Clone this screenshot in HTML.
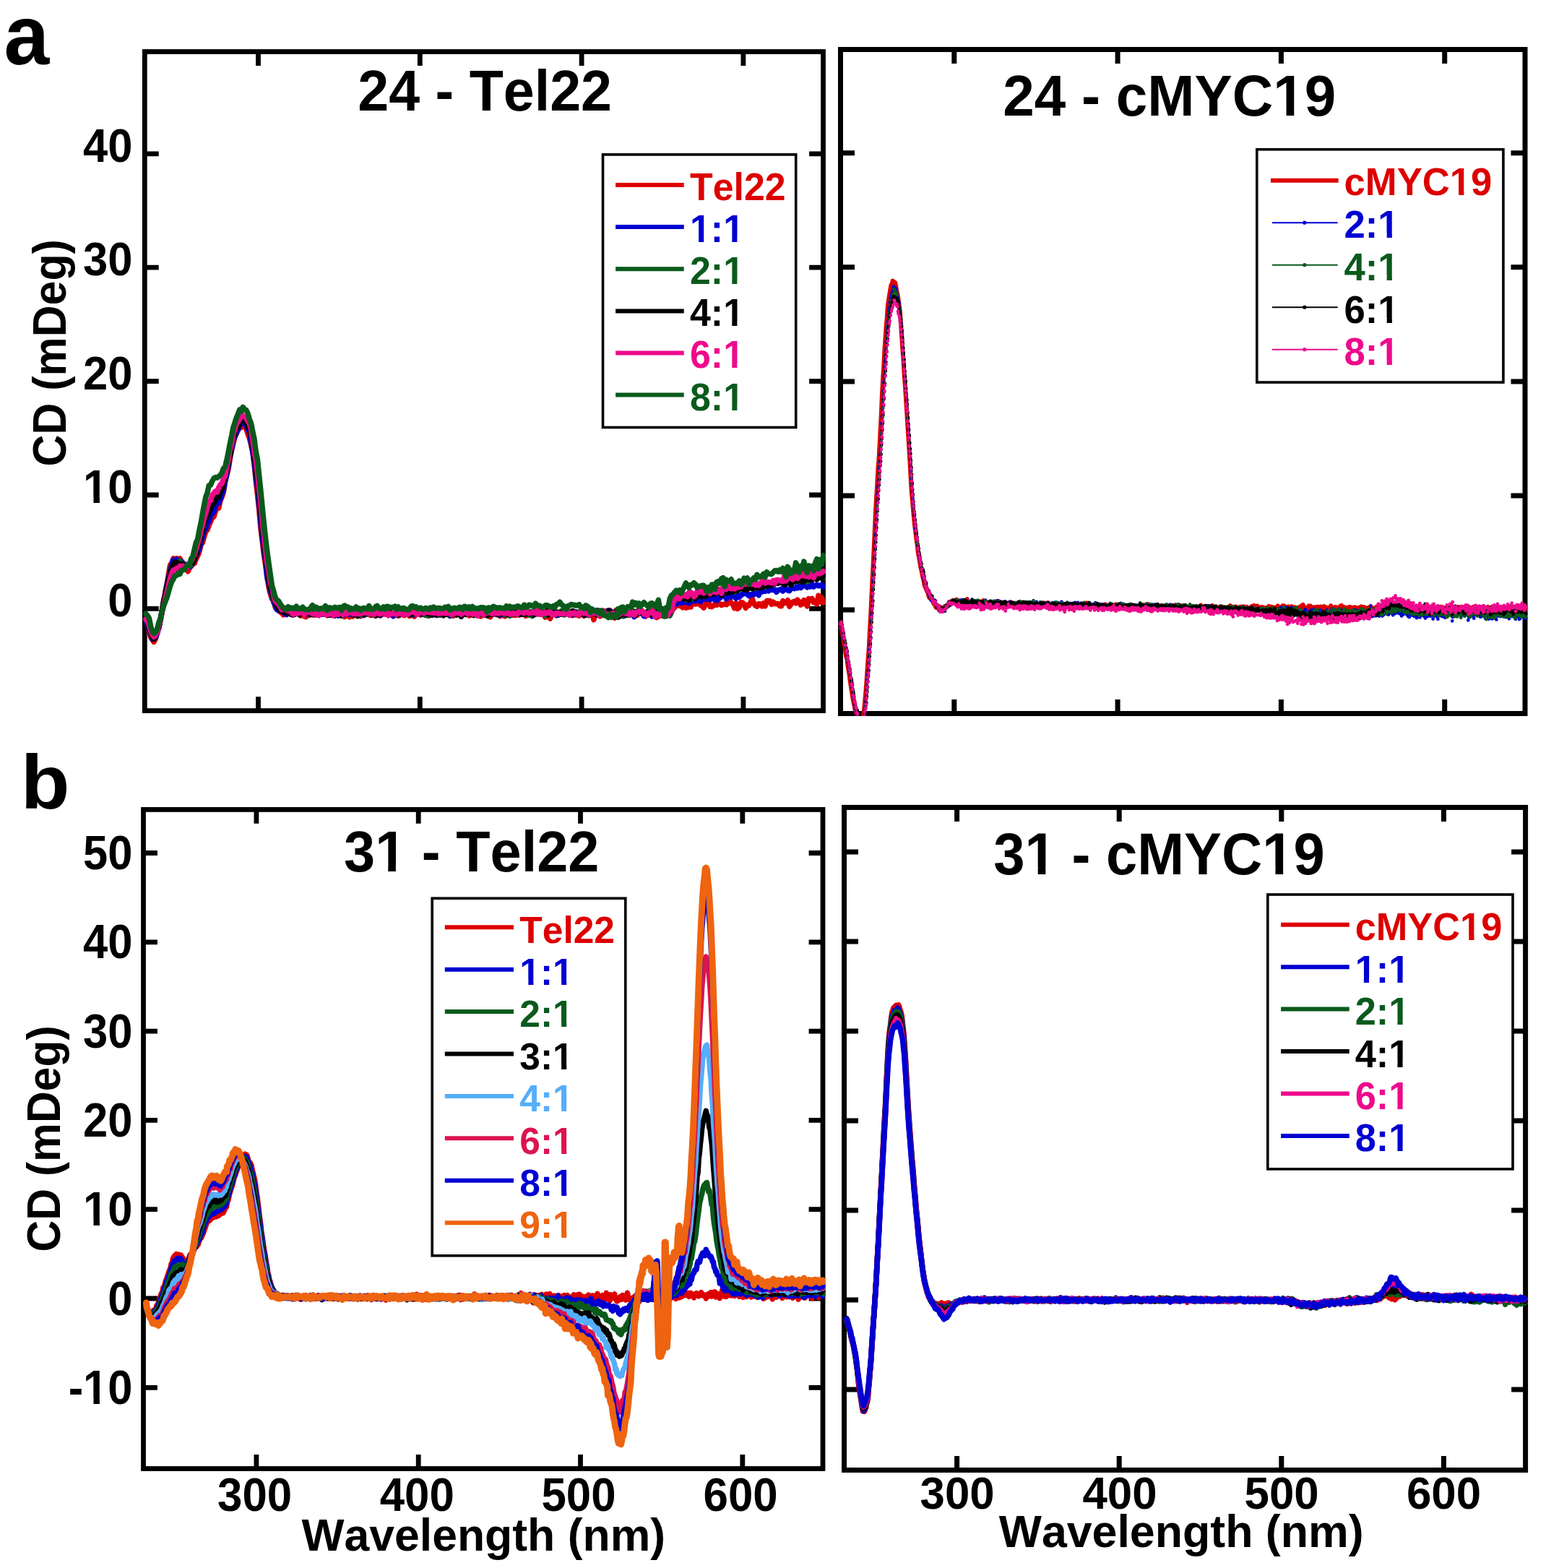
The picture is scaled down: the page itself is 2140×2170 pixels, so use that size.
<!DOCTYPE html><html><head><meta charset="utf-8"><title>CD spectra</title><style>html,body{margin:0;padding:0;background:#fff;overflow:hidden;}svg{display:block;}</style></head><body><svg width="2140" height="2170" viewBox="0 0 2140 2170">
<defs><clipPath id="cAL"><rect x="196.9" y="68.1" width="946.0" height="918.9"/></clipPath><clipPath id="cAR"><rect x="1160.0" y="65.0" width="954.5" height="926.0"/></clipPath><clipPath id="cBL"><rect x="195.1" y="1117.0" width="947.3" height="918.9"/></clipPath><clipPath id="cBR"><rect x="1165.0" y="1113.9" width="950.1" height="924.1"/></clipPath></defs>
<rect width="2140" height="2170" fill="#fff"/>
<rect x="200.3" y="71.5" width="939.2" height="912.1" fill="none" stroke="#000" stroke-width="6.8"/>
<path d="M357.5,71.5v19.4M357.5,983.6v-19.4M581.3,71.5v19.4M581.3,983.6v-19.4M805.1,71.5v19.4M805.1,983.6v-19.4M1028.9,71.5v19.4M1028.9,983.6v-19.4M200.3,842.4h19.4M1139.5,842.4h-19.4M200.3,685.0h19.4M1139.5,685.0h-19.4M200.3,527.6h19.4M1139.5,527.6h-19.4M200.3,370.2h19.4M1139.5,370.2h-19.4M200.3,212.8h19.4M1139.5,212.8h-19.4" stroke="#000" stroke-width="6.8" fill="none"/>
<rect x="1163.5" y="68.5" width="947.5" height="919.0" fill="none" stroke="#000" stroke-width="7.0"/>
<path d="M1320.8,68.5v19.5M1320.8,987.5v-19.5M1547.1,68.5v19.5M1547.1,987.5v-19.5M1773.4,68.5v19.5M1773.4,987.5v-19.5M1999.7,68.5v19.5M1999.7,987.5v-19.5M1163.5,844.1h19.5M2111.0,844.1h-19.5M1163.5,686.0h19.5M2111.0,686.0h-19.5M1163.5,527.9h19.5M2111.0,527.9h-19.5M1163.5,369.8h19.5M2111.0,369.8h-19.5M1163.5,211.7h19.5M2111.0,211.7h-19.5" stroke="#000" stroke-width="7.0" fill="none"/>
<rect x="198.5" y="1120.4" width="940.5" height="912.1" fill="none" stroke="#000" stroke-width="6.8"/>
<path d="M354.9,1120.4v19.4M354.9,2032.5v-19.4M579.2,1120.4v19.4M579.2,2032.5v-19.4M803.5,1120.4v19.4M803.5,2032.5v-19.4M1027.8,1120.4v19.4M1027.8,2032.5v-19.4M198.5,1920.3h19.4M1139.0,1920.3h-19.4M198.5,1797.0h19.4M1139.0,1797.0h-19.4M198.5,1673.7h19.4M1139.0,1673.7h-19.4M198.5,1550.4h19.4M1139.0,1550.4h-19.4M198.5,1427.1h19.4M1139.0,1427.1h-19.4M198.5,1303.8h19.4M1139.0,1303.8h-19.4M198.5,1180.5h19.4M1139.0,1180.5h-19.4" stroke="#000" stroke-width="6.8" fill="none"/>
<rect x="1168.5" y="1117.4" width="943.1" height="917.1" fill="none" stroke="#000" stroke-width="7.0"/>
<path d="M1324.6,1117.4v19.5M1324.6,2034.5v-19.5M1549.2,1117.4v19.5M1549.2,2034.5v-19.5M1773.8,1117.4v19.5M1773.8,2034.5v-19.5M1998.4,1117.4v19.5M1998.4,2034.5v-19.5M1168.5,1923.0h19.5M2111.6,1923.0h-19.5M1168.5,1799.0h19.5M2111.6,1799.0h-19.5M1168.5,1675.0h19.5M2111.6,1675.0h-19.5M1168.5,1551.0h19.5M2111.6,1551.0h-19.5M1168.5,1427.0h19.5M2111.6,1427.0h-19.5M1168.5,1303.0h19.5M2111.6,1303.0h-19.5M1168.5,1179.0h19.5M2111.6,1179.0h-19.5" stroke="#000" stroke-width="7.0" fill="none"/>
<g clip-path="url(#cAL)">
<polyline points="202.0,858.1 204.2,864.0 206.4,873.4 208.7,882.0 210.9,885.1 213.1,888.4 215.4,883.8 217.6,873.7 219.9,869.0 222.1,858.6 224.3,844.5 226.6,832.2 228.8,819.1 231.1,808.4 233.3,795.0 235.5,782.4 237.8,779.0 240.0,772.9 242.2,773.9 244.5,772.9 246.7,774.8 249.0,773.0 251.2,778.5 253.4,778.9 255.7,782.3 257.9,785.7 260.1,790.8 262.4,785.9 264.6,783.4 266.9,780.2 269.1,779.8 271.3,773.6 273.6,769.5 275.8,763.5 278.1,753.8 280.3,751.2 282.5,743.1 284.8,735.5 287.0,733.1 289.2,727.1 291.5,721.7 293.7,716.9 296.0,714.9 298.2,707.9 300.4,701.4 302.7,703.2 304.9,693.0 307.1,687.7 309.4,681.2 311.6,666.5 313.9,657.4 316.1,649.1 318.3,635.1 320.6,622.5 322.8,613.8 325.0,604.6 327.3,600.1 329.5,593.9 331.8,589.4 334.0,591.5 336.2,588.6 338.5,591.1 340.7,593.1 343.0,600.1 345.2,606.0 347.4,614.6 349.7,625.0 351.9,640.8 354.1,664.1 356.4,684.0 358.6,704.2 360.9,731.1 363.1,748.8 365.3,767.0 367.6,781.8 369.8,798.6 372.0,812.2 374.3,821.6 376.5,828.9 378.8,831.0 381.0,839.9 383.2,843.4 385.5,844.2 387.7,846.8 390.0,848.2 392.2,850.8 394.4,848.8 396.7,849.8 398.9,846.6 401.1,847.7 403.4,849.2 405.6,847.9 407.9,850.0 410.1,847.2 412.3,849.4 414.6,848.2 416.8,852.1 419.0,848.8 421.3,852.9 423.5,853.6 425.8,850.1 428.0,851.3 430.2,849.1 432.5,844.9 434.7,851.2 436.9,850.8 439.2,849.1 441.4,848.5 443.7,849.8 445.9,849.9 448.1,848.0 450.4,848.4 452.6,851.6 454.9,849.6 457.1,849.4 459.3,851.6 461.6,849.0 463.8,851.2 466.0,847.5 468.3,849.1 470.5,849.3 472.8,850.7 475.0,849.7 477.2,853.6 479.5,851.8 481.7,848.7 483.9,853.8 486.2,847.8 488.4,853.1 490.7,847.9 492.9,851.2 495.1,847.9 497.4,849.2 499.6,852.6 501.9,846.9 504.1,846.5 506.3,849.6 508.6,850.0 510.8,849.8 513.0,851.5 515.3,847.2 517.5,850.6 519.8,849.6 522.0,851.1 524.2,850.8 526.5,852.1 528.7,846.9 530.9,849.8 533.2,847.5 535.4,849.5 537.7,850.9 539.9,850.2 542.1,850.6 544.4,849.5 546.6,850.3 548.8,850.1 551.1,852.3 553.3,851.1 555.6,846.1 557.8,850.9 560.0,851.6 562.3,848.8 564.5,846.6 566.8,852.5 569.0,849.9 571.2,850.8 573.5,853.1 575.7,848.0 577.9,849.5 580.2,849.3 582.4,851.0 584.7,848.6 586.9,850.6 589.1,849.8 591.4,851.8 593.6,852.0 595.8,846.8 598.1,850.5 600.3,848.9 602.6,849.6 604.8,850.4 607.0,850.5 609.3,848.2 611.5,850.1 613.8,849.8 616.0,849.4 618.2,847.1 620.5,848.1 622.7,848.7 624.9,850.6 627.2,852.3 629.4,847.5 631.7,847.5 633.9,849.8 636.1,848.4 638.4,847.9 640.6,847.8 642.8,847.6 645.1,850.4 647.3,846.4 649.6,852.0 651.8,847.7 654.0,848.5 656.3,847.7 658.5,845.6 660.7,846.4 663.0,851.8 665.2,852.9 667.5,847.8 669.7,851.6 671.9,849.5 674.2,847.8 676.4,852.8 678.7,853.8 680.9,849.0 683.1,849.4 685.4,850.0 687.6,849.4 689.8,851.2 692.1,852.6 694.3,849.8 696.6,851.5 698.8,852.8 701.0,848.4 703.3,849.6 705.5,848.7 707.7,851.5 710.0,850.8 712.2,851.5 714.5,851.3 716.7,849.1 718.9,851.1 721.2,848.8 723.4,848.8 725.7,845.3 727.9,852.3 730.1,847.7 732.4,849.7 734.6,849.5 736.8,852.4 739.1,850.4 741.3,848.0 743.6,849.7 745.8,849.3 748.0,850.1 750.3,847.1 752.5,849.5 754.7,854.0 757.0,850.9 759.2,853.5 761.5,856.1 763.7,850.6 765.9,846.8 768.2,849.4 770.4,851.9 772.6,851.4 774.9,847.2 777.1,849.2 779.4,849.4 781.6,849.6 783.8,849.4 786.1,847.8 788.3,848.4 790.6,849.0 792.8,851.6 795.0,848.4 797.3,850.9 799.5,847.2 801.7,852.1 804.0,849.8 806.2,849.5 808.5,852.2 810.7,846.0 812.9,846.5 815.2,850.4 817.4,847.1 819.6,848.3 821.9,857.7 824.1,848.7 826.4,849.7 828.6,849.2 830.8,852.9 833.1,850.3 835.3,850.0 837.6,845.7 839.8,848.4 842.0,849.5 844.3,844.7 846.5,851.2 848.7,850.7 851.0,855.2 853.2,844.5 855.5,846.4 857.7,846.6 859.9,847.4 862.2,849.1 864.4,848.8 866.6,850.3 868.9,850.1 871.1,849.3 873.4,844.7 875.6,847.7 877.8,849.7 880.1,851.3 882.3,851.5 884.5,844.4 886.8,847.9 889.0,849.3 891.3,850.6 893.5,853.0 895.7,849.7 898.0,846.7 900.2,850.7 902.5,850.2 904.7,850.2 906.9,849.1 909.2,854.5 911.4,850.2 913.6,852.2 915.9,846.7 918.1,851.9 920.4,847.7 922.6,844.7 924.8,850.5 927.1,851.4 929.3,847.7 931.5,842.1 933.8,841.1 936.0,836.4 938.3,831.4 940.5,838.5 942.7,838.2 945.0,840.8 947.2,836.4 949.5,841.2 951.7,840.7 953.9,833.1 956.2,840.0 958.4,833.6 960.6,832.2 962.9,836.1 965.1,835.2 967.4,830.7 969.6,837.5 971.8,838.7 974.1,841.0 976.3,836.6 978.5,832.1 980.8,833.7 983.0,839.6 985.3,839.4 987.5,838.2 989.7,835.7 992.0,837.3 994.2,835.9 996.4,835.6 998.7,837.5 1000.9,836.7 1003.2,835.9 1005.4,836.8 1007.6,834.9 1009.9,830.6 1012.1,834.6 1014.4,836.2 1016.6,841.7 1018.8,835.1 1021.1,842.4 1023.3,840.7 1025.5,833.5 1027.8,833.9 1030.0,836.5 1032.3,841.4 1034.5,837.1 1036.7,838.0 1039.0,833.8 1041.2,828.6 1043.4,835.0 1045.7,838.1 1047.9,839.2 1050.2,835.6 1052.4,835.9 1054.6,838.9 1056.9,834.9 1059.1,838.8 1061.4,831.6 1063.6,831.6 1065.8,831.5 1068.1,836.3 1070.3,833.1 1072.5,835.1 1074.8,835.8 1077.0,835.5 1079.3,838.5 1081.5,838.8 1083.7,831.7 1086.0,834.7 1088.2,833.4 1090.4,830.8 1092.7,839.3 1094.9,836.3 1097.2,833.1 1099.4,832.4 1101.6,834.7 1103.9,830.2 1106.1,832.7 1108.3,837.1 1110.6,836.1 1112.8,830.6 1115.1,831.6 1117.3,838.9 1119.5,828.6 1121.8,830.9 1124.0,828.4 1126.3,833.8 1128.5,833.4 1130.7,836.0 1133.0,824.3 1135.2,832.8 1137.4,827.1 1139.7,834.1" fill="none" stroke="#dd0000" stroke-width="7.5" stroke-linejoin="round" stroke-linecap="round" />
<polyline points="202.0,856.9 204.2,865.3 206.4,871.1 208.7,876.7 210.9,884.5 213.1,883.3 215.4,882.1 217.6,877.0 219.9,868.0 222.1,857.7 224.3,845.9 226.6,834.8 228.8,822.6 231.1,809.9 233.3,800.1 235.5,790.1 237.8,780.9 240.0,775.1 242.2,776.6 244.5,774.1 246.7,775.5 249.0,777.0 251.2,776.8 253.4,781.7 255.7,781.0 257.9,786.6 260.1,784.5 262.4,784.1 264.6,783.0 266.9,777.7 269.1,774.8 271.3,769.0 273.6,764.3 275.8,759.5 278.1,751.3 280.3,743.8 282.5,735.1 284.8,731.6 287.0,724.3 289.2,721.7 291.5,713.1 293.7,711.2 296.0,708.0 298.2,701.2 300.4,695.8 302.7,696.2 304.9,690.7 307.1,684.1 309.4,677.2 311.6,666.1 313.9,657.0 316.1,644.9 318.3,631.3 320.6,622.0 322.8,609.9 325.0,604.5 327.3,598.8 329.5,595.0 331.8,586.0 334.0,587.0 336.2,585.1 338.5,586.6 340.7,589.1 343.0,593.5 345.2,597.6 347.4,611.4 349.7,624.6 351.9,639.5 354.1,657.6 356.4,674.6 358.6,697.0 360.9,721.3 363.1,742.9 365.3,760.8 367.6,776.0 369.8,798.8 372.0,805.9 374.3,818.7 376.5,823.7 378.8,833.4 381.0,837.5 383.2,843.3 385.5,844.9 387.7,842.9 390.0,845.0 392.2,847.8 394.4,848.8 396.7,850.6 398.9,848.4 401.1,847.9 403.4,848.8 405.6,848.8 407.9,850.4 410.1,848.8 412.3,848.8 414.6,846.7 416.8,845.8 419.0,848.9 421.3,849.9 423.5,848.8 425.8,849.7 428.0,849.9 430.2,848.8 432.5,850.4 434.7,847.8 436.9,848.9 439.2,848.3 441.4,849.0 443.7,849.9 445.9,850.2 448.1,849.1 450.4,849.6 452.6,848.4 454.9,848.8 457.1,850.9 459.3,848.7 461.6,850.9 463.8,849.8 466.0,849.3 468.3,852.1 470.5,848.7 472.8,848.6 475.0,849.1 477.2,849.5 479.5,849.4 481.7,850.4 483.9,849.2 486.2,849.7 488.4,848.7 490.7,850.7 492.9,848.5 495.1,848.6 497.4,849.1 499.6,849.5 501.9,848.0 504.1,851.5 506.3,848.1 508.6,848.5 510.8,848.4 513.0,848.2 515.3,849.9 517.5,849.3 519.8,847.9 522.0,848.2 524.2,848.5 526.5,851.3 528.7,848.0 530.9,847.0 533.2,847.3 535.4,848.5 537.7,851.3 539.9,847.4 542.1,849.1 544.4,852.9 546.6,848.3 548.8,851.2 551.1,850.9 553.3,849.9 555.6,846.9 557.8,849.5 560.0,848.5 562.3,846.1 564.5,846.4 566.8,849.1 569.0,849.3 571.2,850.9 573.5,850.0 575.7,848.2 577.9,848.3 580.2,848.7 582.4,847.3 584.7,850.1 586.9,849.0 589.1,847.7 591.4,848.0 593.6,847.2 595.8,848.3 598.1,849.4 600.3,848.3 602.6,850.5 604.8,851.5 607.0,848.0 609.3,849.0 611.5,848.4 613.8,851.6 616.0,849.5 618.2,849.8 620.5,850.3 622.7,852.4 624.9,849.4 627.2,847.5 629.4,848.3 631.7,849.8 633.9,848.9 636.1,847.7 638.4,853.2 640.6,849.1 642.8,848.0 645.1,847.8 647.3,846.2 649.6,847.1 651.8,848.4 654.0,848.4 656.3,847.7 658.5,849.7 660.7,849.0 663.0,847.5 665.2,845.8 667.5,849.1 669.7,849.0 671.9,848.6 674.2,846.8 676.4,848.9 678.7,846.6 680.9,850.4 683.1,849.2 685.4,849.2 687.6,847.7 689.8,847.2 692.1,851.3 694.3,850.3 696.6,848.4 698.8,849.9 701.0,851.3 703.3,847.3 705.5,848.1 707.7,848.1 710.0,849.6 712.2,847.3 714.5,849.3 716.7,847.2 718.9,850.3 721.2,850.2 723.4,848.6 725.7,850.0 727.9,847.8 730.1,848.5 732.4,850.3 734.6,848.8 736.8,849.4 739.1,847.5 741.3,849.9 743.6,849.6 745.8,847.0 748.0,845.4 750.3,845.7 752.5,848.8 754.7,848.5 757.0,846.5 759.2,849.1 761.5,850.4 763.7,848.7 765.9,848.2 768.2,850.2 770.4,851.5 772.6,851.2 774.9,847.8 777.1,850.1 779.4,849.1 781.6,848.6 783.8,847.9 786.1,849.4 788.3,848.1 790.6,850.3 792.8,849.5 795.0,850.5 797.3,847.1 799.5,848.9 801.7,850.1 804.0,849.4 806.2,849.2 808.5,847.8 810.7,851.4 812.9,850.5 815.2,849.5 817.4,843.7 819.6,846.9 821.9,849.1 824.1,847.4 826.4,844.7 828.6,849.4 830.8,849.6 833.1,846.4 835.3,847.9 837.6,847.5 839.8,849.9 842.0,845.0 844.3,845.4 846.5,847.7 848.7,847.5 851.0,853.0 853.2,847.6 855.5,849.3 857.7,848.0 859.9,847.5 862.2,849.6 864.4,852.4 866.6,848.1 868.9,850.4 871.1,849.6 873.4,850.1 875.6,849.6 877.8,853.6 880.1,846.4 882.3,848.4 884.5,846.6 886.8,844.8 889.0,848.8 891.3,852.6 893.5,850.7 895.7,851.4 898.0,849.9 900.2,848.7 902.5,853.0 904.7,848.2 906.9,852.0 909.2,848.3 911.4,849.1 913.6,849.5 915.9,849.0 918.1,850.0 920.4,850.1 922.6,852.3 924.8,849.0 927.1,845.1 929.3,842.2 931.5,837.9 933.8,833.6 936.0,836.1 938.3,831.5 940.5,834.2 942.7,834.0 945.0,834.1 947.2,833.0 949.5,833.8 951.7,832.8 953.9,834.6 956.2,832.8 958.4,827.1 960.6,831.6 962.9,831.7 965.1,829.8 967.4,829.1 969.6,832.6 971.8,830.4 974.1,827.8 976.3,828.9 978.5,828.9 980.8,825.6 983.0,829.9 985.3,828.1 987.5,829.0 989.7,824.6 992.0,831.3 994.2,828.4 996.4,827.8 998.7,825.1 1000.9,824.9 1003.2,823.0 1005.4,828.8 1007.6,823.8 1009.9,825.6 1012.1,826.1 1014.4,823.3 1016.6,826.0 1018.8,828.1 1021.1,824.3 1023.3,826.3 1025.5,824.3 1027.8,821.9 1030.0,821.7 1032.3,818.8 1034.5,822.2 1036.7,824.6 1039.0,822.7 1041.2,822.8 1043.4,823.1 1045.7,819.4 1047.9,821.3 1050.2,823.7 1052.4,818.0 1054.6,819.3 1056.9,818.1 1059.1,818.3 1061.4,816.9 1063.6,817.9 1065.8,815.1 1068.1,816.5 1070.3,816.2 1072.5,815.9 1074.8,819.4 1077.0,816.5 1079.3,816.4 1081.5,815.1 1083.7,818.1 1086.0,811.6 1088.2,814.5 1090.4,816.9 1092.7,817.6 1094.9,814.4 1097.2,813.7 1099.4,814.7 1101.6,812.7 1103.9,813.9 1106.1,811.2 1108.3,813.5 1110.6,811.8 1112.8,809.4 1115.1,805.9 1117.3,812.9 1119.5,811.5 1121.8,812.0 1124.0,808.4 1126.3,812.0 1128.5,810.4 1130.7,809.2 1133.0,810.8 1135.2,810.5 1137.4,809.2 1139.7,812.2" fill="none" stroke="#0000d2" stroke-width="7.5" stroke-linejoin="round" stroke-linecap="round" />
<polyline points="202.0,857.9 204.2,860.2 206.4,866.4 208.7,875.4 210.9,882.6 213.1,883.3 215.4,879.1 217.6,872.6 219.9,866.0 222.1,857.8 224.3,845.2 226.6,836.6 228.8,826.5 231.1,815.4 233.3,802.1 235.5,794.7 237.8,786.4 240.0,784.7 242.2,779.8 244.5,781.3 246.7,780.3 249.0,776.4 251.2,780.5 253.4,784.0 255.7,784.7 257.9,784.9 260.1,782.4 262.4,782.8 264.6,782.0 266.9,776.0 269.1,770.9 271.3,765.4 273.6,756.6 275.8,750.4 278.1,741.7 280.3,736.1 282.5,724.6 284.8,715.0 287.0,710.2 289.2,705.5 291.5,700.8 293.7,694.0 296.0,694.4 298.2,689.7 300.4,685.7 302.7,682.2 304.9,680.2 307.1,674.1 309.4,668.4 311.6,659.9 313.9,650.5 316.1,640.8 318.3,627.2 320.6,614.5 322.8,607.3 325.0,598.3 327.3,590.6 329.5,588.4 331.8,583.0 334.0,582.2 336.2,577.8 338.5,576.8 340.7,579.6 343.0,587.1 345.2,592.4 347.4,602.2 349.7,614.2 351.9,626.6 354.1,647.7 356.4,663.0 358.6,686.4 360.9,705.5 363.1,728.6 365.3,750.2 367.6,767.4 369.8,783.8 372.0,798.7 374.3,809.9 376.5,821.1 378.8,831.0 381.0,832.2 383.2,836.8 385.5,840.5 387.7,842.4 390.0,842.3 392.2,845.6 394.4,846.4 396.7,845.9 398.9,843.9 401.1,848.0 403.4,846.6 405.6,849.5 407.9,850.2 410.1,846.5 412.3,848.6 414.6,850.5 416.8,849.1 419.0,847.0 421.3,846.6 423.5,849.2 425.8,847.9 428.0,847.4 430.2,849.5 432.5,848.0 434.7,848.6 436.9,849.4 439.2,849.3 441.4,848.4 443.7,848.5 445.9,849.4 448.1,849.2 450.4,846.8 452.6,848.2 454.9,847.2 457.1,846.7 459.3,847.7 461.6,845.0 463.8,849.9 466.0,847.3 468.3,849.1 470.5,845.7 472.8,845.9 475.0,851.7 477.2,850.1 479.5,847.6 481.7,847.4 483.9,847.5 486.2,848.7 488.4,847.9 490.7,847.6 492.9,848.8 495.1,847.0 497.4,852.2 499.6,847.6 501.9,850.3 504.1,847.1 506.3,849.0 508.6,850.1 510.8,848.1 513.0,850.1 515.3,850.1 517.5,851.1 519.8,848.7 522.0,847.9 524.2,847.1 526.5,848.9 528.7,847.0 530.9,848.6 533.2,848.8 535.4,847.8 537.7,847.0 539.9,849.2 542.1,849.1 544.4,848.9 546.6,848.6 548.8,850.1 551.1,847.1 553.3,849.3 555.6,848.0 557.8,850.0 560.0,848.1 562.3,848.1 564.5,849.4 566.8,845.5 569.0,848.1 571.2,845.9 573.5,847.2 575.7,849.7 577.9,849.3 580.2,848.0 582.4,848.6 584.7,848.6 586.9,849.1 589.1,851.5 591.4,849.1 593.6,852.2 595.8,848.1 598.1,849.8 600.3,849.8 602.6,849.0 604.8,848.3 607.0,850.9 609.3,851.4 611.5,850.4 613.8,851.9 616.0,850.2 618.2,846.2 620.5,850.4 622.7,847.7 624.9,850.9 627.2,848.2 629.4,849.2 631.7,848.8 633.9,847.8 636.1,845.9 638.4,848.4 640.6,848.5 642.8,850.2 645.1,847.8 647.3,849.1 649.6,847.4 651.8,848.8 654.0,846.0 656.3,851.8 658.5,849.2 660.7,847.3 663.0,849.2 665.2,849.9 667.5,849.1 669.7,850.9 671.9,848.5 674.2,844.9 676.4,846.9 678.7,850.4 680.9,850.1 683.1,849.3 685.4,847.1 687.6,850.0 689.8,849.8 692.1,847.3 694.3,847.3 696.6,849.3 698.8,850.5 701.0,851.1 703.3,849.8 705.5,852.2 707.7,847.5 710.0,849.7 712.2,847.9 714.5,845.8 716.7,846.8 718.9,850.5 721.2,847.3 723.4,846.9 725.7,849.9 727.9,850.2 730.1,848.9 732.4,851.2 734.6,846.4 736.8,852.5 739.1,850.4 741.3,849.1 743.6,849.1 745.8,848.4 748.0,848.3 750.3,849.0 752.5,846.9 754.7,852.1 757.0,848.7 759.2,849.8 761.5,848.5 763.7,848.3 765.9,850.1 768.2,849.7 770.4,847.4 772.6,848.1 774.9,849.8 777.1,845.5 779.4,845.1 781.6,851.0 783.8,848.2 786.1,844.7 788.3,847.5 790.6,848.3 792.8,849.0 795.0,849.5 797.3,849.0 799.5,849.6 801.7,847.5 804.0,849.3 806.2,849.4 808.5,850.6 810.7,848.8 812.9,850.1 815.2,849.0 817.4,846.6 819.6,847.9 821.9,847.7 824.1,848.0 826.4,848.6 828.6,849.0 830.8,849.3 833.1,847.1 835.3,850.9 837.6,846.0 839.8,848.6 842.0,850.2 844.3,849.7 846.5,850.1 848.7,848.4 851.0,850.2 853.2,846.4 855.5,850.3 857.7,853.3 859.9,850.2 862.2,852.8 864.4,848.8 866.6,846.5 868.9,847.4 871.1,851.4 873.4,850.3 875.6,845.1 877.8,848.0 880.1,848.7 882.3,846.5 884.5,843.7 886.8,846.0 889.0,848.4 891.3,848.0 893.5,847.4 895.7,849.9 898.0,850.9 900.2,848.6 902.5,850.6 904.7,848.8 906.9,848.5 909.2,843.9 911.4,850.4 913.6,848.9 915.9,849.0 918.1,847.8 920.4,846.6 922.6,849.7 924.8,850.4 927.1,852.1 929.3,846.8 931.5,835.4 933.8,828.1 936.0,830.0 938.3,828.3 940.5,827.1 942.7,825.8 945.0,827.7 947.2,826.7 949.5,829.6 951.7,827.9 953.9,821.9 956.2,829.3 958.4,825.2 960.6,823.7 962.9,824.6 965.1,825.1 967.4,823.3 969.6,822.8 971.8,822.6 974.1,826.0 976.3,822.1 978.5,823.2 980.8,822.2 983.0,820.3 985.3,819.1 987.5,818.2 989.7,820.7 992.0,817.5 994.2,816.6 996.4,816.4 998.7,815.5 1000.9,818.3 1003.2,818.0 1005.4,815.7 1007.6,819.8 1009.9,816.2 1012.1,817.4 1014.4,816.7 1016.6,819.2 1018.8,817.1 1021.1,815.0 1023.3,812.8 1025.5,812.3 1027.8,814.1 1030.0,814.0 1032.3,815.0 1034.5,812.1 1036.7,813.1 1039.0,811.0 1041.2,808.3 1043.4,811.6 1045.7,814.3 1047.9,812.6 1050.2,813.5 1052.4,812.6 1054.6,807.2 1056.9,809.1 1059.1,812.3 1061.4,807.5 1063.6,805.9 1065.8,808.9 1068.1,809.2 1070.3,808.2 1072.5,806.6 1074.8,805.5 1077.0,804.0 1079.3,803.6 1081.5,803.3 1083.7,802.6 1086.0,803.7 1088.2,807.9 1090.4,804.7 1092.7,803.4 1094.9,804.5 1097.2,801.5 1099.4,803.8 1101.6,804.6 1103.9,799.4 1106.1,800.7 1108.3,801.2 1110.6,799.5 1112.8,798.8 1115.1,800.0 1117.3,805.4 1119.5,801.4 1121.8,800.6 1124.0,801.3 1126.3,798.6 1128.5,796.2 1130.7,799.3 1133.0,800.3 1135.2,793.5 1137.4,798.2 1139.7,799.4" fill="none" stroke="#0a5a1c" stroke-width="7.5" stroke-linejoin="round" stroke-linecap="round" />
<polyline points="202.0,855.6 204.2,859.5 206.4,868.5 208.7,874.5 210.9,881.2 213.1,884.5 215.4,880.5 217.6,872.7 219.9,867.1 222.1,856.0 224.3,846.2 226.6,830.9 228.8,825.1 231.1,811.0 233.3,803.3 235.5,793.8 237.8,785.6 240.0,781.0 242.2,777.9 244.5,778.6 246.7,779.9 249.0,780.2 251.2,780.2 253.4,781.9 255.7,782.2 257.9,784.7 260.1,782.8 262.4,780.0 264.6,779.5 266.9,778.5 269.1,773.5 271.3,768.7 273.6,757.3 275.8,753.6 278.1,742.7 280.3,735.4 282.5,725.4 284.8,719.1 287.0,714.1 289.2,708.8 291.5,703.5 293.7,699.1 296.0,696.2 298.2,691.9 300.4,686.1 302.7,688.1 304.9,681.0 307.1,677.7 309.4,669.2 311.6,660.1 313.9,651.4 316.1,638.7 318.3,630.7 320.6,615.1 322.8,607.7 325.0,598.0 327.3,592.4 329.5,591.9 331.8,585.6 334.0,581.4 336.2,578.3 338.5,581.2 340.7,583.7 343.0,590.4 345.2,592.7 347.4,601.0 349.7,615.8 351.9,631.2 354.1,650.1 356.4,665.5 358.6,684.5 360.9,709.0 363.1,729.3 365.3,750.5 367.6,771.5 369.8,784.7 372.0,802.3 374.3,812.2 376.5,820.9 378.8,827.0 381.0,833.6 383.2,837.9 385.5,842.4 387.7,845.1 390.0,844.3 392.2,846.4 394.4,847.8 396.7,848.0 398.9,846.9 401.1,849.2 403.4,850.6 405.6,851.1 407.9,848.2 410.1,847.9 412.3,845.4 414.6,850.9 416.8,849.6 419.0,847.1 421.3,848.9 423.5,849.1 425.8,845.9 428.0,849.1 430.2,850.4 432.5,850.6 434.7,848.0 436.9,848.1 439.2,850.7 441.4,850.1 443.7,847.8 445.9,847.7 448.1,849.6 450.4,847.6 452.6,847.7 454.9,851.4 457.1,849.1 459.3,848.0 461.6,849.5 463.8,852.0 466.0,849.1 468.3,847.5 470.5,846.2 472.8,852.1 475.0,844.5 477.2,850.4 479.5,847.1 481.7,846.7 483.9,847.1 486.2,848.4 488.4,850.5 490.7,847.7 492.9,849.8 495.1,852.6 497.4,844.2 499.6,847.6 501.9,845.8 504.1,850.1 506.3,846.4 508.6,846.2 510.8,846.2 513.0,848.7 515.3,850.6 517.5,849.0 519.8,852.2 522.0,851.4 524.2,848.6 526.5,850.3 528.7,849.0 530.9,848.9 533.2,845.7 535.4,846.7 537.7,848.8 539.9,846.8 542.1,849.9 544.4,849.3 546.6,847.3 548.8,850.7 551.1,849.2 553.3,850.8 555.6,848.5 557.8,846.2 560.0,849.9 562.3,848.4 564.5,850.1 566.8,850.5 569.0,850.7 571.2,846.4 573.5,845.0 575.7,848.0 577.9,849.9 580.2,847.6 582.4,849.3 584.7,847.5 586.9,848.3 589.1,848.3 591.4,847.8 593.6,849.6 595.8,849.4 598.1,851.4 600.3,849.4 602.6,851.0 604.8,849.0 607.0,850.2 609.3,848.6 611.5,848.0 613.8,851.0 616.0,850.0 618.2,850.2 620.5,847.6 622.7,846.0 624.9,847.4 627.2,849.3 629.4,846.4 631.7,851.1 633.9,846.4 636.1,849.8 638.4,853.1 640.6,844.6 642.8,846.3 645.1,850.4 647.3,848.5 649.6,849.1 651.8,848.6 654.0,851.1 656.3,849.8 658.5,848.0 660.7,848.4 663.0,846.8 665.2,848.6 667.5,845.0 669.7,849.9 671.9,848.3 674.2,851.8 676.4,850.7 678.7,846.6 680.9,850.2 683.1,847.9 685.4,848.8 687.6,850.4 689.8,849.3 692.1,849.5 694.3,849.5 696.6,847.5 698.8,847.7 701.0,849.6 703.3,850.2 705.5,848.3 707.7,848.9 710.0,847.1 712.2,844.6 714.5,847.4 716.7,848.8 718.9,849.0 721.2,850.1 723.4,850.2 725.7,850.3 727.9,849.4 730.1,849.4 732.4,847.6 734.6,849.4 736.8,849.0 739.1,850.7 741.3,846.1 743.6,847.9 745.8,845.9 748.0,847.5 750.3,846.4 752.5,849.1 754.7,847.6 757.0,844.5 759.2,850.7 761.5,846.9 763.7,846.1 765.9,848.1 768.2,847.5 770.4,846.7 772.6,849.8 774.9,848.1 777.1,850.1 779.4,849.8 781.6,849.7 783.8,849.0 786.1,848.5 788.3,848.0 790.6,851.0 792.8,845.5 795.0,846.9 797.3,847.6 799.5,849.3 801.7,848.9 804.0,847.9 806.2,848.1 808.5,851.4 810.7,847.5 812.9,844.0 815.2,851.7 817.4,846.6 819.6,848.0 821.9,849.0 824.1,845.9 826.4,851.2 828.6,848.4 830.8,845.7 833.1,849.1 835.3,849.6 837.6,848.5 839.8,849.7 842.0,845.5 844.3,850.6 846.5,846.9 848.7,851.4 851.0,847.3 853.2,849.0 855.5,854.2 857.7,848.7 859.9,851.0 862.2,849.7 864.4,845.5 866.6,851.1 868.9,851.0 871.1,845.7 873.4,848.5 875.6,845.5 877.8,848.1 880.1,850.6 882.3,848.9 884.5,846.1 886.8,846.8 889.0,848.7 891.3,848.6 893.5,849.0 895.7,850.0 898.0,844.7 900.2,848.7 902.5,851.1 904.7,849.7 906.9,847.2 909.2,847.4 911.4,849.0 913.6,850.1 915.9,848.7 918.1,852.3 920.4,851.5 922.6,847.1 924.8,849.7 927.1,847.9 929.3,842.4 931.5,835.7 933.8,829.0 936.0,824.2 938.3,827.0 940.5,828.8 942.7,826.2 945.0,826.5 947.2,828.8 949.5,826.5 951.7,826.7 953.9,830.2 956.2,826.1 958.4,826.0 960.6,826.0 962.9,828.2 965.1,825.1 967.4,824.1 969.6,823.5 971.8,825.8 974.1,821.7 976.3,825.3 978.5,822.9 980.8,819.3 983.0,823.2 985.3,822.5 987.5,818.8 989.7,821.5 992.0,821.0 994.2,819.6 996.4,817.5 998.7,824.0 1000.9,820.8 1003.2,820.9 1005.4,820.7 1007.6,819.9 1009.9,819.5 1012.1,816.8 1014.4,818.9 1016.6,816.5 1018.8,815.6 1021.1,817.6 1023.3,815.5 1025.5,812.0 1027.8,814.4 1030.0,816.1 1032.3,814.6 1034.5,816.0 1036.7,813.2 1039.0,811.6 1041.2,814.8 1043.4,813.2 1045.7,810.1 1047.9,813.1 1050.2,811.4 1052.4,813.6 1054.6,812.8 1056.9,811.8 1059.1,806.0 1061.4,810.9 1063.6,810.9 1065.8,810.6 1068.1,809.5 1070.3,807.4 1072.5,808.1 1074.8,803.9 1077.0,807.3 1079.3,804.5 1081.5,806.6 1083.7,805.6 1086.0,809.4 1088.2,806.4 1090.4,805.9 1092.7,806.0 1094.9,809.5 1097.2,803.0 1099.4,805.3 1101.6,805.0 1103.9,804.3 1106.1,803.9 1108.3,802.3 1110.6,805.4 1112.8,804.4 1115.1,801.5 1117.3,801.5 1119.5,802.3 1121.8,802.3 1124.0,802.5 1126.3,800.6 1128.5,797.7 1130.7,802.0 1133.0,796.4 1135.2,797.4 1137.4,799.8 1139.7,796.9" fill="none" stroke="#000000" stroke-width="7.5" stroke-linejoin="round" stroke-linecap="round" />
<polyline points="202.0,856.7 204.2,859.7 206.4,865.5 208.7,873.3 210.9,878.2 213.1,881.5 215.4,878.4 217.6,875.4 219.9,864.1 222.1,858.2 224.3,847.5 226.6,837.7 228.8,829.1 231.1,820.1 233.3,810.7 235.5,800.6 237.8,793.3 240.0,789.0 242.2,788.5 244.5,786.6 246.7,786.0 249.0,783.5 251.2,787.8 253.4,783.2 255.7,786.3 257.9,786.7 260.1,783.1 262.4,779.0 264.6,776.7 266.9,771.4 269.1,767.8 271.3,760.1 273.6,752.3 275.8,745.6 278.1,734.2 280.3,726.6 282.5,717.2 284.8,710.3 287.0,701.6 289.2,694.1 291.5,692.7 293.7,685.6 296.0,682.7 298.2,679.8 300.4,681.1 302.7,675.1 304.9,670.9 307.1,669.1 309.4,661.8 311.6,658.6 313.9,644.8 316.1,636.1 318.3,621.8 320.6,614.9 322.8,600.8 325.0,594.3 327.3,586.3 329.5,583.9 331.8,579.7 334.0,572.2 336.2,576.2 338.5,576.8 340.7,577.9 343.0,582.9 345.2,586.0 347.4,593.7 349.7,609.2 351.9,624.7 354.1,635.8 356.4,654.1 358.6,675.5 360.9,696.2 363.1,720.8 365.3,740.6 367.6,761.8 369.8,779.6 372.0,790.8 374.3,806.6 376.5,812.7 378.8,824.3 381.0,831.9 383.2,834.2 385.5,835.8 387.7,839.8 390.0,843.9 392.2,842.4 394.4,841.4 396.7,844.7 398.9,845.3 401.1,842.6 403.4,848.1 405.6,850.1 407.9,848.9 410.1,849.5 412.3,847.9 414.6,848.2 416.8,846.5 419.0,847.2 421.3,850.8 423.5,847.7 425.8,847.0 428.0,847.7 430.2,846.8 432.5,849.2 434.7,849.9 436.9,846.9 439.2,850.1 441.4,851.8 443.7,846.8 445.9,849.5 448.1,848.9 450.4,850.6 452.6,850.5 454.9,850.2 457.1,849.0 459.3,847.8 461.6,852.0 463.8,847.2 466.0,850.3 468.3,850.1 470.5,847.4 472.8,848.6 475.0,850.9 477.2,845.5 479.5,849.8 481.7,848.1 483.9,848.1 486.2,846.2 488.4,849.2 490.7,846.9 492.9,849.6 495.1,846.7 497.4,849.7 499.6,849.1 501.9,845.5 504.1,848.0 506.3,848.3 508.6,845.0 510.8,847.9 513.0,849.8 515.3,847.3 517.5,850.4 519.8,846.7 522.0,846.6 524.2,849.4 526.5,849.5 528.7,848.2 530.9,848.5 533.2,850.1 535.4,847.6 537.7,851.7 539.9,849.2 542.1,849.2 544.4,849.0 546.6,848.0 548.8,850.5 551.1,847.6 553.3,848.8 555.6,849.6 557.8,850.7 560.0,850.4 562.3,848.0 564.5,850.1 566.8,848.4 569.0,846.9 571.2,846.9 573.5,846.1 575.7,849.0 577.9,850.2 580.2,846.9 582.4,848.1 584.7,846.8 586.9,848.5 589.1,846.7 591.4,847.2 593.6,847.4 595.8,847.7 598.1,847.9 600.3,848.2 602.6,848.2 604.8,847.0 607.0,849.3 609.3,845.8 611.5,848.7 613.8,847.0 616.0,848.7 618.2,848.9 620.5,845.3 622.7,849.0 624.9,850.5 627.2,849.7 629.4,849.0 631.7,845.1 633.9,848.2 636.1,847.1 638.4,850.1 640.6,848.0 642.8,847.5 645.1,845.7 647.3,849.6 649.6,847.6 651.8,848.1 654.0,850.1 656.3,848.6 658.5,849.0 660.7,852.2 663.0,847.6 665.2,847.7 667.5,849.2 669.7,850.6 671.9,846.2 674.2,848.1 676.4,846.9 678.7,846.3 680.9,849.4 683.1,847.3 685.4,848.9 687.6,848.6 689.8,848.7 692.1,848.5 694.3,846.8 696.6,848.3 698.8,848.8 701.0,849.0 703.3,848.0 705.5,849.9 707.7,849.3 710.0,848.6 712.2,849.4 714.5,848.7 716.7,849.5 718.9,845.4 721.2,846.4 723.4,847.8 725.7,848.6 727.9,845.1 730.1,848.0 732.4,848.7 734.6,848.1 736.8,848.1 739.1,846.3 741.3,848.6 743.6,845.2 745.8,849.9 748.0,847.4 750.3,850.1 752.5,845.7 754.7,849.1 757.0,848.6 759.2,847.1 761.5,846.6 763.7,850.3 765.9,849.1 768.2,850.7 770.4,848.3 772.6,848.7 774.9,849.1 777.1,849.6 779.4,849.1 781.6,849.7 783.8,847.7 786.1,846.2 788.3,851.6 790.6,848.7 792.8,849.2 795.0,847.8 797.3,850.0 799.5,848.8 801.7,850.2 804.0,847.4 806.2,848.4 808.5,848.8 810.7,848.0 812.9,848.9 815.2,851.0 817.4,847.1 819.6,847.9 821.9,848.9 824.1,846.2 826.4,845.7 828.6,851.1 830.8,850.4 833.1,844.9 835.3,845.2 837.6,850.3 839.8,851.3 842.0,850.0 844.3,849.7 846.5,852.3 848.7,848.5 851.0,851.6 853.2,851.4 855.5,846.4 857.7,850.2 859.9,848.7 862.2,847.1 864.4,846.6 866.6,849.3 868.9,848.4 871.1,850.5 873.4,844.4 875.6,847.0 877.8,851.1 880.1,848.5 882.3,846.9 884.5,847.4 886.8,844.2 889.0,845.3 891.3,849.8 893.5,848.7 895.7,851.6 898.0,847.9 900.2,848.2 902.5,842.2 904.7,848.3 906.9,853.5 909.2,850.1 911.4,848.3 913.6,851.5 915.9,850.6 918.1,849.4 920.4,847.7 922.6,848.9 924.8,850.6 927.1,846.7 929.3,845.7 931.5,836.4 933.8,829.3 936.0,827.5 938.3,823.8 940.5,828.7 942.7,824.7 945.0,822.5 947.2,824.7 949.5,822.9 951.7,825.7 953.9,819.6 956.2,819.8 958.4,821.4 960.6,825.8 962.9,823.7 965.1,818.6 967.4,816.5 969.6,819.4 971.8,816.8 974.1,820.8 976.3,819.5 978.5,818.7 980.8,817.3 983.0,821.6 985.3,815.4 987.5,814.1 989.7,819.6 992.0,819.7 994.2,815.3 996.4,817.3 998.7,821.0 1000.9,813.1 1003.2,814.3 1005.4,815.4 1007.6,808.9 1009.9,813.2 1012.1,814.9 1014.4,812.6 1016.6,814.9 1018.8,813.9 1021.1,810.8 1023.3,812.6 1025.5,812.0 1027.8,806.7 1030.0,808.2 1032.3,808.0 1034.5,808.2 1036.7,808.0 1039.0,805.3 1041.2,808.4 1043.4,803.6 1045.7,809.9 1047.9,807.9 1050.2,810.2 1052.4,807.4 1054.6,805.0 1056.9,802.4 1059.1,807.0 1061.4,805.1 1063.6,805.6 1065.8,806.1 1068.1,806.8 1070.3,803.5 1072.5,807.3 1074.8,802.6 1077.0,802.5 1079.3,803.7 1081.5,804.2 1083.7,804.7 1086.0,796.6 1088.2,803.8 1090.4,796.6 1092.7,798.5 1094.9,800.4 1097.2,801.9 1099.4,796.4 1101.6,794.4 1103.9,800.3 1106.1,798.4 1108.3,794.9 1110.6,796.2 1112.8,791.9 1115.1,797.6 1117.3,794.6 1119.5,798.5 1121.8,790.2 1124.0,796.5 1126.3,799.6 1128.5,794.4 1130.7,794.0 1133.0,788.8 1135.2,793.8 1137.4,792.6 1139.7,790.8" fill="none" stroke="#ee0a8c" stroke-width="7.5" stroke-linejoin="round" stroke-linecap="round" />
<polyline points="202.0,849.3 204.2,851.9 206.4,855.6 208.7,866.8 210.9,873.9 213.1,876.8 215.4,875.0 217.6,870.6 219.9,860.9 222.1,857.2 224.3,845.3 226.6,838.3 228.8,832.7 231.1,826.8 233.3,819.0 235.5,811.1 237.8,805.0 240.0,801.4 242.2,796.7 244.5,796.3 246.7,793.1 249.0,794.4 251.2,789.3 253.4,788.7 255.7,788.1 257.9,783.7 260.1,781.2 262.4,782.4 264.6,773.1 266.9,770.4 269.1,760.5 271.3,751.1 273.6,746.3 275.8,734.4 278.1,723.9 280.3,711.1 282.5,699.2 284.8,687.9 287.0,682.2 289.2,671.9 291.5,671.3 293.7,666.0 296.0,662.0 298.2,660.6 300.4,661.3 302.7,659.4 304.9,657.5 307.1,654.6 309.4,648.2 311.6,646.3 313.9,636.4 316.1,626.4 318.3,614.2 320.6,603.5 322.8,591.8 325.0,585.1 327.3,577.9 329.5,572.9 331.8,566.8 334.0,569.1 336.2,563.4 338.5,566.4 340.7,567.4 343.0,571.9 345.2,579.6 347.4,585.3 349.7,596.7 351.9,607.0 354.1,624.2 356.4,635.8 358.6,657.2 360.9,679.1 363.1,701.6 365.3,723.8 367.6,744.8 369.8,763.2 372.0,779.5 374.3,795.6 376.5,810.5 378.8,818.3 381.0,826.8 383.2,830.3 385.5,831.5 387.7,835.6 390.0,838.6 392.2,841.8 394.4,842.4 396.7,843.4 398.9,839.8 401.1,842.2 403.4,841.0 405.6,842.2 407.9,841.2 410.1,839.2 412.3,842.5 414.6,842.0 416.8,842.8 419.0,840.2 421.3,843.2 423.5,843.4 425.8,843.8 428.0,843.8 430.2,840.9 432.5,837.6 434.7,843.2 436.9,840.1 439.2,841.2 441.4,843.3 443.7,842.0 445.9,842.0 448.1,842.7 450.4,838.6 452.6,844.6 454.9,841.0 457.1,841.1 459.3,842.5 461.6,841.4 463.8,840.2 466.0,841.4 468.3,841.0 470.5,840.5 472.8,844.8 475.0,839.3 477.2,838.0 479.5,840.1 481.7,840.0 483.9,843.8 486.2,841.8 488.4,842.9 490.7,842.5 492.9,840.1 495.1,842.9 497.4,841.8 499.6,844.6 501.9,841.9 504.1,841.5 506.3,842.7 508.6,842.7 510.8,838.6 513.0,843.5 515.3,843.3 517.5,842.9 519.8,839.7 522.0,838.3 524.2,841.1 526.5,842.7 528.7,842.3 530.9,839.9 533.2,843.0 535.4,839.3 537.7,839.4 539.9,841.5 542.1,840.6 544.4,840.4 546.6,839.2 548.8,843.3 551.1,839.8 553.3,842.2 555.6,842.8 557.8,841.5 560.0,842.0 562.3,843.2 564.5,844.1 566.8,843.1 569.0,839.3 571.2,838.5 573.5,840.6 575.7,839.7 577.9,842.4 580.2,841.7 582.4,841.2 584.7,843.3 586.9,843.2 589.1,841.5 591.4,842.1 593.6,843.3 595.8,841.0 598.1,842.0 600.3,840.0 602.6,841.6 604.8,842.0 607.0,841.4 609.3,841.8 611.5,842.6 613.8,842.2 616.0,840.3 618.2,840.5 620.5,839.5 622.7,844.2 624.9,842.1 627.2,842.1 629.4,841.2 631.7,842.1 633.9,842.2 636.1,840.2 638.4,841.1 640.6,843.2 642.8,839.2 645.1,839.8 647.3,842.2 649.6,840.0 651.8,842.4 654.0,839.5 656.3,841.6 658.5,842.5 660.7,841.8 663.0,842.4 665.2,840.8 667.5,840.8 669.7,841.0 671.9,841.9 674.2,846.8 676.4,840.9 678.7,844.0 680.9,840.6 683.1,839.2 685.4,840.5 687.6,841.5 689.8,841.1 692.1,841.0 694.3,841.7 696.6,841.7 698.8,842.2 701.0,838.8 703.3,840.6 705.5,839.0 707.7,840.9 710.0,840.3 712.2,840.6 714.5,839.5 716.7,838.8 718.9,839.7 721.2,841.0 723.4,841.1 725.7,837.1 727.9,840.1 730.1,840.0 732.4,837.1 734.6,837.6 736.8,838.3 739.1,839.7 741.3,835.2 743.6,838.2 745.8,837.9 748.0,838.9 750.3,840.8 752.5,840.5 754.7,837.7 757.0,837.6 759.2,838.5 761.5,839.9 763.7,840.3 765.9,838.5 768.2,840.2 770.4,836.4 772.6,836.0 774.9,833.3 777.1,836.3 779.4,838.6 781.6,839.1 783.8,843.1 786.1,838.7 788.3,838.1 790.6,836.4 792.8,837.1 795.0,837.3 797.3,838.1 799.5,837.6 801.7,836.6 804.0,840.8 806.2,840.1 808.5,842.0 810.7,837.9 812.9,839.1 815.2,840.8 817.4,847.5 819.6,842.9 821.9,845.3 824.1,844.9 826.4,846.8 828.6,844.9 830.8,849.4 833.1,845.3 835.3,848.8 837.6,852.0 839.8,852.5 842.0,854.6 844.3,850.2 846.5,854.2 848.7,850.8 851.0,851.7 853.2,854.0 855.5,842.7 857.7,849.0 859.9,840.7 862.2,840.1 864.4,846.7 866.6,842.5 868.9,839.6 871.1,839.9 873.4,840.8 875.6,833.2 877.8,837.0 880.1,834.6 882.3,837.8 884.5,834.9 886.8,839.1 889.0,836.2 891.3,833.8 893.5,835.9 895.7,837.9 898.0,840.4 900.2,835.4 902.5,834.7 904.7,837.1 906.9,839.4 909.2,835.7 911.4,830.3 913.6,843.5 915.9,842.4 918.1,842.4 920.4,853.1 922.6,840.9 924.8,841.8 927.1,828.8 929.3,824.1 931.5,822.8 933.8,819.6 936.0,817.2 938.3,819.3 940.5,816.6 942.7,821.2 945.0,816.3 947.2,812.0 949.5,806.9 951.7,811.6 953.9,813.1 956.2,809.2 958.4,809.6 960.6,806.8 962.9,808.8 965.1,813.2 967.4,811.3 969.6,811.2 971.8,810.3 974.1,810.3 976.3,813.8 978.5,818.7 980.8,812.7 983.0,817.7 985.3,809.1 987.5,809.0 989.7,815.3 992.0,805.7 994.2,804.6 996.4,807.3 998.7,800.8 1000.9,799.7 1003.2,811.5 1005.4,802.4 1007.6,804.4 1009.9,804.1 1012.1,801.8 1014.4,807.9 1016.6,807.1 1018.8,807.6 1021.1,807.0 1023.3,804.0 1025.5,809.0 1027.8,807.0 1030.0,800.2 1032.3,802.3 1034.5,800.1 1036.7,808.6 1039.0,803.8 1041.2,802.5 1043.4,799.7 1045.7,801.7 1047.9,795.3 1050.2,798.7 1052.4,798.0 1054.6,797.5 1056.9,794.3 1059.1,798.5 1061.4,791.7 1063.6,793.8 1065.8,794.5 1068.1,794.5 1070.3,792.1 1072.5,789.7 1074.8,789.5 1077.0,791.2 1079.3,788.7 1081.5,791.2 1083.7,786.3 1086.0,790.8 1088.2,798.4 1090.4,784.4 1092.7,788.8 1094.9,793.3 1097.2,789.0 1099.4,791.2 1101.6,778.9 1103.9,784.7 1106.1,792.3 1108.3,783.5 1110.6,786.7 1112.8,777.1 1115.1,788.2 1117.3,792.4 1119.5,782.8 1121.8,783.9 1124.0,783.6 1126.3,789.8 1128.5,779.2 1130.7,773.7 1133.0,787.3 1135.2,774.6 1137.4,780.9 1139.7,768.9" fill="none" stroke="#0a5a1c" stroke-width="7.5" stroke-linejoin="round" stroke-linecap="round" />
</g>
<g clip-path="url(#cAR)">
<polyline points="1163.3,862.5 1164.4,869.1 1165.6,873.4 1166.7,880.2 1167.8,887.8 1169.0,892.5 1170.1,900.6 1171.2,908.9 1172.3,910.9 1173.5,920.8 1174.6,928.2 1175.7,934.0 1176.9,943.6 1178.0,951.1 1179.1,958.0 1180.3,965.6 1181.4,971.7 1182.5,976.1 1183.7,982.8 1184.8,985.9 1185.9,989.6 1187.1,994.9 1188.2,995.3 1189.3,998.0 1190.5,996.6 1191.6,998.1 1192.7,999.0 1193.8,998.8 1195.0,990.3 1196.1,982.8 1197.2,970.6 1198.4,957.5 1199.5,943.0 1200.6,925.7 1201.8,910.1 1202.9,894.4 1204.0,872.4 1205.2,852.0 1206.3,828.4 1207.4,804.0 1208.6,782.2 1209.7,758.6 1210.8,734.9 1211.9,710.2 1213.1,688.8 1214.2,671.6 1215.3,651.2 1216.5,635.4 1217.6,616.1 1218.7,594.5 1219.9,571.8 1221.0,545.0 1222.1,524.8 1223.3,506.7 1224.4,484.7 1225.5,468.4 1226.7,451.1 1227.8,439.5 1228.9,422.7 1230.1,414.9 1231.2,407.9 1232.3,401.3 1233.4,394.8 1234.6,392.7 1235.7,388.6 1236.8,389.7 1238.0,390.2 1239.1,391.1 1240.2,396.0 1241.4,403.5 1242.5,407.4 1243.6,414.8 1244.8,423.1 1245.9,432.5 1247.0,447.9 1248.2,465.9 1249.3,482.9 1250.4,496.8 1251.6,517.3 1252.7,531.6 1253.8,548.0 1254.9,565.2 1256.1,585.1 1257.2,601.8 1258.3,619.6 1259.5,638.7 1260.6,660.6 1261.7,679.7 1262.9,692.2 1264.0,705.0 1265.1,717.4 1266.3,729.0 1267.4,737.4 1268.5,746.9 1269.7,754.5 1270.8,765.1 1271.9,770.5 1273.1,777.2 1274.2,784.4 1275.3,788.6 1276.4,794.3 1277.6,800.1 1278.7,803.9 1279.8,810.6 1281.0,812.8 1282.1,815.5 1283.2,818.5 1284.4,820.0 1285.5,825.2 1286.6,827.7 1287.8,827.5 1288.9,829.0 1290.0,828.6 1291.2,832.0 1292.3,835.4 1293.4,834.8 1294.5,838.5 1295.7,840.9 1296.8,837.2 1297.9,841.5 1299.1,842.2 1300.2,843.3 1301.3,842.4 1302.5,844.5 1303.6,843.1 1304.7,845.2 1305.9,844.7 1307.0,839.9 1308.1,838.7 1309.3,838.9 1310.4,838.3 1311.5,837.3 1312.7,837.1 1313.8,833.0 1314.9,833.1 1316.0,832.5 1317.2,832.1 1318.3,831.0 1319.4,831.6 1320.6,831.3 1321.7,833.8 1322.8,831.7 1324.0,829.6 1325.1,833.1 1326.2,832.7 1327.4,831.4 1328.5,831.4 1329.6,831.8 1330.8,834.7 1331.9,832.1 1333.0,834.2 1334.2,833.8 1335.3,832.1 1336.4,833.3 1337.5,831.9 1338.7,829.0 1339.8,832.0 1340.9,832.2 1342.1,834.2 1343.2,834.0 1344.3,834.5 1345.5,833.9 1346.6,834.7 1347.7,834.2 1348.9,833.6 1350.0,834.7 1351.1,835.3 1352.3,835.2 1353.4,833.0 1354.5,833.5 1355.7,832.3 1356.8,832.4 1357.9,834.2 1359.0,832.9 1360.2,835.6 1361.3,831.0 1362.4,832.4 1363.6,834.2 1364.7,835.5 1365.8,833.5 1367.0,836.4 1368.1,835.1 1369.2,833.2 1370.4,834.1 1371.5,834.9 1372.6,833.1 1373.8,835.6 1374.9,834.0 1376.0,835.0 1377.1,835.5 1378.3,833.9 1379.4,835.8 1380.5,832.1 1381.7,835.3 1382.8,832.1 1383.9,836.1 1385.1,833.9 1386.2,836.3 1387.3,836.5 1388.5,834.6 1389.6,834.0 1390.7,836.5 1391.9,833.4 1393.0,836.0 1394.1,834.8 1395.3,834.6 1396.4,834.3 1397.5,837.4 1398.6,833.1 1399.8,834.5 1400.9,835.8 1402.0,836.6 1403.2,837.4 1404.3,837.1 1405.4,834.7 1406.6,835.8 1407.7,836.9 1408.8,836.1 1410.0,833.5 1411.1,836.0 1412.2,836.3 1413.4,833.9 1414.5,835.1 1415.6,835.6 1416.8,836.5 1417.9,837.7 1419.0,837.3 1420.1,836.4 1421.3,836.1 1422.4,835.4 1423.5,835.2 1424.7,835.7 1425.8,835.7 1426.9,837.3 1428.1,838.8 1429.2,836.7 1430.3,837.3 1431.5,837.0 1432.6,836.5 1433.7,837.8 1434.9,837.6 1436.0,836.4 1437.1,836.1 1438.2,837.1 1439.4,835.7 1440.5,836.6 1441.6,837.7 1442.8,836.4 1443.9,834.1 1445.0,837.3 1446.2,835.0 1447.3,834.8 1448.4,834.7 1449.6,837.6 1450.7,834.1 1451.8,836.5 1453.0,837.0 1454.1,837.0 1455.2,836.0 1456.4,836.7 1457.5,837.0 1458.6,835.2 1459.7,837.7 1460.9,838.2 1462.0,835.9 1463.1,836.0 1464.3,835.6 1465.4,838.3 1466.5,835.6 1467.7,836.4 1468.8,834.8 1469.9,838.6 1471.1,836.8 1472.2,837.5 1473.3,839.2 1474.5,838.1 1475.6,835.8 1476.7,837.8 1477.9,838.2 1479.0,836.2 1480.1,836.0 1481.2,836.1 1482.4,838.3 1483.5,837.4 1484.6,836.1 1485.8,838.2 1486.9,838.4 1488.0,836.4 1489.2,835.5 1490.3,839.0 1491.4,840.8 1492.6,839.4 1493.7,838.9 1494.8,837.8 1496.0,836.8 1497.1,837.8 1498.2,838.6 1499.4,837.5 1500.5,838.9 1501.6,837.8 1502.7,838.6 1503.9,834.4 1505.0,836.8 1506.1,838.9 1507.3,839.1 1508.4,838.4 1509.5,840.0 1510.7,838.8 1511.8,838.9 1512.9,836.8 1514.1,838.5 1515.2,839.0 1516.3,839.7 1517.5,839.5 1518.6,838.1 1519.7,838.4 1520.8,836.7 1522.0,838.9 1523.1,836.8 1524.2,837.8 1525.4,838.2 1526.5,840.7 1527.6,839.9 1528.8,837.3 1529.9,836.5 1531.0,838.0 1532.2,837.3 1533.3,838.8 1534.4,838.8 1535.6,839.2 1536.7,837.2 1537.8,838.0 1539.0,838.7 1540.1,838.9 1541.2,837.8 1542.3,838.1 1543.5,839.6 1544.6,836.4 1545.7,838.2 1546.9,838.5 1548.0,836.7 1549.1,837.3 1550.3,838.7 1551.4,838.0 1552.5,840.0 1553.7,839.5 1554.8,841.6 1555.9,837.2 1557.1,841.1 1558.2,837.9 1559.3,839.8 1560.5,840.0 1561.6,839.1 1562.7,838.5 1563.8,838.1 1565.0,836.6 1566.1,838.4 1567.2,837.8 1568.4,839.7 1569.5,838.0 1570.6,838.8 1571.8,839.6 1572.9,839.1 1574.0,839.1 1575.2,838.8 1576.3,838.5 1577.4,839.7 1578.6,840.0 1579.7,838.2 1580.8,841.3 1582.0,839.9 1583.1,837.2 1584.2,842.6 1585.3,840.1 1586.5,838.3 1587.6,841.3 1588.7,836.0 1589.9,842.5 1591.0,837.5 1592.1,837.3 1593.3,838.1 1594.4,839.6 1595.5,838.9 1596.7,840.5 1597.8,838.4 1598.9,840.8 1600.1,839.8 1601.2,838.2 1602.3,840.9 1603.4,839.9 1604.6,839.3 1605.7,841.2 1606.8,838.0 1608.0,839.1 1609.1,841.5 1610.2,839.6 1611.4,840.6 1612.5,840.4 1613.6,839.5 1614.8,840.5 1615.9,838.4 1617.0,840.5 1618.2,838.4 1619.3,839.7 1620.4,838.6 1621.6,840.4 1622.7,840.4 1623.8,841.2 1624.9,839.0 1626.1,838.6 1627.2,837.1 1628.3,838.2 1629.5,839.5 1630.6,840.1 1631.7,839.3 1632.9,839.9 1634.0,838.0 1635.1,838.7 1636.3,841.0 1637.4,840.8 1638.5,838.2 1639.7,839.5 1640.8,840.2 1641.9,838.5 1643.1,840.5 1644.2,840.3 1645.3,840.6 1646.4,842.5 1647.6,838.9 1648.7,841.6 1649.8,840.8 1651.0,841.0 1652.1,839.1 1653.2,840.2 1654.4,840.1 1655.5,842.2 1656.6,840.2 1657.8,842.0 1658.9,839.7 1660.0,839.7 1661.2,840.2 1662.3,837.6 1663.4,839.5 1664.5,839.4 1665.7,840.0 1666.8,840.5 1667.9,839.0 1669.1,838.8 1670.2,841.9 1671.3,838.9 1672.5,839.6 1673.6,839.1 1674.7,839.7 1675.9,841.9 1677.0,841.8 1678.1,838.0 1679.3,840.0 1680.4,842.1 1681.5,839.9 1682.7,840.8 1683.8,842.7 1684.9,843.3 1686.0,842.4 1687.2,840.1 1688.3,840.5 1689.4,840.7 1690.6,840.1 1691.7,839.7 1692.8,843.1 1694.0,840.9 1695.1,841.5 1696.2,842.1 1697.4,841.2 1698.5,840.7 1699.6,840.9 1700.8,842.4 1701.9,841.2 1703.0,838.0 1704.2,841.9 1705.3,842.7 1706.4,840.2 1707.5,839.8 1708.7,840.0 1709.8,842.0 1710.9,839.4 1712.1,841.6 1713.2,842.1 1714.3,841.4 1715.5,840.8 1716.6,839.8 1717.7,839.9 1718.9,840.7 1720.0,839.5 1721.1,840.6 1722.3,839.6 1723.4,842.5 1724.5,842.7 1725.7,839.8 1726.8,842.5 1727.9,841.1 1729.0,840.9 1730.2,841.4 1731.3,841.4 1732.4,839.0 1733.6,844.0 1734.7,839.7 1735.8,837.9 1737.0,840.8 1738.1,840.8 1739.2,839.9 1740.4,838.5 1741.5,842.3 1742.6,840.7 1743.8,841.1 1744.9,840.2 1746.0,840.7 1747.1,840.0 1748.3,841.4 1749.4,840.8 1750.5,841.7 1751.7,841.7 1752.8,841.1 1753.9,841.1 1755.1,842.4 1756.2,838.9 1757.3,841.1 1758.5,842.7 1759.6,839.5 1760.7,841.9 1761.9,840.3 1763.0,840.9 1764.1,840.6 1765.3,840.7 1766.4,841.7 1767.5,840.9 1768.6,838.4 1769.8,843.8 1770.9,840.9 1772.0,840.4 1773.2,842.3 1774.3,842.7 1775.4,838.2 1776.6,841.4 1777.7,838.3 1778.8,840.3 1780.0,840.8 1781.1,840.3 1782.2,840.1 1783.4,839.4 1784.5,840.4 1785.6,840.8 1786.8,840.7 1787.9,839.2 1789.0,839.9 1790.1,842.2 1791.3,841.7 1792.4,840.5 1793.5,841.7 1794.7,841.4 1795.8,842.1 1796.9,841.3 1798.1,840.4 1799.2,839.7 1800.3,840.9 1801.5,838.3 1802.6,841.0 1803.7,836.9 1804.9,839.7 1806.0,840.3 1807.1,841.6 1808.3,844.5 1809.4,841.1 1810.5,840.7 1811.6,838.5 1812.8,842.7 1813.9,838.5 1815.0,841.3 1816.2,840.0 1817.3,844.2 1818.4,840.8 1819.6,841.4 1820.7,840.1 1821.8,840.8 1823.0,842.4 1824.1,839.7 1825.2,840.1 1826.4,840.2 1827.5,839.7 1828.6,839.5 1829.7,841.0 1830.9,842.7 1832.0,842.7 1833.1,839.2 1834.3,840.0 1835.4,840.8 1836.5,841.5 1837.7,840.9 1838.8,840.9 1839.9,841.4 1841.1,841.8 1842.2,838.2 1843.3,840.7 1844.5,841.7 1845.6,842.6 1846.7,841.9 1847.9,840.0 1849.0,840.0 1850.1,841.3 1851.2,840.9 1852.4,841.4 1853.5,842.4 1854.6,839.4 1855.8,840.6 1856.9,837.9 1858.0,842.0 1859.2,841.2 1860.3,840.0 1861.4,841.4 1862.6,842.9 1863.7,842.3 1864.8,841.0 1866.0,840.7 1867.1,841.3 1868.2,839.9 1869.4,840.0 1870.5,840.8 1871.6,841.2 1872.7,841.6 1873.9,840.6 1875.0,840.2 1876.1,841.3 1877.3,840.8 1878.4,841.8 1879.5,843.2 1880.7,842.7 1881.8,840.5 1882.9,840.9 1884.1,839.5 1885.2,841.4 1886.3,840.4 1887.5,839.9 1888.6,840.3 1889.7,842.3 1890.8,841.8 1892.0,841.4 1893.1,842.9 1894.2,841.0 1895.4,840.3 1896.5,842.3 1897.6,839.2 1898.8,842.0 1899.9,841.9 1901.0,842.0 1902.2,842.6 1903.3,841.2 1904.4,841.7 1905.6,839.6 1906.7,841.0 1907.8,841.0 1909.0,842.0 1910.1,843.5 1911.2,841.8 1912.3,842.8 1913.5,840.5 1914.6,841.8 1915.7,839.6 1916.9,840.8 1918.0,840.7 1919.1,841.4 1920.3,841.5 1921.4,840.9 1922.5,840.6 1923.7,842.6 1924.8,841.1 1925.9,838.4 1927.1,841.8 1928.2,842.1 1929.3,842.6 1930.5,843.6 1931.6,840.2 1932.7,841.7 1933.8,841.3 1935.0,839.4 1936.1,838.6 1937.2,842.9 1938.4,840.4 1939.5,840.9 1940.6,841.2 1941.8,841.1 1942.9,841.8 1944.0,839.7 1945.2,840.9 1946.3,841.3 1947.4,840.1 1948.6,840.6 1949.7,841.1 1950.8,841.3 1952.0,839.5 1953.1,841.1 1954.2,841.8 1955.3,842.8 1956.5,842.2 1957.6,843.1 1958.7,841.6 1959.9,841.4 1961.0,844.3 1962.1,841.7 1963.3,840.9 1964.4,841.5 1965.5,842.9 1966.7,840.1 1967.8,842.6 1968.9,843.3 1970.1,843.1 1971.2,841.7 1972.3,840.5 1973.4,840.3 1974.6,841.5 1975.7,843.2 1976.8,842.6 1978.0,842.9 1979.1,842.0 1980.2,844.0 1981.4,841.6 1982.5,840.9 1983.6,841.9 1984.8,841.1 1985.9,842.9 1987.0,843.6 1988.2,842.5 1989.3,840.3 1990.4,840.4 1991.6,842.3 1992.7,840.2 1993.8,842.1 1994.9,839.8 1996.1,841.1 1997.2,842.3 1998.3,840.7 1999.5,842.7 2000.6,842.9 2001.7,843.6 2002.9,841.4 2004.0,841.8 2005.1,841.8 2006.3,842.3 2007.4,839.9 2008.5,842.3 2009.7,842.7 2010.8,840.2 2011.9,839.9 2013.1,841.3 2014.2,843.9 2015.3,842.5 2016.4,841.0 2017.6,841.7 2018.7,839.8 2019.8,843.5 2021.0,840.9 2022.1,842.6 2023.2,840.1 2024.4,841.9 2025.5,840.5 2026.6,842.6 2027.8,843.6 2028.9,843.2 2030.0,842.6 2031.2,843.1 2032.3,840.3 2033.4,840.1 2034.6,841.5 2035.7,843.1 2036.8,842.0 2037.9,842.7 2039.1,840.0 2040.2,841.5 2041.3,841.2 2042.5,842.4 2043.6,844.4 2044.7,842.9 2045.9,843.3 2047.0,841.4 2048.1,841.8 2049.3,842.9 2050.4,842.4 2051.5,840.0 2052.7,843.2 2053.8,843.1 2054.9,842.2 2056.0,842.9 2057.2,842.5 2058.3,841.3 2059.4,839.8 2060.6,844.3 2061.7,842.0 2062.8,842.0 2064.0,842.1 2065.1,842.3 2066.2,842.5 2067.4,840.8 2068.5,842.7 2069.6,842.2 2070.8,842.1 2071.9,842.0 2073.0,842.3 2074.2,840.9 2075.3,842.1 2076.4,841.9 2077.5,842.2 2078.7,843.4 2079.8,843.2 2080.9,843.5 2082.1,842.0 2083.2,843.1 2084.3,843.6 2085.5,841.9 2086.6,841.6 2087.7,844.5 2088.9,840.1 2090.0,842.2 2091.1,842.4 2092.3,841.0 2093.4,842.2 2094.5,843.1 2095.7,839.6 2096.8,843.7 2097.9,842.5 2099.0,841.3 2100.2,843.7 2101.3,842.5 2102.4,841.9 2103.6,839.4 2104.7,843.6 2105.8,842.5 2107.0,841.6 2108.1,842.4 2109.2,844.0 2110.4,842.0 2111.5,842.4 2112.6,842.0" fill="none" stroke="#dd0000" stroke-width="6.0" stroke-linejoin="round" stroke-linecap="round" />
<polyline points="1163.3,861.3 1164.4,862.4 1165.6,870.6 1166.7,874.4 1167.8,880.7 1169.0,884.6 1170.1,894.0 1171.2,900.3 1172.3,905.9 1173.5,913.8 1174.6,922.0 1175.7,928.5 1176.9,934.2 1178.0,941.7 1179.1,950.9 1180.3,957.7 1181.4,964.8 1182.5,975.0 1183.7,979.9 1184.8,985.3 1185.9,989.2 1187.1,992.4 1188.2,994.3 1189.3,996.1 1190.5,997.1 1191.6,998.5 1192.7,999.3 1193.8,996.0 1195.0,996.8 1196.1,991.7 1197.2,983.6 1198.4,971.6 1199.5,954.3 1200.6,941.4 1201.8,928.7 1202.9,909.2 1204.0,894.3 1205.2,871.8 1206.3,852.0 1207.4,826.0 1208.6,803.1 1209.7,782.9 1210.8,757.2 1211.9,740.0 1213.1,711.6 1214.2,695.6 1215.3,674.5 1216.5,657.3 1217.6,639.7 1218.7,621.8 1219.9,600.2 1221.0,576.3 1222.1,552.4 1223.3,528.9 1224.4,508.2 1225.5,492.6 1226.7,473.0 1227.8,457.7 1228.9,445.7 1230.1,430.1 1231.2,425.4 1232.3,417.3 1233.4,409.5 1234.6,405.6 1235.7,401.9 1236.8,397.0 1238.0,395.2 1239.1,398.6 1240.2,400.9 1241.4,403.8 1242.5,409.4 1243.6,416.0 1244.8,419.4 1245.9,429.9 1247.0,440.4 1248.2,457.7 1249.3,469.6 1250.4,488.4 1251.6,503.8 1252.7,521.6 1253.8,537.2 1254.9,554.1 1256.1,570.9 1257.2,589.7 1258.3,603.6 1259.5,626.1 1260.6,645.8 1261.7,662.0 1262.9,682.5 1264.0,696.0 1265.1,710.1 1266.3,719.0 1267.4,731.9 1268.5,740.1 1269.7,749.1 1270.8,758.2 1271.9,765.0 1273.1,773.5 1274.2,777.9 1275.3,786.1 1276.4,787.9 1277.6,792.1 1278.7,800.1 1279.8,805.3 1281.0,808.3 1282.1,811.6 1283.2,816.4 1284.4,817.8 1285.5,820.6 1286.6,824.9 1287.8,827.3 1288.9,831.1 1290.0,825.8 1291.2,833.0 1292.3,830.8 1293.4,833.3 1294.5,836.4 1295.7,837.3 1296.8,839.8 1297.9,839.9 1299.1,841.7 1300.2,842.3 1301.3,844.5 1302.5,845.6 1303.6,844.9 1304.7,844.5 1305.9,845.7 1307.0,844.3 1308.1,845.7 1309.3,843.2 1310.4,838.2 1311.5,838.4 1312.7,834.5 1313.8,834.5 1314.9,836.8 1316.0,834.4 1317.2,832.8 1318.3,831.6 1319.4,831.8 1320.6,831.8 1321.7,831.1 1322.8,831.3 1324.0,831.8 1325.1,831.6 1326.2,832.9 1327.4,835.3 1328.5,832.1 1329.6,834.2 1330.8,831.0 1331.9,830.1 1333.0,834.8 1334.2,830.7 1335.3,831.0 1336.4,831.1 1337.5,836.0 1338.7,832.1 1339.8,830.9 1340.9,834.0 1342.1,834.1 1343.2,834.1 1344.3,833.4 1345.5,829.7 1346.6,834.6 1347.7,835.8 1348.9,836.8 1350.0,833.0 1351.1,834.0 1352.3,833.2 1353.4,835.4 1354.5,833.9 1355.7,835.4 1356.8,832.3 1357.9,832.4 1359.0,832.8 1360.2,833.1 1361.3,835.7 1362.4,833.2 1363.6,832.1 1364.7,833.8 1365.8,832.8 1367.0,834.5 1368.1,832.9 1369.2,833.6 1370.4,832.8 1371.5,833.2 1372.6,835.2 1373.8,835.9 1374.9,835.4 1376.0,834.2 1377.1,836.4 1378.3,836.0 1379.4,834.7 1380.5,831.2 1381.7,833.6 1382.8,838.0 1383.9,834.0 1385.1,834.3 1386.2,835.5 1387.3,839.3 1388.5,836.5 1389.6,834.7 1390.7,832.3 1391.9,833.7 1393.0,835.8 1394.1,835.8 1395.3,834.5 1396.4,834.6 1397.5,833.2 1398.6,839.6 1399.8,835.4 1400.9,835.8 1402.0,836.4 1403.2,836.1 1404.3,836.6 1405.4,836.3 1406.6,834.5 1407.7,834.9 1408.8,833.6 1410.0,836.5 1411.1,837.6 1412.2,834.9 1413.4,836.2 1414.5,833.3 1415.6,835.5 1416.8,834.7 1417.9,838.3 1419.0,836.6 1420.1,833.1 1421.3,836.4 1422.4,835.6 1423.5,836.0 1424.7,837.2 1425.8,835.6 1426.9,834.4 1428.1,835.7 1429.2,836.9 1430.3,832.7 1431.5,834.7 1432.6,836.1 1433.7,836.2 1434.9,832.9 1436.0,835.1 1437.1,837.2 1438.2,835.3 1439.4,834.8 1440.5,839.1 1441.6,839.0 1442.8,834.6 1443.9,836.1 1445.0,834.4 1446.2,834.4 1447.3,836.5 1448.4,838.8 1449.6,836.7 1450.7,837.1 1451.8,835.0 1453.0,835.4 1454.1,837.3 1455.2,836.2 1456.4,837.5 1457.5,837.0 1458.6,836.0 1459.7,836.6 1460.9,837.5 1462.0,837.9 1463.1,833.9 1464.3,834.3 1465.4,837.2 1466.5,835.9 1467.7,839.5 1468.8,838.6 1469.9,837.3 1471.1,838.8 1472.2,839.1 1473.3,837.5 1474.5,838.2 1475.6,835.1 1476.7,840.0 1477.9,838.9 1479.0,835.7 1480.1,835.8 1481.2,834.9 1482.4,838.0 1483.5,838.6 1484.6,835.5 1485.8,835.9 1486.9,838.7 1488.0,834.0 1489.2,837.0 1490.3,835.7 1491.4,837.4 1492.6,838.0 1493.7,836.4 1494.8,837.5 1496.0,837.2 1497.1,838.1 1498.2,837.5 1499.4,836.4 1500.5,841.5 1501.6,836.4 1502.7,840.8 1503.9,836.2 1505.0,838.4 1506.1,835.8 1507.3,837.9 1508.4,835.2 1509.5,837.9 1510.7,839.1 1511.8,839.0 1512.9,837.3 1514.1,836.8 1515.2,839.2 1516.3,834.2 1517.5,838.7 1518.6,838.2 1519.7,840.1 1520.8,836.4 1522.0,837.9 1523.1,839.7 1524.2,839.1 1525.4,836.9 1526.5,839.7 1527.6,838.9 1528.8,838.4 1529.9,838.2 1531.0,838.5 1532.2,838.7 1533.3,840.5 1534.4,839.6 1535.6,838.5 1536.7,840.9 1537.8,838.8 1539.0,837.8 1540.1,836.3 1541.2,838.5 1542.3,839.9 1543.5,838.0 1544.6,838.5 1545.7,837.5 1546.9,838.1 1548.0,839.4 1549.1,837.8 1550.3,839.0 1551.4,835.0 1552.5,839.0 1553.7,840.5 1554.8,835.9 1555.9,837.7 1557.1,838.6 1558.2,839.0 1559.3,838.6 1560.5,838.3 1561.6,842.0 1562.7,835.2 1563.8,839.4 1565.0,838.5 1566.1,837.8 1567.2,837.4 1568.4,842.2 1569.5,840.1 1570.6,840.0 1571.8,837.4 1572.9,837.4 1574.0,838.1 1575.2,839.1 1576.3,838.3 1577.4,838.0 1578.6,838.0 1579.7,836.7 1580.8,841.0 1582.0,840.3 1583.1,839.7 1584.2,836.9 1585.3,839.9 1586.5,838.0 1587.6,838.8 1588.7,839.0 1589.9,837.5 1591.0,839.2 1592.1,838.5 1593.3,838.0 1594.4,837.9 1595.5,841.8 1596.7,839.8 1597.8,838.8 1598.9,836.6 1600.1,837.3 1601.2,838.2 1602.3,839.8 1603.4,839.1 1604.6,842.6 1605.7,840.8 1606.8,840.4 1608.0,840.3 1609.1,838.1 1610.2,839.7 1611.4,839.3 1612.5,840.7 1613.6,843.1 1614.8,842.0 1615.9,839.8 1617.0,840.0 1618.2,840.7 1619.3,841.9 1620.4,843.7 1621.6,837.7 1622.7,841.3 1623.8,838.7 1624.9,841.5 1626.1,839.7 1627.2,837.9 1628.3,842.4 1629.5,837.3 1630.6,839.8 1631.7,841.8 1632.9,841.1 1634.0,840.1 1635.1,841.8 1636.3,842.8 1637.4,841.1 1638.5,842.1 1639.7,838.7 1640.8,839.4 1641.9,841.0 1643.1,838.9 1644.2,838.9 1645.3,843.1 1646.4,841.9 1647.6,839.7 1648.7,840.4 1649.8,841.1 1651.0,840.4 1652.1,841.3 1653.2,841.3 1654.4,841.7 1655.5,839.0 1656.6,842.4 1657.8,841.7 1658.9,843.8 1660.0,839.8 1661.2,839.6 1662.3,842.2 1663.4,843.6 1664.5,843.3 1665.7,839.7 1666.8,842.9 1667.9,840.8 1669.1,839.8 1670.2,843.2 1671.3,841.2 1672.5,840.8 1673.6,842.2 1674.7,839.2 1675.9,842.7 1677.0,840.8 1678.1,841.7 1679.3,839.5 1680.4,843.8 1681.5,841.4 1682.7,842.0 1683.8,842.4 1684.9,841.8 1686.0,841.0 1687.2,842.5 1688.3,843.5 1689.4,842.6 1690.6,843.7 1691.7,844.6 1692.8,842.8 1694.0,841.8 1695.1,840.8 1696.2,841.3 1697.4,842.3 1698.5,841.7 1699.6,841.7 1700.8,841.0 1701.9,844.4 1703.0,842.6 1704.2,843.1 1705.3,841.3 1706.4,842.8 1707.5,840.2 1708.7,842.2 1709.8,841.8 1710.9,842.4 1712.1,842.8 1713.2,842.3 1714.3,842.3 1715.5,844.4 1716.6,844.2 1717.7,842.4 1718.9,842.6 1720.0,845.3 1721.1,844.5 1722.3,845.3 1723.4,841.2 1724.5,843.4 1725.7,843.4 1726.8,843.4 1727.9,841.6 1729.0,843.0 1730.2,843.0 1731.3,843.0 1732.4,845.0 1733.6,845.2 1734.7,843.3 1735.8,845.1 1737.0,845.4 1738.1,843.4 1739.2,842.7 1740.4,843.1 1741.5,842.3 1742.6,845.1 1743.8,842.9 1744.9,843.1 1746.0,846.5 1747.1,846.2 1748.3,845.5 1749.4,843.6 1750.5,844.6 1751.7,844.5 1752.8,844.2 1753.9,845.2 1755.1,844.3 1756.2,846.8 1757.3,845.9 1758.5,844.3 1759.6,845.9 1760.7,846.9 1761.9,844.2 1763.0,847.7 1764.1,845.2 1765.3,843.6 1766.4,848.2 1767.5,844.6 1768.6,844.8 1769.8,842.7 1770.9,845.7 1772.0,842.4 1773.2,843.8 1774.3,848.2 1775.4,846.8 1776.6,845.1 1777.7,844.5 1778.8,843.3 1780.0,847.1 1781.1,848.3 1782.2,846.2 1783.4,851.8 1784.5,848.5 1785.6,847.6 1786.8,849.5 1787.9,840.8 1789.0,845.1 1790.1,847.1 1791.3,845.2 1792.4,847.2 1793.5,848.9 1794.7,846.0 1795.8,850.6 1796.9,849.5 1798.1,845.2 1799.2,847.4 1800.3,845.8 1801.5,847.2 1802.6,851.3 1803.7,849.3 1804.9,845.6 1806.0,848.6 1807.1,846.3 1808.3,848.3 1809.4,851.5 1810.5,846.3 1811.6,849.5 1812.8,853.3 1813.9,844.8 1815.0,849.2 1816.2,850.3 1817.3,854.6 1818.4,849.9 1819.6,848.2 1820.7,853.6 1821.8,849.9 1823.0,854.6 1824.1,846.5 1825.2,848.8 1826.4,846.6 1827.5,844.6 1828.6,850.5 1829.7,855.4 1830.9,846.4 1832.0,851.1 1833.1,854.1 1834.3,847.7 1835.4,850.9 1836.5,844.3 1837.7,847.1 1838.8,853.9 1839.9,848.9 1841.1,850.5 1842.2,846.9 1843.3,849.5 1844.5,845.8 1845.6,847.2 1846.7,843.1 1847.9,847.7 1849.0,850.4 1850.1,849.0 1851.2,850.9 1852.4,851.7 1853.5,848.4 1854.6,847.5 1855.8,849.7 1856.9,848.8 1858.0,851.4 1859.2,850.6 1860.3,850.1 1861.4,855.0 1862.6,853.6 1863.7,850.4 1864.8,851.8 1866.0,850.0 1867.1,854.1 1868.2,848.0 1869.4,845.8 1870.5,849.4 1871.6,847.9 1872.7,848.9 1873.9,847.2 1875.0,849.0 1876.1,852.9 1877.3,844.6 1878.4,853.0 1879.5,847.6 1880.7,847.0 1881.8,852.4 1882.9,850.2 1884.1,849.9 1885.2,848.8 1886.3,847.1 1887.5,852.3 1888.6,849.6 1889.7,846.8 1890.8,846.6 1892.0,846.4 1893.1,847.0 1894.2,849.7 1895.4,851.7 1896.5,846.2 1897.6,847.2 1898.8,851.5 1899.9,853.2 1901.0,848.1 1902.2,845.1 1903.3,850.4 1904.4,852.3 1905.6,847.8 1906.7,848.1 1907.8,850.4 1909.0,852.7 1910.1,845.2 1911.2,850.1 1912.3,845.4 1913.5,852.6 1914.6,848.1 1915.7,850.6 1916.9,849.1 1918.0,847.0 1919.1,848.7 1920.3,845.9 1921.4,846.9 1922.5,849.1 1923.7,850.3 1924.8,849.2 1925.9,844.5 1927.1,849.2 1928.2,851.3 1929.3,844.2 1930.5,843.4 1931.6,849.0 1932.7,844.4 1933.8,847.6 1935.0,848.9 1936.1,844.9 1937.2,849.0 1938.4,845.1 1939.5,847.2 1940.6,850.3 1941.8,845.1 1942.9,849.7 1944.0,849.1 1945.2,847.1 1946.3,846.0 1947.4,850.6 1948.6,849.6 1949.7,852.2 1950.8,854.0 1952.0,849.5 1953.1,849.0 1954.2,847.4 1955.3,851.1 1956.5,845.8 1957.6,852.9 1958.7,852.3 1959.9,850.0 1961.0,855.2 1962.1,849.4 1963.3,850.9 1964.4,850.4 1965.5,854.4 1966.7,851.5 1967.8,849.5 1968.9,849.1 1970.1,850.4 1971.2,848.8 1972.3,845.2 1973.4,851.0 1974.6,853.7 1975.7,845.1 1976.8,852.7 1978.0,847.5 1979.1,849.5 1980.2,852.7 1981.4,848.6 1982.5,845.8 1983.6,856.6 1984.8,849.8 1985.9,850.3 1987.0,846.7 1988.2,848.7 1989.3,853.5 1990.4,856.8 1991.6,849.4 1992.7,848.6 1993.8,851.6 1994.9,851.0 1996.1,853.2 1997.2,848.8 1998.3,850.5 1999.5,848.7 2000.6,851.3 2001.7,852.6 2002.9,852.2 2004.0,845.9 2005.1,847.4 2006.3,848.0 2007.4,847.4 2008.5,851.0 2009.7,850.6 2010.8,854.0 2011.9,848.8 2013.1,847.6 2014.2,851.5 2015.3,846.0 2016.4,852.9 2017.6,850.8 2018.7,850.1 2019.8,847.7 2021.0,847.3 2022.1,852.4 2023.2,848.2 2024.4,843.0 2025.5,851.9 2026.6,848.5 2027.8,851.0 2028.9,848.3 2030.0,851.2 2031.2,848.3 2032.3,858.3 2033.4,852.4 2034.6,850.0 2035.7,848.9 2036.8,850.5 2037.9,852.1 2039.1,846.6 2040.2,855.7 2041.3,851.6 2042.5,848.0 2043.6,851.3 2044.7,849.6 2045.9,849.9 2047.0,851.6 2048.1,850.7 2049.3,853.9 2050.4,851.4 2051.5,851.2 2052.7,850.8 2053.8,852.9 2054.9,852.7 2056.0,855.8 2057.2,848.5 2058.3,852.7 2059.4,853.7 2060.6,856.7 2061.7,852.8 2062.8,849.0 2064.0,847.1 2065.1,856.4 2066.2,847.4 2067.4,853.0 2068.5,854.1 2069.6,851.6 2070.8,852.0 2071.9,849.4 2073.0,852.2 2074.2,852.3 2075.3,851.7 2076.4,850.4 2077.5,848.6 2078.7,851.6 2079.8,850.4 2080.9,849.6 2082.1,850.4 2083.2,851.7 2084.3,854.0 2085.5,853.5 2086.6,854.0 2087.7,848.3 2088.9,856.3 2090.0,849.7 2091.1,849.6 2092.3,851.4 2093.4,853.8 2094.5,852.4 2095.7,851.5 2096.8,852.5 2097.9,856.8 2099.0,854.8 2100.2,853.5 2101.3,855.1 2102.4,852.2 2103.6,853.0 2104.7,848.7 2105.8,854.1 2107.0,853.7 2108.1,849.3 2109.2,851.2 2110.4,855.8 2111.5,851.7 2112.6,855.7" fill="none" stroke="#0000d2" stroke-width="1.5" stroke-linejoin="round"/>
<path d="M1163.3,861.3h0M1165.0,865.5h0M1165.6,870.6h0M1166.7,874.4h0M1167.3,878.5h0M1167.8,880.7h0M1168.4,885.3h0M1170.1,894.0h0M1171.2,900.3h0M1172.3,905.9h0M1172.9,909.9h0M1173.5,913.8h0M1174.0,916.7h0M1174.6,922.0h0M1175.7,928.5h0M1176.9,934.2h0M1178.0,941.7h0M1178.6,943.9h0M1179.1,950.9h0M1180.3,957.7h0M1180.8,960.8h0M1181.4,964.8h0M1182.5,975.0h0M1183.7,979.9h0M1184.8,985.3h0M1185.9,989.2h0M1186.5,985.9h0M1187.1,992.4h0M1188.2,994.3h0M1188.8,997.4h0M1189.9,995.2h0M1191.6,998.5h0M1193.8,996.0h0M1196.1,991.7h0M1196.7,983.8h0M1197.8,978.1h0M1198.4,971.6h0M1198.9,965.1h0M1199.5,954.3h0M1200.6,941.4h0M1201.2,933.3h0M1201.8,928.7h0M1202.3,919.4h0M1202.9,909.2h0M1203.5,898.8h0M1204.0,894.3h0M1204.6,885.6h0M1205.2,871.8h0M1205.7,860.0h0M1206.3,852.0h0M1206.9,843.4h0M1207.4,826.0h0M1208.0,816.9h0M1208.6,803.1h0M1209.1,793.7h0M1209.7,782.9h0M1210.3,771.6h0M1210.8,757.2h0M1211.4,745.8h0M1211.9,740.0h0M1212.5,727.0h0M1213.1,711.6h0M1213.6,704.5h0M1214.2,695.6h0M1214.8,683.8h0M1215.3,674.5h0M1215.9,665.6h0M1216.5,657.3h0M1217.0,648.2h0M1217.6,639.7h0M1218.2,629.2h0M1218.7,621.8h0M1219.3,610.7h0M1219.9,600.2h0M1220.4,586.4h0M1221.0,576.3h0M1221.6,565.2h0M1222.1,552.4h0M1222.7,541.3h0M1223.3,528.9h0M1223.8,520.1h0M1224.4,508.2h0M1225.0,499.7h0M1225.5,492.6h0M1226.1,484.1h0M1226.7,473.0h0M1227.2,465.2h0M1227.8,457.7h0M1228.4,452.5h0M1228.9,445.7h0M1229.5,436.5h0M1230.1,430.1h0M1230.6,426.0h0M1231.8,418.3h0M1232.9,412.7h0M1233.4,409.5h0M1234.6,405.6h0M1235.7,401.9h0M1236.8,397.0h0M1239.1,398.6h0M1240.2,400.9h0M1241.4,403.8h0M1241.9,408.4h0M1243.1,412.4h0M1243.6,416.0h0M1244.8,419.4h0M1245.3,426.3h0M1245.9,429.9h0M1246.5,438.3h0M1247.6,447.9h0M1248.2,457.7h0M1248.7,462.0h0M1249.3,469.6h0M1249.9,480.3h0M1250.4,488.4h0M1251.0,497.9h0M1251.6,503.8h0M1252.1,515.4h0M1252.7,521.6h0M1253.2,526.1h0M1253.8,537.2h0M1254.4,544.8h0M1254.9,554.1h0M1255.5,564.2h0M1256.1,570.9h0M1256.6,578.8h0M1257.2,589.7h0M1257.8,596.3h0M1258.3,603.6h0M1258.9,612.9h0M1259.5,626.1h0M1260.0,635.0h0M1260.6,645.8h0M1261.2,651.4h0M1261.7,662.0h0M1262.3,670.9h0M1262.9,682.5h0M1263.4,690.5h0M1264.0,696.0h0M1264.6,702.3h0M1265.1,710.1h0M1265.7,714.2h0M1266.3,719.0h0M1266.8,724.8h0M1267.4,731.9h0M1268.0,738.3h0M1269.1,744.0h0M1269.7,749.1h0M1270.2,753.6h0M1270.8,758.2h0M1271.9,765.0h0M1272.5,768.2h0M1273.1,773.5h0M1273.6,776.0h0M1274.7,782.7h0M1275.3,786.1h0M1277.0,791.8h0M1278.1,797.2h0M1278.7,800.1h0M1279.3,804.2h0M1281.0,808.3h0M1282.1,811.6h0M1282.7,814.4h0M1283.8,817.3h0M1284.9,819.4h0M1286.1,822.3h0M1286.6,824.9h0M1287.8,827.3h0M1288.9,831.1h0M1290.0,825.8h0M1290.6,830.9h0M1292.9,833.8h0M1294.5,836.4h0M1295.1,831.6h0M1295.7,837.3h0M1296.8,839.8h0M1299.1,841.7h0M1299.6,844.8h0M1300.2,842.3h0M1301.3,844.5h0M1301.9,846.7h0M1303.6,844.9h0M1305.9,845.7h0M1307.6,840.9h0M1308.1,845.7h0M1308.7,841.7h0M1310.4,838.2h0M1312.7,834.5h0M1314.4,837.8h0M1315.5,832.9h0M1317.7,835.0h0M1318.3,831.6h0M1320.0,833.6h0M1321.7,831.1h0M1324.0,831.8h0M1324.5,837.1h0M1325.1,831.6h0M1326.8,833.5h0M1329.1,831.0h0M1329.6,834.2h0M1330.8,831.0h0M1331.3,834.7h0M1331.9,830.1h0M1332.5,833.3h0M1334.2,830.7h0M1334.7,835.7h0M1335.3,831.0h0M1335.8,833.9h0M1336.4,831.1h0M1337.0,834.1h0M1338.7,832.1h0M1340.9,834.0h0M1343.2,834.1h0M1343.8,837.7h0M1344.3,833.4h0M1345.5,829.7h0M1346.0,832.6h0M1347.7,835.8h0M1349.4,831.6h0M1350.6,835.8h0M1351.7,832.4h0M1353.4,835.4h0M1355.1,832.6h0M1355.7,835.4h0M1356.8,832.3h0M1357.3,835.6h0M1357.9,832.4h0M1360.2,833.1h0M1361.3,835.7h0M1362.4,833.2h0M1364.1,830.6h0M1364.7,833.8h0M1367.0,834.5h0M1368.7,836.1h0M1369.2,833.6h0M1369.8,836.7h0M1370.4,832.8h0M1370.9,836.1h0M1371.5,833.2h0M1372.1,837.1h0M1373.2,832.7h0M1373.8,835.9h0M1375.5,838.3h0M1376.0,834.2h0M1377.1,836.4h0M1377.7,833.8h0M1378.3,836.0h0M1380.5,831.2h0M1381.1,837.3h0M1381.7,833.6h0M1382.8,838.0h0M1383.9,834.0h0M1386.2,835.5h0M1387.3,839.3h0M1387.9,834.7h0M1390.2,837.2h0M1390.7,832.3h0M1392.4,837.0h0M1394.7,836.9h0M1395.3,834.5h0M1396.9,836.0h0M1397.5,833.2h0M1398.6,839.6h0M1399.2,836.3h0M1400.3,833.8h0M1401.5,835.7h0M1403.7,836.4h0M1406.0,838.1h0M1406.6,834.5h0M1408.8,833.6h0M1410.0,836.5h0M1411.7,833.0h0M1413.4,836.2h0M1413.9,838.9h0M1414.5,833.3h0M1415.1,835.6h0M1417.3,834.9h0M1417.9,838.3h0M1418.4,834.1h0M1419.0,836.6h0M1420.1,833.1h0M1421.3,836.4h0M1421.8,838.8h0M1422.4,835.6h0M1424.1,837.9h0M1425.8,835.6h0M1427.5,837.2h0M1428.6,835.2h0M1430.3,832.7h0M1430.9,835.8h0M1433.2,838.9h0M1433.7,836.2h0M1434.9,832.9h0M1436.0,835.1h0M1437.1,837.2h0M1438.2,835.3h0M1438.8,837.5h0M1439.4,834.8h0M1439.9,837.9h0M1442.2,838.5h0M1442.8,834.6h0M1445.0,834.4h0M1445.6,837.2h0M1446.2,834.4h0M1447.3,836.5h0M1448.4,838.8h0M1449.6,836.7h0M1451.8,835.0h0M1454.1,837.3h0M1456.4,837.5h0M1456.9,834.1h0M1457.5,837.0h0M1459.2,833.8h0M1459.7,836.6h0M1462.0,837.9h0M1463.1,833.9h0M1463.7,838.7h0M1464.3,834.3h0M1464.8,838.5h0M1466.0,835.6h0M1467.7,839.5h0M1468.2,836.4h0M1468.8,838.6h0M1469.4,832.9h0M1469.9,837.3h0M1472.2,839.1h0M1472.8,835.5h0M1474.5,838.2h0M1475.6,835.1h0M1476.2,838.6h0M1477.3,836.5h0M1477.9,838.9h0M1479.0,835.7h0M1479.5,838.5h0M1480.1,835.8h0M1480.7,838.3h0M1481.2,834.9h0M1482.4,838.0h0M1484.6,835.5h0M1485.2,839.6h0M1485.8,835.9h0M1486.3,839.4h0M1488.0,834.0h0M1488.6,837.3h0M1490.3,835.7h0M1490.9,840.7h0M1491.4,837.4h0M1492.0,833.9h0M1492.6,838.0h0M1494.8,837.5h0M1497.1,838.1h0M1498.8,835.3h0M1499.9,838.0h0M1500.5,841.5h0M1501.0,836.5h0M1502.2,839.1h0M1503.9,836.2h0M1504.4,839.4h0M1505.6,837.4h0M1507.8,838.6h0M1508.4,835.2h0M1509.5,837.9h0M1511.8,839.0h0M1512.4,836.4h0M1514.6,837.1h0M1515.2,839.2h0M1516.3,834.2h0M1516.9,839.8h0M1518.0,836.3h0M1519.2,839.3h0M1520.3,837.1h0M1522.5,836.4h0M1523.1,839.7h0M1524.8,837.8h0M1526.5,839.7h0M1527.1,836.1h0M1527.6,838.9h0M1529.3,840.5h0M1529.9,838.2h0M1532.2,838.7h0M1534.4,839.6h0M1536.1,838.0h0M1536.7,840.9h0M1537.8,838.8h0M1539.5,837.0h0M1541.2,838.5h0M1543.5,838.0h0M1545.7,837.5h0M1548.0,839.4h0M1549.7,837.9h0M1551.4,835.0h0M1552.0,839.8h0M1554.2,838.5h0M1554.8,835.9h0M1556.5,837.8h0M1558.8,839.4h0M1559.9,837.4h0M1561.6,842.0h0M1562.1,837.0h0M1563.8,839.4h0M1566.1,837.8h0M1568.4,842.2h0M1568.9,838.5h0M1570.1,841.2h0M1571.8,837.4h0M1572.3,841.4h0M1572.9,837.4h0M1575.2,839.1h0M1577.4,838.0h0M1578.0,835.1h0M1578.6,838.0h0M1580.3,841.3h0M1582.5,838.1h0M1584.8,838.1h0M1587.0,841.0h0M1587.6,838.8h0M1589.3,836.9h0M1590.4,840.7h0M1592.1,838.5h0M1592.7,840.8h0M1593.3,838.0h0M1595.0,839.7h0M1596.1,836.7h0M1596.7,839.8h0M1597.2,837.3h0M1599.5,839.0h0M1600.6,841.9h0M1601.2,838.2h0M1603.4,839.1h0M1604.6,842.6h0M1605.1,839.6h0M1607.4,839.0h0M1609.7,840.4h0M1611.9,838.4h0M1612.5,840.7h0M1613.1,838.0h0M1613.6,843.1h0M1615.3,840.6h0M1617.6,838.8h0M1618.7,841.9h0M1619.9,836.6h0M1620.4,843.7h0M1621.0,840.3h0M1621.6,837.7h0M1622.7,841.3h0M1623.8,838.7h0M1624.9,841.5h0M1625.5,838.9h0M1627.8,840.7h0M1629.5,837.3h0M1630.6,839.8h0M1631.2,836.4h0M1631.7,841.8h0M1632.3,838.8h0M1632.9,841.1h0M1634.6,837.9h0M1635.1,841.8h0M1636.8,839.5h0M1638.5,842.1h0M1639.7,838.7h0M1641.9,841.0h0M1643.1,838.9h0M1644.7,843.7h0M1646.4,841.9h0M1647.0,838.9h0M1648.7,840.4h0M1651.0,840.4h0M1651.5,844.1h0M1652.1,841.3h0M1652.7,838.6h0M1653.2,841.3h0M1655.5,839.0h0M1656.1,841.2h0M1657.2,845.7h0M1657.8,841.7h0M1658.3,844.0h0M1659.5,839.6h0M1660.6,843.9h0M1661.2,839.6h0M1662.3,842.2h0M1662.9,839.8h0M1663.4,843.6h0M1665.7,839.7h0M1666.2,843.2h0M1667.9,840.8h0M1669.6,842.3h0M1671.9,842.7h0M1673.0,838.4h0M1673.6,842.2h0M1674.7,839.2h0M1675.3,842.4h0M1677.0,840.8h0M1679.3,839.5h0M1680.4,843.8h0M1681.0,841.6h0M1683.2,842.7h0M1685.5,842.7h0M1687.7,843.4h0M1688.9,840.8h0M1690.6,843.7h0M1692.8,842.8h0M1695.1,840.8h0M1697.4,842.3h0M1699.6,841.7h0M1701.9,844.4h0M1703.6,840.7h0M1704.2,843.1h0M1706.4,842.8h0M1707.0,839.9h0M1708.7,842.2h0M1710.9,842.4h0M1713.2,842.3h0M1714.9,845.5h0M1717.2,842.1h0M1719.4,844.3h0M1721.7,840.9h0M1722.3,845.3h0M1722.8,841.3h0M1724.0,843.6h0M1726.2,842.3h0M1728.5,842.9h0M1730.7,845.3h0M1731.3,843.0h0M1732.4,845.0h0M1733.0,840.3h0M1733.6,845.2h0M1734.7,843.3h0M1735.3,846.8h0M1737.0,845.4h0M1738.1,843.4h0M1740.4,843.1h0M1742.1,844.9h0M1743.2,841.7h0M1744.3,843.9h0M1746.0,846.5h0M1747.7,844.2h0M1748.8,842.3h0M1750.0,845.8h0M1752.2,843.7h0M1753.4,847.7h0M1753.9,845.2h0M1755.6,842.9h0M1756.2,846.8h0M1756.8,844.0h0M1759.0,843.9h0M1760.7,846.9h0M1761.9,844.2h0M1763.0,847.7h0M1764.1,845.2h0M1764.7,842.8h0M1766.4,848.2h0M1767.0,845.5h0M1769.2,845.9h0M1769.8,842.7h0M1770.9,845.7h0M1772.0,842.4h0M1772.6,846.5h0M1773.2,843.8h0M1773.7,841.0h0M1774.3,848.2h0M1774.9,845.1h0M1777.1,841.1h0M1777.7,844.5h0M1779.4,846.8h0M1780.5,840.6h0M1781.1,848.3h0M1782.2,846.2h0M1782.8,849.1h0M1783.4,851.8h0M1783.9,843.8h0M1784.5,848.5h0M1786.8,849.5h0M1787.3,846.4h0M1787.9,840.8h0M1788.4,845.0h0M1789.6,850.8h0M1790.1,847.1h0M1790.7,850.1h0M1791.3,845.2h0M1791.8,847.8h0M1794.1,851.3h0M1794.7,846.0h0M1795.2,851.0h0M1796.4,848.4h0M1798.1,845.2h0M1799.2,847.4h0M1800.9,852.7h0M1801.5,847.2h0M1802.0,850.5h0M1803.2,848.2h0M1804.9,845.6h0M1805.4,854.3h0M1806.0,848.6h0M1806.6,843.5h0M1807.1,846.3h0M1808.3,848.3h0M1808.8,852.3h0M1809.9,846.9h0M1811.1,850.6h0M1812.2,848.2h0M1812.8,853.3h0M1813.3,849.7h0M1813.9,844.8h0M1815.0,849.2h0M1815.6,844.3h0M1816.2,850.3h0M1817.3,854.6h0M1817.9,846.6h0M1818.4,849.9h0M1819.0,843.1h0M1819.6,848.2h0M1820.7,853.6h0M1821.3,845.2h0M1821.8,849.9h0M1823.0,854.6h0M1823.5,846.6h0M1824.7,850.5h0M1825.8,848.0h0M1827.5,844.6h0M1828.1,849.6h0M1829.7,855.4h0M1830.3,851.0h0M1830.9,846.4h0M1832.0,851.1h0M1832.6,848.1h0M1833.1,854.1h0M1833.7,849.7h0M1834.8,847.2h0M1835.4,850.9h0M1836.0,846.7h0M1836.5,844.3h0M1837.1,850.1h0M1837.7,847.1h0M1838.2,852.9h0M1839.4,847.4h0M1841.1,850.5h0M1842.2,846.9h0M1842.8,844.6h0M1843.3,849.5h0M1843.9,853.2h0M1844.5,845.8h0M1846.2,848.5h0M1846.7,843.1h0M1847.3,848.8h0M1848.4,853.7h0M1849.0,850.4h0M1850.7,848.1h0M1851.2,850.9h0M1851.8,844.6h0M1852.4,851.7h0M1853.5,848.4h0M1854.1,852.1h0M1854.6,847.5h0M1855.8,849.7h0M1856.3,844.1h0M1856.9,848.8h0M1858.0,851.4h0M1859.7,849.8h0M1860.9,847.0h0M1861.4,855.0h0M1862.0,851.8h0M1863.1,845.6h0M1863.7,850.4h0M1865.4,846.7h0M1866.0,850.0h0M1867.1,854.1h0M1867.7,846.0h0M1869.9,849.5h0M1871.0,847.2h0M1872.2,849.6h0M1873.9,847.2h0M1875.6,844.2h0M1876.1,852.9h0M1876.7,849.6h0M1877.3,844.6h0M1877.8,850.0h0M1878.4,853.0h0M1879.0,845.4h0M1879.5,847.6h0M1880.1,852.0h0M1880.7,847.0h0M1881.2,851.6h0M1882.4,849.4h0M1883.5,851.7h0M1885.2,848.8h0M1887.5,852.3h0M1888.6,849.6h0M1889.2,845.1h0M1890.3,850.6h0M1890.8,846.6h0M1891.4,851.9h0M1892.0,846.4h0M1892.5,849.9h0M1893.1,847.0h0M1894.2,849.7h0M1895.4,851.7h0M1895.9,849.1h0M1896.5,846.2h0M1897.1,838.6h0M1897.6,847.2h0M1898.8,851.5h0M1899.3,846.3h0M1899.9,853.2h0M1900.5,851.0h0M1901.0,848.1h0M1901.6,852.0h0M1902.2,845.1h0M1903.3,850.4h0M1904.4,852.3h0M1905.6,847.8h0M1907.8,850.4h0M1908.4,848.0h0M1909.0,852.7h0M1909.5,848.9h0M1910.1,845.2h0M1911.2,850.1h0M1912.3,845.4h0M1913.5,852.6h0M1914.0,849.8h0M1915.2,845.5h0M1915.7,850.6h0M1916.3,846.8h0M1916.9,849.1h0M1917.4,842.2h0M1918.0,847.0h0M1919.7,845.1h0M1920.8,850.3h0M1921.4,846.9h0M1922.0,850.7h0M1924.2,848.6h0M1925.4,845.3h0M1927.1,849.2h0M1927.6,844.2h0M1928.2,851.3h0M1929.3,844.2h0M1931.0,846.4h0M1931.6,849.0h0M1932.7,844.4h0M1933.3,847.8h0M1935.5,843.8h0M1936.7,849.1h0M1938.4,845.1h0M1938.9,849.6h0M1939.5,847.2h0M1940.1,852.4h0M1941.2,846.2h0M1942.3,850.5h0M1943.5,845.9h0M1944.0,849.1h0M1945.2,847.1h0M1947.4,850.6h0M1949.1,853.0h0M1950.3,847.4h0M1950.8,854.0h0M1951.4,847.6h0M1952.5,850.6h0M1954.2,847.4h0M1954.8,851.5h0M1956.5,845.8h0M1957.0,848.1h0M1957.6,852.9h0M1959.3,850.5h0M1960.4,844.7h0M1961.0,855.2h0M1961.6,847.9h0M1962.7,852.3h0M1964.4,850.4h0M1965.0,848.0h0M1965.5,854.4h0M1966.1,847.2h0M1966.7,851.5h0M1967.2,846.7h0M1967.8,849.5h0M1969.5,847.8h0M1970.1,850.4h0M1970.6,852.6h0M1971.2,848.8h0M1972.3,845.2h0M1972.9,855.6h0M1973.4,851.0h0M1974.0,847.8h0M1974.6,853.7h0M1975.1,851.1h0M1975.7,845.1h0M1976.8,852.7h0M1977.4,846.9h0M1979.1,849.5h0M1980.2,852.7h0M1981.4,848.6h0M1982.5,845.8h0M1983.1,851.3h0M1983.6,856.6h0M1984.2,851.3h0M1986.5,852.6h0M1987.0,846.7h0M1987.6,852.2h0M1988.2,848.7h0M1988.7,851.2h0M1989.3,853.5h0M1989.9,846.9h0M1990.4,856.8h0M1991.0,852.6h0M1991.6,849.4h0M1993.8,851.6h0M1994.4,845.0h0M1994.9,851.0h0M1996.1,853.2h0M1997.2,848.8h0M1998.9,852.3h0M1999.5,848.7h0M2000.0,854.8h0M2000.6,851.3h0M2002.9,852.2h0M2004.0,845.9h0M2004.6,848.6h0M2006.8,848.5h0M2008.0,844.5h0M2008.5,851.0h0M2010.2,859.3h0M2010.8,854.0h0M2011.4,850.4h0M2013.1,847.6h0M2014.2,851.5h0M2014.7,846.8h0M2015.9,849.3h0M2016.4,852.9h0M2017.0,846.7h0M2017.6,850.8h0M2019.8,847.7h0M2022.1,852.4h0M2023.2,848.2h0M2023.8,851.5h0M2024.4,843.0h0M2024.9,851.0h0M2026.1,847.5h0M2027.2,850.5h0M2028.9,848.3h0M2030.0,851.2h0M2031.2,848.3h0M2032.3,858.3h0M2032.9,852.7h0M2034.6,850.0h0M2036.8,850.5h0M2037.4,846.1h0M2037.9,852.1h0M2038.5,849.8h0M2039.1,846.6h0M2039.6,849.7h0M2040.2,855.7h0M2040.8,849.6h0M2042.5,848.0h0M2043.6,851.3h0M2044.2,848.4h0M2045.3,850.4h0M2047.6,851.9h0M2049.3,853.9h0M2049.8,847.5h0M2050.4,851.4h0M2052.7,850.8h0M2053.8,852.9h0M2054.4,848.5h0M2054.9,852.7h0M2055.5,848.3h0M2056.0,855.8h0M2056.6,853.6h0M2057.2,848.5h0M2057.7,851.4h0M2059.4,853.7h0M2060.0,850.9h0M2060.6,856.7h0M2061.1,852.3h0M2062.3,849.8h0M2063.4,853.3h0M2064.0,847.1h0M2064.5,852.7h0M2065.1,856.4h0M2066.2,847.4h0M2066.8,851.5h0M2068.5,854.1h0M2069.1,848.0h0M2069.6,851.6h0M2070.2,846.9h0M2070.8,852.0h0M2071.3,857.4h0M2071.9,849.4h0M2072.5,852.5h0M2073.6,847.6h0M2074.2,852.3h0M2074.7,848.7h0M2075.3,851.7h0M2077.0,853.2h0M2077.5,848.6h0M2078.7,851.6h0M2080.9,849.6h0M2081.5,852.5h0M2083.8,851.0h0M2084.3,854.0h0M2086.0,850.3h0M2086.6,854.0h0M2087.2,851.1h0M2087.7,848.3h0M2088.3,851.3h0M2088.9,856.3h0M2089.4,852.0h0M2090.0,849.7h0M2090.6,853.1h0M2091.1,849.6h0M2092.8,853.1h0M2095.1,851.2h0M2096.2,853.4h0M2097.9,856.8h0M2098.5,854.7h0M2100.7,853.5h0M2101.9,851.2h0M2103.0,857.1h0M2103.6,853.0h0M2104.1,855.9h0M2104.7,848.7h0M2105.3,854.2h0M2107.5,853.3h0M2108.1,849.3h0M2108.7,852.7h0M2109.8,850.5h0M2110.4,855.8h0M2110.9,849.1h0M2111.5,851.7h0M2112.6,855.7h0" stroke="#0000d2" stroke-width="4.8" stroke-linecap="round" fill="none"/>
<polyline points="1163.5,861.8 1164.6,863.9 1165.7,866.4 1166.8,872.9 1168.0,877.5 1169.1,883.5 1170.2,893.7 1171.4,899.7 1172.5,902.6 1173.6,913.3 1174.8,916.9 1175.9,925.7 1177.0,935.4 1178.2,939.2 1179.3,948.9 1180.4,956.2 1181.6,962.8 1182.7,967.2 1183.8,977.2 1185.0,978.2 1186.1,983.2 1187.2,990.2 1188.3,992.5 1189.5,996.6 1190.6,995.1 1191.7,997.9 1192.9,1000.6 1194.0,1002.6 1195.1,996.7 1196.3,991.2 1197.4,985.4 1198.5,975.9 1199.7,960.9 1200.8,943.8 1201.9,928.7 1203.1,915.5 1204.2,895.7 1205.3,875.8 1206.5,856.4 1207.6,834.3 1208.7,811.9 1209.8,792.3 1211.0,768.3 1212.1,745.5 1213.2,721.0 1214.4,700.4 1215.5,678.1 1216.6,660.6 1217.8,645.3 1218.9,627.4 1220.0,611.2 1221.2,588.4 1222.3,564.5 1223.4,543.1 1224.6,519.9 1225.7,503.1 1226.8,484.6 1227.9,466.0 1229.1,451.2 1230.2,436.9 1231.3,431.9 1232.5,422.4 1233.6,417.3 1234.7,413.4 1235.9,410.3 1237.0,407.8 1238.1,400.9 1239.3,403.2 1240.4,403.8 1241.5,408.0 1242.7,413.6 1243.8,421.8 1244.9,425.7 1246.1,435.5 1247.2,440.8 1248.3,456.9 1249.4,470.1 1250.6,490.2 1251.7,508.6 1252.8,519.7 1254.0,536.2 1255.1,552.6 1256.2,571.7 1257.4,587.4 1258.5,601.9 1259.6,623.3 1260.8,641.3 1261.9,659.9 1263.0,680.0 1264.2,693.9 1265.3,707.3 1266.4,719.1 1267.6,727.3 1268.7,737.4 1269.8,749.1 1270.9,757.6 1272.1,764.0 1273.2,769.8 1274.3,777.0 1275.5,783.1 1276.6,788.9 1277.7,796.1 1278.9,798.4 1280.0,802.1 1281.1,808.5 1282.3,806.6 1283.4,818.0 1284.5,818.7 1285.7,820.9 1286.8,822.3 1287.9,827.4 1289.1,827.9 1290.2,828.3 1291.3,830.8 1292.4,829.2 1293.6,833.2 1294.7,836.9 1295.8,836.7 1297.0,837.7 1298.1,838.3 1299.2,841.2 1300.4,844.5 1301.5,842.4 1302.6,843.5 1303.8,843.6 1304.9,845.0 1306.0,844.2 1307.2,843.2 1308.3,840.9 1309.4,838.2 1310.5,841.3 1311.7,840.0 1312.8,834.9 1313.9,835.3 1315.1,835.6 1316.2,833.6 1317.3,831.8 1318.5,835.1 1319.6,833.1 1320.7,834.3 1321.9,833.0 1323.0,833.6 1324.1,834.7 1325.3,830.4 1326.4,835.5 1327.5,832.5 1328.7,833.6 1329.8,832.3 1330.9,836.8 1332.0,831.7 1333.2,836.1 1334.3,832.3 1335.4,834.0 1336.6,831.6 1337.7,832.7 1338.8,834.1 1340.0,833.2 1341.1,834.0 1342.2,832.9 1343.4,836.2 1344.5,834.6 1345.6,835.1 1346.8,832.5 1347.9,835.6 1349.0,834.6 1350.2,836.2 1351.3,834.3 1352.4,833.7 1353.5,830.7 1354.7,834.9 1355.8,833.7 1356.9,834.5 1358.1,834.1 1359.2,833.6 1360.3,835.2 1361.5,837.0 1362.6,832.9 1363.7,834.4 1364.9,836.1 1366.0,833.7 1367.1,833.3 1368.3,837.4 1369.4,834.2 1370.5,835.1 1371.6,832.1 1372.8,836.4 1373.9,833.1 1375.0,835.7 1376.2,831.7 1377.3,833.9 1378.4,835.4 1379.6,833.8 1380.7,832.8 1381.8,836.2 1383.0,835.1 1384.1,835.5 1385.2,834.0 1386.4,833.2 1387.5,837.9 1388.6,834.3 1389.8,836.9 1390.9,837.4 1392.0,836.3 1393.1,833.8 1394.3,834.2 1395.4,837.9 1396.5,835.8 1397.7,834.7 1398.8,834.1 1399.9,835.6 1401.1,835.3 1402.2,834.5 1403.3,834.2 1404.5,833.1 1405.6,837.0 1406.7,837.9 1407.9,837.4 1409.0,837.0 1410.1,835.3 1411.3,836.2 1412.4,835.6 1413.5,834.2 1414.6,833.7 1415.8,837.2 1416.9,833.9 1418.0,835.4 1419.2,836.7 1420.3,838.6 1421.4,835.4 1422.6,833.3 1423.7,835.8 1424.8,838.0 1426.0,833.0 1427.1,835.1 1428.2,836.2 1429.4,836.5 1430.5,831.2 1431.6,837.6 1432.8,836.6 1433.9,836.3 1435.0,835.8 1436.1,836.4 1437.3,837.0 1438.4,835.0 1439.5,835.8 1440.7,833.9 1441.8,834.9 1442.9,838.7 1444.1,836.0 1445.2,836.5 1446.3,837.3 1447.5,835.2 1448.6,835.2 1449.7,837.8 1450.9,833.8 1452.0,836.7 1453.1,836.0 1454.2,839.0 1455.4,835.9 1456.5,838.5 1457.6,839.1 1458.8,836.5 1459.9,834.6 1461.0,837.8 1462.2,838.4 1463.3,835.0 1464.4,835.3 1465.6,836.9 1466.7,836.4 1467.8,838.5 1469.0,838.9 1470.1,839.1 1471.2,837.5 1472.4,835.8 1473.5,837.5 1474.6,837.0 1475.7,836.0 1476.9,840.4 1478.0,835.6 1479.1,836.6 1480.3,838.8 1481.4,837.6 1482.5,839.5 1483.7,836.3 1484.8,837.2 1485.9,837.6 1487.1,839.3 1488.2,836.7 1489.3,836.6 1490.5,836.4 1491.6,839.8 1492.7,838.0 1493.9,838.2 1495.0,836.1 1496.1,836.3 1497.2,836.8 1498.4,836.2 1499.5,837.5 1500.6,833.8 1501.8,838.0 1502.9,837.7 1504.0,839.5 1505.2,837.2 1506.3,837.3 1507.4,835.9 1508.6,837.2 1509.7,839.6 1510.8,837.7 1512.0,837.7 1513.1,836.8 1514.2,837.7 1515.4,838.6 1516.5,837.7 1517.6,837.7 1518.7,839.5 1519.9,839.2 1521.0,837.8 1522.1,836.4 1523.3,837.8 1524.4,838.1 1525.5,837.4 1526.7,838.0 1527.8,840.5 1528.9,838.9 1530.1,836.3 1531.2,838.0 1532.3,839.9 1533.5,841.8 1534.6,838.0 1535.7,838.5 1536.8,834.9 1538.0,839.7 1539.1,837.4 1540.2,836.5 1541.4,837.4 1542.5,840.1 1543.6,838.2 1544.8,839.7 1545.9,839.1 1547.0,837.5 1548.2,841.0 1549.3,837.1 1550.4,836.0 1551.6,837.4 1552.7,839.1 1553.8,835.9 1555.0,835.8 1556.1,840.1 1557.2,838.2 1558.3,838.5 1559.5,837.9 1560.6,838.0 1561.7,840.0 1562.9,839.5 1564.0,838.3 1565.1,835.9 1566.3,837.3 1567.4,836.8 1568.5,837.9 1569.7,839.2 1570.8,839.8 1571.9,841.0 1573.1,839.1 1574.2,838.5 1575.3,840.0 1576.5,841.7 1577.6,842.2 1578.7,842.0 1579.8,836.8 1581.0,836.6 1582.1,837.7 1583.2,838.3 1584.4,838.4 1585.5,841.3 1586.6,835.6 1587.8,839.4 1588.9,839.1 1590.0,840.0 1591.2,841.6 1592.3,838.9 1593.4,837.7 1594.6,838.7 1595.7,841.5 1596.8,842.9 1597.9,836.9 1599.1,837.7 1600.2,841.7 1601.3,840.2 1602.5,836.4 1603.6,840.2 1604.7,840.2 1605.9,839.5 1607.0,839.0 1608.1,839.8 1609.3,838.2 1610.4,840.1 1611.5,840.7 1612.7,842.5 1613.8,839.4 1614.9,836.5 1616.1,838.9 1617.2,838.0 1618.3,839.4 1619.4,839.4 1620.6,843.2 1621.7,840.6 1622.8,843.1 1624.0,841.3 1625.1,840.8 1626.2,840.7 1627.4,841.5 1628.5,840.1 1629.6,840.3 1630.8,839.4 1631.9,841.1 1633.0,840.5 1634.2,841.5 1635.3,840.2 1636.4,840.6 1637.6,838.1 1638.7,838.5 1639.8,839.8 1640.9,837.2 1642.1,843.1 1643.2,841.3 1644.3,841.4 1645.5,838.6 1646.6,842.1 1647.7,842.4 1648.9,842.8 1650.0,839.9 1651.1,840.5 1652.3,840.3 1653.4,839.1 1654.5,841.3 1655.7,840.2 1656.8,840.1 1657.9,841.6 1659.1,841.7 1660.2,841.2 1661.3,839.7 1662.4,840.5 1663.6,840.6 1664.7,840.2 1665.8,839.0 1667.0,839.7 1668.1,839.3 1669.2,842.6 1670.4,840.8 1671.5,841.0 1672.6,839.9 1673.8,843.7 1674.9,841.1 1676.0,840.7 1677.2,839.4 1678.3,841.4 1679.4,843.8 1680.5,840.7 1681.7,843.3 1682.8,839.3 1683.9,843.2 1685.1,844.1 1686.2,842.3 1687.3,842.1 1688.5,841.2 1689.6,842.7 1690.7,840.8 1691.9,840.4 1693.0,847.1 1694.1,842.4 1695.3,844.5 1696.4,841.5 1697.5,841.8 1698.7,843.3 1699.8,842.8 1700.9,843.1 1702.0,843.9 1703.2,843.9 1704.3,840.9 1705.4,842.1 1706.6,842.7 1707.7,842.2 1708.8,844.8 1710.0,842.5 1711.1,843.1 1712.2,840.9 1713.4,844.2 1714.5,844.7 1715.6,842.4 1716.8,842.2 1717.9,842.8 1719.0,842.3 1720.2,844.0 1721.3,842.2 1722.4,843.9 1723.5,845.4 1724.7,842.0 1725.8,840.9 1726.9,842.8 1728.1,842.6 1729.2,843.9 1730.3,841.7 1731.5,841.4 1732.6,843.8 1733.7,842.5 1734.9,844.2 1736.0,841.6 1737.1,842.0 1738.3,846.4 1739.4,844.4 1740.5,845.2 1741.7,845.4 1742.8,843.8 1743.9,842.7 1745.0,843.6 1746.2,843.9 1747.3,848.1 1748.4,843.7 1749.6,846.0 1750.7,842.9 1751.8,847.4 1753.0,846.3 1754.1,845.8 1755.2,844.3 1756.4,845.4 1757.5,844.0 1758.6,845.0 1759.8,846.2 1760.9,841.2 1762.0,842.9 1763.1,847.9 1764.3,846.5 1765.4,845.7 1766.5,844.0 1767.7,844.8 1768.8,843.5 1769.9,842.6 1771.1,846.6 1772.2,844.7 1773.3,845.1 1774.5,847.6 1775.6,847.7 1776.7,846.6 1777.9,845.9 1779.0,848.5 1780.1,845.5 1781.3,843.5 1782.4,845.7 1783.5,846.4 1784.6,844.2 1785.8,847.7 1786.9,848.5 1788.0,852.8 1789.2,845.5 1790.3,849.6 1791.4,843.3 1792.6,843.6 1793.7,849.9 1794.8,849.5 1796.0,850.0 1797.1,850.7 1798.2,844.7 1799.4,848.3 1800.5,850.0 1801.6,848.6 1802.8,847.8 1803.9,848.1 1805.0,849.5 1806.1,848.4 1807.3,850.0 1808.4,848.5 1809.5,848.2 1810.7,848.4 1811.8,855.8 1812.9,852.8 1814.1,851.7 1815.2,851.7 1816.3,849.9 1817.5,852.7 1818.6,847.8 1819.7,844.1 1820.9,848.1 1822.0,848.5 1823.1,851.0 1824.2,853.5 1825.4,847.7 1826.5,851.2 1827.6,849.9 1828.8,848.9 1829.9,850.1 1831.0,851.4 1832.2,850.3 1833.3,848.5 1834.4,851.2 1835.6,850.8 1836.7,846.8 1837.8,849.9 1839.0,852.7 1840.1,850.8 1841.2,852.5 1842.4,847.2 1843.5,852.7 1844.6,848.0 1845.7,846.7 1846.9,844.4 1848.0,851.7 1849.1,850.3 1850.3,852.3 1851.4,847.7 1852.5,845.7 1853.7,842.6 1854.8,847.7 1855.9,848.9 1857.1,849.3 1858.2,850.9 1859.3,851.9 1860.5,852.0 1861.6,843.6 1862.7,848.4 1863.9,844.8 1865.0,846.4 1866.1,845.1 1867.2,847.5 1868.4,849.3 1869.5,848.8 1870.6,845.6 1871.8,844.4 1872.9,846.1 1874.0,851.4 1875.2,845.2 1876.3,849.0 1877.4,848.2 1878.6,849.5 1879.7,844.6 1880.8,852.8 1882.0,847.1 1883.1,843.7 1884.2,842.4 1885.4,843.1 1886.5,850.4 1887.6,846.2 1888.7,844.3 1889.9,845.7 1891.0,847.6 1892.1,849.2 1893.3,844.8 1894.4,850.1 1895.5,850.6 1896.7,848.7 1897.8,846.3 1898.9,842.9 1900.1,846.9 1901.2,843.8 1902.3,848.5 1903.5,847.2 1904.6,847.0 1905.7,847.7 1906.8,842.9 1908.0,849.5 1909.1,849.7 1910.2,842.8 1911.4,844.8 1912.5,843.7 1913.6,847.3 1914.8,843.5 1915.9,849.4 1917.0,845.1 1918.2,843.7 1919.3,849.4 1920.4,846.0 1921.6,847.5 1922.7,845.9 1923.8,844.4 1925.0,844.5 1926.1,848.3 1927.2,841.3 1928.3,846.2 1929.5,842.0 1930.6,844.5 1931.7,846.7 1932.9,840.4 1934.0,843.1 1935.1,841.6 1936.3,841.6 1937.4,842.1 1938.5,845.0 1939.7,842.2 1940.8,841.3 1941.9,845.7 1943.1,847.0 1944.2,846.1 1945.3,842.3 1946.5,845.5 1947.6,842.0 1948.7,847.0 1949.8,846.2 1951.0,842.8 1952.1,842.5 1953.2,845.1 1954.4,850.0 1955.5,847.2 1956.6,847.4 1957.8,850.0 1958.9,844.3 1960.0,846.4 1961.2,849.7 1962.3,850.5 1963.4,847.0 1964.6,851.9 1965.7,845.3 1966.8,848.9 1968.0,850.9 1969.1,846.4 1970.2,850.0 1971.3,848.2 1972.5,847.5 1973.6,850.3 1974.7,846.9 1975.9,844.7 1977.0,845.4 1978.1,848.2 1979.3,846.1 1980.4,850.8 1981.5,848.6 1982.7,845.4 1983.8,850.8 1984.9,847.7 1986.1,846.1 1987.2,847.9 1988.3,843.8 1989.4,849.3 1990.6,849.6 1991.7,851.9 1992.8,847.7 1994.0,848.0 1995.1,850.4 1996.2,847.4 1997.4,844.4 1998.5,849.7 1999.6,845.1 2000.8,846.6 2001.9,848.9 2003.0,853.9 2004.2,852.7 2005.3,848.6 2006.4,846.3 2007.6,849.9 2008.7,852.3 2009.8,843.4 2010.9,847.6 2012.1,846.7 2013.2,849.3 2014.3,850.0 2015.5,849.4 2016.6,850.0 2017.7,847.7 2018.9,850.3 2020.0,848.1 2021.1,848.0 2022.3,854.8 2023.4,850.4 2024.5,847.9 2025.7,847.6 2026.8,848.6 2027.9,850.8 2029.1,849.6 2030.2,849.3 2031.3,848.4 2032.4,851.1 2033.6,849.7 2034.7,854.4 2035.8,852.5 2037.0,845.3 2038.1,847.1 2039.2,846.8 2040.4,847.7 2041.5,850.7 2042.6,844.8 2043.8,843.6 2044.9,852.5 2046.0,851.7 2047.2,850.7 2048.3,846.9 2049.4,848.7 2050.5,849.1 2051.7,848.0 2052.8,848.2 2053.9,847.5 2055.1,849.0 2056.2,846.1 2057.3,857.0 2058.5,848.0 2059.6,846.5 2060.7,849.3 2061.9,852.4 2063.0,847.9 2064.1,851.2 2065.3,854.4 2066.4,850.3 2067.5,850.9 2068.7,849.7 2069.8,848.1 2070.9,849.1 2072.0,851.1 2073.2,846.7 2074.3,846.5 2075.4,847.5 2076.6,852.3 2077.7,851.2 2078.8,849.7 2080.0,850.7 2081.1,853.6 2082.2,847.1 2083.4,848.8 2084.5,852.4 2085.6,853.4 2086.8,847.7 2087.9,845.5 2089.0,849.0 2090.2,849.6 2091.3,850.0 2092.4,851.3 2093.5,846.4 2094.7,847.9 2095.8,850.3 2096.9,855.6 2098.1,854.7 2099.2,850.8 2100.3,849.4 2101.5,847.0 2102.6,849.1 2103.7,849.9 2104.9,849.1 2106.0,852.4 2107.1,849.0 2108.3,851.2 2109.4,850.8 2110.5,850.1 2111.7,854.0 2112.8,849.6" fill="none" stroke="#0a5a1c" stroke-width="1.5" stroke-linejoin="round"/>
<path d="M1163.5,861.8h0M1164.6,863.9h0M1165.2,860.8h0M1165.7,866.4h0M1166.3,870.6h0M1166.8,872.9h0M1168.0,877.5h0M1168.5,881.4h0M1169.7,886.2h0M1170.2,893.7h0M1171.4,899.7h0M1172.5,902.6h0M1173.1,907.2h0M1173.6,913.3h0M1174.2,915.6h0M1175.3,922.9h0M1175.9,925.7h0M1176.5,928.6h0M1177.0,935.4h0M1178.2,939.2h0M1178.7,942.6h0M1179.3,948.9h0M1179.9,952.5h0M1180.4,956.2h0M1181.0,958.7h0M1181.6,962.8h0M1182.1,966.4h0M1183.3,971.1h0M1183.8,977.2h0M1184.4,979.6h0M1185.5,983.7h0M1187.2,990.2h0M1188.3,992.5h0M1188.9,995.3h0M1191.2,997.8h0M1192.9,1000.6h0M1193.4,996.4h0M1194.0,1002.6h0M1194.6,999.6h0M1195.1,996.7h0M1196.3,991.2h0M1196.8,986.4h0M1198.0,979.0h0M1198.5,975.9h0M1199.1,967.3h0M1199.7,960.9h0M1200.2,953.3h0M1200.8,943.8h0M1201.4,937.6h0M1201.9,928.7h0M1202.5,921.5h0M1203.1,915.5h0M1203.6,904.5h0M1204.2,895.7h0M1204.8,889.8h0M1205.3,875.8h0M1205.9,867.7h0M1206.5,856.4h0M1207.0,847.3h0M1207.6,834.3h0M1208.1,822.5h0M1208.7,811.9h0M1209.3,799.9h0M1209.8,792.3h0M1210.4,775.6h0M1211.0,768.3h0M1211.5,758.7h0M1212.1,745.5h0M1212.7,734.2h0M1213.2,721.0h0M1213.8,712.7h0M1214.4,700.4h0M1214.9,692.5h0M1215.5,678.1h0M1216.1,671.6h0M1216.6,660.6h0M1217.2,656.6h0M1217.8,645.3h0M1218.3,639.0h0M1218.9,627.4h0M1219.5,617.7h0M1220.0,611.2h0M1220.6,599.7h0M1221.2,588.4h0M1221.7,577.4h0M1222.3,564.5h0M1222.9,553.5h0M1223.4,543.1h0M1224.0,530.3h0M1224.6,519.9h0M1225.1,513.5h0M1225.7,503.1h0M1226.3,493.2h0M1226.8,484.6h0M1227.4,476.7h0M1227.9,466.0h0M1228.5,458.2h0M1229.1,451.2h0M1229.6,446.1h0M1230.2,436.9h0M1230.8,432.5h0M1231.9,427.8h0M1232.5,422.4h0M1233.6,417.3h0M1234.2,414.9h0M1235.3,410.3h0M1236.4,406.9h0M1237.6,400.1h0M1239.3,403.2h0M1241.0,405.9h0M1241.5,408.0h0M1242.1,413.1h0M1243.2,417.9h0M1243.8,421.8h0M1244.4,424.9h0M1245.5,428.1h0M1246.1,435.5h0M1247.2,440.8h0M1247.8,449.8h0M1248.3,456.9h0M1248.9,463.7h0M1249.4,470.1h0M1250.0,480.5h0M1250.6,490.2h0M1251.1,496.4h0M1251.7,508.6h0M1252.3,513.4h0M1252.8,519.7h0M1253.4,529.0h0M1254.0,536.2h0M1254.5,544.8h0M1255.1,552.6h0M1255.7,561.8h0M1256.2,571.7h0M1256.8,579.2h0M1257.4,587.4h0M1257.9,593.9h0M1258.5,601.9h0M1259.1,612.6h0M1259.6,623.3h0M1260.2,632.5h0M1260.8,641.3h0M1261.3,648.5h0M1261.9,659.9h0M1262.5,669.9h0M1263.0,680.0h0M1263.6,685.6h0M1264.2,693.9h0M1264.7,701.3h0M1265.3,707.3h0M1265.9,710.7h0M1266.4,719.1h0M1267.0,721.5h0M1267.6,727.3h0M1268.1,734.0h0M1268.7,737.4h0M1269.2,743.5h0M1269.8,749.1h0M1270.4,752.5h0M1270.9,757.6h0M1272.1,764.0h0M1272.6,766.8h0M1273.2,769.8h0M1273.8,779.4h0M1274.3,777.0h0M1274.9,783.3h0M1276.0,787.7h0M1277.7,796.1h0M1278.9,798.4h0M1279.4,803.7h0M1281.1,808.5h0M1281.7,810.9h0M1282.3,806.6h0M1282.8,814.1h0M1283.4,818.0h0M1285.1,820.1h0M1286.2,823.6h0M1287.9,827.4h0M1290.2,828.3h0M1290.7,830.5h0M1293.0,834.2h0M1294.7,836.9h0M1296.4,838.5h0M1298.7,841.1h0M1299.8,838.5h0M1300.4,844.5h0M1301.5,842.4h0M1303.2,844.5h0M1305.5,844.1h0M1307.7,844.4h0M1308.3,840.9h0M1309.4,838.2h0M1310.5,841.3h0M1311.1,836.9h0M1311.7,840.0h0M1312.8,834.9h0M1313.4,838.9h0M1313.9,835.3h0M1316.2,833.6h0M1317.9,831.2h0M1318.5,835.1h0M1319.6,833.1h0M1321.9,833.0h0M1322.4,835.3h0M1323.6,831.9h0M1324.1,834.7h0M1325.3,830.4h0M1326.4,835.5h0M1327.5,832.5h0M1328.1,835.0h0M1329.8,832.3h0M1330.3,837.3h0M1331.5,835.3h0M1332.0,831.7h0M1333.2,836.1h0M1333.7,832.6h0M1336.0,832.8h0M1338.3,833.6h0M1340.5,834.1h0M1341.7,832.2h0M1343.4,836.2h0M1343.9,832.8h0M1345.1,835.0h0M1346.2,831.9h0M1347.3,834.9h0M1349.6,831.2h0M1350.2,836.2h0M1351.8,833.9h0M1353.5,830.7h0M1354.1,834.5h0M1355.2,836.8h0M1355.8,833.7h0M1357.5,832.2h0M1359.8,835.8h0M1362.0,833.8h0M1363.2,831.2h0M1363.7,834.4h0M1365.4,832.8h0M1366.6,835.3h0M1368.3,837.4h0M1368.8,833.3h0M1370.5,835.1h0M1371.1,831.7h0M1372.8,836.4h0M1373.9,833.1h0M1374.5,836.5h0M1376.2,831.7h0M1377.3,833.9h0M1379.0,835.4h0M1380.7,832.8h0M1381.3,835.6h0M1382.4,832.8h0M1383.0,835.1h0M1384.7,838.4h0M1385.2,834.0h0M1385.8,837.0h0M1386.4,833.2h0M1386.9,837.4h0M1388.1,834.5h0M1389.8,836.9h0M1390.3,833.6h0M1390.9,837.4h0M1392.6,835.7h0M1394.3,834.2h0M1395.4,837.9h0M1396.5,835.8h0M1398.2,838.3h0M1398.8,834.1h0M1400.5,837.5h0M1401.1,835.3h0M1403.3,834.2h0M1405.0,839.1h0M1406.2,834.7h0M1406.7,837.9h0M1407.3,834.3h0M1407.9,837.4h0M1410.1,835.3h0M1411.8,832.2h0M1412.4,835.6h0M1414.6,833.7h0M1415.8,837.2h0M1416.3,834.0h0M1418.6,840.5h0M1419.2,836.7h0M1419.7,833.0h0M1420.3,838.6h0M1421.4,835.4h0M1422.6,833.3h0M1423.1,838.7h0M1423.7,835.8h0M1424.8,838.0h0M1426.0,833.0h0M1427.1,835.1h0M1427.7,840.1h0M1428.2,836.2h0M1430.5,831.2h0M1431.1,836.4h0M1433.3,836.6h0M1435.6,838.1h0M1436.7,835.5h0M1439.0,837.8h0M1440.1,833.2h0M1441.2,836.4h0M1442.9,838.7h0M1443.5,835.5h0M1445.8,835.9h0M1448.0,836.6h0M1449.2,839.3h0M1450.3,834.3h0M1451.4,836.2h0M1452.6,838.6h0M1453.1,836.0h0M1454.2,839.0h0M1454.8,835.8h0M1456.5,838.5h0M1457.1,835.8h0M1457.6,839.1h0M1458.2,834.4h0M1458.8,836.5h0M1459.9,834.6h0M1461.0,837.8h0M1461.6,833.3h0M1462.2,838.4h0M1463.3,835.0h0M1463.9,840.4h0M1464.4,835.3h0M1466.1,838.6h0M1466.7,836.4h0M1467.3,838.7h0M1469.5,834.5h0M1470.1,839.1h0M1471.8,837.0h0M1474.1,837.7h0M1475.7,836.0h0M1476.9,840.4h0M1477.4,833.7h0M1478.6,836.7h0M1480.3,838.8h0M1482.5,839.5h0M1483.7,836.3h0M1485.4,840.6h0M1485.9,837.6h0M1487.6,840.1h0M1488.2,836.7h0M1490.5,836.4h0M1491.6,839.8h0M1492.2,837.6h0M1494.4,838.1h0M1495.5,835.6h0M1497.8,836.3h0M1500.1,837.4h0M1500.6,833.8h0M1501.2,837.6h0M1503.5,837.3h0M1504.0,839.5h0M1505.2,837.2h0M1505.7,840.2h0M1506.3,837.3h0M1508.0,835.1h0M1509.1,838.6h0M1511.4,841.1h0M1512.0,837.7h0M1514.2,837.7h0M1515.9,840.7h0M1516.5,837.7h0M1517.0,835.5h0M1517.6,837.7h0M1519.3,835.7h0M1519.9,839.2h0M1520.4,836.7h0M1521.6,839.5h0M1522.1,836.4h0M1524.4,838.1h0M1526.7,838.0h0M1527.8,840.5h0M1529.5,838.1h0M1530.6,840.9h0M1531.2,838.0h0M1531.8,841.7h0M1532.9,839.0h0M1533.5,841.8h0M1534.6,838.0h0M1536.3,839.6h0M1536.8,834.9h0M1537.4,838.6h0M1538.5,835.7h0M1539.7,839.0h0M1540.2,836.5h0M1541.9,838.1h0M1544.2,840.1h0M1545.3,837.0h0M1547.6,838.3h0M1548.2,841.0h0M1548.7,837.6h0M1550.4,836.0h0M1552.7,839.1h0M1553.3,835.9h0M1555.5,837.4h0M1556.1,840.1h0M1556.6,836.9h0M1558.3,838.5h0M1560.6,838.0h0M1561.7,840.0h0M1564.0,838.3h0M1565.1,835.9h0M1567.4,836.8h0M1568.0,839.5h0M1570.2,839.7h0M1572.5,838.2h0M1574.8,837.9h0M1576.5,841.7h0M1578.1,836.7h0M1578.7,842.0h0M1579.3,838.4h0M1581.0,836.6h0M1583.2,838.3h0M1583.8,840.4h0M1586.1,841.3h0M1586.6,835.6h0M1587.2,840.2h0M1589.5,839.7h0M1591.2,841.6h0M1592.3,838.9h0M1592.9,836.1h0M1594.6,838.7h0M1595.7,841.5h0M1597.4,840.0h0M1597.9,836.9h0M1599.6,840.1h0M1601.9,837.7h0M1603.0,840.7h0M1605.3,841.6h0M1606.4,839.1h0M1607.6,841.6h0M1609.3,838.2h0M1609.8,841.3h0M1612.1,841.4h0M1613.2,837.0h0M1613.8,839.4h0M1614.9,836.5h0M1615.5,840.0h0M1617.2,838.0h0M1618.9,840.3h0M1620.0,838.1h0M1620.6,843.2h0M1621.1,840.1h0M1622.8,843.1h0M1623.4,838.8h0M1624.0,841.3h0M1626.2,840.7h0M1626.8,842.9h0M1627.9,840.6h0M1630.2,836.7h0M1630.8,839.4h0M1631.3,842.1h0M1633.0,840.5h0M1634.7,837.6h0M1635.3,840.2h0M1637.6,838.1h0M1639.2,845.2h0M1639.8,839.8h0M1640.9,837.2h0M1641.5,840.3h0M1642.1,843.1h0M1642.6,839.5h0M1643.8,843.2h0M1644.9,838.8h0M1646.6,842.1h0M1647.2,836.5h0M1647.7,842.4h0M1649.4,838.5h0M1651.1,840.5h0M1652.8,843.6h0M1653.4,839.1h0M1654.5,841.3h0M1656.2,838.2h0M1657.4,840.7h0M1658.5,843.2h0M1659.6,840.7h0M1661.9,840.2h0M1664.1,841.0h0M1665.3,843.7h0M1665.8,839.0h0M1666.4,843.0h0M1667.0,839.7h0M1669.2,842.6h0M1669.8,839.4h0M1671.5,841.0h0M1673.8,843.7h0M1674.9,841.1h0M1675.5,838.4h0M1676.0,840.7h0M1678.3,841.4h0M1679.4,843.8h0M1680.0,839.9h0M1681.1,841.9h0M1682.8,839.3h0M1683.4,842.5h0M1685.1,844.1h0M1687.3,842.1h0M1689.6,842.7h0M1690.7,840.8h0M1693.0,847.1h0M1693.6,843.5h0M1695.8,839.7h0M1697.0,843.0h0M1699.2,841.3h0M1700.4,844.3h0M1701.5,842.3h0M1702.6,840.2h0M1703.2,843.9h0M1703.7,839.5h0M1704.9,843.8h0M1706.0,840.5h0M1706.6,842.7h0M1708.3,839.3h0M1708.8,844.8h0M1709.4,841.6h0M1711.1,843.1h0M1712.2,840.9h0M1713.4,844.2h0M1713.9,840.2h0M1714.5,844.7h0M1715.1,841.6h0M1717.3,841.1h0M1719.6,839.5h0M1720.2,844.0h0M1720.7,841.0h0M1722.4,843.9h0M1724.7,842.0h0M1725.2,845.6h0M1725.8,840.9h0M1726.4,843.6h0M1728.6,843.7h0M1730.3,841.7h0M1732.6,843.8h0M1733.2,846.1h0M1733.7,842.5h0M1736.0,841.6h0M1737.7,843.2h0M1738.3,846.4h0M1739.4,844.4h0M1741.7,845.4h0M1743.3,842.4h0M1745.6,843.9h0M1746.7,841.7h0M1747.3,848.1h0M1747.9,844.4h0M1749.0,842.4h0M1749.6,846.0h0M1750.1,843.7h0M1751.8,847.4h0M1752.4,845.0h0M1754.7,841.7h0M1755.2,844.3h0M1756.9,846.3h0M1757.5,844.0h0M1759.8,846.2h0M1760.9,841.2h0M1761.5,847.1h0M1762.0,842.9h0M1763.1,847.9h0M1764.8,843.5h0M1765.4,845.7h0M1767.7,844.8h0M1769.4,846.5h0M1769.9,842.6h0M1770.5,845.9h0M1772.8,848.6h0M1773.3,845.1h0M1773.9,848.8h0M1775.0,843.5h0M1775.6,847.7h0M1776.2,844.7h0M1777.3,840.7h0M1777.9,845.9h0M1778.4,848.7h0M1780.1,845.5h0M1781.3,843.5h0M1782.4,845.7h0M1784.6,844.2h0M1785.8,847.7h0M1786.3,850.8h0M1786.9,848.5h0M1787.5,845.7h0M1788.0,852.8h0M1788.6,847.8h0M1789.2,845.5h0M1789.7,848.1h0M1790.9,842.3h0M1792.0,847.5h0M1792.6,843.6h0M1793.7,849.9h0M1794.3,840.3h0M1794.8,849.5h0M1796.5,847.1h0M1797.1,850.7h0M1797.7,847.4h0M1798.2,844.7h0M1798.8,847.0h0M1799.9,843.7h0M1800.5,850.0h0M1801.1,845.3h0M1801.6,848.6h0M1803.9,848.1h0M1806.1,848.4h0M1806.7,851.1h0M1808.4,848.5h0M1810.1,850.1h0M1811.8,855.8h0M1812.4,848.7h0M1812.9,852.8h0M1814.6,847.1h0M1815.2,851.7h0M1815.8,848.0h0M1816.9,851.8h0M1818.0,847.6h0M1819.7,844.1h0M1820.3,848.1h0M1822.6,849.7h0M1823.7,843.7h0M1824.2,853.5h0M1824.8,848.1h0M1826.5,851.2h0M1828.8,848.9h0M1830.5,847.0h0M1831.0,851.4h0M1831.6,847.6h0M1832.2,850.3h0M1832.7,847.6h0M1834.4,851.2h0M1836.1,848.2h0M1837.3,845.9h0M1837.8,849.9h0M1839.0,852.7h0M1840.1,850.8h0M1841.8,853.0h0M1842.4,847.2h0M1842.9,850.5h0M1843.5,852.7h0M1844.1,842.6h0M1844.6,848.0h0M1846.3,850.3h0M1846.9,844.4h0M1847.4,852.3h0M1848.6,848.7h0M1849.7,844.8h0M1850.3,852.3h0M1850.8,850.1h0M1851.4,847.7h0M1852.5,845.7h0M1853.7,842.6h0M1854.2,849.4h0M1855.4,846.0h0M1855.9,848.9h0M1858.2,850.9h0M1859.9,847.0h0M1860.5,852.0h0M1861.0,842.7h0M1862.2,845.1h0M1862.7,848.4h0M1863.9,844.8h0M1864.4,847.4h0M1865.5,849.6h0M1866.1,845.1h0M1866.7,849.8h0M1867.2,847.5h0M1867.8,852.1h0M1868.4,849.3h0M1868.9,846.4h0M1869.5,848.8h0M1870.6,845.6h0M1871.2,847.8h0M1871.8,844.4h0M1872.3,853.6h0M1872.9,846.1h0M1874.0,851.4h0M1875.2,845.2h0M1875.7,850.1h0M1876.9,845.9h0M1877.4,848.2h0M1879.1,846.6h0M1880.8,852.8h0M1881.4,845.6h0M1882.5,849.5h0M1883.1,843.7h0M1883.7,851.5h0M1884.2,842.4h0M1884.8,848.7h0M1885.4,843.1h0M1885.9,847.2h0M1886.5,850.4h0M1887.0,846.8h0M1888.7,844.3h0M1889.3,849.2h0M1889.9,845.7h0M1891.6,849.2h0M1892.7,844.9h0M1893.8,848.9h0M1895.0,843.6h0M1895.5,850.6h0M1896.1,846.3h0M1896.7,848.7h0M1897.2,851.0h0M1897.8,846.3h0M1898.9,842.9h0M1900.1,846.9h0M1900.6,843.9h0M1901.8,847.7h0M1902.9,842.3h0M1903.5,847.2h0M1905.7,847.7h0M1906.3,844.2h0M1907.4,847.0h0M1908.0,849.5h0M1908.5,845.8h0M1909.1,849.7h0M1909.7,847.5h0M1910.2,842.8h0M1910.8,840.0h0M1911.4,844.8h0M1911.9,848.4h0M1912.5,843.7h0M1913.1,851.2h0M1913.6,847.3h0M1914.2,841.6h0M1915.3,848.8h0M1916.5,842.9h0M1917.0,845.1h0M1919.3,849.4h0M1919.9,842.4h0M1920.4,846.0h0M1922.1,843.4h0M1922.7,845.9h0M1923.3,842.2h0M1923.8,844.4h0M1924.4,840.9h0M1925.0,844.5h0M1926.1,848.3h0M1926.7,846.0h0M1927.2,841.3h0M1927.8,835.4h0M1928.3,846.2h0M1929.5,842.0h0M1930.6,844.5h0M1931.7,846.7h0M1932.3,843.4h0M1932.9,840.4h0M1934.0,843.1h0M1935.7,840.0h0M1936.8,844.8h0M1937.4,842.1h0M1938.5,845.0h0M1939.7,842.2h0M1941.4,843.7h0M1943.1,847.0h0M1945.3,842.3h0M1945.9,848.3h0M1946.5,845.5h0M1947.6,842.0h0M1948.1,845.2h0M1950.4,847.7h0M1951.0,842.8h0M1951.5,845.0h0M1952.1,842.5h0M1953.2,845.1h0M1954.4,850.0h0M1954.9,845.5h0M1956.6,847.4h0M1957.8,850.0h0M1958.3,845.7h0M1959.5,848.3h0M1960.6,844.1h0M1961.2,849.7h0M1962.9,844.7h0M1963.4,847.0h0M1964.6,851.9h0M1965.1,848.2h0M1965.7,845.3h0M1966.3,848.5h0M1967.4,846.2h0M1968.0,850.9h0M1968.5,847.7h0M1969.6,849.9h0M1970.8,847.3h0M1973.0,847.4h0M1973.6,850.3h0M1974.7,846.9h0M1975.9,844.7h0M1976.4,850.2h0M1977.0,845.4h0M1978.1,848.2h0M1979.3,846.1h0M1979.8,843.7h0M1980.4,850.8h0M1981.0,846.7h0M1982.1,848.7h0M1982.7,845.4h0M1983.8,850.8h0M1984.9,847.7h0M1985.5,851.8h0M1986.1,846.1h0M1986.6,848.5h0M1988.3,843.8h0M1988.9,848.3h0M1990.0,844.0h0M1990.6,849.6h0M1991.7,851.9h0M1992.3,845.7h0M1994.0,848.0h0M1995.1,850.4h0M1996.2,847.4h0M1997.4,844.4h0M1997.9,850.4h0M1999.6,845.1h0M2000.2,851.6h0M2000.8,846.6h0M2001.9,848.9h0M2002.5,846.7h0M2003.0,853.9h0M2003.6,849.5h0M2004.2,852.7h0M2004.7,848.2h0M2005.9,850.5h0M2006.4,846.3h0M2007.6,849.9h0M2008.7,852.3h0M2009.2,849.1h0M2009.8,843.4h0M2010.4,850.5h0M2010.9,847.6h0M2011.5,850.1h0M2012.1,846.7h0M2013.2,849.3h0M2013.8,853.2h0M2014.3,850.0h0M2014.9,845.7h0M2015.5,849.4h0M2016.0,847.2h0M2016.6,850.0h0M2017.2,853.4h0M2017.7,847.7h0M2018.9,850.3h0M2020.0,848.1h0M2020.6,850.3h0M2021.1,848.0h0M2022.3,854.8h0M2022.8,849.2h0M2025.1,850.1h0M2025.7,847.6h0M2027.4,852.8h0M2028.5,846.7h0M2029.1,849.6h0M2030.7,847.8h0M2032.4,851.1h0M2034.1,849.2h0M2034.7,854.4h0M2035.3,849.7h0M2035.8,852.5h0M2036.4,845.7h0M2038.1,847.1h0M2038.7,850.4h0M2039.2,846.8h0M2039.8,849.7h0M2042.1,848.1h0M2042.6,844.8h0M2043.2,849.3h0M2043.8,843.6h0M2044.9,852.5h0M2045.5,849.4h0M2046.0,851.7h0M2047.7,849.5h0M2048.3,846.9h0M2050.0,849.4h0M2052.2,849.4h0M2053.4,852.7h0M2053.9,847.5h0M2054.5,845.1h0M2055.1,849.0h0M2055.6,853.0h0M2056.2,846.1h0M2056.8,850.3h0M2057.3,857.0h0M2057.9,850.1h0M2059.6,846.5h0M2060.7,849.3h0M2061.3,854.5h0M2061.9,852.4h0M2062.4,849.2h0M2063.6,852.2h0M2064.7,848.5h0M2065.3,854.4h0M2066.4,850.3h0M2068.1,855.5h0M2068.7,849.7h0M2069.2,853.1h0M2069.8,848.1h0M2072.0,851.1h0M2072.6,847.7h0M2074.9,851.4h0M2075.4,847.5h0M2076.6,852.3h0M2077.1,850.1h0M2079.4,847.2h0M2080.0,850.7h0M2081.1,853.6h0M2081.7,849.7h0M2082.2,847.1h0M2083.9,851.3h0M2085.6,853.4h0M2086.8,847.7h0M2087.3,852.3h0M2087.9,845.5h0M2088.5,853.6h0M2089.0,849.0h0M2089.6,853.0h0M2090.2,849.6h0M2090.7,852.7h0M2091.3,850.0h0M2093.5,846.4h0M2094.1,851.6h0M2094.7,847.9h0M2095.8,850.3h0M2096.4,844.7h0M2096.9,855.6h0M2097.5,851.9h0M2098.1,854.7h0M2098.6,851.0h0M2099.8,840.7h0M2100.3,849.4h0M2100.9,845.8h0M2102.0,851.4h0M2102.6,849.1h0M2103.2,846.1h0M2103.7,849.9h0M2105.4,854.1h0M2106.6,849.5h0M2107.7,852.7h0M2108.8,850.7h0M2110.0,848.7h0M2111.7,854.0h0M2112.8,849.6h0" stroke="#0a5a1c" stroke-width="4.8" stroke-linecap="round" fill="none"/>
<polyline points="1163.6,865.6 1164.7,864.1 1165.9,864.9 1167.0,873.1 1168.1,877.6 1169.3,887.2 1170.4,890.5 1171.5,897.1 1172.7,901.1 1173.8,910.0 1174.9,918.5 1176.1,922.4 1177.2,931.7 1178.3,938.5 1179.5,945.2 1180.6,954.2 1181.7,960.7 1182.8,969.6 1184.0,975.3 1185.1,979.5 1186.2,987.7 1187.4,988.7 1188.5,991.7 1189.6,993.8 1190.8,997.0 1191.9,999.6 1193.0,998.8 1194.2,999.3 1195.3,999.2 1196.4,992.4 1197.6,989.1 1198.7,975.9 1199.8,964.4 1201.0,950.8 1202.1,935.8 1203.2,920.0 1204.3,902.4 1205.5,882.6 1206.6,861.1 1207.7,838.4 1208.9,815.9 1210.0,795.6 1211.1,773.5 1212.3,750.4 1213.4,730.4 1214.5,707.4 1215.7,690.5 1216.8,671.5 1217.9,653.0 1219.1,638.4 1220.2,615.4 1221.3,595.4 1222.5,574.1 1223.6,551.7 1224.7,530.4 1225.8,513.5 1227.0,493.0 1228.1,477.0 1229.2,460.7 1230.4,450.9 1231.5,437.7 1232.6,431.4 1233.8,423.3 1234.9,418.2 1236.0,414.1 1237.2,413.9 1238.3,410.3 1239.4,409.7 1240.6,413.0 1241.7,413.4 1242.8,421.5 1243.9,422.9 1245.1,432.3 1246.2,437.1 1247.3,443.7 1248.5,457.6 1249.6,474.4 1250.7,488.8 1251.9,506.4 1253.0,521.8 1254.1,538.1 1255.3,553.8 1256.4,570.9 1257.5,587.2 1258.7,603.1 1259.8,621.2 1260.9,637.4 1262.1,656.8 1263.2,677.2 1264.3,694.6 1265.4,709.1 1266.6,719.0 1267.7,727.5 1268.8,738.5 1270.0,748.1 1271.1,756.1 1272.2,765.3 1273.4,771.0 1274.5,777.8 1275.6,780.4 1276.8,788.7 1277.9,788.9 1279.0,796.1 1280.2,803.1 1281.3,806.2 1282.4,812.1 1283.6,813.6 1284.7,820.7 1285.8,818.2 1286.9,822.2 1288.1,823.5 1289.2,828.7 1290.3,825.0 1291.5,832.4 1292.6,831.7 1293.7,835.6 1294.9,835.6 1296.0,836.1 1297.1,840.5 1298.3,840.0 1299.4,840.5 1300.5,844.1 1301.7,842.1 1302.8,844.7 1303.9,846.7 1305.0,845.9 1306.2,845.7 1307.3,843.6 1308.4,841.4 1309.6,841.2 1310.7,839.6 1311.8,839.2 1313.0,837.3 1314.1,835.2 1315.2,833.9 1316.4,837.1 1317.5,833.5 1318.6,833.4 1319.8,830.4 1320.9,831.0 1322.0,834.7 1323.2,833.6 1324.3,835.7 1325.4,832.3 1326.5,832.6 1327.7,833.6 1328.8,835.6 1329.9,832.6 1331.1,834.8 1332.2,832.3 1333.3,834.8 1334.5,830.2 1335.6,831.2 1336.7,831.3 1337.9,836.5 1339.0,832.0 1340.1,831.8 1341.3,834.8 1342.4,833.7 1343.5,834.5 1344.7,832.4 1345.8,830.2 1346.9,835.6 1348.0,835.9 1349.2,833.0 1350.3,835.5 1351.4,832.7 1352.6,834.5 1353.7,833.3 1354.8,832.6 1356.0,833.8 1357.1,832.5 1358.2,835.8 1359.4,836.0 1360.5,833.9 1361.6,836.0 1362.8,834.3 1363.9,833.4 1365.0,834.4 1366.2,837.3 1367.3,836.4 1368.4,835.4 1369.5,833.1 1370.7,832.2 1371.8,832.9 1372.9,834.0 1374.1,833.6 1375.2,834.3 1376.3,837.1 1377.5,834.2 1378.6,834.6 1379.7,834.9 1380.9,833.6 1382.0,835.3 1383.1,833.4 1384.3,837.9 1385.4,833.8 1386.5,832.3 1387.6,835.6 1388.8,833.8 1389.9,833.2 1391.0,834.3 1392.2,836.2 1393.3,837.4 1394.4,835.3 1395.6,834.8 1396.7,835.9 1397.8,835.5 1399.0,835.6 1400.1,838.0 1401.2,835.6 1402.4,835.3 1403.5,833.1 1404.6,835.3 1405.8,835.2 1406.9,835.8 1408.0,836.8 1409.1,838.0 1410.3,834.9 1411.4,837.0 1412.5,835.2 1413.7,835.3 1414.8,836.2 1415.9,835.7 1417.1,834.8 1418.2,834.3 1419.3,835.7 1420.5,837.2 1421.6,836.8 1422.7,836.8 1423.9,833.7 1425.0,837.9 1426.1,838.5 1427.3,834.3 1428.4,836.8 1429.5,837.5 1430.6,835.9 1431.8,834.7 1432.9,837.3 1434.0,839.1 1435.2,836.8 1436.3,837.8 1437.4,838.9 1438.6,837.3 1439.7,838.5 1440.8,836.9 1442.0,837.0 1443.1,838.0 1444.2,836.2 1445.4,835.0 1446.5,835.6 1447.6,838.0 1448.8,838.9 1449.9,838.0 1451.0,834.5 1452.1,837.6 1453.3,837.3 1454.4,838.5 1455.5,835.9 1456.7,836.9 1457.8,836.6 1458.9,835.2 1460.1,835.9 1461.2,840.1 1462.3,836.4 1463.5,838.1 1464.6,839.2 1465.7,836.2 1466.9,838.5 1468.0,837.1 1469.1,837.2 1470.2,839.1 1471.4,836.2 1472.5,839.4 1473.6,836.7 1474.8,836.2 1475.9,837.3 1477.0,836.6 1478.2,835.4 1479.3,835.8 1480.4,835.7 1481.6,836.7 1482.7,838.9 1483.8,838.1 1485.0,839.9 1486.1,836.5 1487.2,836.8 1488.4,835.3 1489.5,839.8 1490.6,835.6 1491.7,838.2 1492.9,837.4 1494.0,840.1 1495.1,836.6 1496.3,837.1 1497.4,838.2 1498.5,838.6 1499.7,837.8 1500.8,841.0 1501.9,837.9 1503.1,837.6 1504.2,836.8 1505.3,839.7 1506.5,839.4 1507.6,833.9 1508.7,835.3 1509.9,837.0 1511.0,837.3 1512.1,839.4 1513.2,840.4 1514.4,837.0 1515.5,839.4 1516.6,837.8 1517.8,837.9 1518.9,835.2 1520.0,841.2 1521.2,838.1 1522.3,840.7 1523.4,838.2 1524.6,840.7 1525.7,838.3 1526.8,838.9 1528.0,838.1 1529.1,837.7 1530.2,838.5 1531.3,838.4 1532.5,839.6 1533.6,839.3 1534.7,838.8 1535.9,838.5 1537.0,838.0 1538.1,837.8 1539.3,840.6 1540.4,836.9 1541.5,837.9 1542.7,838.6 1543.8,838.6 1544.9,840.1 1546.1,837.8 1547.2,842.4 1548.3,842.2 1549.5,837.6 1550.6,839.8 1551.7,839.1 1552.8,840.0 1554.0,837.8 1555.1,840.4 1556.2,838.9 1557.4,838.2 1558.5,836.4 1559.6,837.2 1560.8,838.9 1561.9,837.7 1563.0,839.7 1564.2,839.0 1565.3,837.8 1566.4,836.8 1567.6,840.9 1568.7,839.7 1569.8,838.3 1571.0,838.1 1572.1,838.6 1573.2,839.4 1574.3,840.7 1575.5,841.0 1576.6,838.5 1577.7,840.1 1578.9,839.6 1580.0,840.4 1581.1,840.0 1582.3,840.7 1583.4,839.9 1584.5,839.8 1585.7,838.7 1586.8,840.8 1587.9,842.2 1589.1,840.0 1590.2,839.1 1591.3,840.3 1592.5,838.3 1593.6,839.5 1594.7,840.9 1595.8,838.5 1597.0,839.1 1598.1,840.0 1599.2,840.1 1600.4,842.7 1601.5,838.9 1602.6,836.1 1603.8,838.5 1604.9,838.9 1606.0,839.6 1607.2,840.4 1608.3,837.3 1609.4,839.4 1610.6,838.1 1611.7,840.1 1612.8,838.8 1613.9,838.6 1615.1,841.2 1616.2,842.0 1617.3,839.1 1618.5,838.5 1619.6,839.1 1620.7,840.6 1621.9,842.5 1623.0,841.1 1624.1,838.5 1625.3,838.8 1626.4,840.6 1627.5,838.9 1628.7,840.5 1629.8,841.6 1630.9,840.3 1632.1,841.4 1633.2,838.9 1634.3,841.5 1635.4,840.0 1636.6,838.5 1637.7,840.5 1638.8,841.6 1640.0,838.9 1641.1,839.7 1642.2,838.7 1643.4,840.7 1644.5,839.9 1645.6,840.8 1646.8,839.7 1647.9,840.5 1649.0,841.3 1650.2,842.5 1651.3,841.9 1652.4,841.3 1653.6,840.1 1654.7,840.0 1655.8,841.1 1656.9,839.6 1658.1,838.2 1659.2,841.6 1660.3,839.9 1661.5,840.4 1662.6,840.5 1663.7,840.9 1664.9,844.8 1666.0,839.5 1667.1,844.4 1668.3,843.9 1669.4,840.9 1670.5,840.0 1671.7,840.4 1672.8,843.0 1673.9,843.3 1675.1,841.3 1676.2,844.1 1677.3,839.3 1678.4,839.1 1679.6,841.9 1680.7,842.0 1681.8,841.4 1683.0,838.6 1684.1,843.3 1685.2,843.1 1686.4,841.2 1687.5,842.8 1688.6,840.7 1689.8,838.6 1690.9,840.9 1692.0,843.2 1693.2,841.9 1694.3,842.6 1695.4,844.0 1696.5,841.3 1697.7,840.3 1698.8,841.5 1699.9,839.7 1701.1,843.9 1702.2,842.9 1703.3,844.8 1704.5,842.5 1705.6,840.6 1706.7,842.9 1707.9,843.5 1709.0,841.8 1710.1,841.0 1711.3,842.7 1712.4,843.3 1713.5,841.1 1714.7,842.5 1715.8,841.1 1716.9,844.4 1718.0,843.5 1719.2,844.4 1720.3,846.0 1721.4,845.3 1722.6,842.8 1723.7,842.4 1724.8,844.3 1726.0,844.6 1727.1,841.9 1728.2,845.1 1729.4,843.2 1730.5,846.0 1731.6,846.8 1732.8,844.1 1733.9,844.5 1735.0,845.5 1736.2,846.9 1737.3,844.2 1738.4,846.0 1739.5,841.9 1740.7,844.0 1741.8,845.8 1742.9,846.8 1744.1,845.1 1745.2,846.2 1746.3,847.2 1747.5,844.3 1748.6,846.6 1749.7,844.6 1750.9,846.4 1752.0,845.0 1753.1,845.3 1754.3,844.0 1755.4,844.5 1756.5,847.4 1757.6,844.6 1758.8,843.0 1759.9,847.5 1761.0,845.0 1762.2,846.4 1763.3,845.7 1764.4,842.2 1765.6,850.4 1766.7,848.2 1767.8,846.5 1769.0,848.5 1770.1,847.2 1771.2,845.5 1772.4,847.0 1773.5,849.6 1774.6,844.7 1775.8,846.2 1776.9,849.4 1778.0,846.2 1779.1,852.9 1780.3,852.4 1781.4,847.4 1782.5,848.6 1783.7,845.1 1784.8,848.6 1785.9,852.6 1787.1,842.6 1788.2,848.6 1789.3,848.3 1790.5,852.6 1791.6,844.5 1792.7,845.3 1793.9,845.8 1795.0,848.4 1796.1,847.3 1797.3,847.7 1798.4,853.7 1799.5,846.8 1800.6,853.6 1801.8,848.9 1802.9,856.9 1804.0,848.6 1805.2,855.3 1806.3,848.6 1807.4,850.0 1808.6,850.4 1809.7,852.2 1810.8,850.9 1812.0,849.3 1813.1,853.8 1814.2,854.6 1815.4,849.1 1816.5,857.5 1817.6,848.9 1818.8,857.6 1819.9,852.2 1821.0,848.6 1822.1,848.9 1823.3,855.7 1824.4,853.2 1825.5,849.5 1826.7,849.7 1827.8,859.7 1828.9,850.8 1830.1,854.6 1831.2,847.1 1832.3,853.8 1833.5,847.0 1834.6,850.5 1835.7,849.3 1836.9,849.6 1838.0,850.8 1839.1,853.4 1840.2,853.3 1841.4,853.7 1842.5,854.8 1843.6,852.9 1844.8,851.7 1845.9,852.6 1847.0,849.2 1848.2,852.6 1849.3,849.5 1850.4,850.7 1851.6,847.8 1852.7,850.4 1853.8,848.7 1855.0,849.9 1856.1,851.8 1857.2,849.3 1858.4,854.6 1859.5,851.4 1860.6,851.3 1861.7,849.4 1862.9,855.5 1864.0,851.8 1865.1,850.2 1866.3,849.7 1867.4,853.2 1868.5,850.8 1869.7,855.4 1870.8,851.6 1871.9,851.9 1873.1,851.3 1874.2,848.5 1875.3,849.4 1876.5,850.6 1877.6,850.0 1878.7,852.1 1879.9,850.8 1881.0,850.9 1882.1,853.0 1883.2,851.2 1884.4,846.8 1885.5,851.5 1886.6,850.7 1887.8,853.4 1888.9,853.0 1890.0,853.8 1891.2,852.4 1892.3,846.3 1893.4,846.7 1894.6,849.8 1895.7,855.1 1896.8,846.3 1898.0,850.7 1899.1,851.5 1900.2,845.1 1901.4,848.2 1902.5,843.3 1903.6,847.2 1904.7,849.3 1905.9,849.0 1907.0,852.0 1908.1,846.3 1909.3,847.4 1910.4,843.7 1911.5,844.8 1912.7,839.0 1913.8,843.9 1914.9,840.7 1916.1,836.0 1917.2,837.8 1918.3,834.9 1919.5,834.3 1920.6,837.7 1921.7,837.8 1922.8,842.2 1924.0,836.0 1925.1,836.3 1926.2,835.2 1927.4,832.0 1928.5,836.7 1929.6,837.0 1930.8,835.1 1931.9,837.0 1933.0,837.8 1934.2,838.8 1935.3,837.1 1936.4,836.3 1937.6,839.8 1938.7,838.9 1939.8,837.7 1941.0,840.5 1942.1,836.6 1943.2,836.9 1944.3,840.4 1945.5,833.8 1946.6,838.3 1947.7,839.9 1948.9,840.9 1950.0,839.3 1951.1,839.0 1952.3,842.1 1953.4,837.1 1954.5,843.6 1955.7,845.2 1956.8,845.9 1957.9,845.0 1959.1,844.3 1960.2,844.7 1961.3,845.3 1962.5,842.4 1963.6,846.9 1964.7,847.2 1965.8,843.9 1967.0,846.1 1968.1,839.0 1969.2,844.5 1970.4,843.0 1971.5,847.0 1972.6,835.9 1973.8,844.7 1974.9,841.6 1976.0,843.3 1977.2,842.4 1978.3,845.3 1979.4,850.0 1980.6,847.6 1981.7,840.0 1982.8,842.5 1983.9,842.3 1985.1,845.3 1986.2,844.7 1987.3,844.8 1988.5,846.7 1989.6,842.2 1990.7,845.6 1991.9,848.1 1993.0,843.8 1994.1,844.2 1995.3,845.5 1996.4,843.3 1997.5,842.5 1998.7,841.1 1999.8,845.3 2000.9,845.6 2002.1,842.2 2003.2,843.7 2004.3,844.9 2005.4,841.8 2006.6,840.6 2007.7,842.2 2008.8,846.3 2010.0,850.5 2011.1,841.7 2012.2,844.6 2013.4,844.1 2014.5,838.7 2015.6,841.8 2016.8,843.4 2017.9,843.9 2019.0,847.9 2020.2,842.4 2021.3,844.3 2022.4,843.0 2023.6,840.5 2024.7,845.8 2025.8,842.7 2026.9,849.2 2028.1,848.5 2029.2,843.0 2030.3,841.9 2031.5,845.6 2032.6,841.1 2033.7,844.0 2034.9,841.3 2036.0,845.9 2037.1,846.2 2038.3,841.0 2039.4,840.7 2040.5,846.3 2041.7,840.5 2042.8,847.5 2043.9,843.0 2045.1,846.5 2046.2,846.1 2047.3,844.2 2048.4,842.6 2049.6,843.8 2050.7,845.8 2051.8,845.3 2053.0,842.7 2054.1,844.6 2055.2,842.3 2056.4,847.1 2057.5,843.9 2058.6,847.0 2059.8,846.2 2060.9,847.6 2062.0,845.3 2063.2,850.7 2064.3,846.7 2065.4,847.2 2066.5,848.1 2067.7,845.0 2068.8,847.2 2069.9,845.1 2071.1,848.1 2072.2,846.2 2073.3,843.0 2074.5,844.0 2075.6,846.1 2076.7,848.7 2077.9,846.6 2079.0,843.0 2080.1,843.6 2081.3,850.6 2082.4,844.9 2083.5,848.0 2084.7,842.1 2085.8,845.1 2086.9,842.7 2088.0,842.0 2089.2,844.8 2090.3,844.5 2091.4,843.2 2092.6,847.0 2093.7,846.5 2094.8,850.2 2096.0,845.2 2097.1,844.1 2098.2,846.9 2099.4,846.3 2100.5,840.9 2101.6,845.1 2102.8,842.8 2103.9,848.0 2105.0,843.2 2106.2,842.6 2107.3,838.9 2108.4,846.8 2109.5,847.6 2110.7,845.4 2111.8,845.4" fill="none" stroke="#000000" stroke-width="1.5" stroke-linejoin="round"/>
<path d="M1163.6,865.6h0M1164.2,862.7h0M1165.9,864.9h0M1166.4,869.8h0M1167.0,873.1h0M1167.6,875.8h0M1169.3,887.2h0M1170.4,890.5h0M1171.5,897.1h0M1172.1,903.7h0M1172.7,901.1h0M1173.2,908.2h0M1174.4,915.5h0M1174.9,918.5h0M1175.5,921.1h0M1176.6,926.0h0M1177.2,931.7h0M1178.3,938.5h0M1178.9,941.4h0M1179.5,945.2h0M1180.0,948.3h0M1180.6,954.2h0M1181.2,957.4h0M1181.7,960.7h0M1182.3,964.7h0M1182.8,969.6h0M1184.0,975.3h0M1185.1,979.5h0M1186.2,987.7h0M1186.8,983.2h0M1187.4,988.7h0M1187.9,992.3h0M1189.1,989.9h0M1189.6,993.8h0M1190.2,997.5h0M1191.3,994.8h0M1191.9,999.6h0M1193.6,995.3h0M1194.2,999.3h0M1194.7,997.0h0M1195.3,999.2h0M1196.4,992.4h0M1197.0,989.7h0M1198.1,981.0h0M1198.7,975.9h0M1199.3,972.7h0M1199.8,964.4h0M1200.4,957.3h0M1201.0,950.8h0M1201.5,943.2h0M1202.1,935.8h0M1202.6,927.7h0M1203.2,920.0h0M1203.8,908.5h0M1204.3,902.4h0M1204.9,891.7h0M1205.5,882.6h0M1206.0,874.6h0M1206.6,861.1h0M1207.2,848.7h0M1207.7,838.4h0M1208.3,831.4h0M1208.9,815.9h0M1209.4,806.2h0M1210.0,795.6h0M1210.6,785.5h0M1211.1,773.5h0M1211.7,760.2h0M1212.3,750.4h0M1212.8,740.8h0M1213.4,730.4h0M1214.0,719.2h0M1214.5,707.4h0M1215.1,695.2h0M1215.7,690.5h0M1216.2,679.5h0M1216.8,671.5h0M1217.4,663.4h0M1217.9,653.0h0M1218.5,644.3h0M1219.1,638.4h0M1219.6,628.8h0M1220.2,615.4h0M1220.8,606.8h0M1221.3,595.4h0M1221.9,585.8h0M1222.5,574.1h0M1223.0,561.2h0M1223.6,551.7h0M1224.1,541.8h0M1224.7,530.4h0M1225.3,519.5h0M1225.8,513.5h0M1226.4,501.3h0M1227.0,493.0h0M1227.5,486.6h0M1228.1,477.0h0M1228.7,468.9h0M1229.2,460.7h0M1229.8,453.5h0M1230.4,450.9h0M1230.9,445.3h0M1231.5,437.7h0M1232.1,435.3h0M1232.6,431.4h0M1233.2,428.2h0M1233.8,423.3h0M1234.9,418.2h0M1236.0,414.1h0M1236.6,411.0h0M1237.2,413.9h0M1237.7,409.8h0M1240.0,411.9h0M1241.7,413.4h0M1242.3,417.6h0M1242.8,421.5h0M1243.4,418.1h0M1243.9,422.9h0M1244.5,427.0h0M1245.1,432.3h0M1245.6,434.8h0M1246.2,437.1h0M1246.8,442.5h0M1247.9,451.2h0M1248.5,457.6h0M1249.0,466.7h0M1249.6,474.4h0M1250.2,482.1h0M1250.7,488.8h0M1251.3,498.0h0M1251.9,506.4h0M1252.4,513.8h0M1253.0,521.8h0M1253.6,527.6h0M1254.1,538.1h0M1254.7,547.3h0M1255.3,553.8h0M1255.8,559.5h0M1256.4,570.9h0M1257.0,578.2h0M1257.5,587.2h0M1258.1,594.4h0M1258.7,603.1h0M1259.2,613.3h0M1259.8,621.2h0M1260.4,628.1h0M1260.9,637.4h0M1261.5,647.2h0M1262.1,656.8h0M1262.6,668.3h0M1263.2,677.2h0M1263.7,684.0h0M1264.3,694.6h0M1264.9,700.1h0M1265.4,709.1h0M1266.0,713.0h0M1266.6,719.0h0M1267.1,725.2h0M1267.7,727.5h0M1268.3,734.5h0M1268.8,738.5h0M1269.4,743.0h0M1270.0,748.1h0M1271.1,756.1h0M1271.7,759.2h0M1272.2,765.3h0M1272.8,767.8h0M1273.4,771.0h0M1273.9,774.4h0M1274.5,777.8h0M1275.6,780.4h0M1276.2,785.9h0M1276.8,788.7h0M1277.3,791.9h0M1277.9,788.9h0M1278.5,791.9h0M1279.0,796.1h0M1279.6,798.4h0M1280.2,803.1h0M1281.3,806.2h0M1281.9,808.6h0M1282.4,812.1h0M1284.1,815.5h0M1284.7,820.7h0M1285.8,818.2h0M1286.4,822.4h0M1287.5,826.0h0M1288.1,823.5h0M1288.6,827.6h0M1290.3,825.0h0M1290.9,830.5h0M1293.2,830.3h0M1293.7,835.6h0M1296.0,836.1h0M1297.1,840.5h0M1299.4,840.5h0M1300.5,844.1h0M1301.1,841.8h0M1302.2,839.9h0M1302.8,844.7h0M1303.4,842.2h0M1303.9,846.7h0M1306.2,845.7h0M1307.3,843.6h0M1308.4,841.4h0M1310.1,838.4h0M1312.4,838.6h0M1314.1,835.2h0M1316.4,837.1h0M1316.9,834.8h0M1318.1,832.1h0M1319.8,830.4h0M1320.3,833.7h0M1320.9,831.0h0M1322.0,834.7h0M1322.6,832.3h0M1323.7,834.2h0M1325.4,832.3h0M1327.1,834.7h0M1329.4,835.8h0M1329.9,832.6h0M1331.1,834.8h0M1332.2,832.3h0M1333.3,834.8h0M1333.9,832.5h0M1334.5,830.2h0M1335.0,833.4h0M1335.6,831.2h0M1336.2,837.5h0M1336.7,831.3h0M1337.3,833.5h0M1337.9,836.5h0M1338.4,832.4h0M1340.7,833.7h0M1343.0,833.1h0M1345.2,833.3h0M1345.8,830.2h0M1346.9,835.6h0M1349.2,833.0h0M1349.7,835.4h0M1351.4,832.7h0M1353.7,833.3h0M1355.4,835.6h0M1357.1,832.5h0M1358.2,835.8h0M1358.8,832.1h0M1359.4,836.0h0M1359.9,832.4h0M1361.1,835.6h0M1363.3,835.4h0M1365.6,834.4h0M1366.2,837.3h0M1366.7,833.9h0M1367.3,836.4h0M1369.0,834.8h0M1370.7,832.2h0M1372.9,834.0h0M1375.2,834.3h0M1376.3,837.1h0M1376.9,833.6h0M1378.0,836.8h0M1378.6,834.6h0M1380.9,833.6h0M1381.4,837.1h0M1382.6,834.1h0M1384.3,837.9h0M1384.8,835.0h0M1386.0,833.0h0M1387.1,836.4h0M1388.8,833.8h0M1389.3,837.1h0M1389.9,833.2h0M1391.6,838.5h0M1392.2,836.2h0M1392.7,834.0h0M1393.3,837.4h0M1394.4,835.3h0M1396.7,835.9h0M1398.4,834.2h0M1400.1,838.0h0M1400.7,833.5h0M1401.2,835.6h0M1402.9,834.1h0M1404.1,836.3h0M1406.3,838.0h0M1406.9,835.8h0M1409.1,838.0h0M1409.7,833.4h0M1411.4,837.0h0M1413.7,835.3h0M1415.9,835.7h0M1416.5,832.9h0M1417.6,837.8h0M1418.2,834.3h0M1418.8,837.9h0M1419.3,835.7h0M1421.0,833.8h0M1421.6,836.8h0M1423.9,833.7h0M1424.4,837.8h0M1425.6,835.1h0M1426.1,838.5h0M1427.3,834.3h0M1428.4,836.8h0M1430.6,835.9h0M1432.9,837.3h0M1433.5,835.1h0M1434.0,839.1h0M1434.6,836.9h0M1436.9,835.7h0M1437.4,838.9h0M1439.1,836.2h0M1439.7,838.5h0M1440.3,834.7h0M1440.8,836.9h0M1443.1,838.0h0M1443.7,834.7h0M1444.8,836.7h0M1447.1,836.5h0M1448.8,838.9h0M1449.3,835.6h0M1449.9,838.0h0M1451.0,834.5h0M1452.1,837.6h0M1454.4,838.5h0M1455.5,835.9h0M1456.1,839.5h0M1456.7,836.9h0M1458.4,838.4h0M1458.9,835.2h0M1459.5,838.8h0M1460.1,835.9h0M1461.2,840.1h0M1461.8,836.5h0M1463.5,838.1h0M1465.7,836.2h0M1466.9,838.5h0M1468.6,837.0h0M1470.2,839.1h0M1470.8,841.4h0M1471.4,836.2h0M1472.5,839.4h0M1473.6,836.7h0M1475.3,835.2h0M1477.6,837.9h0M1478.2,835.4h0M1479.9,837.9h0M1480.4,835.7h0M1481.0,839.0h0M1481.6,836.7h0M1482.1,841.4h0M1482.7,838.9h0M1483.3,836.2h0M1485.0,839.9h0M1485.5,835.0h0M1486.7,837.5h0M1488.4,835.3h0M1489.5,839.8h0M1490.6,835.6h0M1491.7,838.2h0M1493.4,836.7h0M1494.0,840.1h0M1495.1,836.6h0M1496.8,834.6h0M1497.4,838.2h0M1499.7,837.8h0M1500.2,840.0h0M1501.4,835.6h0M1501.9,837.9h0M1504.2,836.8h0M1505.3,839.7h0M1505.9,836.0h0M1506.5,839.4h0M1507.6,833.9h0M1508.2,837.8h0M1508.7,835.3h0M1509.3,838.5h0M1511.5,839.3h0M1513.8,839.3h0M1514.4,837.0h0M1515.5,839.4h0M1517.8,837.9h0M1518.9,835.2h0M1519.5,838.8h0M1520.0,841.2h0M1520.6,838.0h0M1522.3,840.7h0M1522.9,836.4h0M1524.6,840.7h0M1525.1,837.5h0M1526.8,838.9h0M1529.1,837.7h0M1529.7,840.0h0M1531.3,838.4h0M1533.6,839.3h0M1535.3,841.9h0M1535.9,838.5h0M1536.4,836.3h0M1538.1,837.8h0M1539.3,840.6h0M1539.8,837.3h0M1542.1,838.0h0M1544.4,838.1h0M1546.6,839.2h0M1547.2,842.4h0M1547.8,838.5h0M1548.3,842.2h0M1548.9,835.8h0M1550.0,837.7h0M1551.2,840.5h0M1553.4,838.6h0M1555.1,840.4h0M1557.4,838.2h0M1559.6,837.2h0M1561.9,837.7h0M1563.0,839.7h0M1565.3,837.8h0M1567.6,840.9h0M1568.1,837.4h0M1568.7,839.7h0M1569.3,837.0h0M1570.4,839.2h0M1572.6,838.6h0M1574.3,840.7h0M1574.9,838.3h0M1575.5,841.0h0M1576.0,838.3h0M1577.7,840.1h0M1578.3,834.7h0M1578.9,839.6h0M1580.6,837.1h0M1581.1,840.0h0M1581.7,837.8h0M1582.3,840.7h0M1584.0,837.9h0M1585.1,840.6h0M1587.4,838.2h0M1587.9,842.2h0M1588.5,838.3h0M1589.6,840.8h0M1590.8,838.5h0M1593.0,838.3h0M1594.1,840.6h0M1595.8,838.5h0M1598.1,840.0h0M1599.8,836.7h0M1600.4,842.7h0M1600.9,839.2h0M1602.6,836.1h0M1603.8,838.5h0M1604.3,841.0h0M1606.6,839.4h0M1608.3,837.3h0M1609.4,839.4h0M1610.0,842.6h0M1610.6,838.1h0M1611.7,840.1h0M1613.9,838.6h0M1614.5,841.4h0M1616.8,839.8h0M1617.9,841.8h0M1618.5,838.5h0M1619.0,840.7h0M1621.3,840.7h0M1623.6,837.5h0M1624.7,842.0h0M1625.3,838.8h0M1627.5,838.9h0M1629.8,841.6h0M1632.1,841.4h0M1633.2,838.9h0M1634.3,841.5h0M1634.9,839.1h0M1637.1,841.6h0M1639.4,837.4h0M1640.5,843.0h0M1641.1,839.7h0M1643.4,840.7h0M1645.6,840.8h0M1647.9,840.5h0M1650.2,842.5h0M1651.9,839.8h0M1654.1,843.1h0M1654.7,840.0h0M1656.9,839.6h0M1659.2,841.6h0M1660.9,838.5h0M1662.0,841.8h0M1664.3,842.1h0M1664.9,844.8h0M1665.4,841.8h0M1666.0,839.5h0M1667.1,844.4h0M1667.7,841.1h0M1668.3,843.9h0M1668.8,838.2h0M1669.4,840.9h0M1671.1,842.4h0M1673.4,840.3h0M1673.9,843.3h0M1674.5,839.4h0M1675.6,842.9h0M1676.7,839.0h0M1677.9,843.3h0M1678.4,839.1h0M1679.0,841.3h0M1681.3,839.5h0M1682.4,844.4h0M1683.0,838.6h0M1684.1,843.3h0M1685.8,841.7h0M1688.1,843.1h0M1688.6,840.7h0M1689.8,838.6h0M1690.3,843.2h0M1690.9,840.9h0M1692.0,843.2h0M1692.6,840.1h0M1693.7,843.5h0M1694.9,840.7h0M1695.4,844.0h0M1696.0,840.2h0M1697.1,842.7h0M1697.7,840.3h0M1699.4,842.2h0M1699.9,839.7h0M1701.1,843.9h0M1703.3,844.8h0M1703.9,841.3h0M1706.2,843.6h0M1708.4,843.0h0M1710.1,841.0h0M1710.7,844.1h0M1713.0,844.2h0M1713.5,841.1h0M1715.8,841.1h0M1716.9,844.4h0M1719.2,844.4h0M1720.9,841.4h0M1721.4,845.3h0M1722.6,842.8h0M1723.1,846.1h0M1723.7,842.4h0M1724.8,844.3h0M1726.5,846.7h0M1727.1,841.9h0M1728.2,845.1h0M1729.9,841.9h0M1730.5,846.0h0M1732.2,843.2h0M1733.3,840.9h0M1733.9,844.5h0M1736.2,846.9h0M1736.7,843.4h0M1737.8,845.4h0M1739.0,843.1h0M1740.1,845.4h0M1741.2,842.2h0M1741.8,845.8h0M1744.1,845.1h0M1745.8,847.5h0M1747.5,844.3h0M1748.6,846.6h0M1749.2,844.4h0M1750.3,846.6h0M1751.4,844.5h0M1752.6,846.8h0M1754.3,844.0h0M1754.8,847.1h0M1755.4,844.5h0M1756.5,847.4h0M1757.1,844.3h0M1758.2,848.0h0M1758.8,843.0h0M1759.3,847.8h0M1761.0,845.0h0M1763.3,845.7h0M1764.4,842.2h0M1765.0,846.2h0M1765.6,850.4h0M1766.1,847.2h0M1768.4,848.6h0M1770.1,847.2h0M1770.7,850.9h0M1771.2,845.5h0M1773.5,849.6h0M1774.1,847.3h0M1774.6,844.7h0M1776.3,848.0h0M1777.5,844.2h0M1778.6,848.6h0M1779.1,852.9h0M1779.7,849.8h0M1780.3,852.4h0M1780.8,844.7h0M1781.4,847.4h0M1782.0,849.7h0M1783.1,841.6h0M1783.7,845.1h0M1784.2,851.5h0M1784.8,848.6h0M1785.4,851.3h0M1786.5,848.0h0M1787.1,842.6h0M1787.6,844.7h0M1788.2,848.6h0M1789.9,846.4h0M1790.5,852.6h0M1791.6,844.5h0M1792.2,848.5h0M1792.7,845.3h0M1793.3,848.8h0M1793.9,845.8h0M1794.4,851.1h0M1795.0,848.4h0M1795.6,845.9h0M1796.7,851.0h0M1797.3,847.7h0M1797.8,851.7h0M1798.9,848.9h0M1800.6,853.6h0M1801.2,848.3h0M1802.3,851.8h0M1802.9,856.9h0M1803.5,848.2h0M1805.2,855.3h0M1806.3,848.6h0M1808.0,851.9h0M1810.3,853.7h0M1810.8,850.9h0M1813.1,853.8h0M1813.7,847.1h0M1814.2,854.6h0M1814.8,850.7h0M1815.9,848.7h0M1816.5,857.5h0M1817.1,849.4h0M1818.8,857.6h0M1819.3,853.7h0M1821.0,848.6h0M1821.6,853.7h0M1822.1,848.9h0M1823.3,855.7h0M1824.4,853.2h0M1825.5,849.5h0M1826.1,852.5h0M1826.7,849.7h0M1827.2,856.0h0M1827.8,859.7h0M1828.4,852.9h0M1830.1,854.6h0M1830.6,850.9h0M1831.2,847.1h0M1831.8,852.3h0M1833.5,847.0h0M1834.0,852.1h0M1835.2,848.9h0M1836.3,854.3h0M1836.9,849.6h0M1839.1,853.4h0M1840.8,850.1h0M1841.4,853.7h0M1841.9,851.0h0M1842.5,854.8h0M1843.1,852.3h0M1845.3,852.5h0M1846.5,857.2h0M1847.0,849.2h0M1847.6,853.6h0M1849.3,849.5h0M1849.9,854.3h0M1850.4,850.7h0M1851.6,847.8h0M1852.7,850.4h0M1853.3,855.0h0M1853.8,848.7h0M1856.1,851.8h0M1857.2,849.3h0M1858.4,854.6h0M1858.9,849.7h0M1860.6,851.3h0M1861.7,849.4h0M1862.9,855.5h0M1863.4,849.9h0M1864.6,854.8h0M1865.1,850.2h0M1865.7,855.4h0M1866.3,849.7h0M1867.4,853.2h0M1868.0,849.6h0M1869.7,855.4h0M1870.2,850.4h0M1871.9,851.9h0M1872.5,849.2h0M1874.8,851.5h0M1877.0,853.3h0M1877.6,850.0h0M1878.7,852.1h0M1879.3,849.9h0M1880.4,854.6h0M1881.0,850.9h0M1881.5,848.5h0M1882.1,853.0h0M1882.7,856.2h0M1883.2,851.2h0M1884.4,846.8h0M1884.9,851.6h0M1887.2,852.7h0M1889.5,847.7h0M1890.0,853.8h0M1890.6,850.9h0M1891.7,854.0h0M1892.3,846.3h0M1892.9,855.6h0M1893.4,846.7h0M1894.0,853.7h0M1894.6,849.8h0M1895.1,844.3h0M1895.7,855.1h0M1896.8,846.3h0M1897.4,849.0h0M1899.1,851.5h0M1899.7,848.6h0M1900.2,845.1h0M1900.8,849.6h0M1901.9,845.4h0M1903.0,849.6h0M1903.6,847.2h0M1904.7,849.3h0M1906.4,851.5h0M1907.6,848.7h0M1908.1,846.3h0M1908.7,843.4h0M1909.3,847.4h0M1910.4,843.7h0M1912.7,839.0h0M1913.2,844.0h0M1914.4,846.2h0M1914.9,840.7h0M1916.1,836.0h0M1916.6,841.1h0M1917.2,837.8h0M1918.3,834.9h0M1918.9,841.8h0M1919.5,834.3h0M1920.0,837.7h0M1922.3,837.5h0M1922.8,842.2h0M1923.4,835.0h0M1924.5,838.5h0M1925.1,836.3h0M1925.7,830.4h0M1926.2,835.2h0M1927.4,832.0h0M1927.9,838.2h0M1930.2,834.6h0M1931.3,838.4h0M1933.6,837.0h0M1934.7,838.9h0M1936.4,836.3h0M1937.6,839.8h0M1939.3,838.3h0M1941.0,840.5h0M1941.5,835.0h0M1942.6,838.7h0M1944.3,840.4h0M1945.5,833.8h0M1946.0,838.1h0M1947.2,842.1h0M1947.7,839.9h0M1948.3,836.1h0M1948.9,840.9h0M1951.1,839.0h0M1951.7,842.5h0M1952.8,845.0h0M1953.4,837.1h0M1954.0,843.0h0M1955.1,840.5h0M1955.7,845.2h0M1957.9,845.0h0M1958.5,842.7h0M1959.6,845.5h0M1961.9,841.7h0M1963.0,843.7h0M1963.6,846.9h0M1964.1,842.8h0M1964.7,847.2h0M1965.3,843.6h0M1966.4,845.5h0M1968.1,839.0h0M1968.7,844.7h0M1969.8,841.7h0M1971.5,847.0h0M1972.6,835.9h0M1973.2,844.1h0M1974.9,841.6h0M1975.5,846.9h0M1976.0,843.3h0M1978.3,845.3h0M1979.4,850.0h0M1980.0,841.6h0M1980.6,847.6h0M1981.1,845.0h0M1981.7,840.0h0M1982.3,845.1h0M1982.8,842.5h0M1984.5,844.0h0M1985.6,840.7h0M1986.2,844.7h0M1986.8,847.3h0M1987.3,844.8h0M1988.5,846.7h0M1989.0,842.1h0M1990.2,838.9h0M1990.7,845.6h0M1991.3,842.4h0M1991.9,848.1h0M1992.4,845.1h0M1993.6,843.0h0M1995.3,845.5h0M1996.4,843.3h0M1998.1,841.6h0M1999.2,848.4h0M1999.8,845.3h0M2001.5,841.5h0M2002.6,844.3h0M2003.8,841.0h0M2004.3,844.9h0M2005.4,841.8h0M2007.7,842.2h0M2008.3,845.4h0M2010.0,850.5h0M2010.5,843.0h0M2012.2,844.6h0M2012.8,841.4h0M2013.4,844.1h0M2013.9,841.7h0M2014.5,838.7h0M2015.1,842.3h0M2017.3,843.4h0M2018.5,841.4h0M2019.0,847.9h0M2019.6,844.7h0M2020.2,842.4h0M2020.7,846.1h0M2022.4,843.0h0M2023.6,840.5h0M2024.1,842.8h0M2024.7,845.8h0M2025.2,843.4h0M2026.4,840.6h0M2026.9,849.2h0M2027.5,843.1h0M2028.1,848.5h0M2028.6,842.3h0M2030.9,843.1h0M2031.5,845.6h0M2032.0,843.2h0M2034.3,847.0h0M2034.9,841.3h0M2035.4,845.3h0M2037.7,844.7h0M2038.3,841.0h0M2040.5,846.3h0M2041.1,842.9h0M2041.7,840.5h0M2042.8,847.5h0M2043.9,843.0h0M2045.1,846.5h0M2045.6,843.2h0M2046.2,846.1h0M2046.7,849.6h0M2047.3,844.2h0M2049.0,841.9h0M2050.1,844.8h0M2051.3,848.2h0M2051.8,845.3h0M2052.4,841.8h0M2053.5,839.3h0M2054.1,844.6h0M2054.7,848.6h0M2055.2,842.3h0M2056.4,847.1h0M2057.5,843.9h0M2058.6,847.0h0M2060.9,847.6h0M2061.5,844.0h0M2062.6,846.0h0M2063.2,850.7h0M2063.7,840.2h0M2064.3,846.7h0M2066.0,843.6h0M2066.5,848.1h0M2067.1,844.3h0M2068.2,842.3h0M2068.8,847.2h0M2069.9,845.1h0M2070.5,839.5h0M2071.1,848.1h0M2071.6,843.9h0M2072.2,846.2h0M2072.8,843.9h0M2075.0,844.0h0M2076.7,848.7h0M2077.3,845.6h0M2079.0,843.0h0M2081.3,850.6h0M2081.8,843.8h0M2083.5,848.0h0M2084.1,843.5h0M2085.8,845.1h0M2086.9,842.7h0M2087.5,840.6h0M2088.6,844.6h0M2090.9,846.2h0M2091.4,843.2h0M2092.0,846.7h0M2093.1,844.2h0M2093.7,846.5h0M2094.8,850.2h0M2095.4,843.2h0M2096.5,845.5h0M2098.2,846.9h0M2098.8,840.4h0M2099.4,846.3h0M2099.9,842.9h0M2101.1,846.8h0M2102.8,842.8h0M2103.3,846.2h0M2104.5,842.2h0M2105.6,847.6h0M2106.2,842.6h0M2106.7,845.0h0M2107.3,838.9h0M2107.8,841.3h0M2108.4,846.8h0M2110.1,845.2h0M2112.4,849.2h0" stroke="#000000" stroke-width="4.8" stroke-linecap="round" fill="none"/>
<polyline points="1163.8,864.3 1164.9,861.3 1166.0,868.0 1167.2,873.7 1168.3,878.4 1169.4,885.7 1170.6,891.9 1171.7,902.1 1172.8,904.7 1174.0,914.6 1175.1,918.8 1176.2,926.5 1177.3,931.8 1178.5,939.0 1179.6,949.4 1180.7,953.9 1181.9,965.3 1183.0,970.3 1184.1,973.7 1185.3,980.3 1186.4,987.1 1187.5,989.9 1188.7,994.3 1189.8,993.6 1190.9,997.1 1192.1,997.3 1193.2,998.9 1194.3,998.0 1195.5,996.9 1196.6,991.1 1197.7,983.1 1198.8,974.9 1200.0,958.3 1201.1,943.5 1202.2,931.9 1203.4,913.2 1204.5,895.6 1205.6,875.6 1206.8,853.8 1207.9,835.1 1209.0,809.6 1210.2,787.7 1211.3,765.7 1212.4,745.8 1213.6,723.0 1214.7,704.6 1215.8,686.0 1217.0,667.9 1218.1,651.5 1219.2,633.7 1220.3,612.9 1221.5,592.5 1222.6,570.8 1223.7,549.9 1224.9,533.5 1226.0,510.1 1227.1,493.8 1228.3,477.8 1229.4,464.2 1230.5,455.9 1231.7,444.3 1232.8,436.3 1233.9,430.9 1235.1,426.5 1236.2,422.3 1237.3,415.3 1238.4,418.2 1239.6,417.5 1240.7,421.3 1241.8,420.9 1243.0,430.9 1244.1,435.4 1245.2,439.5 1246.4,449.7 1247.5,456.0 1248.6,470.6 1249.8,485.0 1250.9,501.1 1252.0,516.2 1253.2,534.7 1254.3,546.7 1255.4,564.6 1256.6,582.9 1257.7,599.1 1258.8,617.3 1259.9,631.5 1261.1,648.6 1262.2,666.2 1263.3,684.4 1264.5,700.6 1265.6,709.3 1266.7,722.7 1267.9,734.4 1269.0,743.5 1270.1,748.2 1271.3,759.2 1272.4,768.3 1273.5,774.6 1274.7,781.4 1275.8,787.7 1276.9,793.5 1278.1,796.1 1279.2,799.3 1280.3,801.8 1281.4,811.0 1282.6,816.6 1283.7,816.1 1284.8,818.3 1286.0,817.9 1287.1,820.3 1288.2,826.4 1289.4,825.4 1290.5,829.0 1291.6,832.9 1292.8,834.1 1293.9,834.6 1295.0,833.1 1296.2,837.0 1297.3,836.6 1298.4,841.0 1299.6,839.9 1300.7,843.9 1301.8,842.7 1302.9,844.4 1304.1,844.8 1305.2,847.8 1306.3,845.9 1307.5,845.1 1308.6,844.3 1309.7,841.5 1310.9,837.7 1312.0,840.2 1313.1,837.2 1314.3,835.8 1315.4,834.4 1316.5,834.1 1317.7,835.9 1318.8,834.6 1319.9,834.4 1321.0,835.9 1322.2,834.4 1323.3,837.5 1324.4,836.0 1325.6,840.0 1326.7,838.5 1327.8,839.4 1329.0,840.2 1330.1,838.4 1331.2,843.8 1332.4,839.5 1333.5,838.0 1334.6,842.9 1335.8,837.8 1336.9,840.1 1338.0,840.0 1339.2,840.7 1340.3,838.8 1341.4,838.1 1342.5,839.6 1343.7,840.2 1344.8,837.9 1345.9,839.9 1347.1,839.4 1348.2,840.4 1349.3,839.3 1350.5,839.0 1351.6,841.0 1352.7,841.9 1353.9,840.1 1355.0,841.8 1356.1,840.1 1357.3,838.2 1358.4,840.3 1359.5,843.7 1360.7,841.4 1361.8,839.6 1362.9,839.7 1364.0,841.2 1365.2,834.4 1366.3,839.1 1367.4,841.2 1368.6,837.6 1369.7,838.7 1370.8,836.1 1372.0,839.2 1373.1,839.7 1374.2,841.9 1375.4,840.0 1376.5,841.8 1377.6,838.5 1378.8,841.3 1379.9,836.3 1381.0,840.3 1382.1,836.6 1383.3,842.5 1384.4,840.9 1385.5,842.2 1386.7,842.0 1387.8,840.3 1388.9,843.0 1390.1,839.3 1391.2,840.5 1392.3,841.2 1393.5,840.9 1394.6,841.1 1395.7,836.1 1396.9,840.8 1398.0,840.7 1399.1,841.1 1400.3,838.9 1401.4,840.0 1402.5,840.2 1403.6,843.3 1404.8,840.7 1405.9,838.9 1407.0,841.9 1408.2,838.7 1409.3,840.1 1410.4,840.1 1411.6,844.0 1412.7,839.7 1413.8,841.4 1415.0,840.9 1416.1,839.0 1417.2,838.5 1418.4,838.9 1419.5,840.2 1420.6,840.6 1421.8,841.3 1422.9,843.0 1424.0,840.5 1425.1,839.8 1426.3,843.8 1427.4,838.5 1428.5,840.9 1429.7,842.4 1430.8,840.7 1431.9,843.6 1433.1,845.3 1434.2,841.3 1435.3,838.6 1436.5,841.4 1437.6,838.6 1438.7,840.0 1439.9,841.6 1441.0,842.3 1442.1,840.0 1443.3,841.5 1444.4,840.3 1445.5,839.9 1446.6,838.8 1447.8,839.8 1448.9,841.0 1450.0,836.7 1451.2,840.3 1452.3,843.4 1453.4,841.9 1454.6,843.2 1455.7,839.2 1456.8,841.2 1458.0,843.9 1459.1,840.6 1460.2,841.0 1461.4,842.1 1462.5,842.4 1463.6,840.6 1464.7,840.9 1465.9,842.0 1467.0,844.3 1468.1,840.8 1469.3,842.2 1470.4,843.3 1471.5,841.6 1472.7,840.1 1473.8,846.9 1474.9,841.1 1476.1,841.3 1477.2,840.3 1478.3,838.7 1479.5,840.2 1480.6,841.8 1481.7,839.4 1482.9,840.7 1484.0,841.8 1485.1,841.3 1486.2,840.1 1487.4,839.5 1488.5,842.5 1489.6,842.1 1490.8,843.8 1491.9,840.3 1493.0,842.0 1494.2,839.2 1495.3,839.4 1496.4,841.4 1497.6,841.3 1498.7,842.9 1499.8,842.8 1501.0,841.7 1502.1,842.1 1503.2,839.1 1504.4,842.8 1505.5,840.8 1506.6,842.1 1507.7,841.6 1508.9,841.2 1510.0,843.6 1511.1,840.7 1512.3,839.9 1513.4,840.2 1514.5,842.2 1515.7,843.3 1516.8,840.6 1517.9,842.8 1519.1,841.6 1520.2,844.8 1521.3,844.4 1522.5,842.3 1523.6,842.4 1524.7,843.6 1525.9,844.8 1527.0,841.6 1528.1,844.7 1529.2,843.3 1530.4,841.0 1531.5,842.3 1532.6,841.7 1533.8,842.0 1534.9,842.0 1536.0,842.6 1537.2,843.8 1538.3,840.6 1539.4,842.0 1540.6,842.2 1541.7,837.8 1542.8,844.0 1544.0,840.7 1545.1,842.1 1546.2,844.4 1547.3,843.4 1548.5,843.1 1549.6,844.8 1550.7,843.3 1551.9,841.3 1553.0,840.5 1554.1,842.1 1555.3,842.4 1556.4,842.9 1557.5,843.8 1558.7,843.3 1559.8,842.1 1560.9,844.9 1562.1,843.1 1563.2,842.6 1564.3,842.4 1565.5,845.1 1566.6,840.5 1567.7,842.0 1568.8,844.2 1570.0,843.6 1571.1,841.7 1572.2,841.5 1573.4,844.1 1574.5,844.5 1575.6,841.1 1576.8,842.3 1577.9,843.2 1579.0,843.9 1580.2,843.4 1581.3,844.6 1582.4,841.7 1583.6,842.9 1584.7,842.7 1585.8,839.5 1587.0,842.7 1588.1,844.9 1589.2,844.3 1590.3,841.7 1591.5,841.4 1592.6,843.1 1593.7,843.9 1594.9,842.1 1596.0,845.1 1597.1,845.0 1598.3,843.8 1599.4,842.9 1600.5,843.3 1601.7,843.2 1602.8,845.6 1603.9,844.3 1605.1,843.9 1606.2,844.4 1607.3,844.7 1608.4,843.0 1609.6,844.3 1610.7,845.2 1611.8,842.3 1613.0,843.8 1614.1,846.6 1615.2,843.4 1616.4,841.0 1617.5,842.7 1618.6,842.3 1619.8,842.1 1620.9,843.5 1622.0,845.3 1623.2,842.6 1624.3,846.1 1625.4,844.2 1626.6,843.4 1627.7,843.9 1628.8,845.0 1629.9,846.2 1631.1,841.5 1632.2,843.4 1633.3,845.5 1634.5,846.3 1635.6,844.4 1636.7,844.5 1637.9,844.4 1639.0,842.6 1640.1,845.9 1641.3,844.1 1642.4,842.0 1643.5,847.4 1644.7,845.4 1645.8,842.7 1646.9,847.0 1648.1,843.8 1649.2,848.2 1650.3,845.8 1651.4,845.5 1652.6,846.1 1653.7,844.5 1654.8,844.4 1656.0,843.9 1657.1,846.0 1658.2,846.6 1659.4,843.7 1660.5,846.5 1661.6,844.7 1662.8,846.7 1663.9,844.8 1665.0,841.2 1666.2,844.5 1667.3,841.3 1668.4,847.0 1669.6,845.8 1670.7,845.6 1671.8,846.1 1672.9,844.8 1674.1,844.9 1675.2,845.8 1676.3,843.7 1677.5,847.6 1678.6,847.3 1679.7,849.9 1680.9,846.1 1682.0,847.0 1683.1,845.9 1684.3,847.8 1685.4,848.0 1686.5,846.7 1687.7,847.8 1688.8,846.4 1689.9,846.5 1691.0,847.1 1692.2,845.9 1693.3,849.3 1694.4,847.4 1695.6,845.2 1696.7,846.1 1697.8,848.0 1699.0,849.7 1700.1,847.4 1701.2,847.5 1702.4,847.4 1703.5,849.8 1704.6,849.0 1705.8,846.4 1706.9,853.5 1708.0,846.7 1709.2,845.5 1710.3,847.3 1711.4,848.1 1712.5,847.6 1713.7,851.6 1714.8,850.6 1715.9,849.8 1717.1,850.3 1718.2,850.7 1719.3,844.8 1720.5,850.4 1721.6,847.6 1722.7,852.2 1723.9,852.6 1725.0,849.3 1726.1,848.4 1727.3,851.4 1728.4,850.0 1729.5,847.6 1730.7,847.9 1731.8,851.3 1732.9,847.1 1734.0,847.6 1735.2,848.6 1736.3,852.7 1737.4,851.6 1738.6,849.8 1739.7,850.7 1740.8,850.6 1742.0,850.1 1743.1,850.6 1744.2,849.8 1745.4,848.6 1746.5,850.9 1747.6,852.0 1748.8,851.5 1749.9,853.5 1751.0,851.5 1752.2,849.9 1753.3,855.1 1754.4,855.0 1755.5,850.7 1756.7,853.5 1757.8,852.8 1758.9,852.1 1760.1,850.2 1761.2,851.7 1762.3,851.9 1763.5,852.6 1764.6,855.3 1765.7,853.5 1766.9,852.0 1768.0,858.9 1769.1,858.1 1770.3,854.3 1771.4,857.4 1772.5,856.3 1773.6,855.2 1774.8,851.9 1775.9,856.6 1777.0,856.2 1778.2,853.6 1779.3,859.1 1780.4,861.1 1781.6,854.4 1782.7,863.5 1783.8,862.3 1785.0,861.7 1786.1,856.7 1787.2,856.8 1788.4,857.6 1789.5,856.4 1790.6,861.3 1791.8,860.0 1792.9,861.1 1794.0,859.5 1795.1,859.7 1796.3,862.7 1797.4,858.9 1798.5,858.2 1799.7,857.9 1800.8,860.2 1801.9,859.2 1803.1,860.5 1804.2,864.4 1805.3,856.6 1806.5,856.5 1807.6,862.0 1808.7,860.3 1809.9,859.0 1811.0,858.4 1812.1,859.2 1813.3,859.5 1814.4,858.7 1815.5,863.1 1816.6,858.7 1817.8,859.8 1818.9,854.0 1820.0,854.8 1821.2,858.0 1822.3,860.0 1823.4,856.9 1824.6,861.2 1825.7,855.3 1826.8,859.6 1828.0,858.6 1829.1,861.2 1830.2,860.7 1831.4,854.1 1832.5,857.2 1833.6,859.3 1834.7,855.8 1835.9,858.9 1837.0,857.8 1838.1,857.4 1839.3,853.5 1840.4,858.7 1841.5,857.5 1842.7,857.8 1843.8,854.5 1844.9,860.9 1846.1,860.1 1847.2,859.7 1848.3,855.1 1849.5,861.8 1850.6,855.0 1851.7,861.7 1852.9,857.4 1854.0,855.1 1855.1,855.9 1856.2,859.0 1857.4,857.6 1858.5,858.7 1859.6,857.5 1860.8,860.7 1861.9,852.1 1863.0,860.3 1864.2,858.2 1865.3,860.4 1866.4,857.7 1867.6,860.2 1868.7,854.4 1869.8,858.7 1871.0,857.8 1872.1,854.2 1873.2,858.0 1874.4,854.2 1875.5,856.1 1876.6,858.5 1877.7,858.1 1878.9,855.1 1880.0,854.3 1881.1,854.0 1882.3,852.5 1883.4,853.6 1884.5,853.6 1885.7,855.3 1886.8,854.5 1887.9,856.6 1889.1,855.0 1890.2,853.1 1891.3,853.6 1892.5,856.9 1893.6,854.6 1894.7,847.4 1895.9,853.8 1897.0,846.8 1898.1,848.6 1899.2,847.4 1900.4,846.6 1901.5,848.6 1902.6,848.5 1903.8,846.7 1904.9,842.5 1906.0,845.8 1907.2,841.7 1908.3,839.8 1909.4,838.0 1910.6,837.1 1911.7,840.5 1912.8,831.5 1914.0,836.8 1915.1,832.9 1916.2,834.4 1917.3,834.1 1918.5,834.7 1919.6,829.0 1920.7,833.3 1921.9,835.1 1923.0,834.9 1924.1,832.8 1925.3,828.3 1926.4,831.6 1927.5,830.2 1928.7,827.4 1929.8,827.9 1930.9,827.6 1932.1,828.1 1933.2,829.6 1934.3,829.1 1935.5,828.6 1936.6,829.7 1937.7,830.5 1938.8,832.6 1940.0,834.3 1941.1,833.3 1942.2,835.4 1943.4,837.9 1944.5,832.4 1945.6,837.9 1946.8,833.6 1947.9,834.7 1949.0,836.6 1950.2,833.0 1951.3,840.8 1952.4,837.5 1953.6,834.5 1954.7,837.5 1955.8,840.5 1957.0,842.1 1958.1,839.0 1959.2,843.1 1960.3,837.7 1961.5,838.4 1962.6,845.8 1963.7,841.6 1964.9,837.0 1966.0,838.8 1967.1,843.3 1968.3,843.9 1969.4,843.9 1970.5,843.0 1971.7,839.8 1972.8,840.5 1973.9,837.5 1975.1,838.5 1976.2,847.4 1977.3,841.8 1978.5,842.5 1979.6,843.2 1980.7,844.5 1981.8,849.1 1983.0,836.8 1984.1,843.9 1985.2,838.9 1986.4,842.7 1987.5,840.4 1988.6,840.2 1989.8,838.4 1990.9,843.5 1992.0,841.3 1993.2,842.9 1994.3,840.3 1995.4,838.9 1996.6,844.3 1997.7,839.9 1998.8,842.9 1999.9,846.1 2001.1,848.8 2002.2,844.4 2003.3,841.0 2004.5,841.7 2005.6,844.1 2006.7,843.1 2007.9,842.0 2009.0,840.2 2010.1,844.7 2011.3,842.4 2012.4,843.8 2013.5,845.5 2014.7,847.9 2015.8,845.3 2016.9,841.5 2018.1,842.2 2019.2,843.6 2020.3,842.2 2021.4,845.7 2022.6,842.0 2023.7,838.5 2024.8,839.9 2026.0,839.5 2027.1,841.3 2028.2,842.4 2029.4,845.5 2030.5,843.9 2031.6,837.6 2032.8,849.6 2033.9,840.7 2035.0,843.0 2036.2,848.4 2037.3,841.2 2038.4,845.1 2039.6,844.0 2040.7,844.9 2041.8,841.3 2042.9,837.8 2044.1,843.7 2045.2,847.0 2046.3,848.7 2047.5,838.6 2048.6,843.1 2049.7,839.7 2050.9,841.6 2052.0,844.9 2053.1,847.7 2054.3,846.2 2055.4,843.8 2056.5,840.1 2057.7,840.6 2058.8,842.2 2059.9,848.0 2061.0,842.0 2062.2,842.3 2063.3,842.5 2064.4,845.8 2065.6,838.6 2066.7,845.3 2067.8,840.6 2069.0,843.3 2070.1,838.6 2071.2,843.6 2072.4,843.5 2073.5,839.2 2074.6,844.0 2075.8,839.8 2076.9,842.6 2078.0,841.6 2079.2,838.7 2080.3,839.1 2081.4,842.5 2082.5,840.0 2083.7,839.8 2084.8,839.2 2085.9,842.4 2087.1,836.5 2088.2,842.7 2089.3,844.1 2090.5,841.6 2091.6,840.5 2092.7,834.6 2093.9,842.8 2095.0,840.8 2096.1,842.1 2097.3,840.3 2098.4,841.0 2099.5,837.2 2100.7,842.4 2101.8,841.8 2102.9,838.9 2104.0,840.0 2105.2,837.3 2106.3,841.3 2107.4,837.5 2108.6,841.0 2109.7,841.6 2110.8,837.5 2112.0,838.9" fill="none" stroke="#ee0a8c" stroke-width="1.5" stroke-linejoin="round"/>
<path d="M1163.8,864.3h0M1164.3,860.9h0M1165.5,865.2h0M1166.0,868.0h0M1166.6,871.0h0M1167.2,873.7h0M1167.7,879.3h0M1168.9,883.8h0M1170.0,892.9h0M1171.7,902.1h0M1172.3,899.8h0M1172.8,904.7h0M1173.4,909.9h0M1174.0,914.6h0M1175.1,918.8h0M1175.7,921.7h0M1176.2,926.5h0M1176.8,930.8h0M1177.9,938.2h0M1179.0,946.7h0M1179.6,949.4h0M1180.2,954.2h0M1181.3,962.4h0M1181.9,965.3h0M1183.0,970.3h0M1184.1,973.7h0M1184.7,978.1h0M1185.3,980.3h0M1185.8,986.3h0M1187.0,988.2h0M1188.1,993.5h0M1189.2,995.4h0M1190.9,997.1h0M1192.6,999.2h0M1193.8,1001.4h0M1194.3,998.0h0M1196.0,994.2h0M1196.6,991.1h0M1197.1,984.6h0M1198.3,980.5h0M1198.8,974.9h0M1199.4,965.9h0M1200.0,958.3h0M1200.5,951.3h0M1201.1,943.5h0M1201.7,936.9h0M1202.2,931.9h0M1202.8,921.5h0M1203.4,913.2h0M1203.9,902.2h0M1204.5,895.6h0M1205.1,884.5h0M1205.6,875.6h0M1206.2,868.3h0M1206.8,853.8h0M1207.3,842.9h0M1207.9,835.1h0M1208.5,821.6h0M1209.0,809.6h0M1209.6,800.2h0M1210.2,787.7h0M1210.7,777.9h0M1211.3,765.7h0M1211.9,756.1h0M1212.4,745.8h0M1213.0,734.0h0M1213.6,723.0h0M1214.1,713.6h0M1214.7,704.6h0M1215.3,695.7h0M1215.8,686.0h0M1216.4,677.6h0M1217.0,667.9h0M1217.5,659.5h0M1218.1,651.5h0M1218.6,642.7h0M1219.2,633.7h0M1219.8,622.1h0M1220.3,612.9h0M1220.9,605.0h0M1221.5,592.5h0M1222.0,582.5h0M1222.6,570.8h0M1223.2,560.1h0M1223.7,549.9h0M1224.3,541.2h0M1224.9,533.5h0M1225.4,520.4h0M1226.0,510.1h0M1226.6,504.6h0M1227.1,493.8h0M1227.7,486.9h0M1228.3,477.8h0M1228.8,472.1h0M1229.4,464.2h0M1230.0,457.9h0M1231.1,447.5h0M1231.7,444.3h0M1232.8,436.3h0M1233.9,430.9h0M1234.5,427.9h0M1235.6,425.3h0M1236.2,422.3h0M1237.3,415.3h0M1238.4,418.2h0M1240.7,421.3h0M1241.3,423.4h0M1241.8,420.9h0M1242.4,424.5h0M1243.0,430.9h0M1243.5,434.0h0M1244.7,436.9h0M1245.2,439.5h0M1245.8,444.2h0M1246.4,449.7h0M1247.5,456.0h0M1248.1,463.1h0M1248.6,470.6h0M1249.2,476.3h0M1249.8,485.0h0M1250.3,494.7h0M1250.9,501.1h0M1251.5,511.5h0M1252.0,516.2h0M1252.6,524.8h0M1253.2,534.7h0M1253.7,540.6h0M1254.3,546.7h0M1254.9,559.8h0M1255.4,564.6h0M1256.0,569.9h0M1256.6,582.9h0M1257.1,589.0h0M1257.7,599.1h0M1258.3,605.4h0M1258.8,617.3h0M1259.4,624.6h0M1259.9,631.5h0M1260.5,639.6h0M1261.1,648.6h0M1261.6,657.9h0M1262.2,666.2h0M1262.8,675.8h0M1263.3,684.4h0M1263.9,694.7h0M1264.5,700.6h0M1265.6,709.3h0M1266.2,717.2h0M1266.7,722.7h0M1267.3,727.4h0M1267.9,734.4h0M1269.0,743.5h0M1269.6,747.4h0M1270.7,758.9h0M1271.8,766.2h0M1273.0,770.9h0M1273.5,774.6h0M1274.1,776.9h0M1274.7,781.4h0M1275.8,787.7h0M1276.9,793.5h0M1278.1,796.1h0M1279.2,799.3h0M1279.7,801.6h0M1280.9,805.7h0M1281.4,811.0h0M1282.6,816.6h0M1283.1,813.4h0M1283.7,816.1h0M1284.3,819.2h0M1286.5,822.9h0M1287.1,820.3h0M1288.2,826.4h0M1289.9,828.6h0M1291.1,830.5h0M1291.6,832.9h0M1293.3,835.7h0M1294.5,832.1h0M1295.6,836.5h0M1297.9,839.0h0M1299.0,841.6h0M1300.1,838.3h0M1300.7,843.9h0M1301.2,846.7h0M1301.8,842.7h0M1304.1,844.8h0M1304.6,846.9h0M1305.8,844.5h0M1308.0,843.1h0M1309.7,841.5h0M1310.3,839.4h0M1312.6,835.2h0M1314.8,834.1h0M1317.1,836.4h0M1318.8,834.6h0M1321.0,835.9h0M1323.3,837.5h0M1325.6,840.0h0M1327.3,835.3h0M1327.8,839.4h0M1330.1,838.4h0M1330.7,842.4h0M1331.8,838.4h0M1332.9,840.5h0M1333.5,838.0h0M1334.6,842.9h0M1335.2,839.8h0M1337.5,838.1h0M1338.6,841.5h0M1340.3,838.8h0M1340.9,842.4h0M1341.4,838.1h0M1342.0,842.3h0M1342.5,839.6h0M1343.1,842.0h0M1344.2,838.1h0M1345.9,839.9h0M1348.2,840.4h0M1348.8,838.0h0M1351.0,838.7h0M1351.6,841.0h0M1353.9,840.1h0M1355.6,834.7h0M1356.1,840.1h0M1356.7,837.9h0M1357.8,843.9h0M1358.4,840.3h0M1359.0,837.6h0M1359.5,843.7h0M1360.1,838.7h0M1360.7,841.4h0M1362.3,842.9h0M1362.9,839.7h0M1365.2,834.4h0M1365.7,839.5h0M1367.4,841.2h0M1368.6,837.6h0M1370.3,840.4h0M1370.8,836.1h0M1371.4,842.7h0M1372.0,839.2h0M1373.7,841.9h0M1375.4,840.0h0M1377.6,838.5h0M1378.2,841.1h0M1379.9,836.3h0M1380.5,839.4h0M1382.1,836.6h0M1383.3,842.5h0M1385.0,840.8h0M1387.2,839.8h0M1388.4,842.6h0M1390.1,839.3h0M1391.8,845.6h0M1392.3,841.2h0M1394.6,841.1h0M1395.7,836.1h0M1396.3,839.3h0M1398.6,840.2h0M1400.8,839.2h0M1403.1,842.1h0M1404.8,840.7h0M1407.0,841.9h0M1407.6,839.4h0M1408.7,841.4h0M1409.9,838.5h0M1411.0,840.7h0M1411.6,844.0h0M1412.1,838.6h0M1413.3,840.5h0M1414.4,842.7h0M1416.1,839.0h0M1416.7,842.7h0M1417.2,838.5h0M1417.8,840.7h0M1420.1,838.8h0M1421.2,843.1h0M1422.3,840.0h0M1422.9,843.0h0M1424.0,840.5h0M1425.7,842.7h0M1427.4,838.5h0M1428.0,842.3h0M1430.2,839.2h0M1431.9,843.6h0M1433.6,841.3h0M1435.3,838.6h0M1435.9,841.4h0M1437.6,838.6h0M1438.2,842.3h0M1438.7,840.0h0M1441.0,842.3h0M1442.1,840.0h0M1444.4,840.3h0M1446.6,838.8h0M1448.3,841.5h0M1450.0,836.7h0M1450.6,841.5h0M1451.7,839.1h0M1452.3,843.4h0M1454.6,843.2h0M1455.7,839.2h0M1456.8,841.2h0M1458.0,843.9h0M1458.5,840.2h0M1459.7,843.0h0M1461.9,842.9h0M1463.6,840.6h0M1465.9,842.0h0M1466.4,838.2h0M1467.0,844.3h0M1467.6,839.5h0M1469.3,842.2h0M1471.0,843.6h0M1472.7,840.1h0M1473.8,846.9h0M1474.4,843.9h0M1474.9,841.1h0M1477.2,840.3h0M1479.5,840.2h0M1480.0,844.1h0M1480.6,841.8h0M1481.7,839.4h0M1483.4,843.6h0M1484.6,841.6h0M1486.2,840.1h0M1486.8,845.8h0M1487.4,839.5h0M1487.9,842.4h0M1489.1,839.4h0M1489.6,842.1h0M1491.9,840.3h0M1493.6,842.5h0M1494.2,839.2h0M1494.7,842.5h0M1495.3,839.4h0M1496.4,841.4h0M1498.7,842.9h0M1500.4,841.3h0M1502.7,842.2h0M1503.2,839.1h0M1503.8,841.9h0M1506.0,842.2h0M1508.3,841.3h0M1509.4,844.5h0M1511.1,840.7h0M1513.4,840.2h0M1514.5,842.2h0M1515.1,844.4h0M1516.8,840.6h0M1517.9,842.8h0M1520.2,844.8h0M1521.9,842.6h0M1524.2,841.4h0M1524.7,843.6h0M1525.3,840.8h0M1525.9,844.8h0M1526.4,842.1h0M1528.1,844.7h0M1528.7,841.2h0M1530.9,842.3h0M1533.2,843.8h0M1534.3,841.4h0M1536.6,842.5h0M1537.7,844.6h0M1538.3,840.6h0M1538.9,843.4h0M1541.1,843.7h0M1541.7,837.8h0M1542.3,844.0h0M1543.4,841.0h0M1544.5,845.8h0M1545.1,842.1h0M1546.2,844.4h0M1546.8,841.4h0M1547.9,844.1h0M1550.2,839.1h0M1550.7,843.3h0M1551.9,841.3h0M1553.6,843.1h0M1555.8,843.0h0M1557.0,840.1h0M1557.5,843.8h0M1559.2,841.9h0M1560.9,844.9h0M1561.5,842.4h0M1563.8,845.9h0M1564.3,842.4h0M1565.5,845.1h0M1566.6,840.5h0M1567.2,843.5h0M1569.4,844.4h0M1570.5,841.0h0M1571.7,844.1h0M1572.2,841.5h0M1573.4,844.1h0M1575.1,845.6h0M1575.6,841.1h0M1576.2,846.0h0M1576.8,842.3h0M1577.3,845.5h0M1577.9,843.2h0M1579.6,846.6h0M1580.2,843.4h0M1582.4,841.7h0M1583.0,844.4h0M1584.7,842.7h0M1585.8,839.5h0M1586.4,841.9h0M1588.1,844.9h0M1588.6,841.7h0M1589.2,844.3h0M1590.3,841.7h0M1592.0,845.7h0M1592.6,843.1h0M1594.3,846.5h0M1594.9,842.1h0M1596.0,845.1h0M1597.7,841.4h0M1598.3,843.8h0M1600.5,843.3h0M1602.8,845.6h0M1604.5,843.6h0M1606.8,842.4h0M1607.3,844.7h0M1609.0,842.4h0M1610.7,845.2h0M1611.8,842.3h0M1613.5,844.5h0M1615.8,842.5h0M1618.1,845.9h0M1618.6,842.3h0M1620.9,843.5h0M1623.2,842.6h0M1623.7,845.5h0M1626.0,843.4h0M1627.1,845.6h0M1628.3,842.7h0M1628.8,845.0h0M1630.5,843.3h0M1631.6,846.7h0M1632.2,843.4h0M1633.3,845.5h0M1635.6,844.4h0M1637.9,844.4h0M1638.4,846.6h0M1639.0,842.6h0M1640.1,845.9h0M1640.7,842.1h0M1641.8,844.7h0M1642.4,842.0h0M1643.0,848.8h0M1644.1,843.9h0M1645.2,846.5h0M1645.8,842.7h0M1646.9,847.0h0M1648.1,843.8h0M1649.2,848.2h0M1649.7,844.8h0M1650.9,847.9h0M1651.4,845.5h0M1652.0,847.7h0M1653.1,842.8h0M1654.8,844.4h0M1656.5,847.2h0M1657.7,844.1h0M1658.2,846.6h0M1659.4,843.7h0M1660.5,846.5h0M1662.8,846.7h0M1665.0,841.2h0M1665.6,843.7h0M1667.3,841.3h0M1667.9,844.2h0M1668.4,847.0h0M1670.7,845.6h0M1672.9,844.8h0M1673.5,848.6h0M1674.1,844.9h0M1675.8,849.9h0M1676.3,843.7h0M1676.9,849.0h0M1678.0,845.3h0M1679.7,849.9h0M1680.3,847.1h0M1682.6,846.2h0M1684.3,847.8h0M1684.8,843.6h0M1685.4,848.0h0M1686.0,844.8h0M1687.7,847.8h0M1689.9,846.5h0M1692.2,845.9h0M1693.3,849.3h0M1694.4,847.4h0M1695.6,845.2h0M1697.3,848.6h0M1698.4,845.9h0M1699.0,849.7h0M1699.5,847.0h0M1701.8,849.3h0M1704.1,845.7h0M1704.6,849.0h0M1705.2,851.2h0M1705.8,846.4h0M1706.3,849.2h0M1706.9,853.5h0M1707.5,848.1h0M1709.2,845.5h0M1709.7,848.4h0M1712.0,846.0h0M1713.1,848.2h0M1713.7,851.6h0M1714.2,849.1h0M1716.5,848.1h0M1717.1,850.3h0M1717.6,845.9h0M1718.2,850.7h0M1719.3,844.8h0M1719.9,848.6h0M1722.2,847.8h0M1722.7,852.2h0M1723.3,848.9h0M1723.9,852.6h0M1724.4,846.4h0M1725.0,849.3h0M1727.3,851.4h0M1727.8,847.1h0M1728.4,850.0h0M1729.0,852.4h0M1729.5,847.6h0M1731.2,849.0h0M1731.8,851.3h0M1732.3,848.5h0M1734.6,851.4h0M1735.2,848.6h0M1736.3,852.7h0M1738.0,850.4h0M1740.3,850.9h0M1742.5,851.0h0M1744.8,851.9h0M1745.4,848.6h0M1745.9,851.3h0M1748.2,851.2h0M1749.9,853.5h0M1751.0,851.5h0M1753.3,855.1h0M1753.8,852.3h0M1754.4,855.0h0M1755.5,850.7h0M1756.7,853.5h0M1758.4,855.5h0M1758.9,852.1h0M1760.1,850.2h0M1760.6,854.8h0M1761.2,851.7h0M1761.8,854.4h0M1762.3,851.9h0M1762.9,855.1h0M1763.5,852.6h0M1764.6,855.3h0M1766.3,853.7h0M1768.0,858.9h0M1768.6,855.5h0M1769.1,858.1h0M1769.7,855.7h0M1771.4,857.4h0M1773.1,853.5h0M1774.8,851.9h0M1775.3,857.7h0M1777.0,856.2h0M1778.2,853.6h0M1778.7,857.3h0M1779.9,859.4h0M1781.0,857.4h0M1781.6,854.4h0M1782.1,863.9h0M1783.3,854.6h0M1783.8,862.3h0M1784.4,857.5h0M1785.0,861.7h0M1785.5,856.6h0M1787.8,858.8h0M1788.9,854.5h0M1790.1,860.9h0M1792.3,859.3h0M1794.6,858.7h0M1796.3,862.7h0M1796.8,855.7h0M1797.4,858.9h0M1799.1,857.0h0M1800.2,859.1h0M1801.4,863.9h0M1801.9,859.2h0M1803.6,853.6h0M1804.2,864.4h0M1804.8,859.5h0M1805.3,856.6h0M1807.0,862.8h0M1808.2,858.0h0M1808.7,860.3h0M1809.3,855.2h0M1809.9,859.0h0M1812.1,859.2h0M1813.8,860.6h0M1814.9,862.9h0M1816.1,858.2h0M1817.2,861.7h0M1818.9,854.0h0M1819.5,863.1h0M1820.0,854.8h0M1820.6,861.2h0M1821.2,858.0h0M1822.3,860.0h0M1822.9,856.7h0M1824.0,859.7h0M1825.1,853.7h0M1826.3,858.5h0M1828.5,855.7h0M1829.1,861.2h0M1829.7,858.7h0M1830.8,855.3h0M1831.9,858.8h0M1833.1,855.0h0M1833.6,859.3h0M1834.7,855.8h0M1835.9,858.9h0M1836.4,854.7h0M1837.0,857.8h0M1837.6,862.8h0M1838.1,857.4h0M1839.3,853.5h0M1839.8,858.3h0M1842.1,861.7h0M1842.7,857.8h0M1843.8,854.5h0M1844.4,852.0h0M1844.9,860.9h0M1847.2,859.7h0M1848.3,855.1h0M1848.9,861.2h0M1850.6,855.0h0M1851.7,861.7h0M1852.9,857.4h0M1853.4,855.0h0M1854.6,857.2h0M1856.2,859.0h0M1856.8,852.8h0M1857.4,857.6h0M1857.9,860.4h0M1859.6,857.5h0M1860.2,854.7h0M1860.8,860.7h0M1861.3,854.6h0M1861.9,852.1h0M1862.5,856.4h0M1863.0,860.3h0M1864.2,858.2h0M1864.7,860.5h0M1865.9,857.9h0M1867.0,855.7h0M1867.6,860.2h0M1868.1,852.4h0M1869.3,854.8h0M1869.8,858.7h0M1870.4,852.6h0M1871.0,857.8h0M1871.5,852.3h0M1872.7,859.1h0M1873.8,852.0h0M1874.4,854.2h0M1874.9,857.1h0M1876.6,858.5h0M1878.9,855.1h0M1879.4,858.6h0M1880.0,854.3h0M1882.3,852.5h0M1884.0,855.7h0M1886.2,852.6h0M1887.9,856.6h0M1888.5,850.3h0M1889.1,855.0h0M1889.6,852.3h0M1891.9,854.9h0M1893.0,852.6h0M1894.2,850.0h0M1894.7,847.4h0M1895.3,856.4h0M1895.9,853.8h0M1896.4,849.5h0M1897.0,846.8h0M1899.2,847.4h0M1899.8,844.3h0M1900.4,846.6h0M1900.9,851.0h0M1901.5,848.6h0M1902.1,846.4h0M1904.3,846.6h0M1904.9,842.5h0M1905.5,844.6h0M1907.2,841.7h0M1907.7,835.8h0M1908.3,839.8h0M1908.9,836.1h0M1910.0,844.1h0M1910.6,837.1h0M1911.1,839.7h0M1912.8,831.5h0M1913.4,839.6h0M1914.0,836.8h0M1914.5,831.9h0M1915.7,838.7h0M1916.2,834.4h0M1917.9,831.5h0M1918.5,834.7h0M1919.6,829.0h0M1920.2,837.2h0M1920.7,833.3h0M1921.3,830.9h0M1921.9,835.1h0M1923.6,831.0h0M1924.7,829.0h0M1926.4,831.6h0M1928.1,833.3h0M1928.7,827.4h0M1930.4,833.3h0M1930.9,827.6h0M1931.5,824.4h0M1932.1,828.1h0M1932.6,833.4h0M1933.2,829.6h0M1935.5,828.6h0M1936.0,831.3h0M1938.3,828.5h0M1938.8,832.6h0M1939.4,830.0h0M1940.0,834.3h0M1941.7,829.9h0M1942.2,835.4h0M1942.8,830.7h0M1943.4,837.9h0M1943.9,834.9h0M1944.5,832.4h0M1945.6,837.9h0M1946.8,833.6h0M1947.3,839.2h0M1947.9,834.7h0M1948.5,837.7h0M1949.6,830.8h0M1950.2,833.0h0M1951.3,840.8h0M1951.9,836.6h0M1953.6,834.5h0M1954.1,842.5h0M1954.7,837.5h0M1955.8,840.5h0M1956.4,834.3h0M1957.0,842.1h0M1957.5,839.0h0M1958.6,844.9h0M1959.8,842.1h0M1960.3,837.7h0M1962.0,839.4h0M1962.6,845.8h0M1963.2,839.7h0M1964.3,837.4h0M1965.4,834.8h0M1966.0,838.8h0M1967.1,843.3h0M1967.7,840.5h0M1968.3,843.9h0M1968.8,838.5h0M1969.4,843.9h0M1970.0,841.4h0M1971.7,839.8h0M1972.2,842.4h0M1973.9,837.5h0M1974.5,842.8h0M1975.1,838.5h0M1975.6,835.7h0M1976.2,847.4h0M1976.8,843.8h0M1977.9,838.3h0M1978.5,842.5h0M1979.0,840.4h0M1979.6,843.2h0M1980.1,839.9h0M1980.7,844.5h0M1981.3,839.3h0M1981.8,849.1h0M1982.4,846.3h0M1983.0,836.8h0M1983.5,841.1h0M1984.1,843.9h0M1984.7,835.9h0M1985.2,838.9h0M1986.4,842.7h0M1986.9,840.1h0M1988.1,846.0h0M1988.6,840.2h0M1990.3,838.4h0M1990.9,843.5h0M1992.0,841.3h0M1994.3,840.3h0M1996.6,844.3h0M1997.1,846.5h0M1997.7,839.9h0M1998.3,842.9h0M1999.9,846.1h0M2000.5,843.1h0M2001.1,848.8h0M2001.6,843.1h0M2002.8,837.4h0M2003.3,841.0h0M2005.6,844.1h0M2007.3,835.8h0M2007.9,842.0h0M2008.4,847.3h0M2009.0,840.2h0M2009.6,835.5h0M2010.1,844.7h0M2010.7,833.2h0M2011.3,842.4h0M2011.8,839.7h0M2012.4,843.8h0M2014.7,847.9h0M2015.2,839.3h0M2015.8,845.3h0M2016.4,841.4h0M2017.5,844.0h0M2019.8,842.2h0M2020.9,845.0h0M2022.6,842.0h0M2023.1,838.8h0M2024.3,841.5h0M2026.0,839.5h0M2026.5,842.0h0M2028.8,837.4h0M2029.4,845.5h0M2029.9,842.3h0M2031.1,839.8h0M2031.6,837.6h0M2032.2,843.2h0M2032.8,849.6h0M2033.3,840.7h0M2034.5,846.7h0M2035.0,843.0h0M2036.2,848.4h0M2036.7,840.6h0M2038.4,845.1h0M2040.1,841.0h0M2040.7,844.9h0M2041.2,838.4h0M2041.8,841.3h0M2042.4,848.0h0M2042.9,837.8h0M2043.5,841.8h0M2045.2,847.0h0M2045.8,841.7h0M2046.3,848.7h0M2046.9,844.9h0M2047.5,838.6h0M2048.6,843.1h0M2049.7,839.7h0M2050.3,842.3h0M2052.0,844.9h0M2052.6,840.0h0M2053.1,847.7h0M2053.7,838.2h0M2054.3,846.2h0M2054.8,843.7h0M2056.0,840.1h0M2058.2,840.8h0M2059.4,847.0h0M2061.0,842.0h0M2063.3,842.5h0M2064.4,845.8h0M2065.6,838.6h0M2066.7,845.3h0M2067.3,842.5h0M2068.4,837.5h0M2069.0,843.3h0M2070.1,838.6h0M2070.7,846.2h0M2071.2,843.6h0M2072.9,836.0h0M2073.5,839.2h0M2074.6,844.0h0M2075.2,839.2h0M2076.3,842.8h0M2077.5,845.3h0M2078.0,841.6h0M2078.6,839.1h0M2080.9,842.8h0M2082.0,838.0h0M2083.1,843.3h0M2083.7,839.8h0M2085.9,842.4h0M2086.5,839.9h0M2087.1,836.5h0M2087.6,840.6h0M2089.3,844.1h0M2089.9,840.2h0M2091.0,838.2h0M2091.6,840.5h0M2092.2,837.9h0M2092.7,834.6h0M2093.3,841.2h0M2095.6,840.2h0M2097.8,846.1h0M2098.4,841.0h0M2099.5,837.2h0M2100.1,841.8h0M2101.2,837.2h0M2101.8,841.8h0M2102.9,838.9h0M2104.6,842.9h0M2105.2,837.3h0M2105.7,841.1h0M2106.9,834.6h0M2107.4,837.5h0M2108.0,842.6h0M2109.1,840.3h0M2110.3,844.7h0M2110.8,837.5h0M2112.5,840.5h0" stroke="#ee0a8c" stroke-width="4.8" stroke-linecap="round" fill="none"/>
</g>
<g clip-path="url(#cBL)">
<polyline points="202.4,1809.0 203.5,1811.7 204.6,1816.6 205.7,1817.8 206.9,1819.4 208.0,1818.3 209.1,1818.5 210.2,1819.8 211.3,1817.8 212.5,1813.4 213.6,1815.5 214.7,1812.4 215.8,1811.3 217.0,1806.4 218.1,1805.4 219.2,1802.9 220.3,1800.8 221.4,1796.6 222.6,1792.2 223.7,1789.4 224.8,1788.7 225.9,1781.7 227.0,1780.6 228.2,1778.1 229.3,1773.1 230.4,1770.6 231.5,1767.1 232.7,1763.9 233.8,1760.1 234.9,1757.4 236.0,1755.5 237.1,1749.0 238.3,1746.9 239.4,1741.6 240.5,1739.9 241.6,1737.9 242.8,1737.6 243.9,1735.8 245.0,1737.6 246.1,1738.2 247.2,1736.3 248.4,1740.1 249.5,1737.0 250.6,1737.1 251.7,1740.0 252.8,1740.5 254.0,1743.9 255.1,1746.7 256.2,1748.2 257.3,1745.9 258.5,1747.2 259.6,1745.5 260.7,1742.2 261.8,1740.4 262.9,1736.6 264.1,1737.4 265.2,1737.7 266.3,1732.8 267.4,1730.4 268.5,1730.5 269.7,1726.5 270.8,1724.4 271.9,1725.7 273.0,1723.6 274.2,1722.6 275.3,1718.3 276.4,1715.9 277.5,1713.7 278.6,1713.4 279.8,1709.9 280.9,1707.7 282.0,1704.9 283.1,1701.6 284.2,1699.1 285.4,1694.8 286.5,1692.0 287.6,1690.2 288.7,1689.8 289.9,1689.5 291.0,1687.7 292.1,1686.0 293.2,1686.3 294.3,1685.1 295.5,1684.8 296.6,1684.4 297.7,1683.0 298.8,1683.7 299.9,1680.3 301.1,1683.1 302.2,1680.0 303.3,1681.9 304.4,1677.8 305.6,1678.1 306.7,1679.6 307.8,1678.5 308.9,1678.6 310.0,1676.2 311.2,1674.1 312.3,1668.8 313.4,1670.6 314.5,1663.6 315.6,1661.8 316.8,1656.6 317.9,1651.7 319.0,1648.4 320.1,1644.7 321.3,1641.5 322.4,1637.2 323.5,1632.8 324.6,1627.4 325.7,1626.9 326.9,1622.0 328.0,1619.8 329.1,1616.5 330.2,1613.4 331.3,1608.3 332.5,1604.5 333.6,1603.4 334.7,1604.9 335.8,1601.9 337.0,1602.0 338.1,1598.9 339.2,1597.1 340.3,1597.8 341.4,1598.2 342.6,1601.1 343.7,1605.6 344.8,1608.2 345.9,1608.5 347.0,1610.6 348.2,1613.3 349.3,1619.5 350.4,1623.6 351.5,1628.4 352.7,1632.9 353.8,1640.8 354.9,1649.8 356.0,1655.6 357.1,1665.5 358.3,1674.5 359.4,1685.2 360.5,1692.0 361.6,1702.7 362.8,1711.6 363.9,1717.8 365.0,1726.0 366.1,1732.2 367.2,1738.1 368.4,1747.0 369.5,1751.3 370.6,1760.5 371.7,1764.3 372.8,1771.5 374.0,1773.8 375.1,1778.2 376.2,1781.5 377.3,1783.5 378.5,1789.1 379.6,1788.2 380.7,1790.6 381.8,1790.6 382.9,1791.2 384.1,1793.1 385.2,1793.8 386.3,1795.4 387.4,1793.6 388.5,1795.4 389.7,1794.1 390.8,1796.5 391.9,1793.1 393.0,1796.2 394.2,1793.5 395.3,1795.6 396.4,1794.4 397.5,1795.3 398.6,1794.4 399.8,1795.3 400.9,1793.7 402.0,1794.5 403.1,1794.6 404.2,1793.4 405.4,1796.4 406.5,1793.9 407.6,1795.5 408.7,1797.5 409.9,1795.0 411.0,1795.9 412.1,1793.5 413.2,1796.3 414.3,1795.7 415.5,1795.4 416.6,1798.2 417.7,1795.1 418.8,1797.0 419.9,1794.0 421.1,1793.7 422.2,1795.8 423.3,1797.8 424.4,1795.5 425.6,1795.5 426.7,1794.9 427.8,1796.1 428.9,1797.3 430.0,1795.9 431.2,1796.9 432.3,1793.5 433.4,1796.7 434.5,1796.6 435.6,1795.8 436.8,1797.3 437.9,1796.3 439.0,1795.9 440.1,1796.4 441.3,1796.1 442.4,1794.2 443.5,1795.2 444.6,1797.5 445.7,1796.3 446.9,1794.8 448.0,1796.6 449.1,1795.7 450.2,1795.8 451.3,1795.1 452.5,1796.0 453.6,1795.9 454.7,1796.9 455.8,1795.3 457.0,1796.9 458.1,1793.6 459.2,1795.8 460.3,1796.0 461.4,1794.8 462.6,1795.9 463.7,1795.7 464.8,1795.8 465.9,1796.7 467.0,1796.9 468.2,1796.7 469.3,1794.3 470.4,1796.6 471.5,1796.3 472.7,1796.3 473.8,1794.9 474.9,1793.3 476.0,1796.9 477.1,1795.1 478.3,1795.6 479.4,1796.1 480.5,1795.1 481.6,1797.4 482.8,1794.7 483.9,1795.5 485.0,1797.0 486.1,1793.8 487.2,1794.7 488.4,1794.3 489.5,1797.6 490.6,1796.1 491.7,1796.4 492.8,1795.0 494.0,1794.1 495.1,1798.2 496.2,1795.7 497.3,1795.9 498.5,1794.5 499.6,1795.8 500.7,1797.4 501.8,1796.0 502.9,1797.1 504.1,1796.7 505.2,1795.7 506.3,1796.4 507.4,1795.4 508.5,1797.7 509.7,1792.8 510.8,1794.2 511.9,1794.9 513.0,1797.4 514.2,1798.5 515.3,1796.9 516.4,1796.1 517.5,1793.0 518.6,1794.1 519.8,1796.4 520.9,1794.2 522.0,1794.2 523.1,1795.7 524.2,1794.2 525.4,1795.4 526.5,1796.6 527.6,1797.2 528.7,1795.9 529.9,1794.5 531.0,1797.5 532.1,1797.8 533.2,1795.1 534.3,1799.2 535.5,1793.5 536.6,1796.3 537.7,1794.8 538.8,1793.4 539.9,1797.6 541.1,1797.1 542.2,1792.9 543.3,1796.1 544.4,1795.9 545.6,1795.5 546.7,1794.4 547.8,1794.1 548.9,1795.6 550.0,1796.2 551.2,1795.8 552.3,1795.4 553.4,1794.1 554.5,1795.6 555.6,1793.5 556.8,1796.8 557.9,1795.1 559.0,1793.6 560.1,1794.1 561.3,1795.3 562.4,1796.9 563.5,1796.7 564.6,1796.0 565.7,1795.4 566.9,1796.1 568.0,1797.6 569.1,1796.7 570.2,1795.1 571.3,1794.7 572.5,1797.5 573.6,1796.2 574.7,1797.9 575.8,1796.5 577.0,1791.3 578.1,1795.7 579.2,1796.2 580.3,1796.5 581.4,1797.3 582.6,1798.1 583.7,1795.8 584.8,1796.1 585.9,1793.9 587.1,1797.8 588.2,1795.2 589.3,1794.1 590.4,1798.2 591.5,1794.9 592.7,1797.8 593.8,1795.1 594.9,1793.9 596.0,1795.8 597.1,1795.4 598.3,1796.6 599.4,1795.4 600.5,1794.3 601.6,1796.0 602.8,1795.9 603.9,1795.3 605.0,1794.7 606.1,1797.8 607.2,1795.7 608.4,1796.6 609.5,1795.1 610.6,1794.5 611.7,1795.4 612.8,1794.1 614.0,1797.0 615.1,1796.3 616.2,1797.0 617.3,1795.7 618.5,1795.6 619.6,1796.0 620.7,1797.3 621.8,1795.9 622.9,1796.3 624.1,1795.0 625.2,1796.1 626.3,1794.3 627.4,1795.5 628.5,1798.1 629.7,1796.0 630.8,1797.6 631.9,1794.5 633.0,1794.0 634.2,1795.8 635.3,1795.2 636.4,1797.6 637.5,1798.6 638.6,1796.5 639.8,1796.1 640.9,1797.7 642.0,1795.7 643.1,1795.4 644.2,1795.0 645.4,1793.8 646.5,1794.7 647.6,1796.2 648.7,1795.6 649.9,1795.0 651.0,1797.1 652.1,1794.1 653.2,1794.6 654.3,1796.0 655.5,1796.6 656.6,1791.0 657.7,1794.7 658.8,1794.6 659.9,1793.5 661.1,1794.5 662.2,1795.5 663.3,1794.9 664.4,1796.9 665.6,1794.9 666.7,1797.7 667.8,1795.2 668.9,1795.1 670.0,1797.7 671.2,1793.3 672.3,1797.2 673.4,1794.4 674.5,1796.4 675.6,1795.4 676.8,1796.6 677.9,1792.6 679.0,1794.5 680.1,1793.5 681.3,1794.8 682.4,1794.9 683.5,1795.6 684.6,1796.1 685.7,1795.0 686.9,1795.5 688.0,1795.9 689.1,1797.5 690.2,1796.1 691.3,1795.0 692.5,1796.3 693.6,1795.3 694.7,1795.9 695.8,1797.0 697.0,1796.9 698.1,1796.7 699.2,1796.1 700.3,1796.1 701.4,1794.3 702.6,1797.1 703.7,1798.3 704.8,1794.9 705.9,1796.3 707.1,1795.9 708.2,1792.5 709.3,1793.9 710.4,1795.0 711.5,1794.5 712.7,1795.6 713.8,1794.5 714.9,1797.2 716.0,1797.5 717.1,1796.9 718.3,1791.7 719.4,1791.8 720.5,1797.2 721.6,1792.8 722.8,1796.1 723.9,1793.0 725.0,1796.5 726.1,1793.3 727.2,1796.0 728.4,1796.4 729.5,1795.7 730.6,1795.3 731.7,1797.2 732.8,1799.1 734.0,1791.4 735.1,1796.7 736.2,1800.3 737.3,1801.4 738.5,1802.8 739.6,1797.2 740.7,1792.2 741.8,1799.8 742.9,1796.5 744.1,1800.3 745.2,1792.9 746.3,1794.8 747.4,1794.9 748.5,1792.3 749.7,1791.5 750.8,1793.1 751.9,1797.1 753.0,1799.0 754.2,1798.3 755.3,1800.1 756.4,1791.1 757.5,1796.2 758.6,1795.3 759.8,1795.2 760.9,1790.6 762.0,1797.1 763.1,1792.7 764.2,1794.9 765.4,1796.1 766.5,1800.5 767.6,1793.3 768.7,1797.6 769.9,1796.8 771.0,1795.1 772.1,1795.4 773.2,1792.8 774.3,1797.4 775.5,1795.2 776.6,1795.0 777.7,1795.6 778.8,1793.9 779.9,1796.3 781.1,1792.6 782.2,1797.5 783.3,1799.3 784.4,1795.8 785.6,1792.7 786.7,1797.0 787.8,1797.3 788.9,1796.5 790.0,1795.2 791.2,1796.1 792.3,1794.9 793.4,1800.0 794.5,1791.9 795.6,1794.2 796.8,1797.8 797.9,1792.2 799.0,1794.5 800.1,1791.9 801.3,1798.6 802.4,1791.4 803.5,1795.5 804.6,1800.9 805.7,1793.7 806.9,1796.4 808.0,1798.2 809.1,1796.2 810.2,1800.6 811.4,1794.2 812.5,1796.2 813.6,1796.3 814.7,1792.1 815.8,1795.6 817.0,1797.3 818.1,1798.1 819.2,1795.8 820.3,1793.0 821.4,1797.1 822.6,1798.3 823.7,1793.3 824.8,1795.5 825.9,1795.7 827.1,1790.4 828.2,1798.7 829.3,1795.2 830.4,1800.2 831.5,1796.4 832.7,1794.2 833.8,1792.8 834.9,1798.9 836.0,1793.5 837.1,1793.7 838.3,1796.0 839.4,1789.4 840.5,1795.7 841.6,1797.9 842.8,1794.6 843.9,1800.4 845.0,1791.7 846.1,1793.2 847.2,1796.7 848.4,1794.1 849.5,1794.3 850.6,1790.8 851.7,1797.2 852.8,1798.9 854.0,1800.8 855.1,1796.4 856.2,1799.6 857.3,1796.1 858.5,1794.6 859.6,1796.8 860.7,1798.1 861.8,1792.6 862.9,1796.2 864.1,1795.1 865.2,1793.2 866.3,1799.0 867.4,1798.0 868.5,1789.3 869.7,1796.1 870.8,1798.3 871.9,1796.3 873.0,1797.1 874.2,1798.8 875.3,1796.7 876.4,1795.7 877.5,1795.7 878.6,1794.3 879.8,1800.1 880.0,1799.5 880.3,1793.7 880.6,1796.8 880.9,1792.6 881.2,1794.9 881.4,1799.2 881.7,1794.3 882.0,1798.2 882.3,1795.0 882.6,1792.5 882.8,1790.3 883.1,1795.8 883.4,1793.9 883.7,1794.9 884.0,1793.7 884.2,1802.1 884.5,1796.7 884.8,1794.9 885.1,1794.5 885.4,1797.6 885.6,1793.6 885.9,1792.9 886.2,1795.5 886.5,1796.2 886.8,1796.6 887.1,1795.3 887.3,1792.7 887.6,1791.9 887.9,1796.9 888.2,1798.0 888.5,1797.7 888.7,1793.2 889.0,1795.1 889.3,1794.9 889.6,1794.4 889.9,1794.7 890.1,1796.0 890.4,1798.3 890.7,1797.2 891.0,1795.4 891.3,1794.7 891.5,1796.6 891.8,1796.7 892.1,1792.2 892.4,1796.8 892.7,1795.1 892.9,1796.5 893.2,1797.8 893.5,1797.7 893.8,1795.2 894.1,1795.9 894.3,1791.7 894.6,1796.7 894.9,1794.9 895.2,1792.2 895.5,1794.1 895.7,1792.6 896.0,1791.7 896.3,1798.0 896.6,1794.8 896.9,1796.2 897.1,1790.4 897.4,1794.1 897.7,1792.5 898.0,1789.5 898.3,1794.7 898.5,1793.6 898.8,1792.8 899.1,1794.5 899.4,1790.6 899.7,1791.7 899.9,1791.3 900.2,1793.7 900.5,1794.6 900.8,1794.7 901.1,1794.7 901.4,1797.9 901.6,1792.9 901.9,1791.7 902.2,1793.8 902.5,1795.0 902.8,1793.7 903.0,1793.2 903.3,1792.9 903.6,1789.2 903.9,1795.9 904.2,1792.8 904.4,1792.0 904.7,1793.5 905.0,1794.3 905.3,1796.3 905.6,1795.2 905.8,1791.9 906.1,1790.1 906.4,1795.4 906.7,1792.5 907.0,1792.4 907.2,1791.2 907.5,1793.1 907.8,1792.6 908.1,1791.4 908.4,1796.6 908.6,1793.6 908.9,1798.1 909.2,1798.6 909.5,1795.7 909.8,1797.5 910.0,1792.4 910.3,1791.2 910.6,1794.4 910.9,1794.0 911.2,1794.2 911.4,1794.3 911.7,1793.3 912.0,1792.7 912.3,1794.8 912.6,1795.6 912.8,1794.9 913.1,1791.6 913.4,1794.6 913.7,1790.0 914.0,1794.2 914.2,1790.2 914.5,1796.5 914.8,1795.3 915.1,1792.3 915.4,1792.3 915.6,1793.9 915.9,1788.4 916.2,1793.3 916.5,1792.8 916.8,1794.9 917.1,1789.4 917.3,1791.3 917.6,1792.4 917.9,1797.5 918.2,1792.6 918.5,1794.6 918.7,1792.5 919.0,1791.2 919.3,1795.3 919.6,1792.9 919.9,1791.2 920.1,1793.0 920.4,1794.2 920.7,1796.0 921.0,1795.0 921.3,1796.5 921.5,1790.9 921.8,1793.1 922.1,1796.4 922.4,1793.3 922.7,1796.5 922.9,1801.5 923.2,1790.3 923.5,1790.4 923.8,1796.9 924.1,1795.1 924.3,1792.8 924.6,1794.2 924.9,1795.4 925.2,1794.5 925.5,1793.8 925.7,1794.6 926.0,1792.7 926.3,1793.8 926.6,1795.1 926.9,1793.1 927.1,1797.3 927.4,1789.6 927.7,1797.5 928.0,1793.4 928.3,1792.3 928.5,1792.1 928.8,1792.5 929.1,1790.0 929.4,1795.9 929.7,1793.3 929.9,1792.7 930.2,1794.3 930.5,1794.5 930.8,1789.8 931.1,1794.8 931.4,1794.2 931.6,1793.6 931.9,1793.4 932.2,1792.5 932.5,1793.4 932.8,1791.9 933.0,1792.5 933.3,1791.6 933.6,1789.4 933.9,1794.8 934.2,1788.6 934.4,1793.8 934.7,1791.0 935.0,1792.2 935.3,1793.3 935.6,1797.4 935.8,1788.6 936.1,1794.4 936.4,1794.4 936.7,1789.9 937.0,1792.3 937.2,1787.8 937.5,1788.3 937.8,1790.7 938.1,1791.8 938.4,1790.5 938.6,1795.6 938.9,1791.9 939.2,1792.0 939.5,1793.5 939.8,1791.7 940.0,1795.9 940.3,1790.0 940.6,1789.1 940.9,1795.4 941.2,1791.8 941.4,1788.4 941.7,1791.1 942.0,1794.7 942.3,1794.6 942.6,1790.0 942.8,1787.6 943.1,1794.8 943.4,1792.0 943.7,1794.0 944.0,1792.8 944.2,1791.3 944.5,1792.1 944.8,1793.7 945.9,1786.8 947.1,1792.3 948.2,1792.4 949.3,1789.2 950.4,1791.8 951.5,1792.4 952.7,1789.5 953.8,1794.4 954.9,1790.0 956.0,1789.3 957.1,1790.2 958.3,1792.2 959.4,1791.8 960.5,1796.0 961.6,1792.1 962.8,1791.0 963.9,1789.6 965.0,1791.4 966.1,1792.7 967.2,1793.7 968.4,1791.8 969.5,1791.3 970.6,1788.7 971.7,1791.6 972.8,1792.9 974.0,1791.9 975.1,1792.8 976.2,1792.2 977.3,1797.0 978.5,1795.5 979.6,1794.5 980.7,1790.5 981.8,1791.8 982.9,1791.2 984.1,1788.7 985.2,1794.1 986.3,1788.8 987.4,1790.6 988.5,1793.3 989.7,1787.9 990.8,1795.0 991.9,1794.3 993.0,1792.1 994.2,1790.6 995.3,1792.0 996.4,1796.7 997.5,1792.3 998.6,1791.7 999.8,1785.3 1000.9,1788.2 1002.0,1791.2 1003.1,1794.2 1004.2,1790.7 1005.4,1794.4 1006.5,1791.0 1007.6,1790.6 1008.7,1792.5 1009.9,1790.9 1011.0,1792.3 1012.1,1792.9 1013.2,1787.8 1014.3,1790.1 1015.5,1792.3 1016.6,1793.4 1017.7,1791.1 1018.8,1790.2 1019.9,1789.5 1021.1,1788.0 1022.2,1790.5 1023.3,1794.3 1024.4,1786.7 1025.6,1788.8 1026.7,1789.6 1027.8,1788.4 1028.9,1795.3 1030.0,1792.6 1031.2,1792.9 1032.3,1788.8 1033.4,1794.6 1034.5,1792.5 1035.7,1788.1 1036.8,1790.2 1037.9,1792.8 1039.0,1787.3 1040.1,1795.1 1041.3,1790.8 1042.4,1792.5 1043.5,1790.7 1044.6,1792.7 1045.7,1794.0 1046.9,1791.5 1048.0,1795.3 1049.1,1790.8 1050.2,1792.9 1051.4,1789.9 1052.5,1793.2 1053.6,1793.8 1054.7,1791.2 1055.8,1789.2 1057.0,1797.2 1058.1,1791.9 1059.2,1790.6 1060.3,1795.6 1061.4,1794.3 1062.6,1790.6 1063.7,1794.2 1064.8,1793.7 1065.9,1788.0 1067.1,1794.4 1068.2,1794.2 1069.3,1797.8 1070.4,1794.8 1071.5,1795.1 1072.7,1788.0 1073.8,1789.2 1074.9,1795.2 1076.0,1787.3 1077.1,1790.2 1078.3,1792.5 1079.4,1790.1 1080.5,1791.2 1081.6,1794.0 1082.8,1796.4 1083.9,1794.3 1085.0,1792.1 1086.1,1792.9 1087.2,1793.9 1088.4,1789.7 1089.5,1794.7 1090.6,1789.9 1091.7,1793.2 1092.8,1791.8 1094.0,1794.8 1095.1,1792.1 1096.2,1793.9 1097.3,1796.3 1098.5,1792.1 1099.6,1792.2 1100.7,1790.0 1101.8,1791.3 1102.9,1794.5 1104.1,1793.5 1105.2,1798.1 1106.3,1794.7 1107.4,1788.9 1108.5,1788.3 1109.7,1790.2 1110.8,1791.3 1111.9,1790.6 1113.0,1790.8 1114.2,1796.2 1115.3,1794.1 1116.4,1789.1 1117.5,1789.1 1118.6,1791.4 1119.8,1792.7 1120.9,1792.9 1122.0,1793.3 1123.1,1794.2 1124.2,1796.7 1125.4,1791.6 1126.5,1793.1 1127.6,1792.5 1128.7,1787.8 1129.9,1790.5 1131.0,1793.7 1132.1,1790.5 1133.2,1795.6 1134.3,1789.4 1135.5,1791.3 1136.6,1792.4 1137.7,1790.5 1138.8,1788.4 1139.9,1793.1" fill="none" stroke="#dd0000" stroke-width="7.5" stroke-linejoin="round" stroke-linecap="round" />
<polyline points="202.4,1809.8 203.5,1810.2 204.6,1815.1 205.7,1816.0 206.9,1819.6 208.0,1819.3 209.1,1820.3 210.2,1818.6 211.3,1818.7 212.5,1817.9 213.6,1814.5 214.7,1814.2 215.8,1814.6 217.0,1810.6 218.1,1808.8 219.2,1806.4 220.3,1803.0 221.4,1800.1 222.6,1796.9 223.7,1794.9 224.8,1792.8 225.9,1788.3 227.0,1783.6 228.2,1782.4 229.3,1777.1 230.4,1774.0 231.5,1771.6 232.7,1767.8 233.8,1765.8 234.9,1762.4 236.0,1759.7 237.1,1754.9 238.3,1750.8 239.4,1749.8 240.5,1745.6 241.6,1747.0 242.8,1744.9 243.9,1744.6 245.0,1741.5 246.1,1743.4 247.2,1741.7 248.4,1744.2 249.5,1741.8 250.6,1741.9 251.7,1744.1 252.8,1748.9 254.0,1748.2 255.1,1749.2 256.2,1749.1 257.3,1749.4 258.5,1750.2 259.6,1747.1 260.7,1743.9 261.8,1743.4 262.9,1739.7 264.1,1738.3 265.2,1735.6 266.3,1732.8 267.4,1732.1 268.5,1726.3 269.7,1726.7 270.8,1724.1 271.9,1722.7 273.0,1719.6 274.2,1717.6 275.3,1716.4 276.4,1714.0 277.5,1709.6 278.6,1707.1 279.8,1706.6 280.9,1702.9 282.0,1697.9 283.1,1694.6 284.2,1691.1 285.4,1690.4 286.5,1686.5 287.6,1685.7 288.7,1684.6 289.9,1683.1 291.0,1681.0 292.1,1680.5 293.2,1679.4 294.3,1680.2 295.5,1679.1 296.6,1679.3 297.7,1678.1 298.8,1677.4 299.9,1676.9 301.1,1675.4 302.2,1675.3 303.3,1674.6 304.4,1674.9 305.6,1673.5 306.7,1673.8 307.8,1672.2 308.9,1671.8 310.0,1670.4 311.2,1669.5 312.3,1668.2 313.4,1665.2 314.5,1658.2 315.6,1655.9 316.8,1651.8 317.9,1648.5 319.0,1645.0 320.1,1638.1 321.3,1638.2 322.4,1633.3 323.5,1629.3 324.6,1626.5 325.7,1623.0 326.9,1619.2 328.0,1616.0 329.1,1613.6 330.2,1609.8 331.3,1609.5 332.5,1605.9 333.6,1603.2 334.7,1602.7 335.8,1603.7 337.0,1604.7 338.1,1600.4 339.2,1600.5 340.3,1601.9 341.4,1601.3 342.6,1605.0 343.7,1607.1 344.8,1611.2 345.9,1612.9 347.0,1617.0 348.2,1621.0 349.3,1623.9 350.4,1629.6 351.5,1636.6 352.7,1640.1 353.8,1646.5 354.9,1655.9 356.0,1663.9 357.1,1672.3 358.3,1681.4 359.4,1689.4 360.5,1697.0 361.6,1706.4 362.8,1712.1 363.9,1722.9 365.0,1730.4 366.1,1735.1 367.2,1741.4 368.4,1750.3 369.5,1756.8 370.6,1763.4 371.7,1766.4 372.8,1771.7 374.0,1776.5 375.1,1778.8 376.2,1781.1 377.3,1784.5 378.5,1785.2 379.6,1787.8 380.7,1789.7 381.8,1791.2 382.9,1791.5 384.1,1791.6 385.2,1792.7 386.3,1793.0 387.4,1794.2 388.5,1793.8 389.7,1793.5 390.8,1794.9 391.9,1796.1 393.0,1793.2 394.2,1794.4 395.3,1795.5 396.4,1794.9 397.5,1795.4 398.6,1796.9 399.8,1795.4 400.9,1796.7 402.0,1795.1 403.1,1795.5 404.2,1794.3 405.4,1795.6 406.5,1795.1 407.6,1795.8 408.7,1795.9 409.9,1797.0 411.0,1794.6 412.1,1795.5 413.2,1796.2 414.3,1795.5 415.5,1796.1 416.6,1796.4 417.7,1795.4 418.8,1794.5 419.9,1796.0 421.1,1797.1 422.2,1796.3 423.3,1793.9 424.4,1796.5 425.6,1794.5 426.7,1795.9 427.8,1795.0 428.9,1795.8 430.0,1797.3 431.2,1796.1 432.3,1793.6 433.4,1795.8 434.5,1795.1 435.6,1796.0 436.8,1795.8 437.9,1795.4 439.0,1795.2 440.1,1793.5 441.3,1795.7 442.4,1795.9 443.5,1796.4 444.6,1797.0 445.7,1797.3 446.9,1795.1 448.0,1797.5 449.1,1794.3 450.2,1794.9 451.3,1796.0 452.5,1796.8 453.6,1795.7 454.7,1795.7 455.8,1794.6 457.0,1796.4 458.1,1796.1 459.2,1795.8 460.3,1796.0 461.4,1796.3 462.6,1797.4 463.7,1797.3 464.8,1796.4 465.9,1795.9 467.0,1794.7 468.2,1793.4 469.3,1794.0 470.4,1795.3 471.5,1793.8 472.7,1795.8 473.8,1796.2 474.9,1793.4 476.0,1796.8 477.1,1796.1 478.3,1796.0 479.4,1794.3 480.5,1796.3 481.6,1794.9 482.8,1796.1 483.9,1796.9 485.0,1795.5 486.1,1795.5 487.2,1796.8 488.4,1796.6 489.5,1796.5 490.6,1794.8 491.7,1795.2 492.8,1795.5 494.0,1795.2 495.1,1796.2 496.2,1795.2 497.3,1796.3 498.5,1797.0 499.6,1796.4 500.7,1795.5 501.8,1795.6 502.9,1794.7 504.1,1797.4 505.2,1795.9 506.3,1795.3 507.4,1796.6 508.5,1795.5 509.7,1796.1 510.8,1796.8 511.9,1794.6 513.0,1797.1 514.2,1794.7 515.3,1796.1 516.4,1796.6 517.5,1796.6 518.6,1796.4 519.8,1796.5 520.9,1795.4 522.0,1797.5 523.1,1794.5 524.2,1794.9 525.4,1794.3 526.5,1796.7 527.6,1798.0 528.7,1796.3 529.9,1795.9 531.0,1795.4 532.1,1796.2 533.2,1795.8 534.3,1795.5 535.5,1797.2 536.6,1793.9 537.7,1796.8 538.8,1795.4 539.9,1794.6 541.1,1796.5 542.2,1795.7 543.3,1794.1 544.4,1796.0 545.6,1794.7 546.7,1795.4 547.8,1795.5 548.9,1795.0 550.0,1795.9 551.2,1795.9 552.3,1794.7 553.4,1795.4 554.5,1795.2 555.6,1796.9 556.8,1795.7 557.9,1794.5 559.0,1794.8 560.1,1795.4 561.3,1796.2 562.4,1796.3 563.5,1795.3 564.6,1794.3 565.7,1795.6 566.9,1794.4 568.0,1796.0 569.1,1794.5 570.2,1796.7 571.3,1795.5 572.5,1796.7 573.6,1795.0 574.7,1795.1 575.8,1796.6 577.0,1796.4 578.1,1796.1 579.2,1797.2 580.3,1796.6 581.4,1796.5 582.6,1794.9 583.7,1794.3 584.8,1796.1 585.9,1796.0 587.1,1795.5 588.2,1796.2 589.3,1796.0 590.4,1794.9 591.5,1795.5 592.7,1795.8 593.8,1796.3 594.9,1794.2 596.0,1796.3 597.1,1795.6 598.3,1796.7 599.4,1796.3 600.5,1795.6 601.6,1796.1 602.8,1795.2 603.9,1795.6 605.0,1797.1 606.1,1798.0 607.2,1794.7 608.4,1796.3 609.5,1794.2 610.6,1795.7 611.7,1796.4 612.8,1795.1 614.0,1796.0 615.1,1795.7 616.2,1796.6 617.3,1795.1 618.5,1794.6 619.6,1796.2 620.7,1793.9 621.8,1796.3 622.9,1795.4 624.1,1797.3 625.2,1797.6 626.3,1793.6 627.4,1794.3 628.5,1794.6 629.7,1797.4 630.8,1795.5 631.9,1795.3 633.0,1795.6 634.2,1795.4 635.3,1796.6 636.4,1795.9 637.5,1796.8 638.6,1796.0 639.8,1795.3 640.9,1796.5 642.0,1796.0 643.1,1796.1 644.2,1795.7 645.4,1794.8 646.5,1795.5 647.6,1795.3 648.7,1797.1 649.9,1796.1 651.0,1794.9 652.1,1796.5 653.2,1796.1 654.3,1796.6 655.5,1794.4 656.6,1796.1 657.7,1796.4 658.8,1795.1 659.9,1794.6 661.1,1795.2 662.2,1794.7 663.3,1795.5 664.4,1795.8 665.6,1796.1 666.7,1796.2 667.8,1796.3 668.9,1795.3 670.0,1795.8 671.2,1795.6 672.3,1795.1 673.4,1795.8 674.5,1797.0 675.6,1796.5 676.8,1796.8 677.9,1797.6 679.0,1795.6 680.1,1796.9 681.3,1797.0 682.4,1796.8 683.5,1794.8 684.6,1796.0 685.7,1794.7 686.9,1795.8 688.0,1796.1 689.1,1795.1 690.2,1795.1 691.3,1795.6 692.5,1796.7 693.6,1796.1 694.7,1796.9 695.8,1796.0 697.0,1795.6 698.1,1794.2 699.2,1794.3 700.3,1795.0 701.4,1794.8 702.6,1795.5 703.7,1793.0 704.8,1794.2 705.9,1793.1 707.1,1795.3 708.2,1795.3 709.3,1794.7 710.4,1795.5 711.5,1795.4 712.7,1796.7 713.8,1794.8 714.9,1795.4 716.0,1794.1 717.1,1796.1 718.3,1799.2 719.4,1794.7 720.5,1793.4 721.6,1798.2 722.8,1797.6 723.9,1796.3 725.0,1796.2 726.1,1799.1 727.2,1792.3 728.4,1793.8 729.5,1797.0 730.6,1799.4 731.7,1795.1 732.8,1791.9 734.0,1794.2 735.1,1793.6 736.2,1797.7 737.3,1795.5 738.5,1798.9 739.6,1792.1 740.7,1795.0 741.8,1800.3 742.9,1799.9 744.1,1795.4 745.2,1796.2 746.3,1797.2 747.4,1795.4 748.5,1792.8 749.7,1796.1 750.8,1800.5 751.9,1797.3 753.0,1799.6 754.2,1798.7 755.3,1796.6 756.4,1797.6 757.5,1799.5 758.6,1797.5 759.8,1799.2 760.9,1796.6 762.0,1798.2 763.1,1797.0 764.2,1798.4 765.4,1796.5 766.5,1798.3 767.6,1798.1 768.7,1799.3 769.9,1798.0 771.0,1801.9 772.1,1793.2 773.2,1799.9 774.3,1798.4 775.5,1799.6 776.6,1799.7 777.7,1798.0 778.8,1799.9 779.9,1799.8 781.1,1801.8 782.2,1801.0 783.3,1801.5 784.4,1795.7 785.6,1802.0 786.7,1801.6 787.8,1799.2 788.9,1796.8 790.0,1803.0 791.2,1802.8 792.3,1799.6 793.4,1799.3 794.5,1802.8 795.6,1803.7 796.8,1802.1 797.9,1798.8 799.0,1800.5 800.1,1799.0 801.3,1800.8 802.4,1800.7 803.5,1799.5 804.6,1801.0 805.7,1800.4 806.9,1802.7 808.0,1802.2 809.1,1800.2 810.2,1801.6 811.4,1802.7 812.5,1800.0 813.6,1800.3 814.7,1801.5 815.8,1803.1 817.0,1799.9 818.1,1796.9 819.2,1803.6 820.3,1805.2 821.4,1803.8 822.6,1804.3 823.7,1805.2 824.8,1805.2 825.9,1801.4 827.1,1801.6 828.2,1800.6 829.3,1802.3 830.4,1805.0 831.5,1802.2 832.7,1805.9 833.8,1805.7 834.9,1807.7 836.0,1803.3 837.1,1804.1 838.3,1807.3 839.4,1807.4 840.5,1807.1 841.6,1807.2 842.8,1806.3 843.9,1808.3 845.0,1808.1 846.1,1812.4 847.2,1810.6 848.4,1814.2 849.5,1807.7 850.6,1809.0 851.7,1810.8 852.8,1810.5 854.0,1809.2 855.1,1811.7 856.2,1817.1 857.3,1814.6 858.5,1818.9 859.6,1815.7 860.7,1816.3 861.8,1813.4 862.9,1812.0 864.1,1814.1 865.2,1812.3 866.3,1810.6 867.4,1810.9 868.5,1810.3 869.7,1813.9 870.8,1809.2 871.9,1805.8 873.0,1805.5 874.2,1807.5 875.3,1803.7 876.4,1801.4 877.5,1802.5 878.6,1798.0 879.8,1799.9 880.0,1798.7 880.3,1798.1 880.6,1793.2 880.9,1798.0 881.2,1798.3 881.4,1795.5 881.7,1797.6 882.0,1796.1 882.3,1800.7 882.6,1795.4 882.8,1795.8 883.1,1798.1 883.4,1792.7 883.7,1795.7 884.0,1795.5 884.2,1797.6 884.5,1798.2 884.8,1796.0 885.1,1797.9 885.4,1793.8 885.6,1793.0 885.9,1795.9 886.2,1797.8 886.5,1795.3 886.8,1796.5 887.1,1794.0 887.3,1794.0 887.6,1795.1 887.9,1794.0 888.2,1792.1 888.5,1790.7 888.7,1795.1 889.0,1792.6 889.3,1794.4 889.6,1796.0 889.9,1791.3 890.1,1793.0 890.4,1793.5 890.7,1793.0 891.0,1794.0 891.3,1795.7 891.5,1790.1 891.8,1791.7 892.1,1792.9 892.4,1791.5 892.7,1790.8 892.9,1793.8 893.2,1792.2 893.5,1794.0 893.8,1792.1 894.1,1793.9 894.3,1788.6 894.6,1794.1 894.9,1792.3 895.2,1792.4 895.5,1794.0 895.7,1791.5 896.0,1793.5 896.3,1794.1 896.6,1793.3 896.9,1794.8 897.1,1791.0 897.4,1792.1 897.7,1791.4 898.0,1796.0 898.3,1792.8 898.5,1794.9 898.8,1793.2 899.1,1790.9 899.4,1792.9 899.7,1793.8 899.9,1791.2 900.2,1791.5 900.5,1789.9 900.8,1797.3 901.1,1793.0 901.4,1794.6 901.6,1795.5 901.9,1793.6 902.2,1796.1 902.5,1798.2 902.8,1795.6 903.0,1794.3 903.3,1790.1 903.6,1795.2 903.9,1796.1 904.2,1797.6 904.4,1794.4 904.7,1794.2 905.0,1793.4 905.3,1796.6 905.6,1795.2 905.8,1798.2 906.1,1793.3 906.4,1796.8 906.7,1799.1 907.0,1791.3 907.2,1792.6 907.5,1792.9 907.8,1792.9 908.1,1795.6 908.4,1791.6 908.6,1796.3 908.9,1790.9 909.2,1794.7 909.5,1799.3 909.8,1794.4 910.0,1792.7 910.3,1797.5 910.6,1795.4 910.9,1798.4 911.2,1799.7 911.4,1804.0 911.7,1796.8 912.0,1800.1 912.3,1798.4 912.6,1801.4 912.8,1800.9 913.1,1796.9 913.4,1799.9 913.7,1799.9 914.0,1801.6 914.2,1798.7 914.5,1797.6 914.8,1800.0 915.1,1799.4 915.4,1801.5 915.6,1796.3 915.9,1800.2 916.2,1799.2 916.5,1795.6 916.8,1799.3 917.1,1801.8 917.3,1800.5 917.6,1799.3 917.9,1795.1 918.2,1798.1 918.5,1798.5 918.7,1795.2 919.0,1793.1 919.3,1796.0 919.6,1790.6 919.9,1790.7 920.1,1790.4 920.4,1796.0 920.7,1790.9 921.0,1788.5 921.3,1791.7 921.5,1786.8 921.8,1792.2 922.1,1795.4 922.4,1793.2 922.7,1795.0 922.9,1795.2 923.2,1798.5 923.5,1795.5 923.8,1798.9 924.1,1797.3 924.3,1799.8 924.6,1798.3 924.9,1795.6 925.2,1796.7 925.5,1795.6 925.7,1794.4 926.0,1793.0 926.3,1791.4 926.6,1790.9 926.9,1789.8 927.1,1791.4 927.4,1792.8 927.7,1794.9 928.0,1792.4 928.3,1793.2 928.5,1795.2 928.8,1788.3 929.1,1795.2 929.4,1790.7 929.7,1790.3 929.9,1791.8 930.2,1786.1 930.5,1791.1 930.8,1792.6 931.1,1787.5 931.4,1792.5 931.6,1793.6 931.9,1792.6 932.2,1791.8 932.5,1790.3 932.8,1789.6 933.0,1793.1 933.3,1789.3 933.6,1785.5 933.9,1791.2 934.2,1790.0 934.4,1788.2 934.7,1787.1 935.0,1790.7 935.3,1791.1 935.6,1791.1 935.8,1786.7 936.1,1787.0 936.4,1792.9 936.7,1792.7 937.0,1790.8 937.2,1791.1 937.5,1787.0 937.8,1787.1 938.1,1783.3 938.4,1785.3 938.6,1786.3 938.9,1783.9 939.2,1787.7 939.5,1788.7 939.8,1785.8 940.0,1783.9 940.3,1788.9 940.6,1783.8 940.9,1783.8 941.2,1786.5 941.4,1785.0 941.7,1786.0 942.0,1785.3 942.3,1783.8 942.6,1787.1 942.8,1783.4 943.1,1783.8 943.4,1783.7 943.7,1789.5 944.0,1789.1 944.2,1783.7 944.5,1786.1 944.8,1786.0 945.9,1785.2 947.1,1785.4 948.2,1782.2 949.3,1781.9 950.4,1780.5 951.5,1776.8 952.7,1778.6 953.8,1772.3 954.9,1777.2 956.0,1765.9 957.1,1771.6 958.3,1765.4 959.4,1762.4 960.5,1761.7 961.6,1757.6 962.8,1756.7 963.9,1757.3 965.0,1750.2 966.1,1745.8 967.2,1746.6 968.4,1746.6 969.5,1742.1 970.6,1738.3 971.7,1736.6 972.8,1733.7 974.0,1733.6 975.1,1733.0 976.2,1737.7 977.3,1729.2 978.5,1734.1 979.6,1733.4 980.7,1737.0 981.8,1738.2 982.9,1739.7 984.1,1738.8 985.2,1741.5 986.3,1746.1 987.4,1746.2 988.5,1753.9 989.7,1755.2 990.8,1760.2 991.9,1759.5 993.0,1764.6 994.2,1765.3 995.3,1766.2 996.4,1776.1 997.5,1769.7 998.6,1775.2 999.8,1778.1 1000.9,1782.7 1002.0,1780.8 1003.1,1786.1 1004.2,1782.3 1005.4,1783.7 1006.5,1780.5 1007.6,1785.6 1008.7,1783.4 1009.9,1783.8 1011.0,1782.4 1012.1,1787.5 1013.2,1785.7 1014.3,1790.6 1015.5,1790.0 1016.6,1788.6 1017.7,1788.3 1018.8,1790.9 1019.9,1789.4 1021.1,1787.3 1022.2,1789.8 1023.3,1789.3 1024.4,1790.9 1025.6,1786.4 1026.7,1785.7 1027.8,1789.0 1028.9,1789.7 1030.0,1786.2 1031.2,1788.7 1032.3,1791.1 1033.4,1792.6 1034.5,1791.2 1035.7,1785.6 1036.8,1791.4 1037.9,1784.5 1039.0,1790.4 1040.1,1791.0 1041.3,1788.0 1042.4,1791.2 1043.5,1790.1 1044.6,1793.0 1045.7,1793.5 1046.9,1792.6 1048.0,1790.7 1049.1,1792.6 1050.2,1795.2 1051.4,1790.3 1052.5,1791.7 1053.6,1791.9 1054.7,1792.6 1055.8,1796.0 1057.0,1788.2 1058.1,1792.4 1059.2,1790.3 1060.3,1788.6 1061.4,1789.1 1062.6,1791.0 1063.7,1791.4 1064.8,1790.8 1065.9,1789.5 1067.1,1790.2 1068.2,1792.3 1069.3,1790.4 1070.4,1790.6 1071.5,1789.9 1072.7,1790.9 1073.8,1788.5 1074.9,1790.9 1076.0,1789.5 1077.1,1791.2 1078.3,1792.4 1079.4,1793.2 1080.5,1791.5 1081.6,1790.1 1082.8,1788.6 1083.9,1791.4 1085.0,1792.2 1086.1,1792.2 1087.2,1788.5 1088.4,1790.9 1089.5,1792.1 1090.6,1789.6 1091.7,1793.8 1092.8,1790.9 1094.0,1791.2 1095.1,1791.4 1096.2,1793.4 1097.3,1789.1 1098.5,1787.7 1099.6,1793.7 1100.7,1790.8 1101.8,1789.7 1102.9,1786.5 1104.1,1791.9 1105.2,1792.9 1106.3,1791.0 1107.4,1786.9 1108.5,1790.8 1109.7,1790.4 1110.8,1787.4 1111.9,1795.3 1113.0,1795.3 1114.2,1789.1 1115.3,1789.4 1116.4,1793.7 1117.5,1789.9 1118.6,1790.8 1119.8,1790.5 1120.9,1792.5 1122.0,1791.8 1123.1,1792.7 1124.2,1790.8 1125.4,1791.3 1126.5,1787.5 1127.6,1789.6 1128.7,1794.0 1129.9,1790.0 1131.0,1787.9 1132.1,1790.3 1133.2,1788.6 1134.3,1790.9 1135.5,1789.4 1136.6,1792.7 1137.7,1789.2 1138.8,1793.6 1139.9,1788.2" fill="none" stroke="#0000d2" stroke-width="7.5" stroke-linejoin="round" stroke-linecap="round" />
<polyline points="202.4,1809.6 203.5,1813.9 204.6,1814.4 205.7,1817.7 206.9,1819.2 208.0,1820.0 209.1,1820.9 210.2,1821.8 211.3,1820.3 212.5,1819.4 213.6,1818.2 214.7,1815.4 215.8,1816.6 217.0,1813.9 218.1,1811.2 219.2,1810.0 220.3,1808.4 221.4,1805.3 222.6,1801.3 223.7,1800.1 224.8,1796.3 225.9,1794.6 227.0,1790.3 228.2,1788.2 229.3,1785.3 230.4,1781.3 231.5,1778.3 232.7,1774.0 233.8,1774.4 234.9,1769.4 236.0,1765.2 237.1,1762.4 238.3,1761.3 239.4,1758.9 240.5,1756.5 241.6,1754.0 242.8,1753.1 243.9,1752.4 245.0,1751.6 246.1,1752.7 247.2,1752.2 248.4,1751.7 249.5,1751.3 250.6,1750.2 251.7,1750.7 252.8,1749.9 254.0,1753.2 255.1,1754.6 256.2,1753.0 257.3,1754.2 258.5,1751.5 259.6,1748.7 260.7,1746.5 261.8,1744.2 262.9,1742.1 264.1,1740.2 265.2,1736.3 266.3,1734.1 267.4,1729.9 268.5,1727.7 269.7,1723.7 270.8,1722.6 271.9,1716.7 273.0,1715.5 274.2,1713.3 275.3,1710.3 276.4,1706.6 277.5,1701.9 278.6,1699.1 279.8,1697.8 280.9,1693.1 282.0,1690.0 283.1,1688.2 284.2,1684.7 285.4,1683.1 286.5,1679.7 287.6,1679.8 288.7,1676.4 289.9,1675.3 291.0,1674.2 292.1,1673.4 293.2,1670.6 294.3,1671.4 295.5,1670.2 296.6,1669.1 297.7,1668.4 298.8,1668.3 299.9,1669.2 301.1,1669.6 302.2,1669.2 303.3,1668.7 304.4,1668.0 305.6,1667.7 306.7,1665.8 307.8,1666.1 308.9,1663.1 310.0,1662.6 311.2,1662.3 312.3,1658.4 313.4,1659.1 314.5,1651.3 315.6,1648.7 316.8,1644.9 317.9,1643.2 319.0,1635.4 320.1,1634.7 321.3,1631.0 322.4,1626.1 323.5,1623.8 324.6,1621.0 325.7,1616.2 326.9,1615.2 328.0,1611.1 329.1,1609.7 330.2,1606.8 331.3,1607.5 332.5,1603.6 333.6,1603.8 334.7,1601.7 335.8,1604.2 337.0,1601.7 338.1,1603.1 339.2,1603.7 340.3,1606.4 341.4,1607.0 342.6,1609.6 343.7,1614.2 344.8,1618.0 345.9,1621.3 347.0,1622.9 348.2,1628.7 349.3,1632.9 350.4,1638.9 351.5,1644.7 352.7,1650.4 353.8,1657.7 354.9,1663.8 356.0,1673.1 357.1,1681.6 358.3,1691.8 359.4,1698.1 360.5,1706.9 361.6,1714.5 362.8,1720.7 363.9,1730.4 365.0,1736.7 366.1,1742.6 367.2,1748.3 368.4,1756.0 369.5,1760.8 370.6,1766.0 371.7,1772.1 372.8,1777.0 374.0,1780.2 375.1,1780.7 376.2,1784.0 377.3,1787.9 378.5,1789.1 379.6,1790.3 380.7,1791.2 381.8,1791.7 382.9,1790.3 384.1,1793.9 385.2,1793.6 386.3,1794.9 387.4,1795.1 388.5,1795.5 389.7,1794.9 390.8,1795.3 391.9,1794.5 393.0,1794.7 394.2,1795.9 395.3,1793.1 396.4,1796.2 397.5,1794.8 398.6,1793.0 399.8,1795.9 400.9,1793.9 402.0,1793.9 403.1,1795.0 404.2,1797.2 405.4,1794.0 406.5,1795.3 407.6,1796.0 408.7,1794.2 409.9,1796.2 411.0,1794.5 412.1,1796.1 413.2,1795.0 414.3,1796.7 415.5,1796.0 416.6,1796.5 417.7,1796.3 418.8,1795.4 419.9,1795.8 421.1,1795.4 422.2,1794.3 423.3,1795.7 424.4,1797.5 425.6,1795.9 426.7,1795.5 427.8,1794.6 428.9,1794.6 430.0,1794.7 431.2,1795.8 432.3,1795.0 433.4,1797.1 434.5,1794.3 435.6,1795.2 436.8,1795.1 437.9,1796.0 439.0,1795.6 440.1,1796.3 441.3,1795.0 442.4,1797.0 443.5,1794.6 444.6,1795.1 445.7,1793.6 446.9,1795.7 448.0,1795.7 449.1,1795.4 450.2,1795.6 451.3,1795.7 452.5,1796.7 453.6,1796.7 454.7,1796.2 455.8,1795.9 457.0,1796.8 458.1,1796.8 459.2,1795.9 460.3,1794.9 461.4,1795.8 462.6,1794.9 463.7,1794.6 464.8,1794.8 465.9,1796.0 467.0,1796.0 468.2,1797.5 469.3,1796.3 470.4,1795.1 471.5,1796.7 472.7,1794.2 473.8,1794.2 474.9,1796.0 476.0,1794.7 477.1,1797.0 478.3,1796.7 479.4,1796.0 480.5,1795.6 481.6,1795.8 482.8,1796.5 483.9,1793.6 485.0,1795.3 486.1,1795.3 487.2,1794.9 488.4,1795.4 489.5,1795.8 490.6,1796.2 491.7,1797.3 492.8,1794.1 494.0,1796.5 495.1,1797.3 496.2,1796.4 497.3,1797.2 498.5,1793.6 499.6,1795.2 500.7,1794.2 501.8,1794.1 502.9,1795.0 504.1,1795.0 505.2,1796.3 506.3,1795.7 507.4,1796.2 508.5,1795.6 509.7,1796.3 510.8,1794.3 511.9,1794.8 513.0,1795.7 514.2,1797.3 515.3,1794.9 516.4,1794.7 517.5,1795.7 518.6,1796.9 519.8,1795.2 520.9,1794.6 522.0,1797.5 523.1,1795.0 524.2,1797.4 525.4,1795.5 526.5,1793.9 527.6,1795.5 528.7,1795.1 529.9,1795.9 531.0,1795.6 532.1,1793.2 533.2,1794.3 534.3,1795.9 535.5,1796.0 536.6,1795.6 537.7,1793.4 538.8,1795.4 539.9,1794.5 541.1,1796.0 542.2,1796.9 543.3,1794.3 544.4,1795.7 545.6,1796.4 546.7,1796.3 547.8,1796.3 548.9,1796.2 550.0,1797.2 551.2,1794.4 552.3,1795.2 553.4,1794.6 554.5,1796.0 555.6,1795.3 556.8,1795.4 557.9,1794.4 559.0,1794.8 560.1,1795.3 561.3,1796.3 562.4,1796.8 563.5,1796.4 564.6,1796.2 565.7,1796.2 566.9,1796.9 568.0,1793.9 569.1,1795.3 570.2,1797.6 571.3,1796.7 572.5,1797.0 573.6,1795.4 574.7,1794.5 575.8,1796.6 577.0,1795.0 578.1,1795.9 579.2,1794.5 580.3,1794.2 581.4,1795.3 582.6,1794.9 583.7,1795.6 584.8,1796.0 585.9,1796.8 587.1,1795.3 588.2,1795.7 589.3,1796.0 590.4,1795.7 591.5,1795.8 592.7,1796.7 593.8,1796.1 594.9,1794.5 596.0,1795.8 597.1,1794.2 598.3,1796.8 599.4,1797.0 600.5,1795.5 601.6,1794.8 602.8,1796.3 603.9,1795.0 605.0,1794.7 606.1,1794.5 607.2,1795.7 608.4,1795.7 609.5,1797.3 610.6,1795.6 611.7,1795.3 612.8,1794.2 614.0,1796.9 615.1,1796.5 616.2,1796.6 617.3,1794.7 618.5,1798.1 619.6,1796.7 620.7,1793.6 621.8,1795.0 622.9,1796.9 624.1,1795.7 625.2,1794.8 626.3,1795.1 627.4,1795.8 628.5,1796.4 629.7,1794.8 630.8,1795.6 631.9,1794.8 633.0,1795.2 634.2,1796.1 635.3,1794.2 636.4,1796.1 637.5,1795.2 638.6,1796.2 639.8,1795.8 640.9,1795.9 642.0,1796.3 643.1,1795.4 644.2,1794.3 645.4,1793.8 646.5,1794.2 647.6,1795.8 648.7,1794.2 649.9,1795.2 651.0,1793.8 652.1,1796.9 653.2,1794.1 654.3,1796.2 655.5,1794.5 656.6,1796.1 657.7,1794.7 658.8,1795.9 659.9,1797.5 661.1,1796.6 662.2,1795.9 663.3,1795.6 664.4,1797.8 665.6,1796.8 666.7,1796.3 667.8,1795.8 668.9,1795.4 670.0,1796.4 671.2,1797.1 672.3,1795.3 673.4,1795.9 674.5,1794.7 675.6,1796.1 676.8,1795.0 677.9,1796.5 679.0,1795.3 680.1,1795.5 681.3,1795.2 682.4,1796.5 683.5,1795.7 684.6,1796.5 685.7,1795.8 686.9,1795.0 688.0,1792.6 689.1,1795.6 690.2,1794.9 691.3,1795.5 692.5,1794.5 693.6,1795.2 694.7,1794.6 695.8,1795.3 697.0,1793.2 698.1,1794.2 699.2,1797.3 700.3,1795.3 701.4,1795.5 702.6,1797.8 703.7,1796.5 704.8,1796.1 705.9,1796.3 707.1,1795.5 708.2,1797.4 709.3,1794.9 710.4,1794.8 711.5,1795.3 712.7,1795.9 713.8,1795.6 714.9,1796.5 716.0,1793.3 717.1,1794.6 718.3,1791.7 719.4,1796.4 720.5,1792.8 721.6,1796.8 722.8,1796.0 723.9,1797.8 725.0,1794.7 726.1,1795.9 727.2,1794.6 728.4,1792.9 729.5,1796.0 730.6,1795.1 731.7,1794.1 732.8,1796.1 734.0,1797.1 735.1,1795.3 736.2,1795.1 737.3,1794.6 738.5,1794.6 739.6,1797.8 740.7,1795.7 741.8,1794.4 742.9,1798.0 744.1,1796.6 745.2,1798.8 746.3,1797.5 747.4,1794.6 748.5,1798.0 749.7,1800.4 750.8,1798.0 751.9,1798.5 753.0,1796.9 754.2,1802.1 755.3,1801.4 756.4,1799.9 757.5,1803.1 758.6,1798.0 759.8,1804.4 760.9,1802.3 762.0,1803.8 763.1,1802.4 764.2,1799.7 765.4,1800.3 766.5,1799.9 767.6,1800.7 768.7,1806.2 769.9,1801.7 771.0,1806.2 772.1,1803.7 773.2,1803.7 774.3,1804.2 775.5,1802.4 776.6,1805.2 777.7,1800.3 778.8,1802.8 779.9,1801.8 781.1,1802.9 782.2,1802.8 783.3,1804.9 784.4,1801.1 785.6,1807.3 786.7,1804.5 787.8,1805.6 788.9,1806.3 790.0,1805.4 791.2,1807.7 792.3,1804.8 793.4,1805.2 794.5,1806.8 795.6,1805.7 796.8,1809.5 797.9,1811.2 799.0,1809.0 800.1,1808.6 801.3,1803.4 802.4,1809.0 803.5,1806.7 804.6,1807.3 805.7,1805.0 806.9,1809.1 808.0,1808.2 809.1,1810.0 810.2,1811.5 811.4,1812.0 812.5,1811.8 813.6,1807.6 814.7,1810.1 815.8,1811.3 817.0,1811.3 818.1,1812.8 819.2,1812.1 820.3,1812.5 821.4,1811.6 822.6,1811.5 823.7,1817.0 824.8,1813.9 825.9,1812.1 827.1,1817.4 828.2,1816.6 829.3,1816.4 830.4,1815.4 831.5,1817.2 832.7,1819.6 833.8,1819.1 834.9,1818.9 836.0,1821.0 837.1,1819.0 838.3,1822.8 839.4,1826.7 840.5,1827.2 841.6,1827.0 842.8,1828.2 843.9,1827.7 845.0,1829.5 846.1,1828.2 847.2,1831.5 848.4,1831.8 849.5,1837.8 850.6,1838.5 851.7,1837.6 852.8,1839.9 854.0,1840.1 855.1,1841.9 856.2,1844.6 857.3,1840.7 858.5,1842.0 859.6,1847.0 860.7,1844.3 861.8,1841.8 862.9,1839.1 864.1,1839.1 865.2,1840.3 866.3,1834.5 867.4,1835.0 868.5,1830.5 869.7,1830.3 870.8,1826.7 871.9,1824.4 873.0,1820.8 874.2,1819.7 875.3,1813.0 876.4,1811.3 877.5,1810.7 878.6,1805.8 879.8,1803.0 880.0,1800.8 880.3,1799.8 880.6,1802.7 880.9,1798.5 881.2,1799.4 881.4,1800.8 881.7,1796.5 882.0,1799.1 882.3,1799.3 882.6,1794.9 882.8,1794.0 883.1,1796.6 883.4,1792.8 883.7,1792.6 884.0,1795.3 884.2,1790.2 884.5,1794.1 884.8,1793.4 885.1,1798.4 885.4,1792.3 885.6,1794.6 885.9,1792.4 886.2,1796.5 886.5,1790.7 886.8,1790.0 887.1,1789.0 887.3,1798.4 887.6,1791.3 887.9,1791.7 888.2,1798.2 888.5,1793.6 888.7,1792.2 889.0,1789.2 889.3,1793.5 889.6,1791.4 889.9,1791.8 890.1,1790.9 890.4,1792.3 890.7,1789.6 891.0,1789.4 891.3,1793.9 891.5,1788.9 891.8,1792.5 892.1,1791.4 892.4,1788.6 892.7,1790.5 892.9,1789.6 893.2,1789.2 893.5,1789.5 893.8,1791.7 894.1,1792.5 894.3,1789.3 894.6,1789.2 894.9,1789.9 895.2,1791.0 895.5,1788.9 895.7,1790.7 896.0,1793.3 896.3,1790.0 896.6,1789.6 896.9,1789.1 897.1,1792.4 897.4,1792.1 897.7,1790.0 898.0,1791.6 898.3,1790.8 898.5,1788.9 898.8,1790.0 899.1,1787.2 899.4,1790.2 899.7,1787.4 899.9,1788.7 900.2,1785.9 900.5,1791.0 900.8,1791.3 901.1,1788.7 901.4,1792.4 901.6,1792.5 901.9,1791.1 902.2,1790.8 902.5,1794.3 902.8,1791.0 903.0,1792.1 903.3,1791.5 903.6,1791.1 903.9,1791.8 904.2,1789.3 904.4,1790.5 904.7,1791.8 905.0,1791.2 905.3,1789.3 905.6,1789.8 905.8,1788.8 906.1,1791.6 906.4,1791.0 906.7,1787.3 907.0,1791.3 907.2,1787.9 907.5,1789.5 907.8,1792.0 908.1,1793.9 908.4,1790.3 908.6,1793.8 908.9,1794.8 909.2,1797.7 909.5,1793.0 909.8,1796.0 910.0,1797.1 910.3,1797.3 910.6,1798.6 910.9,1799.8 911.2,1799.9 911.4,1802.4 911.7,1807.5 912.0,1801.0 912.3,1801.6 912.6,1802.4 912.8,1799.3 913.1,1805.1 913.4,1808.1 913.7,1799.5 914.0,1801.5 914.2,1805.6 914.5,1803.1 914.8,1801.1 915.1,1804.7 915.4,1801.2 915.6,1798.1 915.9,1799.5 916.2,1802.1 916.5,1801.3 916.8,1803.7 917.1,1801.5 917.3,1802.3 917.6,1803.5 917.9,1804.0 918.2,1797.5 918.5,1800.1 918.7,1800.0 919.0,1796.4 919.3,1790.4 919.6,1788.0 919.9,1790.3 920.1,1786.6 920.4,1785.2 920.7,1787.5 921.0,1789.1 921.3,1788.7 921.5,1787.1 921.8,1790.7 922.1,1793.8 922.4,1793.8 922.7,1793.9 922.9,1796.8 923.2,1801.0 923.5,1796.9 923.8,1801.7 924.1,1799.9 924.3,1801.9 924.6,1796.6 924.9,1797.0 925.2,1798.7 925.5,1795.7 925.7,1789.2 926.0,1790.3 926.3,1790.4 926.6,1787.9 926.9,1791.6 927.1,1790.0 927.4,1791.0 927.7,1789.9 928.0,1789.0 928.3,1787.2 928.5,1786.2 928.8,1786.2 929.1,1782.8 929.4,1788.9 929.7,1787.9 929.9,1786.8 930.2,1789.2 930.5,1788.0 930.8,1786.5 931.1,1788.8 931.4,1786.0 931.6,1784.3 931.9,1788.6 932.2,1790.7 932.5,1785.8 932.8,1787.7 933.0,1785.1 933.3,1786.1 933.6,1784.4 933.9,1782.6 934.2,1783.1 934.4,1785.2 934.7,1786.6 935.0,1788.8 935.3,1787.9 935.6,1784.9 935.8,1782.9 936.1,1784.1 936.4,1783.7 936.7,1785.3 937.0,1785.1 937.2,1784.9 937.5,1779.7 937.8,1784.2 938.1,1778.4 938.4,1780.9 938.6,1777.4 938.9,1777.4 939.2,1775.7 939.5,1774.7 939.8,1778.5 940.0,1778.7 940.3,1777.5 940.6,1778.0 940.9,1775.1 941.2,1776.4 941.4,1776.0 941.7,1775.3 942.0,1777.1 942.3,1774.1 942.6,1779.9 942.8,1775.9 943.1,1775.4 943.4,1777.9 943.7,1777.8 944.0,1774.3 944.2,1776.2 944.5,1778.9 944.8,1777.4 945.9,1770.9 947.1,1772.6 948.2,1766.2 949.3,1763.7 950.4,1764.1 951.5,1759.5 952.7,1758.8 953.8,1754.1 954.9,1750.6 956.0,1743.6 957.1,1742.3 958.3,1734.4 959.4,1727.7 960.5,1720.2 961.6,1718.4 962.8,1710.8 963.9,1701.5 965.0,1692.1 966.1,1683.3 967.2,1675.7 968.4,1665.2 969.5,1661.2 970.6,1655.2 971.7,1652.2 972.8,1645.4 974.0,1641.9 975.1,1639.4 976.2,1639.3 977.3,1637.2 978.5,1636.6 979.6,1643.3 980.7,1649.0 981.8,1647.2 982.9,1652.3 984.1,1660.1 985.2,1667.6 986.3,1669.2 987.4,1683.4 988.5,1693.0 989.7,1700.1 990.8,1706.7 991.9,1716.6 993.0,1723.2 994.2,1728.8 995.3,1736.8 996.4,1741.8 997.5,1747.6 998.6,1754.1 999.8,1755.9 1000.9,1762.0 1002.0,1761.2 1003.1,1767.8 1004.2,1769.0 1005.4,1774.2 1006.5,1773.3 1007.6,1776.6 1008.7,1772.7 1009.9,1777.2 1011.0,1777.0 1012.1,1782.2 1013.2,1781.9 1014.3,1780.4 1015.5,1783.2 1016.6,1778.8 1017.7,1782.3 1018.8,1781.6 1019.9,1781.7 1021.1,1782.9 1022.2,1781.4 1023.3,1784.5 1024.4,1782.7 1025.6,1781.3 1026.7,1783.5 1027.8,1783.9 1028.9,1785.0 1030.0,1784.5 1031.2,1783.6 1032.3,1785.6 1033.4,1788.7 1034.5,1785.4 1035.7,1786.2 1036.8,1785.3 1037.9,1786.4 1039.0,1783.7 1040.1,1789.3 1041.3,1789.1 1042.4,1786.2 1043.5,1789.7 1044.6,1787.2 1045.7,1788.1 1046.9,1792.0 1048.0,1787.0 1049.1,1785.8 1050.2,1788.1 1051.4,1791.3 1052.5,1787.1 1053.6,1790.7 1054.7,1789.0 1055.8,1788.0 1057.0,1790.3 1058.1,1792.0 1059.2,1789.0 1060.3,1788.8 1061.4,1790.4 1062.6,1790.3 1063.7,1787.3 1064.8,1788.9 1065.9,1789.6 1067.1,1789.9 1068.2,1788.4 1069.3,1788.5 1070.4,1789.0 1071.5,1791.3 1072.7,1789.4 1073.8,1789.8 1074.9,1788.5 1076.0,1786.4 1077.1,1786.7 1078.3,1787.3 1079.4,1788.3 1080.5,1789.1 1081.6,1787.8 1082.8,1789.4 1083.9,1789.1 1085.0,1790.1 1086.1,1788.5 1087.2,1788.5 1088.4,1784.8 1089.5,1787.3 1090.6,1789.1 1091.7,1786.8 1092.8,1789.2 1094.0,1786.4 1095.1,1786.8 1096.2,1782.7 1097.3,1790.3 1098.5,1788.4 1099.6,1788.5 1100.7,1787.6 1101.8,1786.8 1102.9,1790.1 1104.1,1789.6 1105.2,1787.6 1106.3,1786.3 1107.4,1790.3 1108.5,1791.1 1109.7,1785.9 1110.8,1786.5 1111.9,1786.0 1113.0,1789.9 1114.2,1788.4 1115.3,1787.6 1116.4,1787.2 1117.5,1788.3 1118.6,1788.1 1119.8,1786.1 1120.9,1788.8 1122.0,1789.0 1123.1,1788.8 1124.2,1788.9 1125.4,1787.7 1126.5,1788.3 1127.6,1788.8 1128.7,1785.2 1129.9,1787.3 1131.0,1788.5 1132.1,1785.5 1133.2,1788.9 1134.3,1787.8 1135.5,1788.0 1136.6,1788.9 1137.7,1788.5 1138.8,1787.6 1139.9,1790.5" fill="none" stroke="#0a5a1c" stroke-width="7.5" stroke-linejoin="round" stroke-linecap="round" />
<polyline points="202.4,1807.8 203.5,1811.1 204.6,1814.5 205.7,1817.3 206.9,1817.6 208.0,1820.6 209.1,1822.2 210.2,1822.7 211.3,1822.7 212.5,1821.8 213.6,1821.7 214.7,1818.9 215.8,1820.1 217.0,1816.9 218.1,1815.3 219.2,1814.9 220.3,1811.3 221.4,1809.4 222.6,1808.5 223.7,1803.4 224.8,1802.2 225.9,1800.4 227.0,1797.5 228.2,1794.8 229.3,1790.9 230.4,1788.3 231.5,1787.0 232.7,1783.9 233.8,1781.1 234.9,1778.2 236.0,1775.4 237.1,1772.9 238.3,1769.1 239.4,1766.4 240.5,1765.2 241.6,1765.8 242.8,1762.8 243.9,1761.4 245.0,1761.3 246.1,1760.2 247.2,1759.6 248.4,1760.3 249.5,1760.4 250.6,1757.1 251.7,1758.5 252.8,1758.2 254.0,1759.5 255.1,1759.5 256.2,1757.3 257.3,1758.2 258.5,1755.1 259.6,1753.6 260.7,1749.7 261.8,1746.2 262.9,1742.8 264.1,1739.9 265.2,1738.0 266.3,1733.1 267.4,1729.0 268.5,1725.0 269.7,1719.7 270.8,1717.0 271.9,1714.4 273.0,1710.2 274.2,1706.1 275.3,1701.9 276.4,1700.6 277.5,1695.3 278.6,1692.1 279.8,1690.0 280.9,1685.1 282.0,1682.8 283.1,1678.7 284.2,1675.9 285.4,1672.8 286.5,1671.8 287.6,1668.3 288.7,1669.2 289.9,1666.3 291.0,1665.4 292.1,1662.5 293.2,1662.8 294.3,1663.1 295.5,1662.9 296.6,1661.5 297.7,1661.7 298.8,1658.9 299.9,1663.5 301.1,1660.9 302.2,1663.4 303.3,1660.2 304.4,1661.8 305.6,1659.2 306.7,1660.4 307.8,1657.9 308.9,1657.4 310.0,1655.0 311.2,1654.1 312.3,1654.3 313.4,1649.2 314.5,1646.8 315.6,1641.0 316.8,1637.8 317.9,1634.7 319.0,1630.9 320.1,1627.8 321.3,1625.2 322.4,1619.5 323.5,1617.8 324.6,1615.0 325.7,1613.4 326.9,1610.4 328.0,1608.1 329.1,1606.8 330.2,1605.8 331.3,1604.3 332.5,1604.6 333.6,1603.5 334.7,1605.4 335.8,1605.4 337.0,1606.0 338.1,1605.6 339.2,1607.5 340.3,1609.9 341.4,1613.7 342.6,1616.3 343.7,1618.8 344.8,1622.4 345.9,1629.2 347.0,1632.7 348.2,1637.2 349.3,1642.4 350.4,1648.5 351.5,1653.8 352.7,1661.9 353.8,1665.9 354.9,1676.0 356.0,1683.1 357.1,1690.9 358.3,1698.5 359.4,1706.5 360.5,1713.9 361.6,1720.9 362.8,1729.5 363.9,1735.8 365.0,1741.8 366.1,1750.1 367.2,1756.5 368.4,1761.6 369.5,1764.3 370.6,1769.1 371.7,1774.7 372.8,1777.6 374.0,1780.4 375.1,1782.5 376.2,1787.7 377.3,1788.5 378.5,1789.9 379.6,1790.5 380.7,1791.6 381.8,1792.6 382.9,1792.7 384.1,1795.9 385.2,1791.1 386.3,1793.5 387.4,1793.7 388.5,1795.3 389.7,1794.4 390.8,1792.9 391.9,1793.2 393.0,1794.9 394.2,1796.1 395.3,1794.9 396.4,1795.4 397.5,1794.3 398.6,1796.4 399.8,1795.4 400.9,1795.0 402.0,1795.7 403.1,1794.3 404.2,1796.4 405.4,1796.5 406.5,1795.7 407.6,1794.6 408.7,1795.7 409.9,1796.0 411.0,1794.7 412.1,1795.3 413.2,1796.0 414.3,1795.4 415.5,1795.7 416.6,1794.9 417.7,1795.4 418.8,1796.3 419.9,1796.0 421.1,1795.9 422.2,1795.2 423.3,1795.2 424.4,1796.3 425.6,1795.7 426.7,1795.2 427.8,1794.5 428.9,1795.3 430.0,1793.7 431.2,1795.5 432.3,1794.8 433.4,1795.8 434.5,1796.5 435.6,1795.4 436.8,1795.1 437.9,1795.2 439.0,1795.4 440.1,1795.9 441.3,1796.3 442.4,1795.8 443.5,1795.1 444.6,1794.6 445.7,1798.6 446.9,1795.0 448.0,1794.5 449.1,1794.3 450.2,1795.2 451.3,1794.9 452.5,1796.0 453.6,1795.6 454.7,1795.0 455.8,1796.6 457.0,1796.3 458.1,1795.4 459.2,1796.8 460.3,1795.5 461.4,1796.9 462.6,1795.4 463.7,1795.5 464.8,1796.1 465.9,1796.4 467.0,1796.0 468.2,1797.7 469.3,1795.9 470.4,1795.4 471.5,1794.4 472.7,1796.0 473.8,1795.7 474.9,1794.2 476.0,1793.9 477.1,1796.0 478.3,1794.5 479.4,1794.4 480.5,1795.1 481.6,1796.5 482.8,1796.4 483.9,1795.0 485.0,1793.3 486.1,1795.7 487.2,1794.1 488.4,1793.7 489.5,1796.7 490.6,1796.1 491.7,1794.1 492.8,1794.6 494.0,1795.0 495.1,1795.5 496.2,1794.9 497.3,1796.1 498.5,1793.2 499.6,1796.6 500.7,1797.2 501.8,1795.4 502.9,1794.2 504.1,1796.0 505.2,1795.6 506.3,1796.5 507.4,1795.6 508.5,1796.5 509.7,1796.5 510.8,1796.9 511.9,1796.1 513.0,1793.8 514.2,1795.6 515.3,1795.4 516.4,1793.4 517.5,1796.1 518.6,1796.5 519.8,1795.0 520.9,1796.7 522.0,1795.2 523.1,1794.4 524.2,1796.6 525.4,1796.0 526.5,1793.9 527.6,1796.5 528.7,1796.2 529.9,1795.3 531.0,1795.8 532.1,1796.3 533.2,1794.0 534.3,1796.1 535.5,1795.2 536.6,1795.9 537.7,1795.8 538.8,1796.8 539.9,1794.7 541.1,1795.9 542.2,1794.3 543.3,1796.6 544.4,1796.0 545.6,1795.1 546.7,1795.4 547.8,1796.2 548.9,1795.7 550.0,1796.8 551.2,1795.5 552.3,1798.1 553.4,1795.4 554.5,1794.3 555.6,1794.7 556.8,1794.7 557.9,1795.9 559.0,1795.1 560.1,1795.9 561.3,1795.6 562.4,1795.6 563.5,1798.7 564.6,1794.7 565.7,1795.1 566.9,1794.7 568.0,1796.4 569.1,1794.9 570.2,1795.1 571.3,1797.7 572.5,1797.2 573.6,1795.5 574.7,1796.2 575.8,1795.6 577.0,1796.1 578.1,1794.1 579.2,1797.3 580.3,1796.8 581.4,1796.5 582.6,1796.8 583.7,1796.1 584.8,1795.6 585.9,1796.8 587.1,1795.2 588.2,1794.3 589.3,1794.5 590.4,1793.6 591.5,1794.5 592.7,1795.6 593.8,1793.8 594.9,1794.9 596.0,1793.8 597.1,1795.7 598.3,1797.5 599.4,1796.6 600.5,1795.4 601.6,1795.0 602.8,1795.7 603.9,1794.6 605.0,1796.6 606.1,1796.2 607.2,1794.6 608.4,1795.5 609.5,1795.4 610.6,1794.2 611.7,1794.5 612.8,1796.3 614.0,1795.3 615.1,1797.1 616.2,1795.5 617.3,1795.2 618.5,1797.2 619.6,1794.0 620.7,1793.6 621.8,1795.1 622.9,1794.6 624.1,1794.1 625.2,1795.7 626.3,1794.5 627.4,1795.2 628.5,1797.0 629.7,1796.4 630.8,1796.1 631.9,1794.5 633.0,1795.4 634.2,1794.6 635.3,1796.0 636.4,1796.7 637.5,1793.6 638.6,1792.9 639.8,1795.2 640.9,1795.7 642.0,1794.4 643.1,1796.6 644.2,1795.7 645.4,1796.9 646.5,1795.1 647.6,1795.3 648.7,1795.9 649.9,1796.1 651.0,1797.0 652.1,1796.3 653.2,1794.3 654.3,1795.9 655.5,1794.3 656.6,1796.3 657.7,1795.6 658.8,1796.0 659.9,1795.8 661.1,1794.8 662.2,1797.5 663.3,1794.8 664.4,1794.9 665.6,1795.5 666.7,1795.4 667.8,1795.7 668.9,1794.9 670.0,1795.5 671.2,1796.3 672.3,1795.4 673.4,1794.6 674.5,1795.2 675.6,1795.5 676.8,1795.3 677.9,1796.0 679.0,1796.0 680.1,1797.3 681.3,1795.7 682.4,1794.6 683.5,1795.9 684.6,1796.4 685.7,1794.7 686.9,1795.4 688.0,1795.4 689.1,1795.1 690.2,1794.9 691.3,1795.6 692.5,1796.3 693.6,1793.9 694.7,1795.5 695.8,1796.2 697.0,1795.3 698.1,1794.4 699.2,1796.9 700.3,1794.3 701.4,1795.6 702.6,1793.6 703.7,1794.9 704.8,1795.6 705.9,1794.3 707.1,1794.3 708.2,1795.8 709.3,1795.3 710.4,1796.0 711.5,1794.7 712.7,1796.8 713.8,1795.7 714.9,1799.5 716.0,1794.4 717.1,1799.7 718.3,1797.5 719.4,1795.1 720.5,1796.3 721.6,1796.5 722.8,1797.5 723.9,1796.6 725.0,1799.0 726.1,1795.2 727.2,1794.3 728.4,1794.4 729.5,1796.0 730.6,1793.7 731.7,1795.2 732.8,1794.3 734.0,1795.4 735.1,1796.2 736.2,1797.8 737.3,1801.4 738.5,1795.4 739.6,1797.1 740.7,1793.5 741.8,1801.3 742.9,1796.4 744.1,1800.2 745.2,1798.8 746.3,1800.9 747.4,1799.0 748.5,1800.1 749.7,1798.7 750.8,1800.5 751.9,1800.2 753.0,1799.0 754.2,1800.8 755.3,1802.4 756.4,1800.2 757.5,1803.1 758.6,1802.5 759.8,1804.2 760.9,1805.2 762.0,1810.0 763.1,1803.4 764.2,1807.2 765.4,1804.0 766.5,1802.3 767.6,1808.6 768.7,1804.8 769.9,1807.0 771.0,1806.3 772.1,1809.7 773.2,1807.7 774.3,1807.8 775.5,1805.8 776.6,1804.8 777.7,1808.6 778.8,1810.2 779.9,1805.7 781.1,1810.4 782.2,1810.6 783.3,1810.6 784.4,1810.3 785.6,1810.2 786.7,1813.0 787.8,1812.4 788.9,1809.1 790.0,1809.9 791.2,1812.5 792.3,1813.2 793.4,1814.5 794.5,1812.5 795.6,1815.8 796.8,1815.0 797.9,1816.5 799.0,1817.2 800.1,1816.3 801.3,1816.7 802.4,1818.2 803.5,1817.6 804.6,1817.7 805.7,1819.0 806.9,1819.6 808.0,1818.9 809.1,1817.7 810.2,1817.2 811.4,1819.2 812.5,1820.4 813.6,1820.4 814.7,1817.1 815.8,1819.5 817.0,1823.5 818.1,1822.4 819.2,1823.9 820.3,1824.3 821.4,1827.5 822.6,1825.1 823.7,1828.5 824.8,1827.9 825.9,1824.8 827.1,1826.7 828.2,1831.3 829.3,1832.8 830.4,1833.9 831.5,1837.0 832.7,1836.7 833.8,1836.9 834.9,1839.8 836.0,1837.9 837.1,1840.9 838.3,1843.4 839.4,1840.7 840.5,1844.4 841.6,1847.4 842.8,1845.9 843.9,1848.8 845.0,1854.6 846.1,1855.0 847.2,1859.0 848.4,1863.5 849.5,1859.9 850.6,1863.0 851.7,1870.3 852.8,1868.9 854.0,1875.0 855.1,1871.7 856.2,1875.5 857.3,1877.0 858.5,1874.5 859.6,1876.3 860.7,1875.4 861.8,1871.1 862.9,1871.0 864.1,1866.4 865.2,1865.7 866.3,1861.7 867.4,1859.5 868.5,1856.2 869.7,1856.3 870.8,1847.2 871.9,1846.7 873.0,1837.2 874.2,1835.2 875.3,1828.5 876.4,1822.9 877.5,1814.5 878.6,1812.1 879.8,1806.0 880.0,1808.7 880.3,1805.7 880.6,1803.4 880.9,1803.1 881.2,1805.4 881.4,1800.0 881.7,1801.8 882.0,1795.4 882.3,1798.5 882.6,1793.0 882.8,1795.2 883.1,1794.8 883.4,1796.0 883.7,1794.8 884.0,1793.4 884.2,1797.7 884.5,1792.0 884.8,1796.0 885.1,1794.1 885.4,1798.7 885.6,1792.5 885.9,1791.8 886.2,1792.5 886.5,1792.3 886.8,1793.5 887.1,1792.4 887.3,1790.2 887.6,1793.2 887.9,1791.3 888.2,1790.8 888.5,1792.6 888.7,1791.6 889.0,1791.5 889.3,1792.8 889.6,1787.1 889.9,1792.4 890.1,1788.3 890.4,1789.4 890.7,1795.2 891.0,1790.7 891.3,1789.2 891.5,1789.5 891.8,1792.7 892.1,1790.3 892.4,1793.0 892.7,1792.7 892.9,1791.1 893.2,1790.3 893.5,1787.6 893.8,1790.0 894.1,1788.6 894.3,1792.9 894.6,1792.8 894.9,1791.5 895.2,1787.2 895.5,1793.1 895.7,1793.6 896.0,1790.7 896.3,1788.3 896.6,1793.6 896.9,1791.0 897.1,1793.2 897.4,1787.8 897.7,1789.3 898.0,1790.1 898.3,1790.8 898.5,1791.1 898.8,1790.4 899.1,1792.0 899.4,1792.4 899.7,1792.9 899.9,1790.8 900.2,1792.4 900.5,1789.4 900.8,1795.2 901.1,1790.2 901.4,1790.4 901.6,1789.2 901.9,1792.1 902.2,1794.4 902.5,1793.3 902.8,1789.4 903.0,1792.1 903.3,1792.3 903.6,1792.6 903.9,1791.6 904.2,1791.9 904.4,1794.4 904.7,1792.6 905.0,1789.5 905.3,1788.6 905.6,1791.6 905.8,1792.3 906.1,1788.7 906.4,1791.6 906.7,1793.5 907.0,1791.5 907.2,1789.9 907.5,1788.2 907.8,1792.1 908.1,1790.1 908.4,1792.2 908.6,1790.3 908.9,1792.9 909.2,1793.8 909.5,1797.2 909.8,1796.8 910.0,1797.8 910.3,1805.0 910.6,1797.4 910.9,1800.0 911.2,1801.3 911.4,1802.6 911.7,1802.4 912.0,1802.0 912.3,1804.9 912.6,1802.2 912.8,1802.2 913.1,1802.3 913.4,1805.2 913.7,1802.6 914.0,1804.8 914.2,1801.6 914.5,1799.8 914.8,1800.6 915.1,1802.9 915.4,1803.3 915.6,1803.3 915.9,1801.4 916.2,1803.3 916.5,1802.9 916.8,1806.6 917.1,1803.3 917.3,1803.1 917.6,1802.5 917.9,1799.0 918.2,1803.8 918.5,1802.8 918.7,1796.7 919.0,1797.4 919.3,1793.5 919.6,1790.7 919.9,1788.9 920.1,1788.3 920.4,1785.0 920.7,1783.9 921.0,1788.6 921.3,1787.2 921.5,1785.2 921.8,1789.5 922.1,1793.0 922.4,1794.0 922.7,1794.0 922.9,1799.9 923.2,1799.9 923.5,1799.8 923.8,1801.3 924.1,1798.4 924.3,1797.8 924.6,1796.0 924.9,1794.8 925.2,1798.1 925.5,1792.2 925.7,1791.4 926.0,1789.6 926.3,1792.0 926.6,1787.6 926.9,1787.5 927.1,1790.4 927.4,1785.7 927.7,1789.6 928.0,1789.9 928.3,1787.2 928.5,1789.0 928.8,1787.1 929.1,1788.2 929.4,1787.1 929.7,1786.0 929.9,1787.5 930.2,1785.6 930.5,1785.4 930.8,1788.4 931.1,1784.9 931.4,1785.0 931.6,1785.7 931.9,1783.4 932.2,1782.1 932.5,1783.4 932.8,1787.3 933.0,1783.3 933.3,1784.0 933.6,1784.0 933.9,1782.5 934.2,1783.5 934.4,1779.4 934.7,1781.7 935.0,1781.8 935.3,1779.9 935.6,1779.4 935.8,1778.3 936.1,1778.9 936.4,1779.8 936.7,1779.0 937.0,1782.9 937.2,1781.1 937.5,1775.5 937.8,1777.4 938.1,1772.5 938.4,1771.7 938.6,1776.8 938.9,1773.0 939.2,1767.2 939.5,1774.0 939.8,1771.4 940.0,1772.2 940.3,1771.9 940.6,1771.7 940.9,1770.8 941.2,1769.0 941.4,1771.6 941.7,1769.0 942.0,1771.1 942.3,1768.6 942.6,1768.9 942.8,1770.8 943.1,1768.9 943.4,1770.4 943.7,1770.4 944.0,1766.0 944.2,1771.0 944.5,1765.8 944.8,1764.9 945.9,1764.6 947.1,1758.4 948.2,1755.4 949.3,1756.0 950.4,1748.4 951.5,1743.6 952.7,1740.4 953.8,1731.9 954.9,1724.9 956.0,1720.6 957.1,1715.0 958.3,1701.0 959.4,1692.9 960.5,1683.7 961.6,1669.7 962.8,1661.9 963.9,1645.4 965.0,1628.2 966.1,1622.8 967.2,1603.8 968.4,1594.6 969.5,1582.2 970.6,1572.7 971.7,1561.0 972.8,1554.7 974.0,1549.8 975.1,1546.3 976.2,1541.7 977.3,1537.4 978.5,1543.7 979.6,1544.1 980.7,1549.1 981.8,1560.4 982.9,1562.5 984.1,1574.5 985.2,1582.2 986.3,1596.3 987.4,1613.3 988.5,1626.8 989.7,1643.0 990.8,1657.9 991.9,1666.7 993.0,1680.5 994.2,1692.4 995.3,1702.9 996.4,1711.4 997.5,1719.9 998.6,1729.3 999.8,1736.2 1000.9,1741.6 1002.0,1743.2 1003.1,1756.0 1004.2,1758.3 1005.4,1758.6 1006.5,1762.2 1007.6,1762.8 1008.7,1765.0 1009.9,1765.8 1011.0,1772.9 1012.1,1771.4 1013.2,1774.0 1014.3,1772.6 1015.5,1775.0 1016.6,1774.3 1017.7,1778.2 1018.8,1777.0 1019.9,1778.9 1021.1,1778.9 1022.2,1779.8 1023.3,1781.3 1024.4,1777.6 1025.6,1779.6 1026.7,1778.4 1027.8,1782.8 1028.9,1785.1 1030.0,1782.9 1031.2,1782.4 1032.3,1780.9 1033.4,1780.8 1034.5,1780.9 1035.7,1780.7 1036.8,1782.7 1037.9,1784.3 1039.0,1786.4 1040.1,1783.9 1041.3,1786.6 1042.4,1787.5 1043.5,1785.1 1044.6,1786.1 1045.7,1785.1 1046.9,1788.4 1048.0,1784.9 1049.1,1786.6 1050.2,1787.8 1051.4,1789.0 1052.5,1789.7 1053.6,1790.3 1054.7,1785.0 1055.8,1790.4 1057.0,1786.5 1058.1,1788.2 1059.2,1788.8 1060.3,1788.6 1061.4,1787.9 1062.6,1785.9 1063.7,1786.6 1064.8,1787.7 1065.9,1790.3 1067.1,1791.1 1068.2,1784.0 1069.3,1789.6 1070.4,1790.6 1071.5,1785.4 1072.7,1790.5 1073.8,1786.1 1074.9,1785.7 1076.0,1787.0 1077.1,1785.6 1078.3,1790.1 1079.4,1789.8 1080.5,1787.8 1081.6,1787.4 1082.8,1787.5 1083.9,1786.4 1085.0,1788.7 1086.1,1791.4 1087.2,1786.5 1088.4,1787.7 1089.5,1785.7 1090.6,1783.2 1091.7,1787.0 1092.8,1786.1 1094.0,1788.9 1095.1,1785.4 1096.2,1786.5 1097.3,1786.6 1098.5,1785.3 1099.6,1789.3 1100.7,1786.0 1101.8,1786.2 1102.9,1784.0 1104.1,1790.5 1105.2,1787.2 1106.3,1782.8 1107.4,1787.8 1108.5,1787.8 1109.7,1783.5 1110.8,1782.1 1111.9,1786.7 1113.0,1788.3 1114.2,1788.1 1115.3,1787.7 1116.4,1788.5 1117.5,1788.4 1118.6,1786.5 1119.8,1786.8 1120.9,1785.9 1122.0,1786.8 1123.1,1789.1 1124.2,1785.4 1125.4,1786.3 1126.5,1787.9 1127.6,1787.3 1128.7,1786.1 1129.9,1786.6 1131.0,1787.0 1132.1,1785.2 1133.2,1784.6 1134.3,1787.3 1135.5,1786.7 1136.6,1788.8 1137.7,1787.0 1138.8,1785.7 1139.9,1784.9" fill="none" stroke="#000000" stroke-width="7.5" stroke-linejoin="round" stroke-linecap="round" />
<polyline points="202.4,1806.4 203.5,1810.8 204.6,1815.1 205.7,1817.4 206.9,1821.2 208.0,1821.8 209.1,1823.2 210.2,1825.1 211.3,1824.4 212.5,1824.8 213.6,1823.4 214.7,1823.7 215.8,1821.7 217.0,1819.5 218.1,1819.4 219.2,1817.3 220.3,1817.1 221.4,1815.3 222.6,1815.1 223.7,1811.4 224.8,1809.9 225.9,1806.0 227.0,1805.3 228.2,1801.3 229.3,1797.8 230.4,1794.9 231.5,1794.4 232.7,1790.7 233.8,1785.5 234.9,1784.8 236.0,1783.0 237.1,1783.4 238.3,1779.3 239.4,1775.8 240.5,1774.3 241.6,1772.6 242.8,1771.0 243.9,1771.0 245.0,1769.3 246.1,1770.9 247.2,1765.8 248.4,1767.4 249.5,1766.6 250.6,1763.8 251.7,1764.3 252.8,1763.8 254.0,1765.1 255.1,1763.6 256.2,1761.9 257.3,1761.8 258.5,1758.5 259.6,1755.7 260.7,1752.5 261.8,1749.3 262.9,1746.1 264.1,1740.6 265.2,1736.9 266.3,1732.1 267.4,1729.0 268.5,1724.9 269.7,1720.6 270.8,1714.0 271.9,1709.4 273.0,1702.7 274.2,1698.4 275.3,1695.2 276.4,1693.9 277.5,1690.6 278.6,1685.8 279.8,1682.6 280.9,1676.6 282.0,1674.2 283.1,1671.1 284.2,1667.5 285.4,1663.6 286.5,1663.4 287.6,1659.9 288.7,1660.0 289.9,1657.5 291.0,1656.9 292.1,1655.1 293.2,1654.6 294.3,1652.9 295.5,1652.9 296.6,1653.7 297.7,1654.1 298.8,1653.7 299.9,1653.5 301.1,1653.6 302.2,1654.5 303.3,1652.9 304.4,1653.1 305.6,1653.9 306.7,1653.3 307.8,1652.0 308.9,1650.3 310.0,1648.5 311.2,1648.0 312.3,1644.2 313.4,1642.7 314.5,1637.8 315.6,1634.0 316.8,1632.3 317.9,1627.7 319.0,1625.2 320.1,1622.1 321.3,1616.5 322.4,1614.5 323.5,1611.9 324.6,1609.9 325.7,1606.8 326.9,1605.6 328.0,1603.8 329.1,1604.2 330.2,1602.7 331.3,1602.5 332.5,1603.5 333.6,1601.2 334.7,1603.3 335.8,1606.2 337.0,1608.5 338.1,1609.7 339.2,1612.2 340.3,1614.8 341.4,1619.0 342.6,1622.3 343.7,1625.6 344.8,1629.8 345.9,1636.9 347.0,1640.2 348.2,1646.7 349.3,1652.6 350.4,1658.1 351.5,1664.7 352.7,1669.7 353.8,1676.6 354.9,1685.2 356.0,1693.5 357.1,1699.2 358.3,1707.0 359.4,1715.9 360.5,1723.4 361.6,1729.2 362.8,1735.6 363.9,1744.1 365.0,1748.1 366.1,1755.7 367.2,1759.8 368.4,1766.2 369.5,1770.1 370.6,1774.6 371.7,1777.7 372.8,1779.8 374.0,1784.2 375.1,1785.9 376.2,1787.1 377.3,1789.8 378.5,1788.7 379.6,1793.1 380.7,1789.9 381.8,1793.5 382.9,1792.4 384.1,1792.2 385.2,1793.6 386.3,1795.8 387.4,1794.9 388.5,1794.6 389.7,1794.2 390.8,1793.9 391.9,1793.8 393.0,1793.5 394.2,1795.9 395.3,1794.0 396.4,1796.7 397.5,1794.9 398.6,1796.2 399.8,1796.9 400.9,1794.3 402.0,1795.2 403.1,1794.3 404.2,1796.8 405.4,1796.5 406.5,1795.4 407.6,1796.0 408.7,1795.3 409.9,1796.0 411.0,1795.7 412.1,1796.5 413.2,1794.1 414.3,1795.7 415.5,1796.6 416.6,1794.7 417.7,1794.9 418.8,1795.2 419.9,1795.2 421.1,1795.8 422.2,1795.6 423.3,1797.6 424.4,1797.0 425.6,1796.6 426.7,1795.1 427.8,1794.2 428.9,1795.6 430.0,1795.7 431.2,1794.3 432.3,1795.8 433.4,1794.8 434.5,1795.0 435.6,1796.7 436.8,1795.1 437.9,1795.2 439.0,1796.6 440.1,1796.4 441.3,1796.7 442.4,1794.1 443.5,1793.4 444.6,1794.7 445.7,1793.9 446.9,1796.7 448.0,1794.0 449.1,1793.5 450.2,1793.8 451.3,1796.3 452.5,1794.4 453.6,1795.5 454.7,1794.4 455.8,1796.1 457.0,1795.4 458.1,1796.0 459.2,1795.0 460.3,1795.5 461.4,1794.3 462.6,1794.6 463.7,1795.0 464.8,1795.5 465.9,1795.7 467.0,1795.4 468.2,1794.7 469.3,1795.3 470.4,1795.1 471.5,1795.5 472.7,1795.5 473.8,1796.1 474.9,1797.3 476.0,1794.9 477.1,1794.9 478.3,1796.4 479.4,1793.5 480.5,1796.6 481.6,1794.4 482.8,1795.2 483.9,1795.1 485.0,1794.3 486.1,1794.5 487.2,1795.4 488.4,1796.5 489.5,1796.6 490.6,1795.2 491.7,1793.9 492.8,1794.6 494.0,1795.5 495.1,1795.1 496.2,1794.8 497.3,1793.7 498.5,1796.2 499.6,1794.7 500.7,1795.2 501.8,1796.2 502.9,1796.4 504.1,1794.2 505.2,1795.1 506.3,1795.6 507.4,1795.3 508.5,1794.5 509.7,1795.3 510.8,1793.8 511.9,1795.7 513.0,1796.2 514.2,1795.5 515.3,1796.3 516.4,1795.8 517.5,1794.2 518.6,1793.7 519.8,1794.8 520.9,1795.2 522.0,1796.3 523.1,1796.4 524.2,1795.1 525.4,1795.3 526.5,1796.0 527.6,1795.9 528.7,1793.9 529.9,1794.4 531.0,1795.4 532.1,1795.2 533.2,1794.2 534.3,1795.1 535.5,1795.2 536.6,1797.0 537.7,1797.1 538.8,1797.3 539.9,1797.6 541.1,1795.4 542.2,1795.1 543.3,1796.3 544.4,1795.0 545.6,1795.0 546.7,1795.5 547.8,1796.9 548.9,1794.0 550.0,1794.1 551.2,1796.0 552.3,1793.5 553.4,1795.4 554.5,1796.2 555.6,1795.8 556.8,1797.3 557.9,1795.8 559.0,1797.0 560.1,1794.3 561.3,1795.1 562.4,1796.8 563.5,1794.9 564.6,1797.1 565.7,1795.3 566.9,1795.0 568.0,1795.4 569.1,1796.5 570.2,1795.5 571.3,1795.6 572.5,1795.4 573.6,1794.0 574.7,1793.8 575.8,1793.9 577.0,1796.0 578.1,1796.2 579.2,1795.4 580.3,1795.0 581.4,1797.5 582.6,1796.0 583.7,1793.7 584.8,1796.6 585.9,1796.2 587.1,1796.1 588.2,1794.9 589.3,1795.5 590.4,1795.7 591.5,1796.9 592.7,1794.8 593.8,1795.4 594.9,1796.1 596.0,1795.4 597.1,1794.6 598.3,1796.9 599.4,1797.0 600.5,1796.4 601.6,1796.3 602.8,1798.4 603.9,1796.0 605.0,1794.3 606.1,1795.8 607.2,1794.4 608.4,1798.3 609.5,1795.5 610.6,1794.1 611.7,1793.9 612.8,1795.9 614.0,1796.2 615.1,1795.0 616.2,1796.6 617.3,1795.8 618.5,1797.1 619.6,1795.3 620.7,1795.4 621.8,1793.8 622.9,1795.1 624.1,1796.1 625.2,1795.5 626.3,1796.7 627.4,1795.4 628.5,1795.6 629.7,1795.0 630.8,1794.5 631.9,1797.4 633.0,1795.1 634.2,1794.7 635.3,1796.6 636.4,1793.6 637.5,1796.1 638.6,1793.0 639.8,1794.7 640.9,1794.5 642.0,1795.2 643.1,1794.4 644.2,1796.5 645.4,1796.2 646.5,1797.4 647.6,1794.9 648.7,1796.1 649.9,1794.7 651.0,1794.8 652.1,1796.8 653.2,1794.7 654.3,1795.2 655.5,1795.2 656.6,1795.0 657.7,1795.5 658.8,1795.4 659.9,1794.4 661.1,1796.4 662.2,1796.6 663.3,1796.2 664.4,1794.4 665.6,1795.7 666.7,1793.5 667.8,1798.5 668.9,1796.1 670.0,1795.9 671.2,1795.2 672.3,1794.1 673.4,1795.6 674.5,1796.4 675.6,1794.6 676.8,1793.9 677.9,1798.0 679.0,1794.9 680.1,1795.1 681.3,1796.3 682.4,1795.9 683.5,1795.1 684.6,1795.4 685.7,1795.7 686.9,1796.6 688.0,1795.1 689.1,1796.1 690.2,1795.3 691.3,1796.0 692.5,1795.2 693.6,1794.7 694.7,1795.2 695.8,1794.8 697.0,1796.8 698.1,1795.0 699.2,1795.1 700.3,1796.0 701.4,1795.6 702.6,1798.2 703.7,1795.4 704.8,1795.8 705.9,1797.7 707.1,1794.9 708.2,1796.1 709.3,1795.2 710.4,1795.7 711.5,1795.0 712.7,1795.3 713.8,1795.7 714.9,1794.5 716.0,1793.8 717.1,1799.9 718.3,1795.4 719.4,1796.7 720.5,1797.7 721.6,1793.0 722.8,1793.7 723.9,1797.7 725.0,1797.9 726.1,1794.2 727.2,1797.1 728.4,1796.6 729.5,1799.9 730.6,1796.3 731.7,1793.9 732.8,1797.2 734.0,1796.6 735.1,1793.0 736.2,1794.8 737.3,1793.9 738.5,1795.7 739.6,1794.9 740.7,1801.0 741.8,1799.8 742.9,1802.0 744.1,1794.9 745.2,1799.5 746.3,1800.7 747.4,1802.5 748.5,1803.5 749.7,1807.6 750.8,1798.1 751.9,1803.1 753.0,1803.3 754.2,1806.7 755.3,1804.5 756.4,1804.1 757.5,1805.5 758.6,1804.6 759.8,1808.0 760.9,1806.2 762.0,1805.6 763.1,1806.7 764.2,1807.5 765.4,1809.0 766.5,1811.2 767.6,1808.6 768.7,1811.0 769.9,1812.5 771.0,1809.6 772.1,1814.7 773.2,1813.1 774.3,1810.9 775.5,1811.1 776.6,1814.1 777.7,1813.7 778.8,1813.2 779.9,1814.9 781.1,1816.7 782.2,1814.8 783.3,1815.8 784.4,1816.4 785.6,1814.9 786.7,1816.9 787.8,1818.9 788.9,1818.2 790.0,1815.1 791.2,1820.9 792.3,1820.5 793.4,1822.1 794.5,1820.3 795.6,1824.0 796.8,1821.2 797.9,1821.1 799.0,1824.6 800.1,1825.3 801.3,1827.0 802.4,1824.5 803.5,1827.3 804.6,1826.8 805.7,1826.8 806.9,1827.7 808.0,1825.1 809.1,1824.0 810.2,1831.7 811.4,1829.5 812.5,1827.9 813.6,1831.0 814.7,1830.5 815.8,1829.7 817.0,1828.1 818.1,1829.3 819.2,1833.0 820.3,1833.1 821.4,1835.1 822.6,1835.7 823.7,1838.8 824.8,1841.1 825.9,1839.6 827.1,1838.2 828.2,1840.1 829.3,1846.8 830.4,1845.3 831.5,1847.9 832.7,1848.0 833.8,1852.7 834.9,1850.7 836.0,1854.9 837.1,1855.4 838.3,1857.0 839.4,1864.7 840.5,1863.6 841.6,1862.6 842.8,1868.0 843.9,1868.6 845.0,1872.6 846.1,1877.5 847.2,1879.4 848.4,1881.5 849.5,1884.5 850.6,1887.5 851.7,1895.3 852.8,1894.1 854.0,1901.2 855.1,1901.3 856.2,1903.6 857.3,1903.4 858.5,1904.6 859.6,1902.0 860.7,1903.7 861.8,1898.1 862.9,1895.8 864.1,1893.2 865.2,1892.5 866.3,1885.8 867.4,1882.7 868.5,1877.8 869.7,1875.0 870.8,1870.5 871.9,1863.3 873.0,1855.3 874.2,1846.1 875.3,1835.6 876.4,1832.9 877.5,1820.0 878.6,1822.6 879.8,1808.8 880.0,1810.9 880.3,1804.1 880.6,1808.5 880.9,1803.4 881.2,1806.1 881.4,1805.1 881.7,1800.0 882.0,1798.7 882.3,1800.5 882.6,1793.3 882.8,1797.6 883.1,1793.0 883.4,1797.3 883.7,1796.6 884.0,1794.0 884.2,1796.0 884.5,1792.9 884.8,1797.9 885.1,1793.2 885.4,1794.5 885.6,1795.2 885.9,1792.7 886.2,1793.5 886.5,1793.8 886.8,1791.2 887.1,1792.0 887.3,1791.7 887.6,1789.7 887.9,1792.4 888.2,1790.5 888.5,1792.9 888.7,1790.8 889.0,1790.8 889.3,1792.8 889.6,1794.6 889.9,1794.1 890.1,1793.3 890.4,1790.3 890.7,1791.5 891.0,1791.8 891.3,1790.1 891.5,1789.5 891.8,1788.1 892.1,1792.0 892.4,1789.6 892.7,1789.2 892.9,1792.5 893.2,1790.4 893.5,1792.4 893.8,1791.0 894.1,1789.7 894.3,1793.9 894.6,1792.3 894.9,1792.1 895.2,1790.3 895.5,1792.0 895.7,1789.8 896.0,1792.2 896.3,1791.5 896.6,1789.3 896.9,1789.9 897.1,1790.2 897.4,1790.6 897.7,1788.6 898.0,1787.9 898.3,1791.3 898.5,1792.0 898.8,1792.7 899.1,1787.2 899.4,1792.4 899.7,1793.3 899.9,1790.2 900.2,1788.7 900.5,1793.4 900.8,1791.3 901.1,1794.0 901.4,1792.6 901.6,1788.2 901.9,1791.1 902.2,1791.9 902.5,1791.3 902.8,1790.8 903.0,1791.6 903.3,1793.7 903.6,1793.6 903.9,1787.4 904.2,1792.8 904.4,1788.9 904.7,1792.6 905.0,1788.6 905.3,1789.8 905.6,1791.6 905.8,1787.2 906.1,1792.9 906.4,1791.5 906.7,1792.7 907.0,1792.5 907.2,1791.7 907.5,1792.8 907.8,1791.6 908.1,1787.8 908.4,1794.6 908.6,1794.6 908.9,1795.0 909.2,1794.9 909.5,1793.0 909.8,1794.5 910.0,1795.9 910.3,1797.4 910.6,1794.0 910.9,1801.8 911.2,1802.8 911.4,1801.5 911.7,1801.6 912.0,1802.5 912.3,1803.6 912.6,1804.5 912.8,1802.5 913.1,1803.3 913.4,1802.8 913.7,1804.0 914.0,1799.2 914.2,1800.9 914.5,1798.2 914.8,1802.8 915.1,1801.6 915.4,1802.2 915.6,1801.7 915.9,1802.1 916.2,1801.8 916.5,1805.2 916.8,1801.7 917.1,1799.7 917.3,1804.8 917.6,1801.5 917.9,1799.6 918.2,1798.1 918.5,1799.7 918.7,1796.3 919.0,1791.4 919.3,1790.0 919.6,1791.3 919.9,1789.4 920.1,1784.1 920.4,1785.6 920.7,1787.1 921.0,1786.4 921.3,1785.3 921.5,1786.6 921.8,1788.8 922.1,1790.7 922.4,1795.2 922.7,1791.3 922.9,1794.7 923.2,1796.5 923.5,1799.9 923.8,1798.9 924.1,1797.5 924.3,1796.5 924.6,1800.5 924.9,1794.9 925.2,1796.2 925.5,1793.0 925.7,1792.8 926.0,1787.1 926.3,1788.3 926.6,1788.3 926.9,1784.4 927.1,1787.2 927.4,1788.4 927.7,1787.3 928.0,1787.6 928.3,1786.7 928.5,1785.1 928.8,1786.9 929.1,1786.7 929.4,1784.5 929.7,1785.7 929.9,1784.2 930.2,1785.6 930.5,1788.1 930.8,1787.5 931.1,1788.2 931.4,1782.3 931.6,1783.3 931.9,1784.6 932.2,1785.2 932.5,1782.0 932.8,1782.5 933.0,1781.1 933.3,1782.9 933.6,1783.0 933.9,1777.3 934.2,1781.8 934.4,1779.5 934.7,1776.4 935.0,1782.0 935.3,1776.5 935.6,1777.1 935.8,1777.0 936.1,1775.6 936.4,1777.9 936.7,1779.3 937.0,1770.7 937.2,1774.3 937.5,1771.1 937.8,1769.7 938.1,1770.4 938.4,1769.1 938.6,1767.6 938.9,1765.0 939.2,1766.1 939.5,1764.1 939.8,1766.6 940.0,1766.4 940.3,1764.9 940.6,1763.7 940.9,1762.9 941.2,1759.6 941.4,1761.2 941.7,1762.4 942.0,1758.3 942.3,1761.2 942.6,1760.8 942.8,1760.1 943.1,1761.4 943.4,1762.5 943.7,1759.8 944.0,1759.8 944.2,1760.0 944.5,1757.2 944.8,1757.0 945.9,1754.1 947.1,1752.4 948.2,1745.0 949.3,1736.4 950.4,1732.5 951.5,1725.7 952.7,1720.5 953.8,1710.2 954.9,1704.7 956.0,1694.6 957.1,1681.8 958.3,1672.9 959.4,1656.0 960.5,1640.5 961.6,1622.1 962.8,1610.8 963.9,1591.4 965.0,1574.7 966.1,1555.6 967.2,1542.3 968.4,1522.6 969.5,1502.8 970.6,1489.6 971.7,1478.2 972.8,1463.3 974.0,1458.1 975.1,1455.4 976.2,1449.2 977.3,1447.1 978.5,1446.1 979.6,1455.7 980.7,1459.7 981.8,1467.9 982.9,1482.4 984.1,1494.1 985.2,1514.6 986.3,1528.5 987.4,1551.1 988.5,1566.4 989.7,1582.2 990.8,1604.3 991.9,1622.6 993.0,1638.6 994.2,1650.5 995.3,1668.6 996.4,1681.5 997.5,1696.6 998.6,1706.9 999.8,1716.9 1000.9,1723.3 1002.0,1731.7 1003.1,1734.9 1004.2,1741.2 1005.4,1747.2 1006.5,1752.0 1007.6,1760.2 1008.7,1759.0 1009.9,1760.0 1011.0,1761.6 1012.1,1770.6 1013.2,1770.6 1014.3,1766.8 1015.5,1770.2 1016.6,1769.6 1017.7,1771.0 1018.8,1769.8 1019.9,1775.3 1021.1,1773.5 1022.2,1771.2 1023.3,1773.2 1024.4,1775.8 1025.6,1773.8 1026.7,1774.7 1027.8,1777.5 1028.9,1774.9 1030.0,1775.5 1031.2,1777.6 1032.3,1776.1 1033.4,1780.7 1034.5,1777.5 1035.7,1780.0 1036.8,1782.0 1037.9,1781.9 1039.0,1778.9 1040.1,1782.8 1041.3,1782.9 1042.4,1784.0 1043.5,1784.6 1044.6,1781.6 1045.7,1779.5 1046.9,1781.5 1048.0,1783.4 1049.1,1783.1 1050.2,1785.4 1051.4,1785.8 1052.5,1787.2 1053.6,1782.2 1054.7,1785.7 1055.8,1786.4 1057.0,1786.3 1058.1,1784.7 1059.2,1786.1 1060.3,1785.0 1061.4,1784.7 1062.6,1782.4 1063.7,1787.4 1064.8,1784.4 1065.9,1786.3 1067.1,1785.8 1068.2,1781.8 1069.3,1783.7 1070.4,1785.7 1071.5,1783.9 1072.7,1784.9 1073.8,1782.7 1074.9,1785.7 1076.0,1783.8 1077.1,1785.1 1078.3,1784.7 1079.4,1785.0 1080.5,1785.9 1081.6,1784.4 1082.8,1782.7 1083.9,1785.7 1085.0,1785.3 1086.1,1783.8 1087.2,1786.0 1088.4,1782.8 1089.5,1783.1 1090.6,1788.9 1091.7,1785.7 1092.8,1786.5 1094.0,1782.7 1095.1,1782.5 1096.2,1786.6 1097.3,1785.6 1098.5,1784.4 1099.6,1785.0 1100.7,1782.8 1101.8,1782.3 1102.9,1783.0 1104.1,1782.0 1105.2,1782.3 1106.3,1784.3 1107.4,1784.9 1108.5,1785.5 1109.7,1782.5 1110.8,1782.3 1111.9,1782.0 1113.0,1784.6 1114.2,1784.7 1115.3,1783.4 1116.4,1781.5 1117.5,1783.2 1118.6,1783.5 1119.8,1785.5 1120.9,1783.0 1122.0,1782.8 1123.1,1785.7 1124.2,1780.4 1125.4,1785.6 1126.5,1782.0 1127.6,1784.2 1128.7,1783.4 1129.9,1785.3 1131.0,1784.8 1132.1,1782.3 1133.2,1784.0 1134.3,1784.3 1135.5,1781.9 1136.6,1782.2 1137.7,1783.3 1138.8,1783.1 1139.9,1780.2" fill="none" stroke="#55aefa" stroke-width="7.5" stroke-linejoin="round" stroke-linecap="round" />
<polyline points="202.4,1805.8 203.5,1809.7 204.6,1813.7 205.7,1819.0 206.9,1822.5 208.0,1822.8 209.1,1823.9 210.2,1826.2 211.3,1828.1 212.5,1828.5 213.6,1826.8 214.7,1827.4 215.8,1828.0 217.0,1825.0 218.1,1824.6 219.2,1823.4 220.3,1821.8 221.4,1820.4 222.6,1820.0 223.7,1819.0 224.8,1818.7 225.9,1814.0 227.0,1811.8 228.2,1807.8 229.3,1805.5 230.4,1804.1 231.5,1801.1 232.7,1800.3 233.8,1798.2 234.9,1796.9 236.0,1794.3 237.1,1791.8 238.3,1789.1 239.4,1789.1 240.5,1786.0 241.6,1783.2 242.8,1785.6 243.9,1783.5 245.0,1782.1 246.1,1780.0 247.2,1777.7 248.4,1777.0 249.5,1776.8 250.6,1776.2 251.7,1774.2 252.8,1773.0 254.0,1771.4 255.1,1771.0 256.2,1766.6 257.3,1766.3 258.5,1762.0 259.6,1759.0 260.7,1756.5 261.8,1751.3 262.9,1747.0 264.1,1742.6 265.2,1737.0 266.3,1733.5 267.4,1725.4 268.5,1720.9 269.7,1716.7 270.8,1711.9 271.9,1702.2 273.0,1697.8 274.2,1693.1 275.3,1689.6 276.4,1685.7 277.5,1681.9 278.6,1673.5 279.8,1670.4 280.9,1668.4 282.0,1662.1 283.1,1662.0 284.2,1656.1 285.4,1653.3 286.5,1652.3 287.6,1649.7 288.7,1648.4 289.9,1645.8 291.0,1643.5 292.1,1643.1 293.2,1643.0 294.3,1641.7 295.5,1644.1 296.6,1640.0 297.7,1641.9 298.8,1643.4 299.9,1643.1 301.1,1644.0 302.2,1643.9 303.3,1644.2 304.4,1646.9 305.6,1643.1 306.7,1641.8 307.8,1643.2 308.9,1639.0 310.0,1637.3 311.2,1635.2 312.3,1631.9 313.4,1632.1 314.5,1627.2 315.6,1626.1 316.8,1619.7 317.9,1619.8 319.0,1616.9 320.1,1611.7 321.3,1609.5 322.4,1607.5 323.5,1604.7 324.6,1601.9 325.7,1599.0 326.9,1600.3 328.0,1599.7 329.1,1599.6 330.2,1599.2 331.3,1599.4 332.5,1601.6 333.6,1601.7 334.7,1605.5 335.8,1607.1 337.0,1609.7 338.1,1612.8 339.2,1614.6 340.3,1618.3 341.4,1623.2 342.6,1627.4 343.7,1634.2 344.8,1637.7 345.9,1644.8 347.0,1650.4 348.2,1656.7 349.3,1664.8 350.4,1670.7 351.5,1677.0 352.7,1683.2 353.8,1690.7 354.9,1699.0 356.0,1707.0 357.1,1713.6 358.3,1722.3 359.4,1729.3 360.5,1734.8 361.6,1740.7 362.8,1747.9 363.9,1754.8 365.0,1758.4 366.1,1763.0 367.2,1768.9 368.4,1773.0 369.5,1778.4 370.6,1778.5 371.7,1783.4 372.8,1784.1 374.0,1787.4 375.1,1788.6 376.2,1790.1 377.3,1792.9 378.5,1789.4 379.6,1794.4 380.7,1793.2 381.8,1794.5 382.9,1794.2 384.1,1792.8 385.2,1796.3 386.3,1794.7 387.4,1794.2 388.5,1794.6 389.7,1794.4 390.8,1795.6 391.9,1796.5 393.0,1796.2 394.2,1795.4 395.3,1794.3 396.4,1794.9 397.5,1793.5 398.6,1795.0 399.8,1794.9 400.9,1794.9 402.0,1796.8 403.1,1794.6 404.2,1796.3 405.4,1795.6 406.5,1792.9 407.6,1796.4 408.7,1795.1 409.9,1795.0 411.0,1795.1 412.1,1795.3 413.2,1795.8 414.3,1793.3 415.5,1797.3 416.6,1796.3 417.7,1793.8 418.8,1794.8 419.9,1796.1 421.1,1796.2 422.2,1795.6 423.3,1792.7 424.4,1794.8 425.6,1796.3 426.7,1795.1 427.8,1795.9 428.9,1793.8 430.0,1795.0 431.2,1794.1 432.3,1795.1 433.4,1793.3 434.5,1794.9 435.6,1795.0 436.8,1796.3 437.9,1795.7 439.0,1794.9 440.1,1795.8 441.3,1792.9 442.4,1795.3 443.5,1796.1 444.6,1794.3 445.7,1795.8 446.9,1794.9 448.0,1795.4 449.1,1796.0 450.2,1793.9 451.3,1795.2 452.5,1794.2 453.6,1795.6 454.7,1796.7 455.8,1796.5 457.0,1795.8 458.1,1795.5 459.2,1795.3 460.3,1794.8 461.4,1796.5 462.6,1795.1 463.7,1796.5 464.8,1796.0 465.9,1792.8 467.0,1794.0 468.2,1795.7 469.3,1793.5 470.4,1793.9 471.5,1794.4 472.7,1793.9 473.8,1795.5 474.9,1795.4 476.0,1796.2 477.1,1794.7 478.3,1796.5 479.4,1795.8 480.5,1794.9 481.6,1795.8 482.8,1795.0 483.9,1793.5 485.0,1796.3 486.1,1793.9 487.2,1796.0 488.4,1796.2 489.5,1795.1 490.6,1794.3 491.7,1796.0 492.8,1796.0 494.0,1795.7 495.1,1796.0 496.2,1795.1 497.3,1796.0 498.5,1795.6 499.6,1795.0 500.7,1795.7 501.8,1794.2 502.9,1796.0 504.1,1796.1 505.2,1793.3 506.3,1793.8 507.4,1795.2 508.5,1794.5 509.7,1795.0 510.8,1795.8 511.9,1794.6 513.0,1795.0 514.2,1794.0 515.3,1797.1 516.4,1794.5 517.5,1795.1 518.6,1796.0 519.8,1795.7 520.9,1795.7 522.0,1796.6 523.1,1795.9 524.2,1794.5 525.4,1796.8 526.5,1795.7 527.6,1797.6 528.7,1795.9 529.9,1794.9 531.0,1795.4 532.1,1795.3 533.2,1796.4 534.3,1794.7 535.5,1796.2 536.6,1794.4 537.7,1795.1 538.8,1795.7 539.9,1793.8 541.1,1795.7 542.2,1794.3 543.3,1795.2 544.4,1795.3 545.6,1794.3 546.7,1794.9 547.8,1795.3 548.9,1795.4 550.0,1795.1 551.2,1795.2 552.3,1795.6 553.4,1796.3 554.5,1797.9 555.6,1795.4 556.8,1795.5 557.9,1794.1 559.0,1794.9 560.1,1794.2 561.3,1793.6 562.4,1795.4 563.5,1796.1 564.6,1794.5 565.7,1795.9 566.9,1795.6 568.0,1793.9 569.1,1794.8 570.2,1794.2 571.3,1796.6 572.5,1795.3 573.6,1794.2 574.7,1796.6 575.8,1795.1 577.0,1794.9 578.1,1797.6 579.2,1793.7 580.3,1796.0 581.4,1795.4 582.6,1793.6 583.7,1797.1 584.8,1794.8 585.9,1795.7 587.1,1795.3 588.2,1796.1 589.3,1794.0 590.4,1796.4 591.5,1794.9 592.7,1794.8 593.8,1795.4 594.9,1795.6 596.0,1795.6 597.1,1794.3 598.3,1794.9 599.4,1795.4 600.5,1796.4 601.6,1795.1 602.8,1794.8 603.9,1795.3 605.0,1793.9 606.1,1797.2 607.2,1792.8 608.4,1795.5 609.5,1796.4 610.6,1797.0 611.7,1794.4 612.8,1794.7 614.0,1795.5 615.1,1795.3 616.2,1795.1 617.3,1795.7 618.5,1794.2 619.6,1794.7 620.7,1795.4 621.8,1796.9 622.9,1793.9 624.1,1795.8 625.2,1796.3 626.3,1794.0 627.4,1794.8 628.5,1797.3 629.7,1796.9 630.8,1795.7 631.9,1796.5 633.0,1795.5 634.2,1792.7 635.3,1792.4 636.4,1795.3 637.5,1794.5 638.6,1794.4 639.8,1795.4 640.9,1796.8 642.0,1794.2 643.1,1795.5 644.2,1794.8 645.4,1794.6 646.5,1796.1 647.6,1793.6 648.7,1795.2 649.9,1795.1 651.0,1795.7 652.1,1794.6 653.2,1794.3 654.3,1795.8 655.5,1794.7 656.6,1795.7 657.7,1796.5 658.8,1795.6 659.9,1794.7 661.1,1794.7 662.2,1794.2 663.3,1796.0 664.4,1795.6 665.6,1795.2 666.7,1794.7 667.8,1795.4 668.9,1796.2 670.0,1796.8 671.2,1794.1 672.3,1794.2 673.4,1796.0 674.5,1793.8 675.6,1795.4 676.8,1794.8 677.9,1794.0 679.0,1795.8 680.1,1796.1 681.3,1797.0 682.4,1795.0 683.5,1794.8 684.6,1794.4 685.7,1794.7 686.9,1795.2 688.0,1794.2 689.1,1796.3 690.2,1794.9 691.3,1794.8 692.5,1795.4 693.6,1793.6 694.7,1794.9 695.8,1794.0 697.0,1794.4 698.1,1795.5 699.2,1793.4 700.3,1794.2 701.4,1795.3 702.6,1795.4 703.7,1796.3 704.8,1795.4 705.9,1795.5 707.1,1795.1 708.2,1795.7 709.3,1794.7 710.4,1795.4 711.5,1796.9 712.7,1795.8 713.8,1796.2 714.9,1797.8 716.0,1795.8 717.1,1793.5 718.3,1797.6 719.4,1799.3 720.5,1795.7 721.6,1789.6 722.8,1796.7 723.9,1795.1 725.0,1796.5 726.1,1794.1 727.2,1793.0 728.4,1796.3 729.5,1793.7 730.6,1798.3 731.7,1795.9 732.8,1798.9 734.0,1796.2 735.1,1797.9 736.2,1796.3 737.3,1799.3 738.5,1797.0 739.6,1797.7 740.7,1799.6 741.8,1800.8 742.9,1802.3 744.1,1801.5 745.2,1800.7 746.3,1802.6 747.4,1802.8 748.5,1801.4 749.7,1805.2 750.8,1804.7 751.9,1804.3 753.0,1805.6 754.2,1806.5 755.3,1807.8 756.4,1804.8 757.5,1809.5 758.6,1810.8 759.8,1809.5 760.9,1808.1 762.0,1809.3 763.1,1812.7 764.2,1811.8 765.4,1813.1 766.5,1814.6 767.6,1814.2 768.7,1814.9 769.9,1816.5 771.0,1814.0 772.1,1818.8 773.2,1816.0 774.3,1815.2 775.5,1815.8 776.6,1820.1 777.7,1821.7 778.8,1825.1 779.9,1822.7 781.1,1818.4 782.2,1827.0 783.3,1827.6 784.4,1823.5 785.6,1824.6 786.7,1830.1 787.8,1827.3 788.9,1827.2 790.0,1831.6 791.2,1827.4 792.3,1832.6 793.4,1828.5 794.5,1831.1 795.6,1833.6 796.8,1836.1 797.9,1834.4 799.0,1834.6 800.1,1835.4 801.3,1837.0 802.4,1836.9 803.5,1835.5 804.6,1839.6 805.7,1838.8 806.9,1838.1 808.0,1839.6 809.1,1838.4 810.2,1837.6 811.4,1841.9 812.5,1841.5 813.6,1848.4 814.7,1844.1 815.8,1843.0 817.0,1847.5 818.1,1843.8 819.2,1851.4 820.3,1846.3 821.4,1851.4 822.6,1853.8 823.7,1854.3 824.8,1855.5 825.9,1858.7 827.1,1861.2 828.2,1861.6 829.3,1860.9 830.4,1864.4 831.5,1865.2 832.7,1871.7 833.8,1874.0 834.9,1876.7 836.0,1878.6 837.1,1880.9 838.3,1881.3 839.4,1886.5 840.5,1890.9 841.6,1891.9 842.8,1899.6 843.9,1904.3 845.0,1904.3 846.1,1909.8 847.2,1914.8 848.4,1918.2 849.5,1925.7 850.6,1929.8 851.7,1932.8 852.8,1936.0 854.0,1939.1 855.1,1944.5 856.2,1947.2 857.3,1954.6 858.5,1948.2 859.6,1952.7 860.7,1946.9 861.8,1937.9 862.9,1939.0 864.1,1936.9 865.2,1926.2 866.3,1925.8 867.4,1920.0 868.5,1914.4 869.7,1906.4 870.8,1899.3 871.9,1892.7 873.0,1879.1 874.2,1870.8 875.3,1856.1 876.4,1847.8 877.5,1834.3 878.6,1826.8 879.8,1817.7 880.0,1812.0 880.3,1815.4 880.6,1813.7 880.9,1808.5 881.2,1808.3 881.4,1806.8 881.7,1804.5 882.0,1798.3 882.3,1802.9 882.6,1799.9 882.8,1797.6 883.1,1798.6 883.4,1795.8 883.7,1794.0 884.0,1796.2 884.2,1791.9 884.5,1796.3 884.8,1794.2 885.1,1793.1 885.4,1787.4 885.6,1797.0 885.9,1792.9 886.2,1788.4 886.5,1794.4 886.8,1791.0 887.1,1792.6 887.3,1795.8 887.6,1792.1 887.9,1794.5 888.2,1792.5 888.5,1795.6 888.7,1791.1 889.0,1797.2 889.3,1792.7 889.6,1789.7 889.9,1791.2 890.1,1792.8 890.4,1792.5 890.7,1792.8 891.0,1786.5 891.3,1791.9 891.5,1791.8 891.8,1793.1 892.1,1792.5 892.4,1790.3 892.7,1792.7 892.9,1793.0 893.2,1792.5 893.5,1792.1 893.8,1791.1 894.1,1792.4 894.3,1791.8 894.6,1792.9 894.9,1788.9 895.2,1791.2 895.5,1792.0 895.7,1790.8 896.0,1791.4 896.3,1794.4 896.6,1791.7 896.9,1788.1 897.1,1790.3 897.4,1789.0 897.7,1792.7 898.0,1794.3 898.3,1792.8 898.5,1788.7 898.8,1793.4 899.1,1793.0 899.4,1789.2 899.7,1791.9 899.9,1791.8 900.2,1790.8 900.5,1791.4 900.8,1792.3 901.1,1791.3 901.4,1793.3 901.6,1792.0 901.9,1790.7 902.2,1794.0 902.5,1792.3 902.8,1794.2 903.0,1790.4 903.3,1790.6 903.6,1790.0 903.9,1789.8 904.2,1789.7 904.4,1790.3 904.7,1793.2 905.0,1789.8 905.3,1793.4 905.6,1787.0 905.8,1791.0 906.1,1790.4 906.4,1793.9 906.7,1789.4 907.0,1789.1 907.2,1794.5 907.5,1792.5 907.8,1792.3 908.1,1792.6 908.4,1788.8 908.6,1788.0 908.9,1795.1 909.2,1791.7 909.5,1795.0 909.8,1792.5 910.0,1800.8 910.3,1797.5 910.6,1795.0 910.9,1799.6 911.2,1796.5 911.4,1800.6 911.7,1797.8 912.0,1798.8 912.3,1800.8 912.6,1801.4 912.8,1800.2 913.1,1797.5 913.4,1799.8 913.7,1801.1 914.0,1793.2 914.2,1802.8 914.5,1800.1 914.8,1798.5 915.1,1801.6 915.4,1799.5 915.6,1800.3 915.9,1802.3 916.2,1798.3 916.5,1801.4 916.8,1800.5 917.1,1796.5 917.3,1801.0 917.6,1797.5 917.9,1796.2 918.2,1796.4 918.5,1796.6 918.7,1796.1 919.0,1796.5 919.3,1791.6 919.6,1789.2 919.9,1789.4 920.1,1788.6 920.4,1784.9 920.7,1788.6 921.0,1785.6 921.3,1787.3 921.5,1790.0 921.8,1785.1 922.1,1788.6 922.4,1790.4 922.7,1796.1 922.9,1795.5 923.2,1796.6 923.5,1798.7 923.8,1793.5 924.1,1800.3 924.3,1794.5 924.6,1798.7 924.9,1796.9 925.2,1795.3 925.5,1790.5 925.7,1791.9 926.0,1791.0 926.3,1790.5 926.6,1790.8 926.9,1788.7 927.1,1788.8 927.4,1787.4 927.7,1787.4 928.0,1791.3 928.3,1787.8 928.5,1784.0 928.8,1787.3 929.1,1786.4 929.4,1787.5 929.7,1787.3 929.9,1785.8 930.2,1788.0 930.5,1785.4 930.8,1787.9 931.1,1783.5 931.4,1786.8 931.6,1781.8 931.9,1780.6 932.2,1785.2 932.5,1780.0 932.8,1781.5 933.0,1777.7 933.3,1780.4 933.6,1779.3 933.9,1778.6 934.2,1774.9 934.4,1780.6 934.7,1774.6 935.0,1775.2 935.3,1775.6 935.6,1774.3 935.8,1771.3 936.1,1770.8 936.4,1768.3 936.7,1772.1 937.0,1773.8 937.2,1770.3 937.5,1768.5 937.8,1767.9 938.1,1763.6 938.4,1760.4 938.6,1763.0 938.9,1766.1 939.2,1759.4 939.5,1761.9 939.8,1759.8 940.0,1757.4 940.3,1757.5 940.6,1757.6 940.9,1756.0 941.2,1754.3 941.4,1753.7 941.7,1750.1 942.0,1759.4 942.3,1754.4 942.6,1753.3 942.8,1749.8 943.1,1750.3 943.4,1748.3 943.7,1752.1 944.0,1748.6 944.2,1745.7 944.5,1746.0 944.8,1745.5 945.9,1739.3 947.1,1731.4 948.2,1733.1 949.3,1719.4 950.4,1714.6 951.5,1708.2 952.7,1695.3 953.8,1685.6 954.9,1671.3 956.0,1662.3 957.1,1644.1 958.3,1630.6 959.4,1609.1 960.5,1587.9 961.6,1568.1 962.8,1545.0 963.9,1524.0 965.0,1495.0 966.1,1472.3 967.2,1448.8 968.4,1425.4 969.5,1403.7 970.6,1385.5 971.7,1365.6 972.8,1353.2 974.0,1339.4 975.1,1335.0 976.2,1328.8 977.3,1324.1 978.5,1328.6 979.6,1333.2 980.7,1340.8 981.8,1352.3 982.9,1366.5 984.1,1386.2 985.2,1411.5 986.3,1433.6 987.4,1460.5 988.5,1483.9 989.7,1514.3 990.8,1536.2 991.9,1562.1 993.0,1585.5 994.2,1609.1 995.3,1626.3 996.4,1646.7 997.5,1661.8 998.6,1677.6 999.8,1689.3 1000.9,1697.9 1002.0,1706.2 1003.1,1720.3 1004.2,1725.8 1005.4,1730.8 1006.5,1737.2 1007.6,1742.7 1008.7,1741.9 1009.9,1751.5 1011.0,1752.2 1012.1,1756.1 1013.2,1757.1 1014.3,1763.0 1015.5,1758.2 1016.6,1761.7 1017.7,1764.4 1018.8,1760.3 1019.9,1765.2 1021.1,1766.7 1022.2,1768.1 1023.3,1765.1 1024.4,1767.9 1025.6,1769.3 1026.7,1772.0 1027.8,1771.9 1028.9,1770.1 1030.0,1771.6 1031.2,1776.2 1032.3,1774.7 1033.4,1773.3 1034.5,1769.2 1035.7,1776.8 1036.8,1780.4 1037.9,1775.3 1039.0,1778.4 1040.1,1780.8 1041.3,1777.7 1042.4,1779.9 1043.5,1781.9 1044.6,1783.1 1045.7,1781.2 1046.9,1781.2 1048.0,1785.2 1049.1,1780.0 1050.2,1784.6 1051.4,1779.5 1052.5,1781.7 1053.6,1782.8 1054.7,1781.8 1055.8,1783.7 1057.0,1782.7 1058.1,1779.3 1059.2,1783.7 1060.3,1780.9 1061.4,1784.3 1062.6,1782.6 1063.7,1780.6 1064.8,1784.9 1065.9,1781.8 1067.1,1786.7 1068.2,1784.7 1069.3,1783.2 1070.4,1780.6 1071.5,1780.9 1072.7,1784.1 1073.8,1782.5 1074.9,1781.9 1076.0,1785.3 1077.1,1781.3 1078.3,1779.5 1079.4,1779.6 1080.5,1783.2 1081.6,1782.8 1082.8,1783.8 1083.9,1782.9 1085.0,1782.4 1086.1,1780.5 1087.2,1781.7 1088.4,1783.6 1089.5,1780.2 1090.6,1780.0 1091.7,1782.9 1092.8,1782.2 1094.0,1781.9 1095.1,1784.9 1096.2,1781.3 1097.3,1780.3 1098.5,1777.7 1099.6,1781.2 1100.7,1782.1 1101.8,1781.8 1102.9,1780.2 1104.1,1779.9 1105.2,1783.1 1106.3,1781.0 1107.4,1780.1 1108.5,1785.3 1109.7,1778.6 1110.8,1781.7 1111.9,1779.5 1113.0,1781.3 1114.2,1781.7 1115.3,1781.3 1116.4,1780.6 1117.5,1779.4 1118.6,1781.6 1119.8,1783.3 1120.9,1782.4 1122.0,1783.0 1123.1,1779.5 1124.2,1782.9 1125.4,1778.0 1126.5,1780.7 1127.6,1781.1 1128.7,1778.3 1129.9,1781.6 1131.0,1781.4 1132.1,1779.3 1133.2,1779.4 1134.3,1782.8 1135.5,1775.9 1136.6,1779.6 1137.7,1783.2 1138.8,1781.0 1139.9,1778.9" fill="none" stroke="#dc1450" stroke-width="7.5" stroke-linejoin="round" stroke-linecap="round" />
<polyline points="202.4,1805.0 203.5,1809.0 204.6,1811.8 205.7,1816.9 206.9,1819.0 208.0,1822.8 209.1,1826.3 210.2,1826.1 211.3,1829.7 212.5,1828.7 213.6,1828.8 214.7,1829.9 215.8,1829.3 217.0,1828.3 218.1,1827.1 219.2,1825.4 220.3,1825.9 221.4,1823.3 222.6,1823.4 223.7,1823.4 224.8,1821.3 225.9,1818.3 227.0,1816.4 228.2,1813.6 229.3,1810.5 230.4,1809.0 231.5,1806.3 232.7,1805.9 233.8,1804.2 234.9,1802.8 236.0,1801.3 237.1,1798.1 238.3,1795.9 239.4,1794.7 240.5,1793.0 241.6,1789.7 242.8,1791.7 243.9,1789.7 245.0,1788.7 246.1,1787.8 247.2,1784.1 248.4,1783.9 249.5,1780.9 250.6,1781.6 251.7,1777.0 252.8,1774.9 254.0,1776.2 255.1,1773.3 256.2,1771.0 257.3,1767.5 258.5,1766.1 259.6,1760.7 260.7,1756.4 261.8,1753.3 262.9,1750.3 264.1,1743.9 265.2,1738.5 266.3,1732.2 267.4,1728.0 268.5,1722.1 269.7,1713.5 270.8,1706.8 271.9,1699.9 273.0,1694.7 274.2,1688.5 275.3,1684.1 276.4,1681.8 277.5,1675.3 278.6,1670.5 279.8,1667.0 280.9,1661.4 282.0,1659.2 283.1,1654.2 284.2,1652.7 285.4,1648.6 286.5,1646.6 287.6,1644.8 288.7,1643.1 289.9,1640.0 291.0,1638.7 292.1,1639.0 293.2,1638.9 294.3,1638.0 295.5,1636.0 296.6,1637.6 297.7,1635.3 298.8,1638.5 299.9,1637.2 301.1,1637.7 302.2,1637.9 303.3,1640.2 304.4,1640.8 305.6,1641.1 306.7,1638.0 307.8,1637.6 308.9,1636.1 310.0,1633.9 311.2,1630.8 312.3,1628.4 313.4,1624.5 314.5,1625.1 315.6,1619.4 316.8,1617.9 317.9,1614.4 319.0,1611.6 320.1,1608.6 321.3,1605.2 322.4,1603.3 323.5,1602.5 324.6,1599.0 325.7,1597.5 326.9,1596.4 328.0,1596.6 329.1,1597.0 330.2,1596.4 331.3,1599.1 332.5,1597.2 333.6,1602.2 334.7,1605.4 335.8,1606.6 337.0,1609.6 338.1,1613.0 339.2,1616.9 340.3,1622.3 341.4,1627.5 342.6,1632.3 343.7,1638.0 344.8,1644.1 345.9,1648.0 347.0,1654.1 348.2,1662.5 349.3,1669.6 350.4,1676.8 351.5,1684.9 352.7,1690.8 353.8,1697.8 354.9,1704.8 356.0,1713.4 357.1,1721.9 358.3,1726.7 359.4,1732.4 360.5,1742.5 361.6,1746.4 362.8,1751.3 363.9,1758.9 365.0,1764.5 366.1,1767.9 367.2,1772.5 368.4,1776.6 369.5,1777.5 370.6,1780.5 371.7,1783.9 372.8,1786.8 374.0,1788.8 375.1,1789.0 376.2,1791.3 377.3,1790.6 378.5,1791.6 379.6,1794.0 380.7,1793.1 381.8,1792.5 382.9,1793.6 384.1,1795.3 385.2,1794.8 386.3,1795.0 387.4,1794.6 388.5,1794.7 389.7,1795.2 390.8,1794.0 391.9,1793.5 393.0,1795.5 394.2,1796.4 395.3,1794.6 396.4,1795.0 397.5,1794.6 398.6,1795.7 399.8,1794.7 400.9,1795.9 402.0,1794.0 403.1,1793.4 404.2,1796.0 405.4,1797.7 406.5,1795.6 407.6,1795.6 408.7,1794.9 409.9,1795.1 411.0,1794.7 412.1,1792.5 413.2,1795.7 414.3,1795.5 415.5,1794.7 416.6,1797.0 417.7,1794.4 418.8,1795.8 419.9,1796.6 421.1,1796.0 422.2,1794.7 423.3,1794.3 424.4,1793.9 425.6,1794.7 426.7,1795.9 427.8,1794.6 428.9,1795.2 430.0,1792.9 431.2,1797.2 432.3,1793.6 433.4,1794.4 434.5,1794.8 435.6,1795.3 436.8,1795.7 437.9,1796.1 439.0,1796.7 440.1,1793.1 441.3,1794.2 442.4,1794.5 443.5,1794.8 444.6,1797.0 445.7,1795.4 446.9,1795.0 448.0,1794.0 449.1,1796.1 450.2,1794.9 451.3,1795.4 452.5,1795.1 453.6,1795.9 454.7,1794.8 455.8,1795.1 457.0,1797.0 458.1,1793.9 459.2,1793.0 460.3,1796.0 461.4,1794.0 462.6,1796.1 463.7,1795.7 464.8,1793.4 465.9,1794.9 467.0,1793.6 468.2,1794.8 469.3,1794.1 470.4,1795.3 471.5,1793.7 472.7,1793.4 473.8,1794.5 474.9,1795.7 476.0,1795.5 477.1,1796.1 478.3,1794.5 479.4,1794.6 480.5,1795.8 481.6,1794.2 482.8,1795.7 483.9,1793.3 485.0,1794.3 486.1,1793.5 487.2,1795.8 488.4,1796.1 489.5,1796.9 490.6,1794.5 491.7,1796.2 492.8,1793.8 494.0,1795.0 495.1,1794.4 496.2,1796.4 497.3,1795.7 498.5,1794.9 499.6,1794.4 500.7,1796.4 501.8,1794.8 502.9,1795.9 504.1,1794.3 505.2,1795.3 506.3,1795.4 507.4,1794.7 508.5,1794.0 509.7,1795.3 510.8,1793.9 511.9,1796.1 513.0,1794.8 514.2,1796.2 515.3,1794.9 516.4,1796.0 517.5,1795.1 518.6,1794.5 519.8,1796.1 520.9,1796.8 522.0,1795.3 523.1,1794.6 524.2,1794.9 525.4,1796.0 526.5,1794.3 527.6,1795.4 528.7,1794.4 529.9,1796.0 531.0,1794.7 532.1,1794.0 533.2,1795.8 534.3,1795.4 535.5,1794.5 536.6,1794.6 537.7,1794.8 538.8,1795.2 539.9,1796.6 541.1,1795.1 542.2,1796.4 543.3,1795.0 544.4,1797.4 545.6,1793.7 546.7,1793.3 547.8,1794.7 548.9,1795.9 550.0,1795.4 551.2,1794.2 552.3,1794.5 553.4,1795.8 554.5,1793.9 555.6,1794.4 556.8,1794.6 557.9,1795.5 559.0,1795.1 560.1,1795.8 561.3,1794.9 562.4,1795.8 563.5,1794.0 564.6,1795.1 565.7,1794.9 566.9,1794.8 568.0,1794.8 569.1,1796.5 570.2,1793.9 571.3,1795.0 572.5,1795.7 573.6,1796.1 574.7,1795.8 575.8,1795.7 577.0,1795.1 578.1,1796.0 579.2,1795.0 580.3,1795.0 581.4,1795.8 582.6,1793.0 583.7,1795.2 584.8,1794.8 585.9,1795.0 587.1,1795.3 588.2,1794.5 589.3,1793.8 590.4,1795.2 591.5,1796.0 592.7,1794.6 593.8,1797.2 594.9,1795.0 596.0,1795.3 597.1,1794.8 598.3,1796.6 599.4,1795.6 600.5,1796.1 601.6,1795.7 602.8,1794.6 603.9,1795.3 605.0,1795.7 606.1,1794.0 607.2,1795.1 608.4,1797.1 609.5,1796.2 610.6,1794.8 611.7,1794.7 612.8,1794.9 614.0,1794.9 615.1,1796.0 616.2,1795.3 617.3,1796.3 618.5,1796.0 619.6,1796.1 620.7,1796.0 621.8,1795.5 622.9,1795.4 624.1,1796.0 625.2,1794.1 626.3,1795.6 627.4,1793.7 628.5,1794.2 629.7,1796.4 630.8,1794.3 631.9,1796.6 633.0,1793.8 634.2,1794.9 635.3,1796.2 636.4,1797.3 637.5,1795.6 638.6,1796.5 639.8,1794.2 640.9,1796.4 642.0,1795.4 643.1,1794.7 644.2,1795.2 645.4,1795.0 646.5,1795.5 647.6,1794.5 648.7,1796.1 649.9,1794.7 651.0,1796.4 652.1,1795.1 653.2,1796.3 654.3,1795.4 655.5,1794.7 656.6,1794.0 657.7,1797.0 658.8,1796.0 659.9,1796.2 661.1,1794.1 662.2,1796.1 663.3,1794.6 664.4,1795.7 665.6,1796.6 666.7,1795.1 667.8,1796.4 668.9,1794.5 670.0,1794.4 671.2,1794.0 672.3,1796.2 673.4,1793.7 674.5,1794.3 675.6,1797.0 676.8,1793.1 677.9,1793.6 679.0,1796.3 680.1,1794.9 681.3,1796.6 682.4,1795.4 683.5,1795.1 684.6,1794.7 685.7,1796.1 686.9,1795.3 688.0,1796.2 689.1,1794.9 690.2,1794.6 691.3,1795.2 692.5,1794.1 693.6,1794.5 694.7,1794.9 695.8,1794.1 697.0,1796.5 698.1,1795.3 699.2,1797.0 700.3,1795.3 701.4,1795.7 702.6,1794.4 703.7,1795.7 704.8,1795.9 705.9,1795.3 707.1,1795.4 708.2,1794.8 709.3,1796.1 710.4,1796.7 711.5,1796.8 712.7,1794.1 713.8,1796.5 714.9,1796.2 716.0,1797.4 717.1,1793.6 718.3,1796.4 719.4,1793.0 720.5,1796.8 721.6,1794.9 722.8,1794.1 723.9,1793.8 725.0,1798.1 726.1,1796.5 727.2,1796.1 728.4,1799.6 729.5,1794.8 730.6,1795.5 731.7,1795.4 732.8,1799.3 734.0,1796.4 735.1,1796.0 736.2,1795.0 737.3,1798.3 738.5,1796.4 739.6,1794.5 740.7,1799.8 741.8,1800.6 742.9,1801.3 744.1,1804.4 745.2,1803.2 746.3,1800.2 747.4,1806.1 748.5,1805.6 749.7,1803.6 750.8,1805.6 751.9,1807.1 753.0,1808.9 754.2,1809.3 755.3,1809.8 756.4,1809.3 757.5,1811.3 758.6,1810.4 759.8,1816.7 760.9,1812.2 762.0,1815.6 763.1,1815.4 764.2,1817.0 765.4,1815.7 766.5,1817.9 767.6,1817.3 768.7,1820.8 769.9,1819.6 771.0,1818.4 772.1,1819.3 773.2,1822.9 774.3,1822.7 775.5,1824.5 776.6,1824.7 777.7,1825.2 778.8,1823.6 779.9,1825.6 781.1,1824.6 782.2,1825.2 783.3,1831.4 784.4,1829.1 785.6,1831.3 786.7,1834.4 787.8,1834.1 788.9,1833.8 790.0,1830.3 791.2,1834.2 792.3,1835.6 793.4,1836.1 794.5,1838.4 795.6,1837.4 796.8,1838.8 797.9,1842.6 799.0,1841.3 800.1,1834.6 801.3,1840.7 802.4,1842.9 803.5,1842.2 804.6,1846.1 805.7,1844.7 806.9,1843.9 808.0,1849.3 809.1,1848.2 810.2,1848.2 811.4,1848.7 812.5,1849.9 813.6,1849.2 814.7,1848.7 815.8,1851.0 817.0,1850.9 818.1,1852.1 819.2,1856.7 820.3,1856.5 821.4,1859.3 822.6,1859.0 823.7,1862.8 824.8,1864.3 825.9,1862.7 827.1,1868.4 828.2,1873.4 829.3,1872.7 830.4,1875.2 831.5,1879.7 832.7,1881.7 833.8,1883.0 834.9,1889.2 836.0,1891.8 837.1,1896.2 838.3,1897.6 839.4,1902.1 840.5,1907.4 841.6,1909.8 842.8,1910.0 843.9,1921.0 845.0,1924.9 846.1,1926.7 847.2,1935.7 848.4,1935.1 849.5,1947.4 850.6,1952.3 851.7,1955.3 852.8,1956.5 854.0,1961.5 855.1,1966.1 856.2,1970.1 857.3,1970.6 858.5,1977.5 859.6,1972.3 860.7,1966.9 861.8,1967.2 862.9,1959.3 864.1,1952.2 865.2,1947.1 866.3,1944.5 867.4,1934.8 868.5,1931.0 869.7,1922.7 870.8,1918.8 871.9,1908.5 873.0,1895.7 874.2,1876.6 875.3,1871.2 876.4,1857.8 877.5,1840.2 878.6,1829.7 879.8,1825.7 880.0,1818.6 880.3,1816.5 880.6,1811.6 880.9,1815.5 881.2,1810.8 881.4,1805.7 881.7,1804.3 882.0,1805.7 882.3,1802.7 882.6,1803.3 882.8,1796.4 883.1,1798.5 883.4,1794.2 883.7,1794.3 884.0,1797.1 884.2,1795.5 884.5,1794.0 884.8,1794.4 885.1,1792.3 885.4,1793.1 885.6,1794.6 885.9,1793.9 886.2,1796.6 886.5,1796.3 886.8,1794.0 887.1,1794.6 887.3,1797.3 887.6,1795.4 887.9,1796.7 888.2,1796.3 888.5,1792.7 888.7,1797.0 889.0,1796.4 889.3,1794.1 889.6,1795.0 889.9,1794.9 890.1,1798.0 890.4,1795.2 890.7,1795.9 891.0,1796.7 891.3,1796.3 891.5,1795.7 891.8,1793.6 892.1,1791.6 892.4,1795.0 892.7,1792.3 892.9,1795.0 893.2,1798.0 893.5,1795.1 893.8,1792.7 894.1,1792.5 894.3,1796.9 894.6,1790.9 894.9,1796.6 895.2,1796.6 895.5,1796.1 895.7,1792.4 896.0,1794.4 896.3,1793.4 896.6,1799.4 896.9,1795.2 897.1,1795.3 897.4,1793.7 897.7,1796.0 898.0,1792.8 898.3,1796.3 898.5,1797.7 898.8,1798.1 899.1,1792.6 899.4,1793.5 899.7,1796.4 899.9,1792.8 900.2,1795.2 900.5,1795.1 900.8,1797.6 901.1,1795.9 901.4,1794.6 901.6,1794.4 901.9,1795.8 902.2,1792.8 902.5,1792.0 902.8,1796.2 903.0,1793.9 903.3,1797.5 903.6,1790.7 903.9,1790.2 904.2,1785.6 904.4,1781.8 904.7,1779.5 905.0,1773.9 905.3,1774.3 905.6,1770.6 905.8,1766.4 906.1,1764.5 906.4,1761.3 906.7,1759.5 907.0,1758.0 907.2,1752.5 907.5,1751.0 907.8,1746.7 908.1,1745.9 908.4,1749.0 908.6,1749.7 908.9,1749.1 909.2,1749.5 909.5,1752.0 909.8,1745.0 910.0,1747.3 910.3,1753.6 910.6,1769.1 910.9,1776.9 911.2,1787.4 911.4,1798.1 911.7,1806.0 912.0,1810.2 912.3,1807.5 912.6,1804.2 912.8,1806.0 913.1,1800.3 913.4,1797.5 913.7,1790.1 914.0,1789.3 914.2,1788.0 914.5,1788.6 914.8,1790.5 915.1,1787.3 915.4,1791.2 915.6,1793.8 915.9,1790.2 916.2,1789.5 916.5,1791.9 916.8,1791.7 917.1,1790.5 917.3,1789.4 917.6,1791.1 917.9,1788.9 918.2,1791.5 918.5,1788.0 918.7,1794.5 919.0,1790.1 919.3,1791.2 919.6,1791.5 919.9,1794.1 920.1,1789.5 920.4,1791.9 920.7,1793.3 921.0,1792.6 921.3,1791.7 921.5,1791.0 921.8,1792.9 922.1,1792.8 922.4,1790.2 922.7,1791.0 922.9,1787.1 923.2,1791.5 923.5,1789.3 923.8,1787.3 924.1,1790.9 924.3,1788.5 924.6,1789.8 924.9,1790.1 925.2,1787.1 925.5,1792.0 925.7,1791.1 926.0,1793.3 926.3,1790.0 926.6,1787.8 926.9,1790.1 927.1,1788.0 927.4,1790.9 927.7,1787.2 928.0,1789.5 928.3,1790.0 928.5,1785.9 928.8,1789.0 929.1,1787.8 929.4,1788.5 929.7,1787.2 929.9,1788.0 930.2,1790.1 930.5,1786.9 930.8,1786.1 931.1,1785.7 931.4,1786.3 931.6,1781.8 931.9,1786.0 932.2,1783.7 932.5,1782.8 932.8,1784.5 933.0,1783.9 933.3,1779.5 933.6,1778.7 933.9,1778.8 934.2,1781.3 934.4,1777.9 934.7,1776.1 935.0,1774.5 935.3,1772.5 935.6,1773.1 935.8,1771.3 936.1,1769.1 936.4,1775.8 936.7,1768.6 937.0,1770.4 937.2,1767.7 937.5,1767.2 937.8,1768.6 938.1,1767.3 938.4,1763.8 938.6,1763.9 938.9,1761.1 939.2,1762.1 939.5,1756.2 939.8,1759.6 940.0,1754.1 940.3,1758.3 940.6,1754.6 940.9,1752.3 941.2,1755.7 941.4,1753.8 941.7,1750.0 942.0,1747.4 942.3,1745.7 942.6,1746.0 942.8,1743.8 943.1,1746.7 943.4,1744.0 943.7,1739.2 944.0,1741.7 944.2,1739.7 944.5,1741.2 944.8,1737.0 945.9,1734.0 947.1,1724.1 948.2,1715.3 949.3,1709.9 950.4,1701.4 951.5,1692.2 952.7,1678.7 953.8,1668.8 954.9,1653.3 956.0,1633.0 957.1,1622.0 958.3,1600.1 959.4,1578.9 960.5,1549.5 961.6,1526.8 962.8,1502.8 963.9,1474.6 965.0,1439.4 966.1,1409.3 967.2,1380.4 968.4,1355.4 969.5,1327.7 970.6,1303.2 971.7,1284.5 972.8,1271.6 974.0,1257.5 975.1,1246.2 976.2,1235.9 977.3,1236.0 978.5,1238.9 979.6,1244.3 980.7,1256.6 981.8,1272.5 982.9,1286.1 984.1,1308.9 985.2,1335.2 986.3,1364.4 987.4,1393.0 988.5,1426.4 989.7,1459.2 990.8,1494.1 991.9,1520.1 993.0,1547.1 994.2,1569.7 995.3,1594.9 996.4,1615.8 997.5,1636.5 998.6,1653.0 999.8,1668.5 1000.9,1682.3 1002.0,1695.1 1003.1,1704.9 1004.2,1715.7 1005.4,1720.5 1006.5,1727.7 1007.6,1737.2 1008.7,1743.7 1009.9,1744.4 1011.0,1747.5 1012.1,1749.9 1013.2,1748.9 1014.3,1754.4 1015.5,1757.4 1016.6,1755.8 1017.7,1756.1 1018.8,1756.1 1019.9,1762.4 1021.1,1762.0 1022.2,1763.4 1023.3,1760.7 1024.4,1763.1 1025.6,1765.2 1026.7,1764.7 1027.8,1767.6 1028.9,1768.2 1030.0,1768.7 1031.2,1770.5 1032.3,1770.9 1033.4,1770.6 1034.5,1771.7 1035.7,1770.3 1036.8,1772.3 1037.9,1775.0 1039.0,1779.8 1040.1,1779.3 1041.3,1778.2 1042.4,1778.6 1043.5,1781.1 1044.6,1779.9 1045.7,1779.5 1046.9,1781.4 1048.0,1780.8 1049.1,1781.0 1050.2,1782.3 1051.4,1782.8 1052.5,1781.5 1053.6,1780.8 1054.7,1783.4 1055.8,1785.3 1057.0,1783.3 1058.1,1780.5 1059.2,1784.5 1060.3,1779.7 1061.4,1782.6 1062.6,1781.2 1063.7,1782.9 1064.8,1780.3 1065.9,1781.3 1067.1,1780.7 1068.2,1785.0 1069.3,1780.0 1070.4,1784.4 1071.5,1781.9 1072.7,1780.2 1073.8,1781.5 1074.9,1780.2 1076.0,1780.8 1077.1,1780.9 1078.3,1782.6 1079.4,1779.1 1080.5,1778.9 1081.6,1781.9 1082.8,1782.6 1083.9,1780.5 1085.0,1782.2 1086.1,1780.5 1087.2,1779.2 1088.4,1779.5 1089.5,1777.9 1090.6,1779.8 1091.7,1782.6 1092.8,1782.2 1094.0,1779.5 1095.1,1776.9 1096.2,1781.2 1097.3,1782.2 1098.5,1777.8 1099.6,1780.6 1100.7,1779.1 1101.8,1778.3 1102.9,1782.2 1104.1,1781.0 1105.2,1781.3 1106.3,1779.3 1107.4,1779.0 1108.5,1781.1 1109.7,1779.1 1110.8,1783.5 1111.9,1779.5 1113.0,1779.5 1114.2,1780.1 1115.3,1782.8 1116.4,1780.2 1117.5,1782.0 1118.6,1777.3 1119.8,1780.5 1120.9,1780.3 1122.0,1780.1 1123.1,1778.9 1124.2,1779.7 1125.4,1778.8 1126.5,1781.5 1127.6,1777.7 1128.7,1780.7 1129.9,1778.3 1131.0,1779.3 1132.1,1777.7 1133.2,1779.8 1134.3,1782.4 1135.5,1781.8 1136.6,1780.0 1137.7,1777.0 1138.8,1780.3 1139.9,1779.4" fill="none" stroke="#0000d2" stroke-width="7.5" stroke-linejoin="round" stroke-linecap="round" />
<polyline points="202.4,1803.0 203.5,1810.0 204.6,1813.5 205.7,1817.5 206.9,1822.0 208.0,1823.9 209.1,1825.6 210.2,1828.0 211.3,1831.5 212.5,1828.7 213.6,1831.6 214.7,1832.3 215.8,1832.6 217.0,1832.7 218.1,1830.4 219.2,1834.4 220.3,1830.8 221.4,1831.9 222.6,1829.9 223.7,1828.5 224.8,1828.1 225.9,1825.6 227.0,1820.7 228.2,1820.6 229.3,1818.0 230.4,1816.6 231.5,1813.5 232.7,1811.3 233.8,1809.9 234.9,1808.6 236.0,1807.0 237.1,1807.5 238.3,1803.3 239.4,1804.2 240.5,1803.3 241.6,1801.5 242.8,1800.8 243.9,1798.1 245.0,1796.4 246.1,1794.2 247.2,1794.1 248.4,1792.9 249.5,1790.5 250.6,1789.4 251.7,1786.6 252.8,1781.0 254.0,1781.6 255.1,1778.4 256.2,1774.2 257.3,1771.4 258.5,1767.2 259.6,1765.1 260.7,1760.9 261.8,1753.3 262.9,1750.4 264.1,1744.4 265.2,1738.4 266.3,1735.0 267.4,1726.8 268.5,1720.1 269.7,1711.0 270.8,1704.1 271.9,1698.9 273.0,1688.9 274.2,1687.0 275.3,1679.1 276.4,1674.3 277.5,1669.4 278.6,1664.1 279.8,1658.6 280.9,1656.3 282.0,1651.7 283.1,1646.1 284.2,1642.8 285.4,1639.6 286.5,1637.5 287.6,1635.8 288.7,1633.9 289.9,1632.2 291.0,1629.5 292.1,1628.1 293.2,1626.9 294.3,1629.9 295.5,1628.6 296.6,1628.1 297.7,1628.4 298.8,1630.1 299.9,1627.2 301.1,1629.1 302.2,1632.0 303.3,1633.2 304.4,1633.1 305.6,1634.2 306.7,1632.3 307.8,1629.4 308.9,1626.4 310.0,1624.9 311.2,1621.9 312.3,1621.9 313.4,1621.8 314.5,1613.9 315.6,1612.9 316.8,1610.5 317.9,1605.6 319.0,1605.8 320.1,1603.1 321.3,1600.6 322.4,1595.8 323.5,1594.4 324.6,1595.8 325.7,1590.6 326.9,1592.4 328.0,1592.3 329.1,1594.6 330.2,1592.6 331.3,1595.6 332.5,1596.5 333.6,1602.2 334.7,1603.8 335.8,1608.3 337.0,1612.7 338.1,1617.9 339.2,1622.7 340.3,1628.5 341.4,1633.4 342.6,1638.4 343.7,1643.5 344.8,1652.1 345.9,1658.1 347.0,1664.5 348.2,1672.9 349.3,1678.7 350.4,1686.0 351.5,1693.1 352.7,1699.5 353.8,1706.2 354.9,1713.8 356.0,1721.9 357.1,1728.9 358.3,1737.5 359.4,1744.2 360.5,1748.2 361.6,1753.8 362.8,1757.2 363.9,1765.2 365.0,1770.9 366.1,1773.8 367.2,1778.5 368.4,1782.2 369.5,1782.1 370.6,1783.7 371.7,1787.6 372.8,1790.5 374.0,1790.9 375.1,1792.2 376.2,1794.5 377.3,1792.5 378.5,1793.6 379.6,1792.9 380.7,1795.3 381.8,1794.7 382.9,1794.9 384.1,1796.8 385.2,1791.9 386.3,1797.3 387.4,1796.2 388.5,1795.3 389.7,1796.7 390.8,1794.4 391.9,1795.5 393.0,1794.9 394.2,1794.7 395.3,1794.9 396.4,1794.9 397.5,1795.2 398.6,1794.6 399.8,1794.1 400.9,1795.4 402.0,1795.6 403.1,1795.6 404.2,1794.8 405.4,1795.6 406.5,1795.6 407.6,1796.9 408.7,1792.9 409.9,1796.6 411.0,1793.2 412.1,1794.2 413.2,1794.0 414.3,1794.9 415.5,1794.6 416.6,1794.8 417.7,1794.5 418.8,1794.2 419.9,1793.4 421.1,1796.3 422.2,1794.6 423.3,1793.3 424.4,1793.5 425.6,1796.4 426.7,1794.8 427.8,1794.8 428.9,1794.9 430.0,1797.8 431.2,1794.1 432.3,1797.1 433.4,1792.6 434.5,1794.4 435.6,1795.3 436.8,1794.4 437.9,1795.0 439.0,1795.8 440.1,1795.3 441.3,1794.7 442.4,1796.1 443.5,1794.3 444.6,1793.8 445.7,1793.9 446.9,1793.7 448.0,1793.6 449.1,1794.3 450.2,1793.6 451.3,1795.1 452.5,1794.6 453.6,1793.4 454.7,1792.8 455.8,1795.6 457.0,1796.9 458.1,1792.6 459.2,1793.8 460.3,1793.0 461.4,1794.1 462.6,1794.8 463.7,1795.9 464.8,1796.3 465.9,1793.4 467.0,1794.0 468.2,1794.7 469.3,1796.5 470.4,1795.8 471.5,1795.9 472.7,1795.5 473.8,1798.6 474.9,1794.9 476.0,1793.3 477.1,1795.8 478.3,1795.1 479.4,1794.8 480.5,1796.3 481.6,1794.6 482.8,1796.1 483.9,1795.7 485.0,1794.8 486.1,1795.2 487.2,1795.0 488.4,1796.2 489.5,1794.3 490.6,1796.4 491.7,1794.1 492.8,1795.7 494.0,1796.5 495.1,1795.2 496.2,1796.4 497.3,1795.8 498.5,1795.3 499.6,1794.2 500.7,1794.2 501.8,1794.5 502.9,1795.5 504.1,1797.0 505.2,1795.4 506.3,1795.5 507.4,1795.3 508.5,1795.8 509.7,1795.8 510.8,1794.2 511.9,1796.7 513.0,1795.1 514.2,1793.6 515.3,1796.1 516.4,1796.3 517.5,1795.4 518.6,1795.5 519.8,1794.8 520.9,1793.5 522.0,1795.3 523.1,1794.5 524.2,1795.8 525.4,1795.7 526.5,1794.8 527.6,1795.9 528.7,1793.7 529.9,1795.6 531.0,1795.3 532.1,1796.4 533.2,1795.7 534.3,1796.3 535.5,1795.7 536.6,1797.3 537.7,1795.1 538.8,1793.0 539.9,1797.4 541.1,1793.0 542.2,1795.3 543.3,1794.1 544.4,1796.3 545.6,1792.7 546.7,1796.4 547.8,1795.2 548.9,1793.2 550.0,1796.7 551.2,1798.0 552.3,1795.2 553.4,1796.1 554.5,1796.3 555.6,1796.2 556.8,1796.9 557.9,1793.4 559.0,1793.7 560.1,1796.8 561.3,1795.3 562.4,1795.7 563.5,1793.8 564.6,1796.1 565.7,1793.2 566.9,1795.1 568.0,1796.1 569.1,1795.2 570.2,1795.8 571.3,1792.4 572.5,1795.0 573.6,1795.7 574.7,1795.0 575.8,1793.3 577.0,1796.3 578.1,1797.2 579.2,1793.5 580.3,1794.4 581.4,1795.7 582.6,1795.2 583.7,1793.8 584.8,1798.5 585.9,1793.6 587.1,1795.4 588.2,1794.3 589.3,1795.2 590.4,1791.4 591.5,1795.9 592.7,1793.8 593.8,1798.3 594.9,1795.1 596.0,1794.2 597.1,1797.0 598.3,1797.6 599.4,1795.0 600.5,1793.9 601.6,1793.7 602.8,1796.0 603.9,1794.7 605.0,1796.9 606.1,1793.0 607.2,1795.8 608.4,1793.6 609.5,1795.5 610.6,1795.5 611.7,1793.2 612.8,1796.2 614.0,1793.6 615.1,1795.6 616.2,1796.2 617.3,1796.2 618.5,1793.8 619.6,1795.2 620.7,1795.6 621.8,1797.0 622.9,1793.7 624.1,1793.9 625.2,1794.7 626.3,1794.2 627.4,1799.1 628.5,1795.8 629.7,1794.9 630.8,1795.0 631.9,1795.8 633.0,1794.9 634.2,1796.0 635.3,1796.0 636.4,1796.7 637.5,1795.0 638.6,1796.0 639.8,1795.8 640.9,1793.4 642.0,1795.2 643.1,1795.2 644.2,1797.0 645.4,1795.8 646.5,1793.9 647.6,1794.5 648.7,1795.1 649.9,1795.4 651.0,1795.1 652.1,1794.7 653.2,1795.6 654.3,1798.2 655.5,1792.7 656.6,1793.7 657.7,1795.3 658.8,1793.4 659.9,1796.8 661.1,1793.6 662.2,1794.9 663.3,1794.1 664.4,1795.6 665.6,1795.0 666.7,1794.4 667.8,1793.9 668.9,1794.5 670.0,1794.6 671.2,1795.9 672.3,1793.0 673.4,1794.9 674.5,1795.4 675.6,1795.6 676.8,1796.6 677.9,1796.1 679.0,1797.0 680.1,1794.9 681.3,1795.3 682.4,1794.9 683.5,1796.7 684.6,1795.7 685.7,1795.9 686.9,1793.9 688.0,1797.0 689.1,1797.0 690.2,1793.6 691.3,1794.7 692.5,1797.1 693.6,1793.5 694.7,1793.3 695.8,1793.7 697.0,1797.7 698.1,1795.0 699.2,1796.2 700.3,1795.5 701.4,1797.1 702.6,1793.0 703.7,1796.0 704.8,1794.8 705.9,1794.2 707.1,1794.4 708.2,1794.6 709.3,1795.6 710.4,1794.9 711.5,1795.4 712.7,1798.0 713.8,1793.9 714.9,1796.7 716.0,1796.5 717.1,1796.2 718.3,1798.7 719.4,1798.3 720.5,1799.8 721.6,1794.3 722.8,1792.6 723.9,1795.4 725.0,1798.5 726.1,1792.6 727.2,1796.7 728.4,1800.0 729.5,1800.8 730.6,1795.9 731.7,1792.9 732.8,1797.6 734.0,1798.4 735.1,1797.7 736.2,1799.3 737.3,1798.8 738.5,1797.4 739.6,1800.4 740.7,1797.1 741.8,1802.7 742.9,1799.5 744.1,1801.5 745.2,1804.3 746.3,1805.2 747.4,1806.3 748.5,1802.3 749.7,1809.4 750.8,1805.3 751.9,1806.6 753.0,1810.8 754.2,1806.9 755.3,1817.7 756.4,1812.1 757.5,1813.3 758.6,1814.4 759.8,1813.3 760.9,1817.3 762.0,1817.6 763.1,1815.2 764.2,1819.3 765.4,1822.4 766.5,1819.3 767.6,1821.8 768.7,1823.9 769.9,1822.0 771.0,1826.1 772.1,1827.5 773.2,1826.5 774.3,1827.2 775.5,1827.5 776.6,1831.4 777.7,1825.0 778.8,1828.4 779.9,1830.6 781.1,1831.2 782.2,1838.8 783.3,1831.2 784.4,1836.9 785.6,1834.0 786.7,1839.1 787.8,1834.6 788.9,1839.2 790.0,1839.3 791.2,1836.0 792.3,1838.2 793.4,1845.0 794.5,1844.3 795.6,1843.1 796.8,1845.1 797.9,1843.5 799.0,1848.1 800.1,1852.0 801.3,1850.6 802.4,1849.7 803.5,1848.7 804.6,1849.1 805.7,1848.6 806.9,1851.9 808.0,1853.6 809.1,1852.1 810.2,1854.9 811.4,1856.5 812.5,1857.4 813.6,1854.9 814.7,1854.6 815.8,1856.2 817.0,1864.7 818.1,1859.5 819.2,1866.5 820.3,1866.3 821.4,1865.9 822.6,1872.5 823.7,1874.3 824.8,1875.2 825.9,1871.5 827.1,1875.3 828.2,1882.9 829.3,1883.3 830.4,1886.5 831.5,1889.4 832.7,1895.5 833.8,1893.8 834.9,1901.9 836.0,1902.6 837.1,1912.6 838.3,1911.5 839.4,1916.2 840.5,1917.4 841.6,1931.6 842.8,1928.4 843.9,1932.6 845.0,1940.3 846.1,1942.3 847.2,1946.8 848.4,1956.4 849.5,1963.1 850.6,1967.8 851.7,1975.1 852.8,1978.1 854.0,1984.6 855.1,1992.6 856.2,1997.4 857.3,1994.7 858.5,1997.1 859.6,1998.9 860.7,1993.6 861.8,1984.9 862.9,1986.8 864.1,1978.7 865.2,1969.0 866.3,1962.7 867.4,1961.0 868.5,1953.2 869.7,1942.2 870.8,1929.9 871.9,1922.4 873.0,1913.5 874.2,1889.1 875.3,1876.6 876.4,1863.5 877.5,1851.0 878.6,1831.8 879.8,1822.7 880.0,1819.5 880.3,1816.9 880.6,1813.9 880.9,1810.2 881.2,1805.2 881.4,1809.3 881.7,1804.2 882.0,1802.5 882.3,1793.8 882.6,1795.4 882.8,1795.7 883.1,1788.9 883.4,1788.1 883.7,1785.9 884.0,1783.3 884.2,1783.8 884.5,1784.0 884.8,1773.1 885.1,1776.9 885.4,1777.5 885.6,1772.3 885.9,1769.2 886.2,1775.4 886.5,1770.9 886.8,1767.7 887.1,1769.1 887.3,1764.6 887.6,1767.4 887.9,1765.0 888.2,1762.7 888.5,1760.3 888.7,1760.3 889.0,1761.1 889.3,1759.4 889.6,1762.7 889.9,1751.2 890.1,1756.5 890.4,1755.3 890.7,1752.9 891.0,1751.2 891.3,1750.7 891.5,1752.3 891.8,1753.7 892.1,1749.1 892.4,1749.6 892.7,1748.4 892.9,1747.0 893.2,1746.3 893.5,1743.6 893.8,1747.1 894.1,1750.9 894.3,1745.1 894.6,1744.1 894.9,1750.4 895.2,1744.8 895.5,1745.7 895.7,1747.4 896.0,1745.5 896.3,1744.9 896.6,1744.3 896.9,1743.2 897.1,1746.4 897.4,1746.7 897.7,1741.0 898.0,1749.9 898.3,1748.2 898.5,1748.7 898.8,1746.2 899.1,1745.6 899.4,1751.9 899.7,1745.9 899.9,1752.1 900.2,1744.1 900.5,1753.5 900.8,1750.4 901.1,1755.1 901.4,1754.0 901.6,1759.0 901.9,1757.3 902.2,1757.5 902.5,1757.3 902.8,1755.5 903.0,1758.5 903.3,1758.2 903.6,1760.6 903.9,1757.7 904.2,1758.5 904.4,1755.1 904.7,1755.5 905.0,1758.9 905.3,1756.0 905.6,1753.8 905.8,1757.5 906.1,1759.8 906.4,1750.8 906.7,1755.5 907.0,1755.1 907.2,1750.5 907.5,1758.6 907.8,1755.9 908.1,1761.2 908.4,1759.1 908.6,1768.9 908.9,1781.4 909.2,1791.2 909.5,1799.1 909.8,1808.8 910.0,1813.9 910.3,1828.0 910.6,1837.4 910.9,1847.1 911.2,1860.2 911.4,1867.1 911.7,1875.0 912.0,1871.5 912.3,1877.3 912.6,1874.7 912.8,1871.4 913.1,1877.4 913.4,1876.1 913.7,1869.9 914.0,1875.7 914.2,1872.6 914.5,1871.9 914.8,1875.3 915.1,1877.0 915.4,1869.1 915.6,1874.4 915.9,1870.8 916.2,1873.1 916.5,1869.5 916.8,1872.8 917.1,1872.1 917.3,1870.4 917.6,1868.5 917.9,1867.6 918.2,1866.0 918.5,1854.4 918.7,1833.5 919.0,1806.7 919.3,1787.9 919.6,1763.7 919.9,1741.2 920.1,1719.2 920.4,1728.3 920.7,1719.1 921.0,1727.6 921.3,1719.6 921.5,1727.2 921.8,1747.0 922.1,1770.9 922.4,1787.0 922.7,1812.1 922.9,1839.7 923.2,1864.4 923.5,1862.2 923.8,1857.3 924.1,1853.5 924.3,1851.9 924.6,1839.7 924.9,1824.4 925.2,1811.7 925.5,1798.0 925.7,1787.5 926.0,1779.3 926.3,1766.6 926.6,1755.9 926.9,1748.0 927.1,1745.4 927.4,1748.5 927.7,1745.6 928.0,1747.6 928.3,1740.8 928.5,1742.9 928.8,1745.1 929.1,1748.8 929.4,1748.5 929.7,1743.4 929.9,1745.2 930.2,1743.6 930.5,1747.8 930.8,1747.1 931.1,1742.5 931.4,1742.6 931.6,1744.7 931.9,1742.6 932.2,1737.9 932.5,1740.0 932.8,1736.6 933.0,1733.1 933.3,1736.0 933.6,1736.7 933.9,1738.6 934.2,1734.3 934.4,1740.9 934.7,1740.2 935.0,1736.5 935.3,1739.1 935.6,1732.1 935.8,1735.1 936.1,1731.3 936.4,1732.4 936.7,1731.2 937.0,1729.5 937.2,1732.8 937.5,1726.6 937.8,1721.1 938.1,1710.5 938.4,1709.9 938.6,1706.1 938.9,1706.3 939.2,1697.5 939.5,1697.7 939.8,1700.0 940.0,1696.4 940.3,1707.3 940.6,1707.6 940.9,1706.7 941.2,1709.4 941.4,1707.9 941.7,1710.0 942.0,1714.6 942.3,1717.6 942.6,1720.1 942.8,1722.5 943.1,1729.2 943.4,1732.5 943.7,1731.2 944.0,1733.5 944.2,1733.3 944.5,1729.2 944.8,1729.3 945.9,1722.1 947.1,1716.0 948.2,1707.2 949.3,1698.6 950.4,1693.7 951.5,1683.9 952.7,1664.8 953.8,1656.8 954.9,1644.0 956.0,1628.8 957.1,1605.9 958.3,1586.0 959.4,1565.1 960.5,1537.4 961.6,1511.0 962.8,1478.9 963.9,1451.4 965.0,1419.8 966.1,1390.6 967.2,1358.1 968.4,1328.1 969.5,1302.3 970.6,1275.3 971.7,1256.9 972.8,1237.4 974.0,1222.5 975.1,1214.2 976.2,1202.1 977.3,1201.1 978.5,1203.8 979.6,1216.2 980.7,1227.3 981.8,1240.8 982.9,1260.9 984.1,1280.2 985.2,1308.8 986.3,1337.5 987.4,1369.9 988.5,1406.1 989.7,1434.9 990.8,1472.1 991.9,1502.3 993.0,1527.8 994.2,1554.8 995.3,1577.7 996.4,1596.8 997.5,1623.5 998.6,1638.3 999.8,1657.3 1000.9,1669.6 1002.0,1684.0 1003.1,1694.7 1004.2,1699.7 1005.4,1709.6 1006.5,1716.2 1007.6,1725.3 1008.7,1724.5 1009.9,1733.8 1011.0,1738.7 1012.1,1740.0 1013.2,1740.4 1014.3,1742.2 1015.5,1742.3 1016.6,1750.1 1017.7,1750.1 1018.8,1746.6 1019.9,1746.1 1021.1,1754.4 1022.2,1754.2 1023.3,1758.8 1024.4,1758.0 1025.6,1759.0 1026.7,1758.0 1027.8,1761.6 1028.9,1757.3 1030.0,1760.6 1031.2,1762.1 1032.3,1760.2 1033.4,1764.1 1034.5,1767.5 1035.7,1765.4 1036.8,1761.1 1037.9,1767.2 1039.0,1767.1 1040.1,1769.8 1041.3,1770.7 1042.4,1769.7 1043.5,1778.2 1044.6,1775.5 1045.7,1774.5 1046.9,1774.3 1048.0,1770.5 1049.1,1768.4 1050.2,1773.1 1051.4,1773.9 1052.5,1773.3 1053.6,1771.4 1054.7,1777.7 1055.8,1776.5 1057.0,1774.9 1058.1,1774.6 1059.2,1780.0 1060.3,1774.3 1061.4,1779.2 1062.6,1773.4 1063.7,1773.2 1064.8,1780.8 1065.9,1774.0 1067.1,1774.7 1068.2,1776.6 1069.3,1772.7 1070.4,1770.1 1071.5,1773.8 1072.7,1777.6 1073.8,1778.4 1074.9,1777.7 1076.0,1777.3 1077.1,1772.0 1078.3,1774.0 1079.4,1774.7 1080.5,1772.4 1081.6,1774.5 1082.8,1774.4 1083.9,1776.5 1085.0,1775.9 1086.1,1774.2 1087.2,1777.1 1088.4,1770.1 1089.5,1773.8 1090.6,1775.4 1091.7,1771.6 1092.8,1776.6 1094.0,1771.4 1095.1,1773.7 1096.2,1769.3 1097.3,1775.2 1098.5,1774.8 1099.6,1775.8 1100.7,1776.8 1101.8,1773.1 1102.9,1776.3 1104.1,1772.8 1105.2,1775.2 1106.3,1771.0 1107.4,1779.8 1108.5,1772.4 1109.7,1773.3 1110.8,1773.4 1111.9,1774.9 1113.0,1769.0 1114.2,1774.3 1115.3,1772.2 1116.4,1773.9 1117.5,1774.1 1118.6,1772.9 1119.8,1771.5 1120.9,1775.8 1122.0,1774.2 1123.1,1776.5 1124.2,1772.0 1125.4,1775.0 1126.5,1774.7 1127.6,1771.3 1128.7,1772.9 1129.9,1771.8 1131.0,1773.1 1132.1,1771.7 1133.2,1772.5 1134.3,1775.4 1135.5,1772.1 1136.6,1773.5 1137.7,1773.2 1138.8,1771.9 1139.9,1773.9" fill="none" stroke="#ee6410" stroke-width="9.0" stroke-linejoin="round" stroke-linecap="round" />
</g>
<g clip-path="url(#cBR)">
<polyline points="1171.9,1826.8 1173.0,1828.6 1174.1,1832.1 1175.2,1838.6 1176.4,1841.7 1177.5,1847.0 1178.6,1852.5 1179.7,1857.3 1180.9,1861.6 1182.0,1867.0 1183.1,1872.6 1184.2,1878.8 1185.3,1887.7 1186.5,1895.5 1187.6,1907.9 1188.7,1917.8 1189.8,1924.2 1191.0,1931.9 1192.1,1939.1 1193.2,1947.3 1194.3,1953.0 1195.5,1953.1 1196.6,1953.4 1197.7,1950.8 1198.8,1947.7 1199.9,1941.9 1201.1,1937.6 1202.2,1924.2 1203.3,1913.9 1204.4,1897.7 1205.6,1885.5 1206.7,1866.6 1207.8,1847.2 1208.9,1832.5 1210.1,1815.4 1211.2,1796.4 1212.3,1780.7 1213.4,1761.7 1214.5,1738.1 1215.7,1720.1 1216.8,1696.4 1217.9,1674.3 1219.0,1652.0 1220.2,1631.6 1221.3,1607.0 1222.4,1585.2 1223.5,1564.7 1224.7,1543.8 1225.8,1523.4 1226.9,1498.1 1228.0,1476.1 1229.1,1453.8 1230.3,1436.7 1231.4,1426.4 1232.5,1418.8 1233.6,1409.4 1234.8,1400.8 1235.9,1398.1 1237.0,1394.6 1238.1,1396.2 1239.3,1392.5 1240.4,1391.3 1241.5,1392.1 1242.6,1391.1 1243.7,1390.8 1244.9,1393.6 1246.0,1397.8 1247.1,1400.7 1248.2,1405.5 1249.4,1416.4 1250.5,1425.7 1251.6,1436.8 1252.7,1454.3 1253.9,1471.2 1255.0,1493.0 1256.1,1512.0 1257.2,1530.7 1258.3,1547.6 1259.5,1563.5 1260.6,1578.7 1261.7,1592.3 1262.8,1606.4 1264.0,1619.2 1265.1,1634.3 1266.2,1647.2 1267.3,1658.8 1268.4,1672.6 1269.6,1684.8 1270.7,1695.8 1271.8,1708.9 1272.9,1719.6 1274.1,1729.3 1275.2,1739.6 1276.3,1749.8 1277.4,1758.8 1278.6,1765.5 1279.7,1770.9 1280.8,1776.4 1281.9,1781.3 1283.0,1785.7 1284.2,1790.4 1285.3,1794.0 1286.4,1795.6 1287.5,1797.6 1288.7,1800.1 1289.8,1800.2 1290.9,1803.4 1292.0,1803.2 1293.2,1803.9 1294.3,1806.9 1295.4,1805.9 1296.5,1804.2 1297.6,1804.3 1298.8,1804.7 1299.9,1805.4 1301.0,1804.7 1302.1,1803.9 1303.3,1802.9 1304.4,1803.9 1305.5,1804.9 1306.6,1804.8 1307.8,1804.4 1308.9,1806.8 1310.0,1805.8 1311.1,1804.4 1312.2,1803.0 1313.4,1802.9 1314.5,1804.8 1315.6,1804.3 1316.7,1805.3 1317.9,1805.0 1319.0,1804.3 1320.1,1804.5 1321.2,1804.1 1322.4,1804.2 1323.5,1804.1 1324.6,1802.3 1325.7,1801.6 1326.8,1800.8 1328.0,1801.8 1329.1,1801.4 1330.2,1799.1 1331.3,1799.8 1332.5,1799.2 1333.6,1800.5 1334.7,1800.5 1335.8,1800.8 1337.0,1798.6 1338.1,1800.6 1339.2,1801.1 1340.3,1800.0 1341.4,1797.9 1342.6,1799.1 1343.7,1798.8 1344.8,1798.9 1345.9,1799.1 1347.1,1799.2 1348.2,1800.4 1349.3,1797.4 1350.4,1799.2 1351.6,1797.8 1352.7,1800.6 1353.8,1798.5 1354.9,1800.2 1356.0,1800.3 1357.2,1798.8 1358.3,1798.0 1359.4,1797.7 1360.5,1797.7 1361.7,1799.3 1362.8,1798.2 1363.9,1799.6 1365.0,1799.6 1366.2,1798.8 1367.3,1799.1 1368.4,1798.2 1369.5,1800.8 1370.6,1797.9 1371.8,1799.6 1372.9,1797.6 1374.0,1797.9 1375.1,1800.2 1376.3,1799.1 1377.4,1798.3 1378.5,1799.8 1379.6,1799.8 1380.8,1799.3 1381.9,1798.3 1383.0,1798.1 1384.1,1799.4 1385.2,1798.2 1386.4,1797.6 1387.5,1798.1 1388.6,1799.7 1389.7,1799.8 1390.9,1798.7 1392.0,1798.2 1393.1,1798.6 1394.2,1799.4 1395.3,1799.9 1396.5,1797.8 1397.6,1799.2 1398.7,1797.2 1399.8,1800.1 1401.0,1799.3 1402.1,1799.6 1403.2,1797.2 1404.3,1797.8 1405.5,1799.5 1406.6,1800.9 1407.7,1797.9 1408.8,1798.9 1409.9,1800.1 1411.1,1800.5 1412.2,1798.6 1413.3,1799.2 1414.4,1798.9 1415.6,1798.6 1416.7,1799.4 1417.8,1799.3 1418.9,1798.4 1420.1,1799.1 1421.2,1799.3 1422.3,1798.4 1423.4,1801.0 1424.5,1797.8 1425.7,1798.6 1426.8,1799.8 1427.9,1799.2 1429.0,1797.8 1430.2,1798.5 1431.3,1800.8 1432.4,1800.0 1433.5,1798.8 1434.7,1797.2 1435.8,1798.3 1436.9,1799.2 1438.0,1798.4 1439.1,1799.0 1440.3,1799.3 1441.4,1798.6 1442.5,1801.1 1443.6,1798.0 1444.8,1798.5 1445.9,1799.4 1447.0,1799.8 1448.1,1800.2 1449.3,1798.7 1450.4,1798.9 1451.5,1798.8 1452.6,1797.3 1453.7,1801.2 1454.9,1799.7 1456.0,1799.8 1457.1,1798.1 1458.2,1799.2 1459.4,1799.9 1460.5,1798.8 1461.6,1798.6 1462.7,1797.4 1463.9,1798.7 1465.0,1799.4 1466.1,1799.5 1467.2,1799.8 1468.3,1798.5 1469.5,1798.2 1470.6,1799.2 1471.7,1799.1 1472.8,1797.6 1474.0,1798.9 1475.1,1798.5 1476.2,1800.1 1477.3,1799.6 1478.5,1801.1 1479.6,1800.3 1480.7,1798.6 1481.8,1797.8 1482.9,1799.3 1484.1,1800.2 1485.2,1798.9 1486.3,1797.9 1487.4,1799.2 1488.6,1798.1 1489.7,1799.1 1490.8,1800.2 1491.9,1799.9 1493.0,1799.3 1494.2,1796.8 1495.3,1798.4 1496.4,1799.2 1497.5,1798.7 1498.7,1798.8 1499.8,1799.4 1500.9,1799.1 1502.0,1799.2 1503.2,1798.3 1504.3,1797.5 1505.4,1797.7 1506.5,1799.3 1507.6,1798.5 1508.8,1799.7 1509.9,1800.1 1511.0,1798.9 1512.1,1798.4 1513.3,1799.1 1514.4,1798.2 1515.5,1798.2 1516.6,1798.3 1517.8,1799.1 1518.9,1800.3 1520.0,1797.2 1521.1,1799.5 1522.2,1798.3 1523.4,1798.5 1524.5,1799.3 1525.6,1797.2 1526.7,1798.3 1527.9,1799.0 1529.0,1799.4 1530.1,1799.9 1531.2,1800.2 1532.4,1798.4 1533.5,1799.4 1534.6,1799.4 1535.7,1798.5 1536.8,1799.3 1538.0,1798.4 1539.1,1799.6 1540.2,1799.5 1541.3,1798.1 1542.5,1799.7 1543.6,1798.4 1544.7,1798.5 1545.8,1799.0 1547.0,1800.6 1548.1,1800.3 1549.2,1800.1 1550.3,1800.3 1551.4,1798.2 1552.6,1799.9 1553.7,1800.2 1554.8,1799.5 1555.9,1799.1 1557.1,1800.6 1558.2,1798.4 1559.3,1798.3 1560.4,1799.6 1561.6,1798.2 1562.7,1800.5 1563.8,1799.5 1564.9,1799.2 1566.0,1798.9 1567.2,1797.9 1568.3,1799.3 1569.4,1800.0 1570.5,1798.8 1571.7,1798.8 1572.8,1798.6 1573.9,1799.3 1575.0,1798.8 1576.2,1799.6 1577.3,1798.4 1578.4,1799.6 1579.5,1799.6 1580.6,1797.9 1581.8,1799.7 1582.9,1799.0 1584.0,1798.4 1585.1,1799.3 1586.3,1798.1 1587.4,1799.6 1588.5,1798.0 1589.6,1800.5 1590.8,1800.3 1591.9,1798.9 1593.0,1797.6 1594.1,1797.4 1595.2,1799.8 1596.4,1799.0 1597.5,1799.5 1598.6,1801.1 1599.7,1798.3 1600.9,1799.4 1602.0,1797.7 1603.1,1798.7 1604.2,1799.5 1605.3,1799.7 1606.5,1799.2 1607.6,1798.6 1608.7,1799.5 1609.8,1796.3 1611.0,1798.8 1612.1,1800.1 1613.2,1798.9 1614.3,1797.9 1615.5,1798.6 1616.6,1799.3 1617.7,1799.6 1618.8,1799.8 1619.9,1800.2 1621.1,1799.5 1622.2,1798.7 1623.3,1799.6 1624.4,1797.4 1625.6,1798.6 1626.7,1799.4 1627.8,1799.0 1628.9,1797.6 1630.1,1800.7 1631.2,1798.8 1632.3,1796.4 1633.4,1798.0 1634.5,1799.9 1635.7,1798.9 1636.8,1799.2 1637.9,1796.3 1639.0,1799.7 1640.2,1799.3 1641.3,1799.3 1642.4,1800.4 1643.5,1802.2 1644.7,1799.2 1645.8,1798.5 1646.9,1799.4 1648.0,1798.5 1649.1,1798.3 1650.3,1798.3 1651.4,1800.7 1652.5,1797.5 1653.6,1798.2 1654.8,1798.2 1655.9,1799.0 1657.0,1799.0 1658.1,1799.5 1659.3,1798.6 1660.4,1798.1 1661.5,1799.6 1662.6,1798.2 1663.7,1799.5 1664.9,1798.4 1666.0,1799.1 1667.1,1798.2 1668.2,1797.1 1669.4,1798.8 1670.5,1799.5 1671.6,1799.4 1672.7,1798.4 1673.9,1799.5 1675.0,1798.1 1676.1,1798.7 1677.2,1798.1 1678.3,1799.6 1679.5,1799.9 1680.6,1799.7 1681.7,1798.6 1682.8,1799.8 1684.0,1798.3 1685.1,1801.0 1686.2,1799.7 1687.3,1799.2 1688.5,1800.8 1689.6,1799.6 1690.7,1800.5 1691.8,1799.1 1692.9,1799.3 1694.1,1798.3 1695.2,1799.9 1696.3,1800.6 1697.4,1799.6 1698.6,1798.9 1699.7,1799.0 1700.8,1798.9 1701.9,1797.9 1703.1,1799.4 1704.2,1799.3 1705.3,1799.9 1706.4,1799.7 1707.5,1798.1 1708.7,1798.8 1709.8,1801.7 1710.9,1797.9 1712.0,1801.1 1713.2,1799.5 1714.3,1798.2 1715.4,1799.0 1716.5,1798.6 1717.6,1798.3 1718.8,1798.9 1719.9,1800.4 1721.0,1798.8 1722.1,1799.9 1723.3,1801.6 1724.4,1799.5 1725.5,1798.7 1726.6,1799.1 1727.8,1799.3 1728.9,1797.6 1730.0,1799.0 1731.1,1798.4 1732.2,1799.0 1733.4,1797.7 1734.5,1799.7 1735.6,1798.2 1736.7,1797.6 1737.9,1799.7 1739.0,1798.4 1740.1,1800.7 1741.2,1799.1 1742.4,1798.7 1743.5,1800.2 1744.6,1801.2 1745.7,1799.4 1746.8,1799.8 1748.0,1799.3 1749.1,1799.2 1750.2,1798.7 1751.3,1798.0 1752.5,1799.1 1753.6,1801.1 1754.7,1798.9 1755.8,1799.2 1757.0,1799.5 1758.1,1798.1 1759.2,1799.4 1760.3,1800.0 1761.4,1799.3 1762.6,1801.3 1763.7,1798.8 1764.8,1799.7 1765.9,1798.1 1767.1,1799.1 1768.2,1799.5 1769.3,1799.7 1770.4,1801.0 1771.6,1800.0 1772.7,1799.6 1773.8,1799.0 1774.9,1799.3 1776.0,1799.0 1777.2,1799.0 1778.3,1800.8 1779.4,1799.6 1780.5,1800.4 1781.7,1801.9 1782.8,1802.3 1783.9,1799.0 1785.0,1798.1 1786.2,1798.2 1787.3,1801.7 1788.4,1798.6 1789.5,1798.8 1790.6,1802.6 1791.8,1801.3 1792.9,1800.0 1794.0,1802.8 1795.1,1801.7 1796.3,1804.8 1797.4,1804.8 1798.5,1803.4 1799.6,1805.2 1800.8,1805.0 1801.9,1805.1 1803.0,1806.9 1804.1,1803.4 1805.2,1805.9 1806.4,1806.3 1807.5,1806.6 1808.6,1805.9 1809.7,1807.5 1810.9,1804.9 1812.0,1806.8 1813.1,1805.1 1814.2,1807.6 1815.4,1807.9 1816.5,1807.7 1817.6,1806.0 1818.7,1808.2 1819.8,1804.9 1821.0,1806.5 1822.1,1804.5 1823.2,1806.2 1824.3,1804.2 1825.5,1806.7 1826.6,1806.6 1827.7,1803.8 1828.8,1805.3 1829.9,1802.7 1831.1,1805.1 1832.2,1803.2 1833.3,1805.0 1834.4,1806.2 1835.6,1801.3 1836.7,1803.6 1837.8,1801.7 1838.9,1802.7 1840.1,1805.3 1841.2,1802.1 1842.3,1800.9 1843.4,1800.5 1844.5,1799.8 1845.7,1801.5 1846.8,1802.1 1847.9,1801.8 1849.0,1803.5 1850.2,1800.6 1851.3,1800.5 1852.4,1800.9 1853.5,1802.5 1854.7,1800.3 1855.8,1802.0 1856.9,1799.3 1858.0,1802.0 1859.1,1801.8 1860.3,1801.4 1861.4,1802.4 1862.5,1802.2 1863.6,1801.2 1864.8,1804.4 1865.9,1797.8 1867.0,1800.1 1868.1,1800.2 1869.3,1801.9 1870.4,1800.3 1871.5,1800.5 1872.6,1800.4 1873.7,1802.6 1874.9,1800.6 1876.0,1803.2 1877.1,1800.6 1878.2,1801.6 1879.4,1801.2 1880.5,1800.7 1881.6,1798.9 1882.7,1798.3 1883.9,1800.0 1885.0,1801.6 1886.1,1797.8 1887.2,1801.9 1888.3,1800.6 1889.5,1800.0 1890.6,1800.7 1891.7,1797.6 1892.8,1798.9 1894.0,1797.8 1895.1,1799.7 1896.2,1797.8 1897.3,1799.2 1898.5,1799.0 1899.6,1798.1 1900.7,1797.6 1901.8,1796.9 1902.9,1797.5 1904.1,1798.9 1905.2,1796.6 1906.3,1799.5 1907.4,1795.4 1908.6,1795.7 1909.7,1792.8 1910.8,1797.8 1911.9,1790.5 1913.1,1793.5 1914.2,1794.9 1915.3,1791.5 1916.4,1791.1 1917.5,1791.1 1918.7,1788.7 1919.8,1793.6 1920.9,1792.7 1922.0,1793.9 1923.2,1796.1 1924.3,1795.3 1925.4,1794.4 1926.5,1797.7 1927.7,1795.9 1928.8,1795.0 1929.9,1795.6 1931.0,1798.8 1932.1,1795.8 1933.3,1796.4 1934.4,1793.3 1935.5,1794.3 1936.6,1790.1 1937.8,1794.0 1938.9,1790.9 1940.0,1792.5 1941.1,1788.4 1942.2,1788.5 1943.4,1792.1 1944.5,1789.5 1945.6,1790.6 1946.7,1793.0 1947.9,1792.4 1949.0,1791.1 1950.1,1790.9 1951.2,1792.6 1952.4,1792.1 1953.5,1792.5 1954.6,1793.0 1955.7,1795.5 1956.8,1793.7 1958.0,1793.3 1959.1,1796.3 1960.2,1791.9 1961.3,1792.1 1962.5,1794.1 1963.6,1791.3 1964.7,1795.6 1965.8,1795.9 1967.0,1795.4 1968.1,1795.6 1969.2,1791.9 1970.3,1794.6 1971.4,1794.8 1972.6,1794.2 1973.7,1792.4 1974.8,1794.5 1975.9,1795.4 1977.1,1794.5 1978.2,1793.0 1979.3,1795.2 1980.4,1792.8 1981.6,1794.5 1982.7,1795.2 1983.8,1794.3 1984.9,1792.1 1986.0,1795.4 1987.2,1793.0 1988.3,1794.2 1989.4,1794.9 1990.5,1795.0 1991.7,1793.9 1992.8,1794.2 1993.9,1794.6 1995.0,1794.2 1996.2,1796.5 1997.3,1796.2 1998.4,1796.7 1999.5,1795.8 2000.6,1795.6 2001.8,1795.9 2002.9,1794.6 2004.0,1796.8 2005.1,1795.8 2006.3,1794.2 2007.4,1793.0 2008.5,1795.4 2009.6,1793.7 2010.8,1793.5 2011.9,1797.0 2013.0,1795.2 2014.1,1797.1 2015.2,1796.2 2016.4,1795.0 2017.5,1797.5 2018.6,1794.9 2019.7,1795.9 2020.9,1796.1 2022.0,1795.0 2023.1,1797.0 2024.2,1798.3 2025.4,1795.8 2026.5,1796.9 2027.6,1796.1 2028.7,1797.5 2029.8,1797.2 2031.0,1797.4 2032.1,1797.8 2033.2,1797.1 2034.3,1797.1 2035.5,1795.9 2036.6,1791.3 2037.7,1796.9 2038.8,1798.3 2040.0,1795.2 2041.1,1797.9 2042.2,1797.4 2043.3,1796.6 2044.4,1796.1 2045.6,1796.0 2046.7,1795.8 2047.8,1796.4 2048.9,1794.6 2050.1,1795.0 2051.2,1797.0 2052.3,1796.6 2053.4,1798.3 2054.6,1795.3 2055.7,1796.6 2056.8,1793.6 2057.9,1797.4 2059.0,1794.2 2060.2,1797.8 2061.3,1798.9 2062.4,1797.7 2063.5,1796.0 2064.7,1795.0 2065.8,1797.8 2066.9,1795.2 2068.0,1797.4 2069.1,1797.4 2070.3,1797.1 2071.4,1794.3 2072.5,1796.4 2073.6,1796.3 2074.8,1799.0 2075.9,1796.5 2077.0,1796.4 2078.1,1794.5 2079.3,1798.1 2080.4,1797.9 2081.5,1798.3 2082.6,1797.9 2083.7,1796.0 2084.9,1798.2 2086.0,1795.2 2087.1,1797.0 2088.2,1798.4 2089.4,1798.1 2090.5,1799.2 2091.6,1799.3 2092.7,1795.6 2093.9,1796.0 2095.0,1798.7 2096.1,1798.0 2097.2,1795.0 2098.3,1798.5 2099.5,1797.1 2100.6,1796.7 2101.7,1797.8 2102.8,1797.8 2104.0,1798.1 2105.1,1797.5 2106.2,1799.9 2107.3,1797.6 2108.5,1797.5 2109.6,1799.7 2110.7,1797.1" fill="none" stroke="#dd0000" stroke-width="7.5" stroke-linejoin="round" stroke-linecap="round" />
<polyline points="1171.9,1826.2 1173.0,1831.8 1174.1,1835.2 1175.2,1837.5 1176.4,1841.5 1177.5,1846.9 1178.6,1852.3 1179.7,1855.6 1180.9,1859.3 1182.0,1865.4 1183.1,1872.4 1184.2,1876.7 1185.3,1885.2 1186.5,1894.7 1187.6,1904.7 1188.7,1914.0 1189.8,1922.8 1191.0,1931.1 1192.1,1938.0 1193.2,1944.5 1194.3,1948.4 1195.5,1952.6 1196.6,1950.5 1197.7,1948.7 1198.8,1943.8 1199.9,1940.2 1201.1,1935.8 1202.2,1921.4 1203.3,1910.5 1204.4,1897.8 1205.6,1883.8 1206.7,1867.1 1207.8,1850.0 1208.9,1831.7 1210.1,1814.2 1211.2,1798.4 1212.3,1780.2 1213.4,1761.9 1214.5,1739.6 1215.7,1718.5 1216.8,1696.0 1217.9,1674.2 1219.0,1653.8 1220.2,1630.8 1221.3,1609.8 1222.4,1589.6 1223.5,1566.3 1224.7,1545.4 1225.8,1527.3 1226.9,1505.0 1228.0,1480.5 1229.1,1458.8 1230.3,1441.9 1231.4,1431.0 1232.5,1422.1 1233.6,1413.0 1234.8,1407.0 1235.9,1404.4 1237.0,1401.5 1238.1,1398.6 1239.3,1398.7 1240.4,1397.5 1241.5,1397.0 1242.6,1394.8 1243.7,1396.8 1244.9,1399.0 1246.0,1403.3 1247.1,1406.6 1248.2,1411.0 1249.4,1421.0 1250.5,1430.0 1251.6,1443.0 1252.7,1458.5 1253.9,1476.6 1255.0,1496.4 1256.1,1515.5 1257.2,1535.7 1258.3,1549.7 1259.5,1567.3 1260.6,1582.0 1261.7,1597.6 1262.8,1608.5 1264.0,1621.6 1265.1,1637.7 1266.2,1650.0 1267.3,1662.7 1268.4,1676.2 1269.6,1686.8 1270.7,1698.5 1271.8,1710.8 1272.9,1722.1 1274.1,1730.9 1275.2,1739.7 1276.3,1750.8 1277.4,1758.1 1278.6,1765.2 1279.7,1775.1 1280.8,1777.4 1281.9,1781.3 1283.0,1787.8 1284.2,1788.5 1285.3,1792.9 1286.4,1794.5 1287.5,1797.6 1288.7,1800.6 1289.8,1803.0 1290.9,1800.6 1292.0,1805.5 1293.2,1805.5 1294.3,1804.7 1295.4,1806.3 1296.5,1806.7 1297.6,1809.0 1298.8,1807.6 1299.9,1808.3 1301.0,1808.9 1302.1,1807.2 1303.3,1807.4 1304.4,1809.6 1305.5,1810.1 1306.6,1809.6 1307.8,1809.3 1308.9,1811.0 1310.0,1808.4 1311.1,1808.0 1312.2,1808.2 1313.4,1808.7 1314.5,1806.7 1315.6,1806.3 1316.7,1805.1 1317.9,1807.1 1319.0,1804.4 1320.1,1805.5 1321.2,1803.9 1322.4,1803.8 1323.5,1802.9 1324.6,1801.0 1325.7,1802.7 1326.8,1800.7 1328.0,1801.4 1329.1,1800.7 1330.2,1801.1 1331.3,1800.0 1332.5,1802.0 1333.6,1800.2 1334.7,1798.8 1335.8,1798.8 1337.0,1801.1 1338.1,1800.5 1339.2,1799.7 1340.3,1797.4 1341.4,1799.6 1342.6,1799.1 1343.7,1799.3 1344.8,1798.7 1345.9,1799.9 1347.1,1798.8 1348.2,1798.5 1349.3,1798.0 1350.4,1799.9 1351.6,1798.1 1352.7,1797.1 1353.8,1798.2 1354.9,1798.3 1356.0,1801.4 1357.2,1797.7 1358.3,1797.1 1359.4,1797.8 1360.5,1798.5 1361.7,1798.2 1362.8,1796.1 1363.9,1799.7 1365.0,1799.4 1366.2,1797.9 1367.3,1798.8 1368.4,1801.1 1369.5,1798.8 1370.6,1798.7 1371.8,1799.9 1372.9,1798.6 1374.0,1798.8 1375.1,1800.8 1376.3,1798.5 1377.4,1796.9 1378.5,1797.3 1379.6,1800.1 1380.8,1800.3 1381.9,1798.9 1383.0,1798.7 1384.1,1800.3 1385.2,1799.7 1386.4,1797.7 1387.5,1798.8 1388.6,1798.0 1389.7,1799.0 1390.9,1798.0 1392.0,1799.5 1393.1,1799.5 1394.2,1799.9 1395.3,1800.9 1396.5,1799.4 1397.6,1800.3 1398.7,1799.5 1399.8,1798.9 1401.0,1798.8 1402.1,1798.6 1403.2,1799.4 1404.3,1799.1 1405.5,1797.9 1406.6,1799.2 1407.7,1799.0 1408.8,1801.4 1409.9,1800.1 1411.1,1797.9 1412.2,1799.9 1413.3,1800.1 1414.4,1798.1 1415.6,1800.2 1416.7,1798.0 1417.8,1799.1 1418.9,1799.6 1420.1,1801.0 1421.2,1797.7 1422.3,1800.8 1423.4,1800.2 1424.5,1798.2 1425.7,1800.2 1426.8,1798.5 1427.9,1799.1 1429.0,1799.3 1430.2,1800.1 1431.3,1799.7 1432.4,1798.7 1433.5,1800.0 1434.7,1798.4 1435.8,1798.8 1436.9,1798.5 1438.0,1798.8 1439.1,1798.5 1440.3,1798.6 1441.4,1798.2 1442.5,1798.6 1443.6,1798.7 1444.8,1799.9 1445.9,1800.7 1447.0,1799.0 1448.1,1798.1 1449.3,1799.9 1450.4,1800.6 1451.5,1799.6 1452.6,1798.7 1453.7,1798.2 1454.9,1799.3 1456.0,1800.2 1457.1,1799.1 1458.2,1798.4 1459.4,1799.1 1460.5,1798.0 1461.6,1799.5 1462.7,1798.2 1463.9,1797.4 1465.0,1800.0 1466.1,1799.9 1467.2,1798.4 1468.3,1795.9 1469.5,1798.5 1470.6,1799.0 1471.7,1797.7 1472.8,1799.1 1474.0,1800.6 1475.1,1800.0 1476.2,1797.7 1477.3,1800.7 1478.5,1800.4 1479.6,1798.2 1480.7,1798.9 1481.8,1797.8 1482.9,1800.1 1484.1,1799.7 1485.2,1799.4 1486.3,1800.2 1487.4,1799.3 1488.6,1799.2 1489.7,1798.2 1490.8,1799.1 1491.9,1799.4 1493.0,1798.5 1494.2,1797.9 1495.3,1798.0 1496.4,1798.7 1497.5,1799.4 1498.7,1799.5 1499.8,1800.3 1500.9,1799.0 1502.0,1799.0 1503.2,1797.4 1504.3,1798.8 1505.4,1798.3 1506.5,1797.7 1507.6,1800.9 1508.8,1799.7 1509.9,1799.3 1511.0,1798.9 1512.1,1800.1 1513.3,1798.2 1514.4,1798.1 1515.5,1798.5 1516.6,1798.3 1517.8,1800.1 1518.9,1797.9 1520.0,1799.6 1521.1,1800.9 1522.2,1798.9 1523.4,1798.6 1524.5,1799.7 1525.6,1800.7 1526.7,1800.2 1527.9,1799.2 1529.0,1801.5 1530.1,1798.0 1531.2,1798.0 1532.4,1799.2 1533.5,1798.0 1534.6,1799.2 1535.7,1800.1 1536.8,1798.4 1538.0,1798.5 1539.1,1799.9 1540.2,1800.4 1541.3,1800.0 1542.5,1797.9 1543.6,1799.3 1544.7,1796.2 1545.8,1799.7 1547.0,1798.4 1548.1,1798.7 1549.2,1799.2 1550.3,1798.2 1551.4,1799.9 1552.6,1799.1 1553.7,1800.2 1554.8,1801.2 1555.9,1799.0 1557.1,1800.2 1558.2,1800.3 1559.3,1798.4 1560.4,1799.2 1561.6,1798.6 1562.7,1797.3 1563.8,1798.8 1564.9,1798.6 1566.0,1800.2 1567.2,1798.2 1568.3,1798.2 1569.4,1800.1 1570.5,1798.4 1571.7,1798.7 1572.8,1799.2 1573.9,1798.9 1575.0,1796.6 1576.2,1799.7 1577.3,1799.4 1578.4,1798.9 1579.5,1799.2 1580.6,1800.8 1581.8,1798.4 1582.9,1798.1 1584.0,1797.3 1585.1,1799.6 1586.3,1800.3 1587.4,1798.4 1588.5,1800.0 1589.6,1799.0 1590.8,1799.4 1591.9,1798.8 1593.0,1799.5 1594.1,1798.3 1595.2,1799.9 1596.4,1796.7 1597.5,1798.2 1598.6,1799.6 1599.7,1800.0 1600.9,1799.2 1602.0,1799.5 1603.1,1799.8 1604.2,1797.6 1605.3,1798.1 1606.5,1800.1 1607.6,1798.5 1608.7,1799.0 1609.8,1798.3 1611.0,1799.7 1612.1,1796.9 1613.2,1798.9 1614.3,1797.0 1615.5,1799.5 1616.6,1797.7 1617.7,1799.1 1618.8,1797.4 1619.9,1799.2 1621.1,1800.1 1622.2,1800.1 1623.3,1799.6 1624.4,1798.4 1625.6,1798.6 1626.7,1798.9 1627.8,1798.0 1628.9,1797.4 1630.1,1800.0 1631.2,1798.0 1632.3,1796.7 1633.4,1799.6 1634.5,1799.6 1635.7,1798.6 1636.8,1798.8 1637.9,1799.5 1639.0,1799.1 1640.2,1797.4 1641.3,1798.1 1642.4,1799.8 1643.5,1800.7 1644.7,1800.1 1645.8,1798.8 1646.9,1799.8 1648.0,1799.8 1649.1,1798.3 1650.3,1799.3 1651.4,1799.4 1652.5,1798.8 1653.6,1797.6 1654.8,1798.7 1655.9,1798.3 1657.0,1798.9 1658.1,1797.5 1659.3,1800.2 1660.4,1800.1 1661.5,1799.5 1662.6,1797.0 1663.7,1797.5 1664.9,1800.1 1666.0,1799.5 1667.1,1798.5 1668.2,1798.9 1669.4,1798.1 1670.5,1799.5 1671.6,1800.6 1672.7,1798.4 1673.9,1797.8 1675.0,1800.5 1676.1,1800.9 1677.2,1799.5 1678.3,1800.9 1679.5,1798.6 1680.6,1800.2 1681.7,1798.3 1682.8,1799.4 1684.0,1798.9 1685.1,1798.4 1686.2,1799.2 1687.3,1800.0 1688.5,1798.1 1689.6,1800.5 1690.7,1797.6 1691.8,1799.6 1692.9,1799.6 1694.1,1798.7 1695.2,1798.6 1696.3,1798.6 1697.4,1800.5 1698.6,1799.9 1699.7,1798.7 1700.8,1798.7 1701.9,1799.2 1703.1,1797.8 1704.2,1799.3 1705.3,1798.2 1706.4,1798.0 1707.5,1798.8 1708.7,1799.3 1709.8,1798.4 1710.9,1798.7 1712.0,1798.5 1713.2,1800.0 1714.3,1798.7 1715.4,1797.6 1716.5,1799.4 1717.6,1799.0 1718.8,1799.4 1719.9,1798.3 1721.0,1801.2 1722.1,1797.6 1723.3,1798.7 1724.4,1799.5 1725.5,1799.0 1726.6,1798.1 1727.8,1798.9 1728.9,1798.6 1730.0,1798.1 1731.1,1799.1 1732.2,1798.6 1733.4,1797.9 1734.5,1798.8 1735.6,1799.9 1736.7,1798.6 1737.9,1797.3 1739.0,1799.7 1740.1,1798.9 1741.2,1799.0 1742.4,1798.5 1743.5,1799.8 1744.6,1799.5 1745.7,1797.5 1746.8,1798.8 1748.0,1800.1 1749.1,1798.7 1750.2,1799.5 1751.3,1798.0 1752.5,1801.1 1753.6,1799.5 1754.7,1798.6 1755.8,1800.9 1757.0,1800.4 1758.1,1799.2 1759.2,1799.6 1760.3,1800.0 1761.4,1799.4 1762.6,1801.1 1763.7,1800.6 1764.8,1798.1 1765.9,1800.4 1767.1,1799.4 1768.2,1799.9 1769.3,1799.0 1770.4,1799.6 1771.6,1799.5 1772.7,1798.8 1773.8,1799.6 1774.9,1802.5 1776.0,1801.0 1777.2,1797.9 1778.3,1798.5 1779.4,1800.4 1780.5,1802.4 1781.7,1801.2 1782.8,1797.1 1783.9,1798.4 1785.0,1798.4 1786.2,1802.7 1787.3,1802.5 1788.4,1801.6 1789.5,1803.1 1790.6,1801.4 1791.8,1803.6 1792.9,1801.8 1794.0,1803.3 1795.1,1804.3 1796.3,1803.0 1797.4,1803.7 1798.5,1804.5 1799.6,1805.5 1800.8,1805.2 1801.9,1808.2 1803.0,1808.3 1804.1,1806.6 1805.2,1805.5 1806.4,1803.2 1807.5,1805.4 1808.6,1807.5 1809.7,1806.9 1810.9,1808.1 1812.0,1806.4 1813.1,1806.5 1814.2,1806.4 1815.4,1806.0 1816.5,1804.9 1817.6,1805.4 1818.7,1808.0 1819.8,1805.0 1821.0,1807.5 1822.1,1805.3 1823.2,1805.5 1824.3,1803.0 1825.5,1805.4 1826.6,1805.1 1827.7,1805.2 1828.8,1803.3 1829.9,1803.8 1831.1,1804.5 1832.2,1802.7 1833.3,1800.7 1834.4,1801.2 1835.6,1801.3 1836.7,1804.1 1837.8,1803.3 1838.9,1802.8 1840.1,1805.3 1841.2,1800.2 1842.3,1804.6 1843.4,1801.8 1844.5,1804.1 1845.7,1801.9 1846.8,1800.8 1847.9,1801.1 1849.0,1803.0 1850.2,1802.6 1851.3,1800.2 1852.4,1801.5 1853.5,1801.2 1854.7,1799.9 1855.8,1804.9 1856.9,1800.8 1858.0,1799.2 1859.1,1798.4 1860.3,1799.9 1861.4,1802.0 1862.5,1799.4 1863.6,1798.1 1864.8,1801.7 1865.9,1801.8 1867.0,1800.9 1868.1,1801.2 1869.3,1803.6 1870.4,1804.0 1871.5,1802.4 1872.6,1801.4 1873.7,1799.8 1874.9,1801.2 1876.0,1800.1 1877.1,1798.3 1878.2,1795.9 1879.4,1799.0 1880.5,1801.6 1881.6,1798.7 1882.7,1800.1 1883.9,1799.5 1885.0,1798.6 1886.1,1798.8 1887.2,1801.8 1888.3,1801.5 1889.5,1799.3 1890.6,1798.6 1891.7,1796.4 1892.8,1798.6 1894.0,1799.9 1895.1,1799.9 1896.2,1800.1 1897.3,1800.9 1898.5,1800.7 1899.6,1799.3 1900.7,1798.0 1901.8,1798.8 1902.9,1797.1 1904.1,1797.0 1905.2,1796.3 1906.3,1795.9 1907.4,1794.2 1908.6,1793.9 1909.7,1797.1 1910.8,1792.3 1911.9,1791.8 1913.1,1791.9 1914.2,1789.7 1915.3,1789.8 1916.4,1787.5 1917.5,1788.0 1918.7,1784.8 1919.8,1784.6 1920.9,1786.8 1922.0,1785.6 1923.2,1783.4 1924.3,1783.5 1925.4,1783.5 1926.5,1785.0 1927.7,1784.0 1928.8,1782.6 1929.9,1782.6 1931.0,1783.4 1932.1,1785.0 1933.3,1784.5 1934.4,1785.2 1935.5,1786.3 1936.6,1786.3 1937.8,1786.2 1938.9,1787.7 1940.0,1785.5 1941.1,1785.8 1942.2,1786.3 1943.4,1789.4 1944.5,1789.8 1945.6,1788.7 1946.7,1790.2 1947.9,1790.5 1949.0,1791.1 1950.1,1793.6 1951.2,1790.0 1952.4,1794.5 1953.5,1795.2 1954.6,1792.2 1955.7,1795.3 1956.8,1792.4 1958.0,1793.6 1959.1,1793.6 1960.2,1794.8 1961.3,1796.4 1962.5,1796.1 1963.6,1794.3 1964.7,1794.7 1965.8,1796.3 1967.0,1796.3 1968.1,1795.9 1969.2,1794.8 1970.3,1794.2 1971.4,1793.5 1972.6,1795.4 1973.7,1792.8 1974.8,1793.9 1975.9,1792.9 1977.1,1796.3 1978.2,1794.2 1979.3,1793.5 1980.4,1797.7 1981.6,1793.8 1982.7,1794.6 1983.8,1793.9 1984.9,1795.0 1986.0,1793.6 1987.2,1795.9 1988.3,1796.1 1989.4,1794.3 1990.5,1794.4 1991.7,1797.4 1992.8,1793.7 1993.9,1793.8 1995.0,1794.0 1996.2,1796.6 1997.3,1793.8 1998.4,1794.9 1999.5,1794.3 2000.6,1795.8 2001.8,1796.4 2002.9,1796.8 2004.0,1796.7 2005.1,1794.5 2006.3,1797.0 2007.4,1796.8 2008.5,1795.5 2009.6,1796.3 2010.8,1799.0 2011.9,1797.0 2013.0,1796.6 2014.1,1793.8 2015.2,1795.1 2016.4,1797.6 2017.5,1797.8 2018.6,1796.9 2019.7,1795.9 2020.9,1797.4 2022.0,1795.7 2023.1,1798.3 2024.2,1795.9 2025.4,1794.6 2026.5,1800.2 2027.6,1796.5 2028.7,1796.1 2029.8,1795.8 2031.0,1796.4 2032.1,1796.6 2033.2,1796.1 2034.3,1796.4 2035.5,1796.5 2036.6,1794.4 2037.7,1795.2 2038.8,1795.4 2040.0,1797.6 2041.1,1797.4 2042.2,1795.3 2043.3,1798.3 2044.4,1795.4 2045.6,1798.8 2046.7,1793.8 2047.8,1795.1 2048.9,1797.7 2050.1,1797.6 2051.2,1799.9 2052.3,1797.1 2053.4,1795.3 2054.6,1796.2 2055.7,1797.5 2056.8,1794.2 2057.9,1796.4 2059.0,1796.6 2060.2,1797.7 2061.3,1796.4 2062.4,1793.5 2063.5,1796.7 2064.7,1799.8 2065.8,1797.1 2066.9,1794.7 2068.0,1795.8 2069.1,1798.3 2070.3,1797.0 2071.4,1799.7 2072.5,1796.7 2073.6,1798.9 2074.8,1798.5 2075.9,1798.5 2077.0,1798.8 2078.1,1795.4 2079.3,1795.7 2080.4,1798.3 2081.5,1797.8 2082.6,1795.5 2083.7,1798.4 2084.9,1798.7 2086.0,1799.3 2087.1,1795.9 2088.2,1797.9 2089.4,1798.2 2090.5,1798.8 2091.6,1799.6 2092.7,1796.9 2093.9,1799.5 2095.0,1799.2 2096.1,1800.9 2097.2,1800.1 2098.3,1799.3 2099.5,1799.3 2100.6,1800.8 2101.7,1799.5 2102.8,1798.9 2104.0,1802.5 2105.1,1798.0 2106.2,1799.2 2107.3,1800.8 2108.5,1799.3 2109.6,1798.3 2110.7,1799.0" fill="none" stroke="#0000d2" stroke-width="7.5" stroke-linejoin="round" stroke-linecap="round" />
<polyline points="1171.9,1825.0 1173.0,1828.9 1174.1,1832.4 1175.2,1838.5 1176.4,1842.1 1177.5,1845.6 1178.6,1850.3 1179.7,1855.9 1180.9,1859.9 1182.0,1865.3 1183.1,1870.2 1184.2,1878.0 1185.3,1885.7 1186.5,1895.0 1187.6,1903.9 1188.7,1911.0 1189.8,1920.6 1191.0,1927.8 1192.1,1936.5 1193.2,1941.7 1194.3,1947.7 1195.5,1949.8 1196.6,1947.9 1197.7,1947.5 1198.8,1944.8 1199.9,1939.4 1201.1,1930.1 1202.2,1920.3 1203.3,1908.6 1204.4,1896.0 1205.6,1881.7 1206.7,1865.0 1207.8,1849.1 1208.9,1830.5 1210.1,1815.2 1211.2,1797.0 1212.3,1781.0 1213.4,1762.4 1214.5,1741.0 1215.7,1720.1 1216.8,1697.5 1217.9,1677.7 1219.0,1655.3 1220.2,1633.5 1221.3,1611.9 1222.4,1591.5 1223.5,1569.0 1224.7,1551.0 1225.8,1528.6 1226.9,1506.1 1228.0,1482.9 1229.1,1462.7 1230.3,1444.9 1231.4,1435.1 1232.5,1426.5 1233.6,1415.2 1234.8,1411.4 1235.9,1407.8 1237.0,1404.6 1238.1,1404.0 1239.3,1402.1 1240.4,1399.8 1241.5,1401.2 1242.6,1400.5 1243.7,1400.3 1244.9,1401.8 1246.0,1406.7 1247.1,1410.4 1248.2,1414.8 1249.4,1425.7 1250.5,1435.3 1251.6,1447.1 1252.7,1463.7 1253.9,1482.9 1255.0,1500.4 1256.1,1518.9 1257.2,1537.3 1258.3,1552.5 1259.5,1571.4 1260.6,1583.4 1261.7,1596.0 1262.8,1612.0 1264.0,1626.0 1265.1,1637.7 1266.2,1651.1 1267.3,1663.1 1268.4,1675.9 1269.6,1686.7 1270.7,1699.1 1271.8,1710.9 1272.9,1722.2 1274.1,1731.0 1275.2,1741.5 1276.3,1748.9 1277.4,1757.2 1278.6,1765.1 1279.7,1773.9 1280.8,1777.5 1281.9,1782.6 1283.0,1785.8 1284.2,1791.3 1285.3,1793.2 1286.4,1795.2 1287.5,1796.2 1288.7,1800.2 1289.8,1800.6 1290.9,1802.9 1292.0,1802.6 1293.2,1805.3 1294.3,1808.0 1295.4,1807.4 1296.5,1807.3 1297.6,1806.7 1298.8,1807.5 1299.9,1808.6 1301.0,1810.0 1302.1,1809.4 1303.3,1810.4 1304.4,1809.8 1305.5,1811.0 1306.6,1813.8 1307.8,1814.9 1308.9,1812.8 1310.0,1811.6 1311.1,1812.1 1312.2,1810.8 1313.4,1808.3 1314.5,1808.1 1315.6,1810.0 1316.7,1807.6 1317.9,1807.2 1319.0,1806.8 1320.1,1805.2 1321.2,1804.3 1322.4,1801.5 1323.5,1802.9 1324.6,1803.3 1325.7,1802.6 1326.8,1800.9 1328.0,1799.3 1329.1,1800.1 1330.2,1799.9 1331.3,1799.9 1332.5,1800.5 1333.6,1799.8 1334.7,1801.0 1335.8,1798.9 1337.0,1799.1 1338.1,1799.3 1339.2,1800.2 1340.3,1799.5 1341.4,1799.7 1342.6,1798.8 1343.7,1799.3 1344.8,1798.7 1345.9,1798.1 1347.1,1797.8 1348.2,1800.0 1349.3,1799.3 1350.4,1800.1 1351.6,1797.8 1352.7,1799.8 1353.8,1797.7 1354.9,1799.5 1356.0,1798.0 1357.2,1799.5 1358.3,1799.2 1359.4,1798.9 1360.5,1798.9 1361.7,1799.1 1362.8,1798.4 1363.9,1797.8 1365.0,1798.2 1366.2,1799.5 1367.3,1800.8 1368.4,1798.9 1369.5,1801.8 1370.6,1798.3 1371.8,1798.4 1372.9,1800.2 1374.0,1798.4 1375.1,1799.6 1376.3,1797.8 1377.4,1799.7 1378.5,1799.8 1379.6,1799.6 1380.8,1798.8 1381.9,1800.0 1383.0,1796.8 1384.1,1799.4 1385.2,1797.3 1386.4,1799.3 1387.5,1799.3 1388.6,1799.7 1389.7,1799.7 1390.9,1798.6 1392.0,1797.8 1393.1,1798.9 1394.2,1799.9 1395.3,1798.8 1396.5,1799.8 1397.6,1801.6 1398.7,1798.9 1399.8,1800.7 1401.0,1799.6 1402.1,1799.0 1403.2,1799.4 1404.3,1799.3 1405.5,1797.5 1406.6,1798.1 1407.7,1797.5 1408.8,1798.8 1409.9,1798.8 1411.1,1797.3 1412.2,1799.6 1413.3,1798.7 1414.4,1798.9 1415.6,1798.7 1416.7,1798.4 1417.8,1798.9 1418.9,1798.2 1420.1,1799.8 1421.2,1798.5 1422.3,1800.0 1423.4,1798.0 1424.5,1798.1 1425.7,1799.2 1426.8,1799.5 1427.9,1799.0 1429.0,1798.5 1430.2,1800.5 1431.3,1800.0 1432.4,1798.1 1433.5,1799.2 1434.7,1800.3 1435.8,1801.2 1436.9,1799.4 1438.0,1800.7 1439.1,1798.9 1440.3,1799.1 1441.4,1797.2 1442.5,1800.2 1443.6,1798.4 1444.8,1800.2 1445.9,1800.0 1447.0,1799.2 1448.1,1799.8 1449.3,1797.3 1450.4,1799.1 1451.5,1799.8 1452.6,1796.8 1453.7,1799.8 1454.9,1799.4 1456.0,1799.2 1457.1,1799.8 1458.2,1798.4 1459.4,1797.9 1460.5,1800.3 1461.6,1799.5 1462.7,1799.4 1463.9,1800.4 1465.0,1800.3 1466.1,1799.4 1467.2,1799.9 1468.3,1798.7 1469.5,1798.3 1470.6,1798.9 1471.7,1798.8 1472.8,1799.9 1474.0,1799.6 1475.1,1798.7 1476.2,1798.5 1477.3,1799.1 1478.5,1798.5 1479.6,1799.3 1480.7,1800.2 1481.8,1798.8 1482.9,1799.5 1484.1,1800.7 1485.2,1798.2 1486.3,1798.7 1487.4,1798.4 1488.6,1799.5 1489.7,1797.6 1490.8,1798.6 1491.9,1798.1 1493.0,1799.7 1494.2,1799.4 1495.3,1797.8 1496.4,1799.1 1497.5,1799.0 1498.7,1797.6 1499.8,1797.9 1500.9,1798.8 1502.0,1797.2 1503.2,1800.5 1504.3,1799.1 1505.4,1799.6 1506.5,1797.6 1507.6,1797.5 1508.8,1799.5 1509.9,1798.9 1511.0,1798.1 1512.1,1798.5 1513.3,1798.8 1514.4,1798.1 1515.5,1797.2 1516.6,1798.9 1517.8,1800.1 1518.9,1799.1 1520.0,1799.1 1521.1,1799.4 1522.2,1798.4 1523.4,1798.3 1524.5,1798.2 1525.6,1798.6 1526.7,1798.8 1527.9,1800.0 1529.0,1799.4 1530.1,1799.9 1531.2,1798.7 1532.4,1799.1 1533.5,1799.1 1534.6,1798.5 1535.7,1799.3 1536.8,1798.0 1538.0,1798.0 1539.1,1799.9 1540.2,1797.8 1541.3,1799.4 1542.5,1799.7 1543.6,1799.3 1544.7,1800.2 1545.8,1798.7 1547.0,1797.9 1548.1,1800.5 1549.2,1798.6 1550.3,1798.5 1551.4,1798.4 1552.6,1798.4 1553.7,1798.6 1554.8,1799.5 1555.9,1798.2 1557.1,1798.7 1558.2,1798.3 1559.3,1798.7 1560.4,1799.3 1561.6,1799.1 1562.7,1798.5 1563.8,1798.1 1564.9,1800.8 1566.0,1800.2 1567.2,1800.6 1568.3,1799.5 1569.4,1799.7 1570.5,1798.8 1571.7,1799.3 1572.8,1797.8 1573.9,1799.6 1575.0,1799.7 1576.2,1799.8 1577.3,1799.3 1578.4,1798.9 1579.5,1799.5 1580.6,1799.9 1581.8,1800.3 1582.9,1798.9 1584.0,1799.6 1585.1,1800.0 1586.3,1799.3 1587.4,1798.7 1588.5,1797.1 1589.6,1797.5 1590.8,1799.9 1591.9,1799.5 1593.0,1800.9 1594.1,1800.9 1595.2,1800.8 1596.4,1798.2 1597.5,1799.2 1598.6,1800.4 1599.7,1799.7 1600.9,1799.5 1602.0,1799.7 1603.1,1797.7 1604.2,1800.9 1605.3,1799.5 1606.5,1798.8 1607.6,1798.6 1608.7,1801.1 1609.8,1798.9 1611.0,1800.2 1612.1,1799.6 1613.2,1800.6 1614.3,1798.3 1615.5,1796.1 1616.6,1798.1 1617.7,1799.3 1618.8,1800.7 1619.9,1798.2 1621.1,1797.9 1622.2,1800.1 1623.3,1798.2 1624.4,1800.7 1625.6,1800.3 1626.7,1798.9 1627.8,1800.4 1628.9,1798.3 1630.1,1797.7 1631.2,1799.0 1632.3,1798.6 1633.4,1797.5 1634.5,1798.6 1635.7,1797.8 1636.8,1797.7 1637.9,1800.0 1639.0,1797.0 1640.2,1797.9 1641.3,1798.9 1642.4,1798.2 1643.5,1798.7 1644.7,1798.8 1645.8,1800.0 1646.9,1799.4 1648.0,1799.3 1649.1,1798.0 1650.3,1798.6 1651.4,1798.6 1652.5,1799.1 1653.6,1797.8 1654.8,1801.3 1655.9,1799.9 1657.0,1798.1 1658.1,1799.4 1659.3,1798.4 1660.4,1797.5 1661.5,1798.3 1662.6,1800.4 1663.7,1799.2 1664.9,1800.1 1666.0,1798.6 1667.1,1798.0 1668.2,1799.2 1669.4,1798.5 1670.5,1799.2 1671.6,1797.2 1672.7,1798.9 1673.9,1798.8 1675.0,1798.5 1676.1,1798.0 1677.2,1798.4 1678.3,1799.0 1679.5,1799.0 1680.6,1798.5 1681.7,1798.5 1682.8,1799.4 1684.0,1799.6 1685.1,1799.2 1686.2,1798.6 1687.3,1799.5 1688.5,1800.1 1689.6,1799.4 1690.7,1799.5 1691.8,1798.5 1692.9,1799.5 1694.1,1799.4 1695.2,1797.3 1696.3,1798.6 1697.4,1799.9 1698.6,1797.9 1699.7,1799.4 1700.8,1799.8 1701.9,1798.5 1703.1,1800.4 1704.2,1799.2 1705.3,1798.6 1706.4,1798.4 1707.5,1799.6 1708.7,1799.6 1709.8,1799.2 1710.9,1798.0 1712.0,1800.8 1713.2,1798.4 1714.3,1798.9 1715.4,1797.9 1716.5,1800.2 1717.6,1798.1 1718.8,1800.0 1719.9,1798.9 1721.0,1799.6 1722.1,1801.5 1723.3,1799.3 1724.4,1798.9 1725.5,1798.4 1726.6,1799.8 1727.8,1800.4 1728.9,1798.6 1730.0,1799.6 1731.1,1798.3 1732.2,1798.0 1733.4,1799.5 1734.5,1799.5 1735.6,1800.0 1736.7,1801.3 1737.9,1799.4 1739.0,1798.7 1740.1,1798.4 1741.2,1799.4 1742.4,1797.7 1743.5,1799.9 1744.6,1799.5 1745.7,1800.0 1746.8,1799.9 1748.0,1799.8 1749.1,1800.2 1750.2,1799.9 1751.3,1799.3 1752.5,1799.5 1753.6,1800.6 1754.7,1799.1 1755.8,1800.4 1757.0,1799.2 1758.1,1799.6 1759.2,1801.5 1760.3,1800.7 1761.4,1798.8 1762.6,1800.3 1763.7,1800.4 1764.8,1800.2 1765.9,1799.7 1767.1,1799.3 1768.2,1800.1 1769.3,1798.3 1770.4,1800.4 1771.6,1800.3 1772.7,1800.1 1773.8,1799.8 1774.9,1797.9 1776.0,1796.7 1777.2,1800.5 1778.3,1800.3 1779.4,1799.2 1780.5,1800.3 1781.7,1798.9 1782.8,1801.7 1783.9,1799.0 1785.0,1803.3 1786.2,1799.6 1787.3,1799.5 1788.4,1797.3 1789.5,1802.4 1790.6,1800.6 1791.8,1801.1 1792.9,1803.8 1794.0,1802.6 1795.1,1804.7 1796.3,1805.6 1797.4,1806.5 1798.5,1805.0 1799.6,1806.5 1800.8,1808.1 1801.9,1804.9 1803.0,1807.9 1804.1,1804.6 1805.2,1805.4 1806.4,1807.0 1807.5,1808.2 1808.6,1807.4 1809.7,1808.1 1810.9,1806.8 1812.0,1806.8 1813.1,1802.8 1814.2,1809.4 1815.4,1807.3 1816.5,1805.6 1817.6,1804.9 1818.7,1804.4 1819.8,1807.6 1821.0,1804.9 1822.1,1810.0 1823.2,1806.0 1824.3,1804.2 1825.5,1804.2 1826.6,1807.0 1827.7,1806.0 1828.8,1807.6 1829.9,1805.4 1831.1,1806.1 1832.2,1803.6 1833.3,1804.9 1834.4,1802.8 1835.6,1803.7 1836.7,1803.8 1837.8,1800.6 1838.9,1801.3 1840.1,1804.8 1841.2,1800.7 1842.3,1801.5 1843.4,1800.5 1844.5,1801.6 1845.7,1804.8 1846.8,1802.6 1847.9,1805.4 1849.0,1803.8 1850.2,1802.7 1851.3,1799.7 1852.4,1801.4 1853.5,1801.1 1854.7,1800.2 1855.8,1802.6 1856.9,1799.6 1858.0,1800.8 1859.1,1802.4 1860.3,1801.8 1861.4,1801.3 1862.5,1800.0 1863.6,1798.8 1864.8,1801.2 1865.9,1801.1 1867.0,1798.1 1868.1,1796.0 1869.3,1798.0 1870.4,1800.3 1871.5,1801.1 1872.6,1799.5 1873.7,1800.1 1874.9,1801.6 1876.0,1798.4 1877.1,1796.7 1878.2,1801.6 1879.4,1801.4 1880.5,1801.0 1881.6,1802.0 1882.7,1799.0 1883.9,1802.2 1885.0,1799.1 1886.1,1799.4 1887.2,1798.8 1888.3,1802.0 1889.5,1799.5 1890.6,1799.3 1891.7,1798.3 1892.8,1798.9 1894.0,1800.2 1895.1,1797.6 1896.2,1797.1 1897.3,1797.0 1898.5,1799.9 1899.6,1797.8 1900.7,1799.5 1901.8,1798.0 1902.9,1796.1 1904.1,1798.7 1905.2,1792.0 1906.3,1793.6 1907.4,1795.9 1908.6,1795.1 1909.7,1793.8 1910.8,1793.5 1911.9,1794.6 1913.1,1792.3 1914.2,1793.6 1915.3,1791.5 1916.4,1787.3 1917.5,1789.6 1918.7,1789.7 1919.8,1786.8 1920.9,1788.8 1922.0,1788.9 1923.2,1791.1 1924.3,1788.9 1925.4,1791.0 1926.5,1789.2 1927.7,1789.4 1928.8,1787.8 1929.9,1788.9 1931.0,1790.5 1932.1,1792.1 1933.3,1791.0 1934.4,1791.3 1935.5,1787.5 1936.6,1789.9 1937.8,1792.3 1938.9,1788.3 1940.0,1787.7 1941.1,1790.5 1942.2,1788.3 1943.4,1791.6 1944.5,1789.4 1945.6,1790.1 1946.7,1789.7 1947.9,1789.9 1949.0,1792.0 1950.1,1790.3 1951.2,1792.7 1952.4,1792.3 1953.5,1790.9 1954.6,1794.8 1955.7,1793.7 1956.8,1791.7 1958.0,1792.4 1959.1,1795.3 1960.2,1795.3 1961.3,1793.7 1962.5,1795.6 1963.6,1794.6 1964.7,1796.8 1965.8,1793.9 1967.0,1797.3 1968.1,1794.8 1969.2,1794.1 1970.3,1796.2 1971.4,1797.6 1972.6,1797.2 1973.7,1798.2 1974.8,1792.8 1975.9,1798.4 1977.1,1797.5 1978.2,1795.2 1979.3,1795.7 1980.4,1794.3 1981.6,1793.9 1982.7,1795.2 1983.8,1796.1 1984.9,1796.9 1986.0,1796.4 1987.2,1794.7 1988.3,1795.3 1989.4,1795.3 1990.5,1798.8 1991.7,1797.5 1992.8,1797.4 1993.9,1797.3 1995.0,1798.1 1996.2,1795.6 1997.3,1795.1 1998.4,1794.0 1999.5,1797.5 2000.6,1797.0 2001.8,1796.7 2002.9,1797.0 2004.0,1798.3 2005.1,1795.9 2006.3,1800.1 2007.4,1797.9 2008.5,1800.1 2009.6,1796.4 2010.8,1799.4 2011.9,1799.1 2013.0,1797.5 2014.1,1799.1 2015.2,1797.2 2016.4,1798.2 2017.5,1794.8 2018.6,1799.6 2019.7,1799.0 2020.9,1797.0 2022.0,1797.7 2023.1,1797.3 2024.2,1798.5 2025.4,1796.7 2026.5,1797.6 2027.6,1796.2 2028.7,1800.3 2029.8,1797.9 2031.0,1798.7 2032.1,1797.8 2033.2,1799.8 2034.3,1797.3 2035.5,1800.5 2036.6,1797.3 2037.7,1797.8 2038.8,1801.4 2040.0,1798.2 2041.1,1801.7 2042.2,1798.0 2043.3,1801.3 2044.4,1799.1 2045.6,1799.4 2046.7,1801.5 2047.8,1801.9 2048.9,1798.5 2050.1,1800.0 2051.2,1797.7 2052.3,1799.4 2053.4,1795.3 2054.6,1799.2 2055.7,1796.9 2056.8,1799.1 2057.9,1799.5 2059.0,1798.9 2060.2,1800.9 2061.3,1800.8 2062.4,1797.4 2063.5,1800.2 2064.7,1801.7 2065.8,1799.3 2066.9,1801.4 2068.0,1800.1 2069.1,1798.5 2070.3,1798.4 2071.4,1797.6 2072.5,1798.7 2073.6,1799.5 2074.8,1799.7 2075.9,1800.1 2077.0,1800.7 2078.1,1797.3 2079.3,1800.9 2080.4,1798.3 2081.5,1801.1 2082.6,1799.2 2083.7,1805.3 2084.9,1800.9 2086.0,1802.1 2087.1,1798.9 2088.2,1799.0 2089.4,1802.3 2090.5,1801.5 2091.6,1800.1 2092.7,1801.1 2093.9,1801.5 2095.0,1800.2 2096.1,1803.7 2097.2,1799.4 2098.3,1801.2 2099.5,1806.2 2100.6,1803.4 2101.7,1802.2 2102.8,1798.7 2104.0,1802.2 2105.1,1804.5 2106.2,1800.3 2107.3,1801.8 2108.5,1802.5 2109.6,1801.0 2110.7,1803.2" fill="none" stroke="#0a5a1c" stroke-width="7.5" stroke-linejoin="round" stroke-linecap="round" />
<polyline points="1171.9,1824.8 1173.0,1827.5 1174.1,1832.1 1175.2,1835.7 1176.4,1841.4 1177.5,1843.7 1178.6,1851.2 1179.7,1855.6 1180.9,1858.4 1182.0,1864.2 1183.1,1869.2 1184.2,1875.5 1185.3,1883.3 1186.5,1893.6 1187.6,1902.3 1188.7,1910.9 1189.8,1921.1 1191.0,1925.7 1192.1,1933.5 1193.2,1942.6 1194.3,1945.7 1195.5,1949.4 1196.6,1947.5 1197.7,1945.9 1198.8,1941.7 1199.9,1938.7 1201.1,1930.2 1202.2,1920.9 1203.3,1908.4 1204.4,1896.6 1205.6,1880.6 1206.7,1862.7 1207.8,1848.0 1208.9,1831.0 1210.1,1815.3 1211.2,1798.6 1212.3,1781.7 1213.4,1763.4 1214.5,1742.3 1215.7,1720.7 1216.8,1698.4 1217.9,1677.9 1219.0,1656.4 1220.2,1634.5 1221.3,1613.9 1222.4,1594.4 1223.5,1575.0 1224.7,1553.0 1225.8,1532.0 1226.9,1508.7 1228.0,1487.2 1229.1,1464.4 1230.3,1451.5 1231.4,1439.6 1232.5,1431.8 1233.6,1423.9 1234.8,1417.2 1235.9,1413.0 1237.0,1410.3 1238.1,1412.1 1239.3,1406.3 1240.4,1404.8 1241.5,1404.3 1242.6,1404.8 1243.7,1407.0 1244.9,1408.6 1246.0,1410.9 1247.1,1416.7 1248.2,1420.6 1249.4,1429.1 1250.5,1439.9 1251.6,1449.5 1252.7,1467.1 1253.9,1485.6 1255.0,1504.3 1256.1,1524.3 1257.2,1540.2 1258.3,1558.8 1259.5,1573.3 1260.6,1585.9 1261.7,1599.4 1262.8,1614.9 1264.0,1625.8 1265.1,1642.2 1266.2,1652.1 1267.3,1666.4 1268.4,1678.1 1269.6,1687.6 1270.7,1701.1 1271.8,1712.9 1272.9,1722.6 1274.1,1730.6 1275.2,1741.5 1276.3,1751.2 1277.4,1758.6 1278.6,1767.7 1279.7,1773.6 1280.8,1778.7 1281.9,1782.3 1283.0,1787.0 1284.2,1789.2 1285.3,1791.4 1286.4,1793.5 1287.5,1799.1 1288.7,1799.6 1289.8,1802.6 1290.9,1802.5 1292.0,1804.3 1293.2,1805.8 1294.3,1807.3 1295.4,1808.6 1296.5,1809.9 1297.6,1807.8 1298.8,1809.4 1299.9,1809.6 1301.0,1810.0 1302.1,1810.4 1303.3,1810.3 1304.4,1813.4 1305.5,1813.5 1306.6,1816.4 1307.8,1815.5 1308.9,1815.5 1310.0,1814.8 1311.1,1812.1 1312.2,1812.1 1313.4,1811.2 1314.5,1810.2 1315.6,1809.9 1316.7,1809.3 1317.9,1808.9 1319.0,1807.8 1320.1,1806.7 1321.2,1805.4 1322.4,1806.0 1323.5,1803.3 1324.6,1802.7 1325.7,1801.7 1326.8,1802.7 1328.0,1802.0 1329.1,1799.9 1330.2,1801.1 1331.3,1799.7 1332.5,1800.7 1333.6,1801.0 1334.7,1801.2 1335.8,1800.2 1337.0,1799.9 1338.1,1800.6 1339.2,1797.9 1340.3,1799.2 1341.4,1800.0 1342.6,1797.6 1343.7,1798.2 1344.8,1799.7 1345.9,1800.0 1347.1,1799.1 1348.2,1798.2 1349.3,1800.3 1350.4,1797.8 1351.6,1799.3 1352.7,1798.1 1353.8,1799.1 1354.9,1798.5 1356.0,1798.3 1357.2,1797.7 1358.3,1799.6 1359.4,1797.1 1360.5,1800.2 1361.7,1798.6 1362.8,1798.3 1363.9,1798.9 1365.0,1798.1 1366.2,1800.5 1367.3,1799.0 1368.4,1798.0 1369.5,1798.9 1370.6,1800.0 1371.8,1798.8 1372.9,1798.8 1374.0,1799.9 1375.1,1797.6 1376.3,1799.5 1377.4,1799.9 1378.5,1798.8 1379.6,1799.6 1380.8,1799.1 1381.9,1798.7 1383.0,1799.3 1384.1,1798.4 1385.2,1798.6 1386.4,1797.7 1387.5,1799.9 1388.6,1798.9 1389.7,1798.7 1390.9,1798.7 1392.0,1801.0 1393.1,1800.0 1394.2,1798.6 1395.3,1798.4 1396.5,1798.9 1397.6,1798.8 1398.7,1797.7 1399.8,1799.3 1401.0,1799.7 1402.1,1797.5 1403.2,1798.3 1404.3,1799.1 1405.5,1799.6 1406.6,1797.4 1407.7,1799.2 1408.8,1799.7 1409.9,1797.7 1411.1,1800.4 1412.2,1799.1 1413.3,1798.3 1414.4,1799.2 1415.6,1799.4 1416.7,1798.5 1417.8,1800.1 1418.9,1799.1 1420.1,1798.2 1421.2,1800.0 1422.3,1797.6 1423.4,1799.1 1424.5,1799.0 1425.7,1799.4 1426.8,1798.4 1427.9,1799.4 1429.0,1798.7 1430.2,1797.7 1431.3,1797.7 1432.4,1800.4 1433.5,1797.6 1434.7,1799.4 1435.8,1798.6 1436.9,1798.8 1438.0,1798.7 1439.1,1799.5 1440.3,1798.4 1441.4,1797.9 1442.5,1799.5 1443.6,1798.9 1444.8,1798.1 1445.9,1797.9 1447.0,1798.6 1448.1,1798.7 1449.3,1798.5 1450.4,1799.3 1451.5,1798.6 1452.6,1799.2 1453.7,1799.3 1454.9,1801.2 1456.0,1800.7 1457.1,1798.6 1458.2,1798.2 1459.4,1798.5 1460.5,1798.8 1461.6,1799.2 1462.7,1798.4 1463.9,1799.3 1465.0,1798.9 1466.1,1797.5 1467.2,1800.3 1468.3,1799.5 1469.5,1799.2 1470.6,1800.8 1471.7,1800.1 1472.8,1797.9 1474.0,1798.4 1475.1,1799.1 1476.2,1797.7 1477.3,1799.9 1478.5,1797.1 1479.6,1799.0 1480.7,1799.5 1481.8,1797.9 1482.9,1798.4 1484.1,1798.8 1485.2,1799.1 1486.3,1800.7 1487.4,1801.0 1488.6,1799.0 1489.7,1798.0 1490.8,1799.7 1491.9,1798.9 1493.0,1800.5 1494.2,1800.4 1495.3,1799.0 1496.4,1798.3 1497.5,1798.2 1498.7,1797.8 1499.8,1799.7 1500.9,1799.1 1502.0,1798.2 1503.2,1800.0 1504.3,1799.3 1505.4,1799.0 1506.5,1799.0 1507.6,1798.1 1508.8,1798.5 1509.9,1799.4 1511.0,1801.2 1512.1,1798.2 1513.3,1798.0 1514.4,1798.5 1515.5,1798.6 1516.6,1798.5 1517.8,1797.8 1518.9,1799.5 1520.0,1799.0 1521.1,1799.9 1522.2,1799.2 1523.4,1799.8 1524.5,1799.8 1525.6,1800.9 1526.7,1799.1 1527.9,1798.0 1529.0,1801.9 1530.1,1797.7 1531.2,1799.0 1532.4,1799.6 1533.5,1798.7 1534.6,1799.2 1535.7,1799.1 1536.8,1797.6 1538.0,1798.8 1539.1,1798.6 1540.2,1799.2 1541.3,1799.2 1542.5,1799.9 1543.6,1799.1 1544.7,1799.7 1545.8,1797.9 1547.0,1799.2 1548.1,1798.3 1549.2,1797.7 1550.3,1798.0 1551.4,1799.7 1552.6,1797.4 1553.7,1800.8 1554.8,1797.6 1555.9,1801.5 1557.1,1799.9 1558.2,1799.1 1559.3,1799.7 1560.4,1801.1 1561.6,1800.5 1562.7,1798.7 1563.8,1800.7 1564.9,1798.4 1566.0,1797.9 1567.2,1797.7 1568.3,1798.8 1569.4,1799.0 1570.5,1799.4 1571.7,1796.3 1572.8,1797.8 1573.9,1798.4 1575.0,1798.7 1576.2,1797.9 1577.3,1800.9 1578.4,1798.2 1579.5,1799.6 1580.6,1801.3 1581.8,1797.9 1582.9,1799.7 1584.0,1798.6 1585.1,1799.7 1586.3,1799.4 1587.4,1797.4 1588.5,1798.7 1589.6,1798.6 1590.8,1800.5 1591.9,1798.1 1593.0,1799.6 1594.1,1798.5 1595.2,1800.0 1596.4,1798.6 1597.5,1798.5 1598.6,1800.4 1599.7,1798.7 1600.9,1799.9 1602.0,1797.8 1603.1,1798.6 1604.2,1798.9 1605.3,1796.0 1606.5,1798.2 1607.6,1799.4 1608.7,1798.1 1609.8,1798.7 1611.0,1797.7 1612.1,1800.0 1613.2,1797.1 1614.3,1799.5 1615.5,1799.4 1616.6,1799.7 1617.7,1799.3 1618.8,1797.1 1619.9,1798.8 1621.1,1800.0 1622.2,1799.1 1623.3,1798.7 1624.4,1798.1 1625.6,1799.3 1626.7,1798.8 1627.8,1796.1 1628.9,1799.1 1630.1,1798.9 1631.2,1800.2 1632.3,1798.1 1633.4,1799.4 1634.5,1797.2 1635.7,1797.8 1636.8,1798.2 1637.9,1799.5 1639.0,1799.3 1640.2,1799.4 1641.3,1798.9 1642.4,1799.3 1643.5,1799.5 1644.7,1798.9 1645.8,1799.0 1646.9,1799.4 1648.0,1798.1 1649.1,1798.0 1650.3,1799.5 1651.4,1796.9 1652.5,1798.6 1653.6,1797.8 1654.8,1797.1 1655.9,1800.4 1657.0,1798.5 1658.1,1798.1 1659.3,1797.8 1660.4,1798.2 1661.5,1798.0 1662.6,1800.5 1663.7,1799.9 1664.9,1798.4 1666.0,1801.0 1667.1,1799.5 1668.2,1799.2 1669.4,1798.6 1670.5,1798.1 1671.6,1798.8 1672.7,1799.8 1673.9,1799.9 1675.0,1798.6 1676.1,1798.4 1677.2,1798.6 1678.3,1798.9 1679.5,1798.9 1680.6,1800.4 1681.7,1799.0 1682.8,1798.3 1684.0,1800.1 1685.1,1798.6 1686.2,1798.3 1687.3,1796.7 1688.5,1799.1 1689.6,1799.3 1690.7,1800.2 1691.8,1800.1 1692.9,1800.6 1694.1,1800.8 1695.2,1798.3 1696.3,1799.0 1697.4,1798.7 1698.6,1800.6 1699.7,1801.0 1700.8,1800.8 1701.9,1797.5 1703.1,1798.0 1704.2,1800.4 1705.3,1799.0 1706.4,1798.9 1707.5,1800.1 1708.7,1799.7 1709.8,1798.2 1710.9,1798.4 1712.0,1798.2 1713.2,1798.8 1714.3,1799.0 1715.4,1798.6 1716.5,1799.3 1717.6,1797.5 1718.8,1798.9 1719.9,1798.6 1721.0,1799.3 1722.1,1799.8 1723.3,1799.2 1724.4,1799.5 1725.5,1800.0 1726.6,1798.4 1727.8,1797.3 1728.9,1799.0 1730.0,1799.4 1731.1,1800.0 1732.2,1800.7 1733.4,1798.7 1734.5,1798.7 1735.6,1800.1 1736.7,1799.2 1737.9,1800.2 1739.0,1798.0 1740.1,1799.2 1741.2,1798.9 1742.4,1797.7 1743.5,1801.6 1744.6,1799.0 1745.7,1799.2 1746.8,1799.7 1748.0,1799.4 1749.1,1798.3 1750.2,1800.1 1751.3,1800.1 1752.5,1797.8 1753.6,1798.5 1754.7,1799.1 1755.8,1798.8 1757.0,1799.5 1758.1,1799.9 1759.2,1799.8 1760.3,1799.3 1761.4,1800.1 1762.6,1801.2 1763.7,1799.9 1764.8,1799.4 1765.9,1799.9 1767.1,1799.1 1768.2,1799.5 1769.3,1798.9 1770.4,1799.7 1771.6,1800.0 1772.7,1799.3 1773.8,1799.0 1774.9,1800.5 1776.0,1801.2 1777.2,1798.0 1778.3,1800.7 1779.4,1799.4 1780.5,1800.7 1781.7,1799.7 1782.8,1798.0 1783.9,1797.6 1785.0,1802.0 1786.2,1802.3 1787.3,1805.3 1788.4,1799.8 1789.5,1798.8 1790.6,1801.1 1791.8,1802.4 1792.9,1801.2 1794.0,1804.3 1795.1,1802.4 1796.3,1801.9 1797.4,1802.5 1798.5,1803.6 1799.6,1805.6 1800.8,1805.6 1801.9,1806.6 1803.0,1802.7 1804.1,1803.7 1805.2,1805.7 1806.4,1805.9 1807.5,1805.5 1808.6,1806.9 1809.7,1805.3 1810.9,1805.4 1812.0,1805.6 1813.1,1806.2 1814.2,1810.0 1815.4,1806.6 1816.5,1808.4 1817.6,1808.8 1818.7,1803.0 1819.8,1806.9 1821.0,1806.3 1822.1,1806.3 1823.2,1806.9 1824.3,1803.0 1825.5,1807.9 1826.6,1804.2 1827.7,1805.6 1828.8,1802.6 1829.9,1803.0 1831.1,1803.9 1832.2,1806.1 1833.3,1802.6 1834.4,1802.1 1835.6,1802.5 1836.7,1803.7 1837.8,1802.2 1838.9,1804.1 1840.1,1802.4 1841.2,1802.1 1842.3,1802.8 1843.4,1803.8 1844.5,1802.6 1845.7,1803.4 1846.8,1803.7 1847.9,1800.3 1849.0,1802.0 1850.2,1802.4 1851.3,1802.3 1852.4,1800.8 1853.5,1801.8 1854.7,1802.3 1855.8,1800.8 1856.9,1800.9 1858.0,1802.4 1859.1,1802.6 1860.3,1799.0 1861.4,1801.3 1862.5,1799.1 1863.6,1799.9 1864.8,1800.8 1865.9,1801.0 1867.0,1798.3 1868.1,1801.6 1869.3,1801.2 1870.4,1801.8 1871.5,1800.7 1872.6,1801.8 1873.7,1800.3 1874.9,1802.2 1876.0,1799.6 1877.1,1799.8 1878.2,1800.0 1879.4,1801.1 1880.5,1798.3 1881.6,1797.2 1882.7,1800.3 1883.9,1801.2 1885.0,1799.0 1886.1,1800.2 1887.2,1799.6 1888.3,1798.8 1889.5,1801.7 1890.6,1798.5 1891.7,1801.1 1892.8,1801.3 1894.0,1799.9 1895.1,1797.1 1896.2,1800.0 1897.3,1798.3 1898.5,1800.1 1899.6,1797.6 1900.7,1797.7 1901.8,1796.0 1902.9,1796.9 1904.1,1796.6 1905.2,1798.7 1906.3,1794.8 1907.4,1793.5 1908.6,1793.7 1909.7,1793.1 1910.8,1792.0 1911.9,1791.0 1913.1,1792.7 1914.2,1790.5 1915.3,1788.8 1916.4,1788.1 1917.5,1789.0 1918.7,1789.8 1919.8,1786.0 1920.9,1785.2 1922.0,1783.8 1923.2,1785.7 1924.3,1787.5 1925.4,1785.3 1926.5,1785.9 1927.7,1786.4 1928.8,1787.4 1929.9,1788.1 1931.0,1786.7 1932.1,1786.6 1933.3,1786.2 1934.4,1786.4 1935.5,1785.9 1936.6,1783.4 1937.8,1786.4 1938.9,1784.6 1940.0,1788.2 1941.1,1788.7 1942.2,1789.0 1943.4,1791.3 1944.5,1786.6 1945.6,1788.9 1946.7,1788.7 1947.9,1787.7 1949.0,1790.1 1950.1,1788.9 1951.2,1795.3 1952.4,1790.5 1953.5,1792.5 1954.6,1794.1 1955.7,1792.1 1956.8,1793.9 1958.0,1795.1 1959.1,1797.0 1960.2,1791.6 1961.3,1798.1 1962.5,1794.3 1963.6,1792.1 1964.7,1793.5 1965.8,1795.5 1967.0,1795.0 1968.1,1795.6 1969.2,1794.4 1970.3,1794.9 1971.4,1796.7 1972.6,1797.0 1973.7,1793.2 1974.8,1796.8 1975.9,1796.7 1977.1,1791.6 1978.2,1796.3 1979.3,1797.1 1980.4,1796.6 1981.6,1794.0 1982.7,1796.3 1983.8,1795.4 1984.9,1798.7 1986.0,1796.2 1987.2,1795.3 1988.3,1795.3 1989.4,1793.2 1990.5,1794.7 1991.7,1799.7 1992.8,1797.9 1993.9,1796.8 1995.0,1796.0 1996.2,1795.5 1997.3,1794.7 1998.4,1798.2 1999.5,1799.0 2000.6,1794.6 2001.8,1797.3 2002.9,1799.3 2004.0,1797.3 2005.1,1796.5 2006.3,1797.7 2007.4,1797.7 2008.5,1794.5 2009.6,1797.6 2010.8,1795.6 2011.9,1795.7 2013.0,1796.6 2014.1,1792.6 2015.2,1798.2 2016.4,1792.3 2017.5,1797.6 2018.6,1796.6 2019.7,1795.8 2020.9,1794.6 2022.0,1795.3 2023.1,1796.9 2024.2,1796.9 2025.4,1794.7 2026.5,1794.1 2027.6,1797.3 2028.7,1794.7 2029.8,1795.7 2031.0,1796.2 2032.1,1798.2 2033.2,1798.5 2034.3,1796.0 2035.5,1800.8 2036.6,1797.4 2037.7,1796.1 2038.8,1799.2 2040.0,1794.3 2041.1,1794.3 2042.2,1798.4 2043.3,1797.0 2044.4,1797.0 2045.6,1797.7 2046.7,1797.6 2047.8,1796.2 2048.9,1794.5 2050.1,1796.9 2051.2,1796.9 2052.3,1796.8 2053.4,1798.1 2054.6,1796.2 2055.7,1797.9 2056.8,1798.6 2057.9,1796.2 2059.0,1800.0 2060.2,1798.0 2061.3,1797.9 2062.4,1797.5 2063.5,1799.6 2064.7,1798.8 2065.8,1797.6 2066.9,1796.6 2068.0,1797.7 2069.1,1797.8 2070.3,1798.8 2071.4,1797.6 2072.5,1801.8 2073.6,1796.7 2074.8,1796.3 2075.9,1797.8 2077.0,1799.2 2078.1,1795.8 2079.3,1798.9 2080.4,1795.9 2081.5,1798.3 2082.6,1799.1 2083.7,1798.3 2084.9,1799.1 2086.0,1798.3 2087.1,1797.4 2088.2,1798.5 2089.4,1798.9 2090.5,1798.3 2091.6,1797.7 2092.7,1798.3 2093.9,1797.6 2095.0,1797.5 2096.1,1798.0 2097.2,1797.4 2098.3,1798.5 2099.5,1796.9 2100.6,1798.0 2101.7,1797.4 2102.8,1799.0 2104.0,1800.8 2105.1,1799.4 2106.2,1798.8 2107.3,1798.3 2108.5,1799.0 2109.6,1796.8 2110.7,1800.9" fill="none" stroke="#000000" stroke-width="7.5" stroke-linejoin="round" stroke-linecap="round" />
<polyline points="1171.9,1826.3 1173.0,1828.5 1174.1,1833.0 1175.2,1836.4 1176.4,1840.1 1177.5,1842.4 1178.6,1850.7 1179.7,1854.8 1180.9,1858.5 1182.0,1864.8 1183.1,1869.6 1184.2,1873.6 1185.3,1882.5 1186.5,1891.8 1187.6,1900.6 1188.7,1912.9 1189.8,1919.0 1191.0,1926.5 1192.1,1933.6 1193.2,1941.4 1194.3,1945.6 1195.5,1947.1 1196.6,1945.3 1197.7,1944.2 1198.8,1939.3 1199.9,1937.7 1201.1,1928.5 1202.2,1918.0 1203.3,1907.5 1204.4,1894.1 1205.6,1879.9 1206.7,1863.8 1207.8,1846.1 1208.9,1830.4 1210.1,1814.5 1211.2,1798.5 1212.3,1780.9 1213.4,1761.8 1214.5,1742.2 1215.7,1722.0 1216.8,1700.6 1217.9,1680.2 1219.0,1659.7 1220.2,1638.8 1221.3,1618.2 1222.4,1596.3 1223.5,1577.8 1224.7,1556.4 1225.8,1537.2 1226.9,1513.2 1228.0,1491.7 1229.1,1470.8 1230.3,1455.8 1231.4,1446.6 1232.5,1436.3 1233.6,1429.1 1234.8,1423.0 1235.9,1419.9 1237.0,1417.0 1238.1,1414.7 1239.3,1413.0 1240.4,1409.7 1241.5,1411.6 1242.6,1411.4 1243.7,1412.7 1244.9,1415.1 1246.0,1418.2 1247.1,1421.4 1248.2,1427.0 1249.4,1434.3 1250.5,1444.7 1251.6,1457.3 1252.7,1471.4 1253.9,1489.0 1255.0,1508.9 1256.1,1528.0 1257.2,1545.5 1258.3,1560.1 1259.5,1575.2 1260.6,1589.9 1261.7,1603.1 1262.8,1615.3 1264.0,1630.6 1265.1,1642.0 1266.2,1655.5 1267.3,1664.0 1268.4,1678.8 1269.6,1691.0 1270.7,1702.7 1271.8,1715.1 1272.9,1724.5 1274.1,1731.6 1275.2,1742.2 1276.3,1751.5 1277.4,1759.5 1278.6,1766.9 1279.7,1774.3 1280.8,1778.4 1281.9,1782.5 1283.0,1788.0 1284.2,1790.0 1285.3,1795.2 1286.4,1796.8 1287.5,1796.8 1288.7,1798.6 1289.8,1799.9 1290.9,1804.7 1292.0,1805.1 1293.2,1806.6 1294.3,1806.5 1295.4,1808.2 1296.5,1809.3 1297.6,1809.6 1298.8,1811.4 1299.9,1810.8 1301.0,1813.0 1302.1,1812.9 1303.3,1815.1 1304.4,1816.4 1305.5,1818.8 1306.6,1820.0 1307.8,1820.3 1308.9,1818.1 1310.0,1819.8 1311.1,1815.4 1312.2,1815.7 1313.4,1815.3 1314.5,1812.4 1315.6,1812.9 1316.7,1810.7 1317.9,1809.9 1319.0,1807.3 1320.1,1806.3 1321.2,1805.0 1322.4,1805.1 1323.5,1802.5 1324.6,1803.0 1325.7,1802.2 1326.8,1801.3 1328.0,1801.0 1329.1,1802.0 1330.2,1799.8 1331.3,1801.7 1332.5,1799.6 1333.6,1800.0 1334.7,1799.7 1335.8,1800.7 1337.0,1798.6 1338.1,1799.6 1339.2,1798.5 1340.3,1799.9 1341.4,1799.8 1342.6,1799.0 1343.7,1798.1 1344.8,1800.3 1345.9,1799.5 1347.1,1799.5 1348.2,1799.3 1349.3,1799.4 1350.4,1798.0 1351.6,1798.3 1352.7,1799.0 1353.8,1798.2 1354.9,1798.0 1356.0,1799.6 1357.2,1799.7 1358.3,1798.3 1359.4,1797.0 1360.5,1801.2 1361.7,1799.6 1362.8,1798.3 1363.9,1799.8 1365.0,1798.2 1366.2,1798.8 1367.3,1800.2 1368.4,1799.4 1369.5,1798.6 1370.6,1799.8 1371.8,1798.4 1372.9,1798.7 1374.0,1799.3 1375.1,1798.6 1376.3,1799.3 1377.4,1798.8 1378.5,1799.9 1379.6,1797.7 1380.8,1799.2 1381.9,1797.9 1383.0,1797.0 1384.1,1797.5 1385.2,1799.0 1386.4,1798.8 1387.5,1799.0 1388.6,1798.7 1389.7,1799.8 1390.9,1800.7 1392.0,1798.7 1393.1,1799.0 1394.2,1797.5 1395.3,1797.3 1396.5,1800.3 1397.6,1799.9 1398.7,1798.3 1399.8,1797.9 1401.0,1798.9 1402.1,1798.9 1403.2,1800.7 1404.3,1796.8 1405.5,1799.7 1406.6,1798.5 1407.7,1798.7 1408.8,1799.8 1409.9,1798.2 1411.1,1797.6 1412.2,1799.0 1413.3,1798.9 1414.4,1798.4 1415.6,1798.1 1416.7,1798.2 1417.8,1799.8 1418.9,1799.9 1420.1,1799.5 1421.2,1801.5 1422.3,1800.2 1423.4,1799.2 1424.5,1799.6 1425.7,1799.8 1426.8,1798.2 1427.9,1798.7 1429.0,1798.2 1430.2,1799.2 1431.3,1799.4 1432.4,1799.8 1433.5,1798.8 1434.7,1800.7 1435.8,1799.8 1436.9,1798.4 1438.0,1798.2 1439.1,1799.1 1440.3,1800.1 1441.4,1798.5 1442.5,1799.7 1443.6,1799.1 1444.8,1799.9 1445.9,1797.3 1447.0,1797.6 1448.1,1799.8 1449.3,1800.1 1450.4,1799.0 1451.5,1798.4 1452.6,1797.8 1453.7,1799.1 1454.9,1800.2 1456.0,1798.7 1457.1,1798.7 1458.2,1800.5 1459.4,1799.2 1460.5,1799.3 1461.6,1799.9 1462.7,1798.8 1463.9,1798.0 1465.0,1798.0 1466.1,1799.8 1467.2,1799.6 1468.3,1798.3 1469.5,1799.3 1470.6,1799.3 1471.7,1796.9 1472.8,1801.4 1474.0,1799.6 1475.1,1799.8 1476.2,1799.0 1477.3,1797.4 1478.5,1799.1 1479.6,1799.3 1480.7,1798.8 1481.8,1799.3 1482.9,1798.6 1484.1,1796.6 1485.2,1799.7 1486.3,1799.2 1487.4,1799.1 1488.6,1801.0 1489.7,1798.4 1490.8,1799.1 1491.9,1800.9 1493.0,1799.3 1494.2,1798.8 1495.3,1799.8 1496.4,1798.0 1497.5,1799.6 1498.7,1800.4 1499.8,1798.2 1500.9,1799.1 1502.0,1798.9 1503.2,1800.5 1504.3,1800.3 1505.4,1800.0 1506.5,1799.1 1507.6,1799.1 1508.8,1797.7 1509.9,1797.5 1511.0,1798.9 1512.1,1799.1 1513.3,1797.2 1514.4,1798.9 1515.5,1798.0 1516.6,1799.5 1517.8,1799.1 1518.9,1799.3 1520.0,1799.7 1521.1,1798.6 1522.2,1799.8 1523.4,1799.1 1524.5,1798.6 1525.6,1797.0 1526.7,1800.8 1527.9,1798.9 1529.0,1798.4 1530.1,1799.3 1531.2,1798.2 1532.4,1798.5 1533.5,1798.5 1534.6,1799.4 1535.7,1799.2 1536.8,1799.2 1538.0,1799.9 1539.1,1798.8 1540.2,1800.0 1541.3,1799.9 1542.5,1800.3 1543.6,1798.0 1544.7,1799.5 1545.8,1799.8 1547.0,1798.2 1548.1,1799.4 1549.2,1798.7 1550.3,1799.2 1551.4,1798.7 1552.6,1798.8 1553.7,1801.0 1554.8,1797.6 1555.9,1798.1 1557.1,1800.4 1558.2,1798.2 1559.3,1799.2 1560.4,1798.9 1561.6,1797.8 1562.7,1798.1 1563.8,1798.1 1564.9,1797.1 1566.0,1798.0 1567.2,1799.6 1568.3,1800.2 1569.4,1798.2 1570.5,1800.6 1571.7,1799.3 1572.8,1799.3 1573.9,1799.7 1575.0,1797.7 1576.2,1798.7 1577.3,1799.2 1578.4,1798.2 1579.5,1799.4 1580.6,1797.9 1581.8,1797.1 1582.9,1799.1 1584.0,1799.2 1585.1,1797.9 1586.3,1800.9 1587.4,1800.2 1588.5,1800.0 1589.6,1800.5 1590.8,1799.0 1591.9,1798.7 1593.0,1799.0 1594.1,1799.0 1595.2,1798.1 1596.4,1798.0 1597.5,1797.8 1598.6,1799.1 1599.7,1799.0 1600.9,1797.6 1602.0,1798.6 1603.1,1797.8 1604.2,1799.5 1605.3,1799.0 1606.5,1799.6 1607.6,1799.0 1608.7,1798.6 1609.8,1799.4 1611.0,1797.2 1612.1,1800.4 1613.2,1798.2 1614.3,1800.0 1615.5,1798.7 1616.6,1799.7 1617.7,1798.9 1618.8,1798.9 1619.9,1799.8 1621.1,1800.2 1622.2,1799.7 1623.3,1799.0 1624.4,1798.2 1625.6,1797.5 1626.7,1800.6 1627.8,1798.6 1628.9,1799.4 1630.1,1799.0 1631.2,1798.7 1632.3,1798.3 1633.4,1798.6 1634.5,1799.0 1635.7,1797.5 1636.8,1798.7 1637.9,1799.0 1639.0,1797.9 1640.2,1800.1 1641.3,1799.9 1642.4,1797.6 1643.5,1799.2 1644.7,1800.7 1645.8,1798.3 1646.9,1797.9 1648.0,1799.7 1649.1,1800.2 1650.3,1799.1 1651.4,1798.7 1652.5,1799.6 1653.6,1799.9 1654.8,1798.5 1655.9,1798.5 1657.0,1800.5 1658.1,1800.1 1659.3,1799.3 1660.4,1799.6 1661.5,1798.8 1662.6,1798.5 1663.7,1797.3 1664.9,1798.7 1666.0,1798.1 1667.1,1800.5 1668.2,1799.7 1669.4,1798.0 1670.5,1800.4 1671.6,1797.8 1672.7,1798.5 1673.9,1798.9 1675.0,1799.1 1676.1,1800.1 1677.2,1800.0 1678.3,1799.5 1679.5,1799.4 1680.6,1797.9 1681.7,1800.0 1682.8,1799.6 1684.0,1800.7 1685.1,1798.9 1686.2,1799.0 1687.3,1798.0 1688.5,1797.3 1689.6,1798.6 1690.7,1799.9 1691.8,1798.9 1692.9,1798.8 1694.1,1799.1 1695.2,1800.1 1696.3,1798.8 1697.4,1800.2 1698.6,1799.2 1699.7,1799.4 1700.8,1801.5 1701.9,1798.5 1703.1,1797.1 1704.2,1799.5 1705.3,1799.7 1706.4,1798.3 1707.5,1800.4 1708.7,1799.1 1709.8,1798.9 1710.9,1799.7 1712.0,1799.2 1713.2,1800.0 1714.3,1799.7 1715.4,1798.6 1716.5,1800.0 1717.6,1799.7 1718.8,1799.9 1719.9,1798.7 1721.0,1799.6 1722.1,1800.0 1723.3,1798.9 1724.4,1801.1 1725.5,1801.0 1726.6,1799.0 1727.8,1797.5 1728.9,1799.8 1730.0,1799.0 1731.1,1800.6 1732.2,1799.2 1733.4,1799.2 1734.5,1798.8 1735.6,1800.1 1736.7,1797.6 1737.9,1800.3 1739.0,1798.0 1740.1,1800.4 1741.2,1798.7 1742.4,1798.2 1743.5,1797.4 1744.6,1799.6 1745.7,1801.0 1746.8,1798.7 1748.0,1800.2 1749.1,1800.5 1750.2,1800.1 1751.3,1800.4 1752.5,1798.9 1753.6,1799.4 1754.7,1799.0 1755.8,1798.8 1757.0,1800.0 1758.1,1799.0 1759.2,1798.6 1760.3,1798.0 1761.4,1799.6 1762.6,1800.0 1763.7,1800.7 1764.8,1800.2 1765.9,1799.8 1767.1,1799.6 1768.2,1801.1 1769.3,1800.3 1770.4,1800.1 1771.6,1800.5 1772.7,1800.5 1773.8,1799.7 1774.9,1801.4 1776.0,1799.4 1777.2,1801.6 1778.3,1799.8 1779.4,1801.7 1780.5,1798.5 1781.7,1799.1 1782.8,1798.3 1783.9,1801.4 1785.0,1802.1 1786.2,1802.2 1787.3,1800.9 1788.4,1799.3 1789.5,1800.2 1790.6,1800.6 1791.8,1803.8 1792.9,1801.0 1794.0,1802.0 1795.1,1804.3 1796.3,1807.6 1797.4,1805.5 1798.5,1804.9 1799.6,1802.8 1800.8,1804.9 1801.9,1805.4 1803.0,1803.2 1804.1,1803.4 1805.2,1805.2 1806.4,1805.0 1807.5,1804.2 1808.6,1807.1 1809.7,1805.6 1810.9,1806.9 1812.0,1807.7 1813.1,1805.7 1814.2,1804.9 1815.4,1803.8 1816.5,1805.4 1817.6,1804.8 1818.7,1806.6 1819.8,1808.4 1821.0,1807.0 1822.1,1805.3 1823.2,1806.5 1824.3,1802.8 1825.5,1803.5 1826.6,1805.3 1827.7,1802.3 1828.8,1803.6 1829.9,1802.0 1831.1,1804.4 1832.2,1802.8 1833.3,1804.1 1834.4,1803.6 1835.6,1801.9 1836.7,1800.6 1837.8,1803.0 1838.9,1802.6 1840.1,1804.1 1841.2,1803.0 1842.3,1801.9 1843.4,1804.2 1844.5,1802.9 1845.7,1803.7 1846.8,1801.7 1847.9,1800.6 1849.0,1801.3 1850.2,1802.1 1851.3,1803.0 1852.4,1803.8 1853.5,1801.4 1854.7,1799.1 1855.8,1801.6 1856.9,1801.3 1858.0,1801.7 1859.1,1802.6 1860.3,1799.5 1861.4,1799.9 1862.5,1803.0 1863.6,1802.6 1864.8,1798.9 1865.9,1802.0 1867.0,1800.8 1868.1,1802.1 1869.3,1800.2 1870.4,1801.7 1871.5,1801.4 1872.6,1802.1 1873.7,1797.8 1874.9,1796.7 1876.0,1800.1 1877.1,1799.4 1878.2,1799.5 1879.4,1800.3 1880.5,1800.4 1881.6,1800.7 1882.7,1799.0 1883.9,1801.8 1885.0,1801.2 1886.1,1798.9 1887.2,1801.9 1888.3,1797.5 1889.5,1800.1 1890.6,1799.4 1891.7,1797.7 1892.8,1799.5 1894.0,1799.2 1895.1,1800.1 1896.2,1798.4 1897.3,1798.0 1898.5,1800.1 1899.6,1797.6 1900.7,1796.7 1901.8,1797.0 1902.9,1798.2 1904.1,1795.2 1905.2,1793.9 1906.3,1795.8 1907.4,1797.0 1908.6,1794.6 1909.7,1792.8 1910.8,1790.2 1911.9,1789.4 1913.1,1788.9 1914.2,1789.3 1915.3,1785.7 1916.4,1785.2 1917.5,1785.0 1918.7,1784.5 1919.8,1779.2 1920.9,1781.7 1922.0,1776.7 1923.2,1774.5 1924.3,1776.7 1925.4,1777.0 1926.5,1775.9 1927.7,1775.4 1928.8,1773.6 1929.9,1773.0 1931.0,1776.1 1932.1,1776.3 1933.3,1777.7 1934.4,1776.1 1935.5,1777.1 1936.6,1780.6 1937.8,1780.9 1938.9,1781.4 1940.0,1785.5 1941.1,1785.1 1942.2,1785.4 1943.4,1788.6 1944.5,1787.2 1945.6,1788.1 1946.7,1789.7 1947.9,1788.1 1949.0,1791.7 1950.1,1790.4 1951.2,1792.0 1952.4,1790.7 1953.5,1793.9 1954.6,1792.4 1955.7,1792.8 1956.8,1792.3 1958.0,1791.7 1959.1,1796.3 1960.2,1794.3 1961.3,1795.8 1962.5,1792.9 1963.6,1792.4 1964.7,1794.8 1965.8,1794.1 1967.0,1792.6 1968.1,1794.3 1969.2,1794.8 1970.3,1797.0 1971.4,1795.7 1972.6,1793.3 1973.7,1796.8 1974.8,1794.4 1975.9,1794.5 1977.1,1794.9 1978.2,1793.7 1979.3,1796.0 1980.4,1792.9 1981.6,1795.6 1982.7,1793.5 1983.8,1795.8 1984.9,1794.6 1986.0,1795.5 1987.2,1792.6 1988.3,1796.6 1989.4,1796.0 1990.5,1793.0 1991.7,1794.0 1992.8,1795.2 1993.9,1795.5 1995.0,1797.0 1996.2,1795.6 1997.3,1794.7 1998.4,1793.5 1999.5,1794.0 2000.6,1793.2 2001.8,1794.8 2002.9,1796.4 2004.0,1795.9 2005.1,1793.2 2006.3,1795.3 2007.4,1793.4 2008.5,1797.8 2009.6,1796.2 2010.8,1796.7 2011.9,1795.2 2013.0,1796.7 2014.1,1797.5 2015.2,1795.7 2016.4,1798.9 2017.5,1796.5 2018.6,1795.1 2019.7,1797.3 2020.9,1795.8 2022.0,1797.0 2023.1,1796.2 2024.2,1795.4 2025.4,1795.1 2026.5,1795.2 2027.6,1796.9 2028.7,1793.6 2029.8,1795.4 2031.0,1796.8 2032.1,1794.0 2033.2,1796.5 2034.3,1793.1 2035.5,1794.7 2036.6,1796.1 2037.7,1796.7 2038.8,1797.2 2040.0,1797.1 2041.1,1796.4 2042.2,1794.1 2043.3,1795.8 2044.4,1796.2 2045.6,1795.5 2046.7,1796.6 2047.8,1798.0 2048.9,1798.3 2050.1,1794.1 2051.2,1796.6 2052.3,1793.9 2053.4,1793.5 2054.6,1795.8 2055.7,1795.2 2056.8,1796.8 2057.9,1796.5 2059.0,1796.2 2060.2,1796.4 2061.3,1794.2 2062.4,1796.5 2063.5,1795.1 2064.7,1796.3 2065.8,1795.6 2066.9,1793.8 2068.0,1798.8 2069.1,1794.9 2070.3,1797.5 2071.4,1796.3 2072.5,1797.1 2073.6,1797.4 2074.8,1798.7 2075.9,1800.6 2077.0,1793.6 2078.1,1795.5 2079.3,1797.2 2080.4,1799.6 2081.5,1795.9 2082.6,1794.6 2083.7,1796.3 2084.9,1799.5 2086.0,1797.7 2087.1,1796.6 2088.2,1797.2 2089.4,1795.4 2090.5,1798.5 2091.6,1798.1 2092.7,1800.8 2093.9,1795.5 2095.0,1796.3 2096.1,1797.9 2097.2,1800.0 2098.3,1796.1 2099.5,1799.5 2100.6,1799.3 2101.7,1800.3 2102.8,1799.6 2104.0,1798.9 2105.1,1799.2 2106.2,1796.0 2107.3,1796.6 2108.5,1797.6 2109.6,1798.6 2110.7,1797.8" fill="none" stroke="#ee0a8c" stroke-width="7.5" stroke-linejoin="round" stroke-linecap="round" />
<polyline points="1171.9,1825.3 1173.0,1827.4 1174.1,1832.6 1175.2,1836.2 1176.4,1839.6 1177.5,1845.0 1178.6,1849.8 1179.7,1851.7 1180.9,1858.9 1182.0,1863.4 1183.1,1868.6 1184.2,1874.1 1185.3,1881.0 1186.5,1893.2 1187.6,1900.2 1188.7,1907.6 1189.8,1915.6 1191.0,1923.0 1192.1,1931.3 1193.2,1937.5 1194.3,1942.9 1195.5,1945.7 1196.6,1942.8 1197.7,1939.6 1198.8,1936.8 1199.9,1932.9 1201.1,1925.5 1202.2,1916.1 1203.3,1903.4 1204.4,1892.4 1205.6,1880.2 1206.7,1862.3 1207.8,1845.4 1208.9,1830.8 1210.1,1814.0 1211.2,1797.6 1212.3,1784.2 1213.4,1760.6 1214.5,1742.5 1215.7,1722.8 1216.8,1702.9 1217.9,1682.8 1219.0,1657.6 1220.2,1641.0 1221.3,1619.6 1222.4,1600.7 1223.5,1580.3 1224.7,1559.4 1225.8,1540.9 1226.9,1518.3 1228.0,1496.7 1229.1,1476.4 1230.3,1460.5 1231.4,1451.0 1232.5,1440.3 1233.6,1434.4 1234.8,1428.5 1235.9,1424.4 1237.0,1422.6 1238.1,1419.7 1239.3,1421.8 1240.4,1419.6 1241.5,1419.4 1242.6,1415.8 1243.7,1417.5 1244.9,1421.3 1246.0,1423.1 1247.1,1428.8 1248.2,1432.6 1249.4,1438.9 1250.5,1449.7 1251.6,1459.3 1252.7,1476.7 1253.9,1492.7 1255.0,1512.8 1256.1,1531.5 1257.2,1548.8 1258.3,1563.5 1259.5,1577.3 1260.6,1592.4 1261.7,1605.6 1262.8,1619.3 1264.0,1631.9 1265.1,1645.8 1266.2,1656.4 1267.3,1668.8 1268.4,1680.9 1269.6,1692.7 1270.7,1704.6 1271.8,1715.8 1272.9,1726.3 1274.1,1735.3 1275.2,1742.4 1276.3,1751.5 1277.4,1761.5 1278.6,1768.4 1279.7,1772.4 1280.8,1777.1 1281.9,1782.1 1283.0,1784.4 1284.2,1790.5 1285.3,1792.2 1286.4,1795.9 1287.5,1795.4 1288.7,1799.5 1289.8,1801.5 1290.9,1803.4 1292.0,1806.2 1293.2,1807.1 1294.3,1810.8 1295.4,1810.3 1296.5,1812.1 1297.6,1811.6 1298.8,1812.4 1299.9,1814.8 1301.0,1817.7 1302.1,1819.6 1303.3,1819.6 1304.4,1822.4 1305.5,1823.8 1306.6,1825.7 1307.8,1824.7 1308.9,1824.4 1310.0,1822.8 1311.1,1823.1 1312.2,1820.4 1313.4,1819.9 1314.5,1816.4 1315.6,1815.0 1316.7,1813.9 1317.9,1811.0 1319.0,1811.4 1320.1,1806.9 1321.2,1806.4 1322.4,1804.8 1323.5,1803.9 1324.6,1804.0 1325.7,1803.1 1326.8,1800.9 1328.0,1801.3 1329.1,1800.5 1330.2,1800.8 1331.3,1799.3 1332.5,1799.3 1333.6,1801.1 1334.7,1797.7 1335.8,1798.5 1337.0,1798.6 1338.1,1799.0 1339.2,1799.3 1340.3,1798.3 1341.4,1796.5 1342.6,1799.1 1343.7,1800.1 1344.8,1799.0 1345.9,1798.8 1347.1,1797.9 1348.2,1800.2 1349.3,1799.4 1350.4,1799.2 1351.6,1797.9 1352.7,1797.8 1353.8,1798.7 1354.9,1797.8 1356.0,1798.8 1357.2,1798.8 1358.3,1801.2 1359.4,1799.8 1360.5,1800.1 1361.7,1798.5 1362.8,1798.9 1363.9,1800.0 1365.0,1798.9 1366.2,1799.1 1367.3,1798.6 1368.4,1799.5 1369.5,1799.7 1370.6,1797.7 1371.8,1799.2 1372.9,1797.9 1374.0,1799.8 1375.1,1799.2 1376.3,1799.3 1377.4,1799.9 1378.5,1798.2 1379.6,1800.3 1380.8,1798.7 1381.9,1801.1 1383.0,1798.3 1384.1,1798.9 1385.2,1797.8 1386.4,1796.9 1387.5,1799.6 1388.6,1799.0 1389.7,1800.3 1390.9,1799.4 1392.0,1798.9 1393.1,1798.9 1394.2,1798.2 1395.3,1798.5 1396.5,1798.0 1397.6,1799.6 1398.7,1798.8 1399.8,1800.0 1401.0,1799.1 1402.1,1801.7 1403.2,1799.1 1404.3,1798.9 1405.5,1799.4 1406.6,1799.4 1407.7,1800.7 1408.8,1799.6 1409.9,1799.6 1411.1,1798.8 1412.2,1798.5 1413.3,1799.4 1414.4,1799.1 1415.6,1798.6 1416.7,1799.9 1417.8,1798.0 1418.9,1797.0 1420.1,1798.6 1421.2,1799.5 1422.3,1798.8 1423.4,1797.8 1424.5,1797.7 1425.7,1800.3 1426.8,1798.7 1427.9,1799.7 1429.0,1799.4 1430.2,1798.7 1431.3,1798.5 1432.4,1799.3 1433.5,1799.8 1434.7,1799.2 1435.8,1800.0 1436.9,1797.3 1438.0,1800.5 1439.1,1798.4 1440.3,1798.9 1441.4,1799.0 1442.5,1800.0 1443.6,1799.5 1444.8,1799.3 1445.9,1799.5 1447.0,1799.2 1448.1,1798.9 1449.3,1799.4 1450.4,1798.6 1451.5,1798.3 1452.6,1799.5 1453.7,1798.3 1454.9,1798.9 1456.0,1799.5 1457.1,1798.5 1458.2,1797.9 1459.4,1799.3 1460.5,1800.8 1461.6,1798.2 1462.7,1798.0 1463.9,1800.1 1465.0,1799.1 1466.1,1798.5 1467.2,1801.3 1468.3,1798.2 1469.5,1798.3 1470.6,1798.2 1471.7,1797.5 1472.8,1800.0 1474.0,1798.1 1475.1,1796.8 1476.2,1801.2 1477.3,1799.4 1478.5,1798.3 1479.6,1799.7 1480.7,1800.8 1481.8,1798.7 1482.9,1798.8 1484.1,1799.7 1485.2,1798.8 1486.3,1798.1 1487.4,1798.0 1488.6,1798.6 1489.7,1800.2 1490.8,1799.3 1491.9,1801.3 1493.0,1800.1 1494.2,1798.9 1495.3,1798.5 1496.4,1799.1 1497.5,1799.0 1498.7,1801.0 1499.8,1800.3 1500.9,1800.2 1502.0,1799.6 1503.2,1799.6 1504.3,1796.9 1505.4,1798.0 1506.5,1800.1 1507.6,1799.7 1508.8,1799.6 1509.9,1799.6 1511.0,1799.6 1512.1,1801.1 1513.3,1797.9 1514.4,1798.4 1515.5,1798.4 1516.6,1798.9 1517.8,1798.6 1518.9,1799.4 1520.0,1801.0 1521.1,1798.9 1522.2,1799.0 1523.4,1800.4 1524.5,1801.3 1525.6,1797.9 1526.7,1800.1 1527.9,1799.3 1529.0,1799.7 1530.1,1797.4 1531.2,1800.5 1532.4,1798.0 1533.5,1801.6 1534.6,1798.1 1535.7,1799.5 1536.8,1801.3 1538.0,1799.0 1539.1,1799.1 1540.2,1800.7 1541.3,1798.7 1542.5,1799.1 1543.6,1798.6 1544.7,1800.4 1545.8,1799.8 1547.0,1800.0 1548.1,1798.9 1549.2,1799.6 1550.3,1800.1 1551.4,1797.7 1552.6,1799.6 1553.7,1798.0 1554.8,1798.2 1555.9,1799.8 1557.1,1800.9 1558.2,1798.9 1559.3,1798.4 1560.4,1797.9 1561.6,1798.7 1562.7,1798.6 1563.8,1799.7 1564.9,1799.8 1566.0,1795.8 1567.2,1797.9 1568.3,1800.4 1569.4,1798.8 1570.5,1798.6 1571.7,1800.8 1572.8,1799.3 1573.9,1798.5 1575.0,1797.4 1576.2,1797.4 1577.3,1799.4 1578.4,1799.4 1579.5,1799.5 1580.6,1798.8 1581.8,1798.2 1582.9,1800.1 1584.0,1799.2 1585.1,1799.6 1586.3,1799.8 1587.4,1799.6 1588.5,1797.2 1589.6,1797.3 1590.8,1797.6 1591.9,1800.7 1593.0,1798.7 1594.1,1796.6 1595.2,1798.6 1596.4,1799.8 1597.5,1798.4 1598.6,1799.3 1599.7,1799.4 1600.9,1798.8 1602.0,1798.6 1603.1,1799.2 1604.2,1799.1 1605.3,1800.1 1606.5,1799.1 1607.6,1798.3 1608.7,1798.9 1609.8,1799.2 1611.0,1800.5 1612.1,1797.9 1613.2,1800.2 1614.3,1798.4 1615.5,1799.4 1616.6,1798.2 1617.7,1798.0 1618.8,1799.4 1619.9,1802.1 1621.1,1801.1 1622.2,1800.0 1623.3,1800.0 1624.4,1798.7 1625.6,1797.1 1626.7,1798.4 1627.8,1799.2 1628.9,1797.7 1630.1,1799.2 1631.2,1798.2 1632.3,1798.7 1633.4,1801.0 1634.5,1798.1 1635.7,1797.3 1636.8,1799.4 1637.9,1798.3 1639.0,1798.5 1640.2,1799.3 1641.3,1799.4 1642.4,1798.0 1643.5,1799.7 1644.7,1799.6 1645.8,1798.2 1646.9,1798.1 1648.0,1797.5 1649.1,1799.6 1650.3,1800.4 1651.4,1797.9 1652.5,1800.6 1653.6,1799.4 1654.8,1799.2 1655.9,1797.3 1657.0,1799.0 1658.1,1800.2 1659.3,1799.1 1660.4,1797.7 1661.5,1800.8 1662.6,1800.3 1663.7,1798.0 1664.9,1798.9 1666.0,1800.0 1667.1,1799.2 1668.2,1799.0 1669.4,1800.2 1670.5,1799.6 1671.6,1797.6 1672.7,1798.7 1673.9,1797.9 1675.0,1799.1 1676.1,1799.6 1677.2,1798.7 1678.3,1800.0 1679.5,1798.7 1680.6,1799.3 1681.7,1799.3 1682.8,1799.3 1684.0,1800.0 1685.1,1797.7 1686.2,1800.6 1687.3,1798.8 1688.5,1800.3 1689.6,1798.2 1690.7,1799.3 1691.8,1798.9 1692.9,1798.6 1694.1,1798.7 1695.2,1798.9 1696.3,1798.7 1697.4,1798.7 1698.6,1799.6 1699.7,1799.4 1700.8,1799.3 1701.9,1799.8 1703.1,1799.7 1704.2,1797.8 1705.3,1800.6 1706.4,1797.4 1707.5,1799.7 1708.7,1798.5 1709.8,1799.1 1710.9,1799.3 1712.0,1798.6 1713.2,1797.5 1714.3,1799.3 1715.4,1799.2 1716.5,1799.7 1717.6,1797.2 1718.8,1798.0 1719.9,1798.1 1721.0,1799.2 1722.1,1801.1 1723.3,1798.8 1724.4,1801.0 1725.5,1799.9 1726.6,1798.3 1727.8,1799.9 1728.9,1800.0 1730.0,1801.4 1731.1,1798.6 1732.2,1798.9 1733.4,1799.8 1734.5,1799.0 1735.6,1801.0 1736.7,1800.3 1737.9,1799.2 1739.0,1798.5 1740.1,1799.5 1741.2,1800.7 1742.4,1799.9 1743.5,1798.4 1744.6,1800.1 1745.7,1799.2 1746.8,1799.1 1748.0,1800.1 1749.1,1799.5 1750.2,1801.3 1751.3,1800.2 1752.5,1799.6 1753.6,1799.0 1754.7,1798.3 1755.8,1800.1 1757.0,1799.2 1758.1,1799.8 1759.2,1800.5 1760.3,1800.5 1761.4,1799.8 1762.6,1799.8 1763.7,1800.5 1764.8,1797.1 1765.9,1799.9 1767.1,1799.2 1768.2,1800.1 1769.3,1797.1 1770.4,1802.1 1771.6,1800.3 1772.7,1799.8 1773.8,1798.8 1774.9,1800.1 1776.0,1801.5 1777.2,1797.8 1778.3,1799.1 1779.4,1800.5 1780.5,1800.5 1781.7,1800.6 1782.8,1800.0 1783.9,1802.8 1785.0,1800.1 1786.2,1801.3 1787.3,1799.9 1788.4,1800.4 1789.5,1802.8 1790.6,1799.6 1791.8,1801.0 1792.9,1803.9 1794.0,1804.6 1795.1,1804.6 1796.3,1803.5 1797.4,1802.5 1798.5,1806.1 1799.6,1806.2 1800.8,1804.5 1801.9,1805.5 1803.0,1805.6 1804.1,1805.8 1805.2,1806.3 1806.4,1803.3 1807.5,1804.6 1808.6,1806.6 1809.7,1804.4 1810.9,1803.5 1812.0,1805.7 1813.1,1806.0 1814.2,1807.2 1815.4,1806.3 1816.5,1806.2 1817.6,1804.5 1818.7,1807.8 1819.8,1808.7 1821.0,1806.9 1822.1,1805.4 1823.2,1808.7 1824.3,1805.8 1825.5,1806.5 1826.6,1806.7 1827.7,1804.6 1828.8,1802.9 1829.9,1806.4 1831.1,1803.9 1832.2,1804.3 1833.3,1802.9 1834.4,1803.7 1835.6,1804.5 1836.7,1802.1 1837.8,1802.6 1838.9,1804.6 1840.1,1805.9 1841.2,1803.8 1842.3,1802.3 1843.4,1801.4 1844.5,1803.2 1845.7,1802.8 1846.8,1804.8 1847.9,1802.7 1849.0,1801.7 1850.2,1802.6 1851.3,1801.8 1852.4,1803.0 1853.5,1802.8 1854.7,1801.0 1855.8,1803.6 1856.9,1801.2 1858.0,1799.4 1859.1,1802.0 1860.3,1801.8 1861.4,1802.3 1862.5,1802.9 1863.6,1801.8 1864.8,1802.8 1865.9,1801.2 1867.0,1801.6 1868.1,1802.4 1869.3,1800.7 1870.4,1799.2 1871.5,1799.5 1872.6,1801.1 1873.7,1800.6 1874.9,1802.1 1876.0,1800.9 1877.1,1799.5 1878.2,1799.3 1879.4,1798.4 1880.5,1802.6 1881.6,1798.0 1882.7,1799.7 1883.9,1797.9 1885.0,1800.2 1886.1,1798.3 1887.2,1800.1 1888.3,1801.5 1889.5,1799.4 1890.6,1800.5 1891.7,1799.8 1892.8,1798.8 1894.0,1798.4 1895.1,1798.4 1896.2,1797.8 1897.3,1801.4 1898.5,1797.2 1899.6,1799.9 1900.7,1798.1 1901.8,1798.4 1902.9,1798.9 1904.1,1795.3 1905.2,1797.4 1906.3,1796.0 1907.4,1792.2 1908.6,1796.8 1909.7,1795.1 1910.8,1790.3 1911.9,1791.2 1913.1,1788.0 1914.2,1787.4 1915.3,1786.2 1916.4,1782.4 1917.5,1782.4 1918.7,1780.2 1919.8,1777.1 1920.9,1777.4 1922.0,1776.5 1923.2,1775.4 1924.3,1770.2 1925.4,1767.4 1926.5,1767.4 1927.7,1769.4 1928.8,1768.9 1929.9,1769.9 1931.0,1769.2 1932.1,1768.8 1933.3,1771.7 1934.4,1773.1 1935.5,1779.1 1936.6,1775.3 1937.8,1779.1 1938.9,1779.4 1940.0,1780.3 1941.1,1782.4 1942.2,1783.1 1943.4,1783.4 1944.5,1790.1 1945.6,1789.9 1946.7,1786.1 1947.9,1788.7 1949.0,1791.3 1950.1,1791.4 1951.2,1791.7 1952.4,1790.8 1953.5,1793.4 1954.6,1793.4 1955.7,1795.7 1956.8,1791.8 1958.0,1793.5 1959.1,1794.9 1960.2,1796.3 1961.3,1794.4 1962.5,1793.1 1963.6,1791.0 1964.7,1791.7 1965.8,1795.1 1967.0,1795.2 1968.1,1796.1 1969.2,1794.0 1970.3,1795.9 1971.4,1793.9 1972.6,1794.3 1973.7,1794.2 1974.8,1796.3 1975.9,1793.2 1977.1,1795.2 1978.2,1796.8 1979.3,1795.0 1980.4,1794.7 1981.6,1794.9 1982.7,1793.6 1983.8,1793.3 1984.9,1791.7 1986.0,1795.2 1987.2,1793.3 1988.3,1799.0 1989.4,1792.4 1990.5,1795.2 1991.7,1793.3 1992.8,1795.6 1993.9,1794.4 1995.0,1794.3 1996.2,1796.2 1997.3,1796.2 1998.4,1799.6 1999.5,1794.5 2000.6,1795.6 2001.8,1795.7 2002.9,1793.6 2004.0,1794.9 2005.1,1795.1 2006.3,1798.3 2007.4,1795.3 2008.5,1796.0 2009.6,1794.1 2010.8,1796.3 2011.9,1797.4 2013.0,1796.0 2014.1,1792.9 2015.2,1797.0 2016.4,1793.8 2017.5,1796.0 2018.6,1798.8 2019.7,1794.8 2020.9,1792.2 2022.0,1795.1 2023.1,1797.4 2024.2,1796.1 2025.4,1797.2 2026.5,1791.6 2027.6,1795.0 2028.7,1799.4 2029.8,1794.7 2031.0,1795.3 2032.1,1797.5 2033.2,1796.9 2034.3,1796.1 2035.5,1793.4 2036.6,1796.8 2037.7,1797.2 2038.8,1794.6 2040.0,1797.0 2041.1,1797.7 2042.2,1796.3 2043.3,1794.9 2044.4,1795.9 2045.6,1796.7 2046.7,1794.0 2047.8,1794.1 2048.9,1798.6 2050.1,1798.0 2051.2,1797.6 2052.3,1796.6 2053.4,1796.1 2054.6,1796.4 2055.7,1796.2 2056.8,1795.7 2057.9,1798.3 2059.0,1799.7 2060.2,1796.0 2061.3,1794.6 2062.4,1796.2 2063.5,1797.1 2064.7,1795.7 2065.8,1797.0 2066.9,1798.5 2068.0,1797.2 2069.1,1795.5 2070.3,1796.2 2071.4,1795.7 2072.5,1797.5 2073.6,1795.9 2074.8,1794.6 2075.9,1797.3 2077.0,1797.6 2078.1,1795.0 2079.3,1796.7 2080.4,1798.6 2081.5,1797.6 2082.6,1795.0 2083.7,1796.4 2084.9,1794.2 2086.0,1796.1 2087.1,1796.7 2088.2,1795.5 2089.4,1798.0 2090.5,1795.6 2091.6,1797.3 2092.7,1797.6 2093.9,1796.7 2095.0,1798.0 2096.1,1799.0 2097.2,1798.7 2098.3,1796.6 2099.5,1797.0 2100.6,1797.3 2101.7,1796.4 2102.8,1798.9 2104.0,1798.2 2105.1,1795.2 2106.2,1799.0 2107.3,1795.8 2108.5,1798.1 2109.6,1796.9 2110.7,1797.4" fill="none" stroke="#0000d2" stroke-width="7.5" stroke-linejoin="round" stroke-linecap="round" />
</g>
<g font-family="'Liberation Sans', Arial, sans-serif" font-weight="bold" style="font-kerning:none">
<rect x="834.5" y="213.9" width="267.2" height="377.6" fill="#fff" stroke="#000" stroke-width="3.6"/>
<line x1="852.1" y1="255.9" x2="946.7" y2="255.9" stroke="#dd0000" stroke-width="6.0"/>
<g transform="translate(955.02,277.00) scale(1,1.0367)"><text font-size="51.88" fill="#dd0000">Tel22</text></g>
<line x1="852.1" y1="314.1" x2="946.7" y2="314.1" stroke="#0000d2" stroke-width="6.0"/>
<g transform="translate(955.02,335.10) scale(1,1.0367)"><text font-size="51.88" fill="#0000d2">1:1</text><g fill="#fff"><rect x="2.27" y="-6.29" width="9.84" height="7.29"/><rect x="19.23" y="-6.29" width="9.18" height="7.29"/><rect x="48.40" y="-6.29" width="9.84" height="7.29"/><rect x="65.35" y="-6.29" width="9.18" height="7.29"/></g></g>
<line x1="852.1" y1="372.2" x2="946.7" y2="372.2" stroke="#0a5a1c" stroke-width="6.0"/>
<g transform="translate(955.02,393.20) scale(1,1.0367)"><text font-size="51.88" fill="#0a5a1c">2:1</text><g fill="#fff"><rect x="48.40" y="-6.29" width="9.84" height="7.29"/><rect x="65.35" y="-6.29" width="9.18" height="7.29"/></g></g>
<line x1="852.1" y1="430.4" x2="946.7" y2="430.4" stroke="#000000" stroke-width="6.0"/>
<g transform="translate(955.02,451.30) scale(1,1.0367)"><text font-size="51.88" fill="#000000">4:1</text><g fill="#fff"><rect x="48.40" y="-6.29" width="9.84" height="7.29"/><rect x="65.35" y="-6.29" width="9.18" height="7.29"/></g></g>
<line x1="852.1" y1="488.5" x2="946.7" y2="488.5" stroke="#ee0a8c" stroke-width="6.0"/>
<g transform="translate(955.02,509.40) scale(1,1.0367)"><text font-size="51.88" fill="#ee0a8c">6:1</text><g fill="#fff"><rect x="48.40" y="-6.29" width="9.84" height="7.29"/><rect x="65.35" y="-6.29" width="9.18" height="7.29"/></g></g>
<line x1="852.1" y1="546.6" x2="946.7" y2="546.6" stroke="#0a5a1c" stroke-width="6.0"/>
<g transform="translate(955.02,567.50) scale(1,1.0367)"><text font-size="51.88" fill="#0a5a1c">8:1</text><g fill="#fff"><rect x="48.40" y="-6.29" width="9.84" height="7.29"/><rect x="65.35" y="-6.29" width="9.18" height="7.29"/></g></g>
<rect x="1739.8" y="206.8" width="341.1" height="322.3" fill="#fff" stroke="#000" stroke-width="3.6"/>
<line x1="1758.9" y1="249.7" x2="1852.7" y2="249.7" stroke="#dd0000" stroke-width="6.0"/>
<g transform="translate(1860.54,270.40) scale(1,1.0349)"><text font-size="52.67" fill="#dd0000">cMYC19</text><g fill="#fff"><rect x="148.65" y="-6.37" width="9.98" height="7.37"/><rect x="165.85" y="-6.37" width="9.31" height="7.37"/></g></g>
<line x1="1760.9" y1="308.2" x2="1851.7" y2="308.2" stroke="#0000d2" stroke-width="2"/>
<circle cx="1805.8" cy="308.2" r="2.6" fill="#0000d2"/>
<g transform="translate(1860.54,329.10) scale(1,1.0349)"><text font-size="52.67" fill="#0000d2">2:1</text><g fill="#fff"><rect x="49.15" y="-6.37" width="9.98" height="7.37"/><rect x="66.35" y="-6.37" width="9.31" height="7.37"/></g></g>
<line x1="1760.9" y1="366.7" x2="1851.7" y2="366.7" stroke="#0a5a1c" stroke-width="2"/>
<circle cx="1805.8" cy="366.7" r="2.6" fill="#0a5a1c"/>
<g transform="translate(1860.54,387.80) scale(1,1.0349)"><text font-size="52.67" fill="#0a5a1c">4:1</text><g fill="#fff"><rect x="49.15" y="-6.37" width="9.98" height="7.37"/><rect x="66.35" y="-6.37" width="9.31" height="7.37"/></g></g>
<line x1="1760.9" y1="425.2" x2="1851.7" y2="425.2" stroke="#000000" stroke-width="2"/>
<circle cx="1805.8" cy="425.2" r="2.6" fill="#000000"/>
<g transform="translate(1860.54,446.50) scale(1,1.0349)"><text font-size="52.67" fill="#000000">6:1</text><g fill="#fff"><rect x="49.15" y="-6.37" width="9.98" height="7.37"/><rect x="66.35" y="-6.37" width="9.31" height="7.37"/></g></g>
<line x1="1760.9" y1="483.7" x2="1851.7" y2="483.7" stroke="#ee0a8c" stroke-width="2"/>
<circle cx="1805.8" cy="483.7" r="2.6" fill="#ee0a8c"/>
<g transform="translate(1860.54,505.20) scale(1,1.0349)"><text font-size="52.67" fill="#ee0a8c">8:1</text><g fill="#fff"><rect x="49.15" y="-6.37" width="9.98" height="7.37"/><rect x="66.35" y="-6.37" width="9.31" height="7.37"/></g></g>
<rect x="598.2" y="1243.2" width="267.6" height="494.6" fill="#fff" stroke="#000" stroke-width="3.6"/>
<line x1="615.8" y1="1283.3" x2="711.0" y2="1283.3" stroke="#dd0000" stroke-width="6.0"/>
<g transform="translate(719.32,1304.50) scale(1,1.0157)"><text font-size="51.52" fill="#dd0000">Tel22</text></g>
<line x1="615.8" y1="1341.7" x2="711.0" y2="1341.7" stroke="#0000d2" stroke-width="6.0"/>
<g transform="translate(719.32,1362.90) scale(1,1.0157)"><text font-size="51.52" fill="#0000d2">1:1</text><g fill="#fff"><rect x="2.25" y="-6.26" width="9.78" height="7.26"/><rect x="19.09" y="-6.26" width="9.13" height="7.26"/><rect x="48.05" y="-6.26" width="9.78" height="7.26"/><rect x="64.90" y="-6.26" width="9.13" height="7.26"/></g></g>
<line x1="615.8" y1="1400.1" x2="711.0" y2="1400.1" stroke="#0a5a1c" stroke-width="6.0"/>
<g transform="translate(719.32,1421.30) scale(1,1.0157)"><text font-size="51.52" fill="#0a5a1c">2:1</text><g fill="#fff"><rect x="48.05" y="-6.26" width="9.78" height="7.26"/><rect x="64.90" y="-6.26" width="9.13" height="7.26"/></g></g>
<line x1="615.8" y1="1458.5" x2="711.0" y2="1458.5" stroke="#000000" stroke-width="6.0"/>
<g transform="translate(719.32,1479.70) scale(1,1.0157)"><text font-size="51.52" fill="#000000">3:1</text><g fill="#fff"><rect x="48.05" y="-6.26" width="9.78" height="7.26"/><rect x="64.90" y="-6.26" width="9.13" height="7.26"/></g></g>
<line x1="615.8" y1="1516.9" x2="711.0" y2="1516.9" stroke="#55aefa" stroke-width="6.0"/>
<g transform="translate(719.32,1538.10) scale(1,1.0157)"><text font-size="51.52" fill="#55aefa">4:1</text><g fill="#fff"><rect x="48.05" y="-6.26" width="9.78" height="7.26"/><rect x="64.90" y="-6.26" width="9.13" height="7.26"/></g></g>
<line x1="615.8" y1="1575.3" x2="711.0" y2="1575.3" stroke="#dc1450" stroke-width="6.0"/>
<g transform="translate(719.32,1596.50) scale(1,1.0157)"><text font-size="51.52" fill="#dc1450">6:1</text><g fill="#fff"><rect x="48.05" y="-6.26" width="9.78" height="7.26"/><rect x="64.90" y="-6.26" width="9.13" height="7.26"/></g></g>
<line x1="615.8" y1="1633.8" x2="711.0" y2="1633.8" stroke="#0000d2" stroke-width="6.0"/>
<g transform="translate(719.32,1654.90) scale(1,1.0157)"><text font-size="51.52" fill="#0000d2">8:1</text><g fill="#fff"><rect x="48.05" y="-6.26" width="9.78" height="7.26"/><rect x="64.90" y="-6.26" width="9.13" height="7.26"/></g></g>
<line x1="615.8" y1="1692.2" x2="711.0" y2="1692.2" stroke="#ee6410" stroke-width="6.0"/>
<g transform="translate(719.32,1713.30) scale(1,1.0157)"><text font-size="51.52" fill="#ee6410">9:1</text><g fill="#fff"><rect x="48.05" y="-6.26" width="9.78" height="7.26"/><rect x="64.90" y="-6.26" width="9.13" height="7.26"/></g></g>
<rect x="1754.8" y="1238.0" width="339.2" height="379.9" fill="#fff" stroke="#000" stroke-width="3.6"/>
<line x1="1773.1" y1="1279.7" x2="1867.7" y2="1279.7" stroke="#dd0000" stroke-width="6.0"/>
<g transform="translate(1875.65,1301.40) scale(1,1.0328)"><text font-size="52.35" fill="#dd0000">cMYC19</text><g fill="#fff"><rect x="147.75" y="-6.34" width="9.92" height="7.34"/><rect x="164.86" y="-6.34" width="9.26" height="7.34"/></g></g>
<line x1="1773.1" y1="1338.2" x2="1867.7" y2="1338.2" stroke="#0000d2" stroke-width="6.0"/>
<g transform="translate(1875.65,1359.80) scale(1,1.0328)"><text font-size="52.35" fill="#0000d2">1:1</text><g fill="#fff"><rect x="2.30" y="-6.34" width="9.92" height="7.34"/><rect x="19.40" y="-6.34" width="9.26" height="7.34"/><rect x="48.85" y="-6.34" width="9.92" height="7.34"/><rect x="65.95" y="-6.34" width="9.26" height="7.34"/></g></g>
<line x1="1773.1" y1="1396.6" x2="1867.7" y2="1396.6" stroke="#0a5a1c" stroke-width="6.0"/>
<g transform="translate(1875.65,1418.20) scale(1,1.0328)"><text font-size="52.35" fill="#0a5a1c">2:1</text><g fill="#fff"><rect x="48.85" y="-6.34" width="9.92" height="7.34"/><rect x="65.95" y="-6.34" width="9.26" height="7.34"/></g></g>
<line x1="1773.1" y1="1455.1" x2="1867.7" y2="1455.1" stroke="#000000" stroke-width="6.0"/>
<g transform="translate(1875.65,1476.60) scale(1,1.0328)"><text font-size="52.35" fill="#000000">4:1</text><g fill="#fff"><rect x="48.85" y="-6.34" width="9.92" height="7.34"/><rect x="65.95" y="-6.34" width="9.26" height="7.34"/></g></g>
<line x1="1773.1" y1="1513.5" x2="1867.7" y2="1513.5" stroke="#ee0a8c" stroke-width="6.0"/>
<g transform="translate(1875.65,1535.00) scale(1,1.0328)"><text font-size="52.35" fill="#ee0a8c">6:1</text><g fill="#fff"><rect x="48.85" y="-6.34" width="9.92" height="7.34"/><rect x="65.95" y="-6.34" width="9.26" height="7.34"/></g></g>
<line x1="1773.1" y1="1572.0" x2="1867.7" y2="1572.0" stroke="#0000d2" stroke-width="6.0"/>
<g transform="translate(1875.65,1593.40) scale(1,1.0328)"><text font-size="52.35" fill="#0000d2">8:1</text><g fill="#fff"><rect x="48.85" y="-6.34" width="9.92" height="7.34"/><rect x="65.95" y="-6.34" width="9.26" height="7.34"/></g></g>
<g transform="translate(5.60,88.90) scale(1,1.0420)"><text font-size="112.72" fill="#000">a</text></g>
<g transform="translate(28.69,1118.70) scale(1,0.9542)"><text font-size="110.93" fill="#000">b</text></g>
<g transform="translate(495.32,152.80) scale(1,1.0321)"><text font-size="77.17" fill="#000">24 - Tel22</text></g>
<g transform="translate(1388.29,160.00) scale(1,1.0124)"><text font-size="78.25" fill="#000">24 - cMYC19</text><g fill="#fff"><rect x="377.91" y="-8.99" width="14.33" height="9.99"/><rect x="402.98" y="-8.99" width="13.34" height="9.99"/></g></g>
<g transform="translate(476.02,1206.10) scale(1,1.0346)"><text font-size="77.55" fill="#000">31 - Tel22</text><g fill="#fff"><rect x="47.01" y="-8.91" width="14.22" height="9.91"/><rect x="71.87" y="-8.91" width="13.23" height="9.91"/></g></g>
<g transform="translate(1375.21,1209.60) scale(1,1.0455)"><text font-size="77.85" fill="#000">31 - cMYC19</text><g fill="#fff"><rect x="47.20" y="-8.94" width="14.27" height="9.94"/><rect x="72.15" y="-8.94" width="13.28" height="9.94"/><rect x="375.98" y="-8.94" width="14.27" height="9.94"/><rect x="400.93" y="-8.94" width="13.28" height="9.94"/></g></g>
<g transform="translate(149.32,853.40) scale(1,1.0600)"><text font-size="61.50" fill="#000">0</text></g>
<g transform="translate(115.12,696.00) scale(1,1.0600)"><text font-size="61.50" fill="#000">10</text><g fill="#fff"><rect x="2.87" y="-7.28" width="11.48" height="8.28"/><rect x="22.79" y="-7.28" width="10.70" height="8.28"/></g></g>
<g transform="translate(115.12,538.60) scale(1,1.0600)"><text font-size="61.50" fill="#000">20</text></g>
<g transform="translate(115.12,381.20) scale(1,1.0600)"><text font-size="61.50" fill="#000">30</text></g>
<g transform="translate(115.12,223.80) scale(1,1.0600)"><text font-size="61.50" fill="#000">40</text></g>
<g transform="translate(94.64,1942.80) scale(1,1.0800)"><text font-size="61.50" fill="#000">-10</text><g fill="#fff"><rect x="23.35" y="-7.28" width="11.48" height="8.28"/><rect x="43.27" y="-7.28" width="10.70" height="8.28"/></g></g>
<g transform="translate(149.32,1819.50) scale(1,1.0800)"><text font-size="61.50" fill="#000">0</text></g>
<g transform="translate(115.12,1696.20) scale(1,1.0800)"><text font-size="61.50" fill="#000">10</text><g fill="#fff"><rect x="2.87" y="-7.28" width="11.48" height="8.28"/><rect x="22.79" y="-7.28" width="10.70" height="8.28"/></g></g>
<g transform="translate(115.12,1572.90) scale(1,1.0800)"><text font-size="61.50" fill="#000">20</text></g>
<g transform="translate(115.12,1449.60) scale(1,1.0800)"><text font-size="61.50" fill="#000">30</text></g>
<g transform="translate(115.12,1326.30) scale(1,1.0800)"><text font-size="61.50" fill="#000">40</text></g>
<g transform="translate(115.12,1203.00) scale(1,1.0800)"><text font-size="61.50" fill="#000">50</text></g>
<g transform="translate(301.10,2091.47) scale(1,1.0376)"><text font-size="61.80" fill="#000">300</text></g>
<g transform="translate(525.64,2091.47) scale(1,1.0376)"><text font-size="61.80" fill="#000">400</text></g>
<g transform="translate(749.46,2091.47) scale(1,1.0376)"><text font-size="61.80" fill="#000">500</text></g>
<g transform="translate(973.58,2091.47) scale(1,1.0376)"><text font-size="61.80" fill="#000">600</text></g>
<g transform="translate(1273.60,2087.87) scale(1,1.0237)"><text font-size="61.80" fill="#000">300</text></g>
<g transform="translate(1498.44,2087.87) scale(1,1.0237)"><text font-size="61.80" fill="#000">400</text></g>
<g transform="translate(1722.56,2087.87) scale(1,1.0237)"><text font-size="61.80" fill="#000">500</text></g>
<g transform="translate(1946.98,2087.87) scale(1,1.0237)"><text font-size="61.80" fill="#000">600</text></g>
<g transform="translate(417.54,2146.30) scale(1,1.0089)"><text font-size="62.52" fill="#000">Wavelength (nm)</text></g>
<g transform="translate(1382.74,2140.90) scale(1,1.0042)"><text font-size="62.67" fill="#000">Wavelength (nm)</text></g>
<text transform="translate(91.10,0) rotate(-90) translate(-645.50,0) scale(1,1.0509)" font-size="60.86" fill="#000">CD (mDeg)</text>
<text transform="translate(82.80,0) rotate(-90) translate(-1732.38,0) scale(1,1.0676)" font-size="60.58" fill="#000">CD (mDeg)</text>
</g>
</svg></body></html>
